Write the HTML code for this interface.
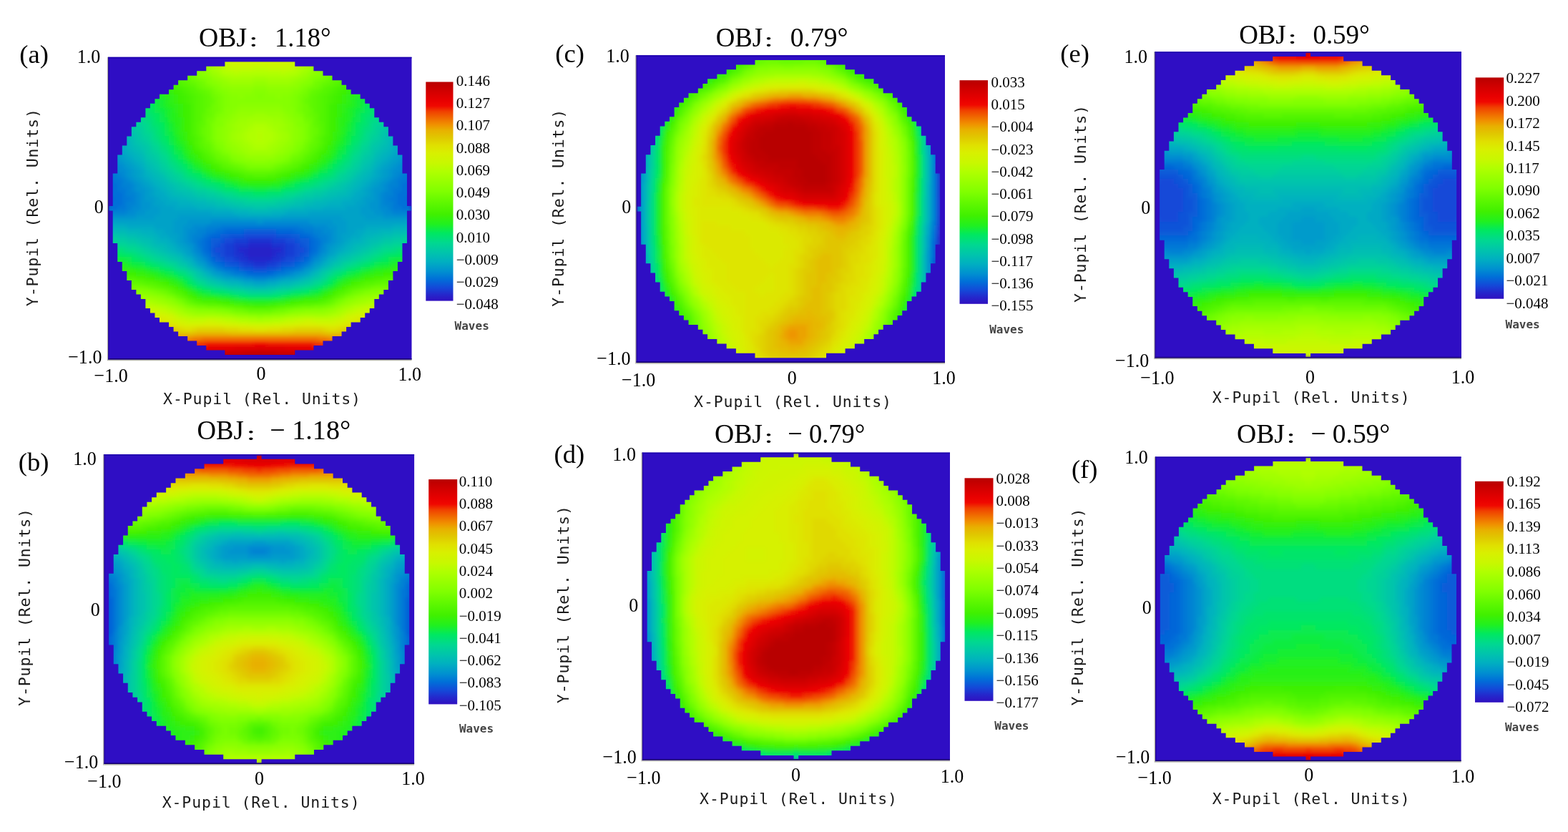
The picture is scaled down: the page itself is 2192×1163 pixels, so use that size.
<!DOCTYPE html><html><head><meta charset="utf-8"><style>html,body{margin:0;padding:0;background:#fff;}svg{display:block}</style></head><body>
<svg width="2192" height="1163" viewBox="0 0 2192 1163">
<defs><linearGradient id="cbg" x1="0" y1="0" x2="0" y2="1"><stop offset="0.000" stop-color="#b80000"/><stop offset="0.040" stop-color="#d00000"/><stop offset="0.085" stop-color="#e80000"/><stop offset="0.110" stop-color="#f00800"/><stop offset="0.135" stop-color="#f04000"/><stop offset="0.170" stop-color="#f07000"/><stop offset="0.195" stop-color="#f09000"/><stop offset="0.220" stop-color="#e8b000"/><stop offset="0.255" stop-color="#e0c800"/><stop offset="0.290" stop-color="#e0e000"/><stop offset="0.325" stop-color="#d8f000"/><stop offset="0.370" stop-color="#c8f800"/><stop offset="0.410" stop-color="#b0ff00"/><stop offset="0.455" stop-color="#98ff00"/><stop offset="0.500" stop-color="#80ff00"/><stop offset="0.550" stop-color="#60f800"/><stop offset="0.605" stop-color="#40f000"/><stop offset="0.650" stop-color="#20f020"/><stop offset="0.690" stop-color="#00e860"/><stop offset="0.735" stop-color="#00d890"/><stop offset="0.780" stop-color="#00c4ac"/><stop offset="0.820" stop-color="#00b0c0"/><stop offset="0.865" stop-color="#0090d0"/><stop offset="0.900" stop-color="#0070d8"/><stop offset="0.940" stop-color="#1448d8"/><stop offset="0.970" stop-color="#2428cc"/><stop offset="1.000" stop-color="#3010c0"/></linearGradient><filter id="bl" x="-5%" y="-5%" width="110%" height="110%"><feGaussianBlur stdDeviation="0.42"/></filter></defs>
<rect width="2192" height="1163" fill="#fff"/>
<g transform="translate(151.2,79.8) scale(6.52769,6.50462)">
<rect width="65" height="65" fill="#2f0ec4"/>
<clipPath id="cpa"><path d="M25 1H40V2H25zM21 2H44V3H21zM19 3H46V4H19zM17 4H48V5H17zM15 5H50V6H15zM14 6H51V7H14zM13 7H52V8H13zM11 8H54V9H11zM10 9H55V10H10zM9 10H56V11H9zM8 11H57V12H8zM8 12H57V13H8zM7 13H58V14H7zM6 14H59V15H6zM5 15H60V16H5zM5 16H60V17H5zM4 17H61V18H4zM4 18H61V19H4zM3 19H62V20H3zM3 20H62V21H3zM2 21H63V22H2zM2 22H63V23H2zM2 23H63V24H2zM2 24H63V25H2zM1 25H64V26H1zM1 26H64V27H1zM1 27H64V28H1zM1 28H64V29H1zM1 29H64V30H1zM1 30H64V31H1zM1 31H64V32H1zM0 32H65V33H0zM1 33H64V34H1zM1 34H64V35H1zM1 35H64V36H1zM1 36H64V37H1zM1 37H64V38H1zM1 38H64V39H1zM1 39H64V40H1zM2 40H63V41H2zM2 41H63V42H2zM2 42H63V43H2zM2 43H63V44H2zM3 44H62V45H3zM3 45H62V46H3zM4 46H61V47H4zM4 47H61V48H4zM5 48H60V49H5zM5 49H60V50H5zM6 50H59V51H6zM7 51H58V52H7zM8 52H57V53H8zM8 53H57V54H8zM9 54H56V55H9zM10 55H55V56H10zM11 56H54V57H11zM13 57H52V58H13zM14 58H51V59H14zM15 59H50V60H15zM17 60H48V61H17zM19 61H46V62H19zM21 62H44V63H21zM25 63H40V64H25z"/></clipPath>
<g clip-path="url(#cpa)"><g filter="url(#bl)" shape-rendering="crispEdges">
<path fill="#2820c8" d="M30 41h5v1h-5zM30 42h5v1h-5z"/>
<path fill="#2428cc" d="M30 40h5v1h-5zM28 41h2v1h-2zM35 41h2v1h-2zM29 42h1v1h-1zM35 42h1v1h-1zM30 43h5v1h-5z"/>
<path fill="#1f33d0" d="M30 39h5v1h-5zM27 40h3v1h-3zM35 40h3v1h-3zM27 41h1v1h-1zM37 41h1v1h-1zM27 42h2v1h-2zM36 42h2v1h-2zM28 43h2v1h-2zM35 43h2v1h-2zM31 44h3v1h-3z"/>
<path fill="#193dd4" d="M27 39h3v1h-3zM35 39h3v1h-3zM25 40h2v1h-2zM38 40h2v1h-2zM25 41h2v1h-2zM38 41h2v1h-2zM25 42h2v1h-2zM38 42h2v1h-2zM27 43h1v1h-1zM37 43h1v1h-1zM29 44h2v1h-2zM34 44h2v1h-2z"/>
<path fill="#1448d8" d="M29 38h7v1h-7zM25 39h2v1h-2zM38 39h2v1h-2zM24 40h1v1h-1zM40 40h1v1h-1zM23 41h2v1h-2zM40 41h2v1h-2zM24 42h1v1h-1zM40 42h1v1h-1zM25 43h2v1h-2zM38 43h2v1h-2zM28 44h1v1h-1zM36 44h1v1h-1zM31 45h3v1h-3z"/>
<path fill="#0f52d8" d="M26 38h3v1h-3zM36 38h3v1h-3zM24 39h1v1h-1zM40 39h1v1h-1zM23 40h1v1h-1zM41 40h1v1h-1zM22 41h1v1h-1zM42 41h1v1h-1zM23 42h1v1h-1zM41 42h1v1h-1zM24 43h1v1h-1zM40 43h1v1h-1zM26 44h2v1h-2zM37 44h2v1h-2zM29 45h2v1h-2zM34 45h2v1h-2z"/>
<path fill="#0a5cd8" d="M29 37h7v1h-7zM24 38h2v1h-2zM39 38h2v1h-2zM22 39h2v1h-2zM41 39h2v1h-2zM22 40h1v1h-1zM42 40h1v1h-1zM22 42h1v1h-1zM42 42h1v1h-1zM23 43h1v1h-1zM41 43h1v1h-1zM25 44h1v1h-1zM39 44h1v1h-1zM28 45h1v1h-1zM36 45h1v1h-1z"/>
<path fill="#0566d8" d="M0 30h1v1h-1zM64 30h1v1h-1zM25 37h4v1h-4zM36 37h4v1h-4zM22 38h2v1h-2zM41 38h2v1h-2zM21 39h1v1h-1zM43 39h1v1h-1zM21 40h1v1h-1zM43 40h1v1h-1zM21 41h1v1h-1zM43 41h1v1h-1zM22 43h1v1h-1zM42 43h1v1h-1zM24 44h1v1h-1zM40 44h1v1h-1zM27 45h1v1h-1zM37 45h1v1h-1zM30 46h5v1h-5z"/>
<path fill="#0070d8" d="M0 26h1v1h-1zM64 26h1v1h-1zM0 27h2v1h-2zM63 27h2v1h-2zM0 28h2v1h-2zM63 28h2v1h-2zM0 29h3v1h-3zM62 29h3v1h-3zM1 30h2v1h-2zM62 30h2v1h-2zM0 31h3v1h-3zM62 31h3v1h-3zM0 32h2v1h-2zM63 32h2v1h-2zM23 37h2v1h-2zM40 37h2v1h-2zM21 38h1v1h-1zM43 38h1v1h-1zM20 39h1v1h-1zM44 39h1v1h-1zM20 40h1v1h-1zM44 40h1v1h-1zM20 41h1v1h-1zM44 41h1v1h-1zM21 42h1v1h-1zM43 42h1v1h-1zM23 44h1v1h-1zM41 44h1v1h-1zM25 45h2v1h-2zM38 45h2v1h-2zM29 46h1v1h-1zM35 46h1v1h-1z"/>
<path fill="#0079d6" d="M0 24h1v1h-1zM64 24h1v1h-1zM0 25h2v1h-2zM63 25h2v1h-2zM1 26h2v1h-2zM62 26h2v1h-2zM2 27h1v1h-1zM62 27h1v1h-1zM2 28h2v1h-2zM61 28h2v1h-2zM3 29h1v1h-1zM61 29h1v1h-1zM3 30h2v1h-2zM60 30h2v1h-2zM3 31h1v1h-1zM61 31h1v1h-1zM2 32h2v1h-2zM61 32h2v1h-2zM24 36h17v1h-17zM21 37h2v1h-2zM42 37h2v1h-2zM20 38h1v1h-1zM44 38h1v1h-1zM19 39h1v1h-1zM45 39h1v1h-1zM19 40h1v1h-1zM45 40h1v1h-1zM20 42h1v1h-1zM44 42h1v1h-1zM21 43h1v1h-1zM43 43h1v1h-1zM22 44h1v1h-1zM42 44h1v1h-1zM24 45h1v1h-1zM40 45h1v1h-1zM27 46h2v1h-2zM36 46h2v1h-2z"/>
<path fill="#0082d3" d="M0 23h1v1h-1zM64 23h1v1h-1zM1 24h1v1h-1zM63 24h1v1h-1zM2 25h1v1h-1zM62 25h1v1h-1zM3 26h1v1h-1zM61 26h1v1h-1zM3 27h2v1h-2zM60 27h2v1h-2zM4 28h1v1h-1zM60 28h1v1h-1zM4 29h2v1h-2zM59 29h2v1h-2zM5 30h1v1h-1zM59 30h1v1h-1zM4 31h2v1h-2zM59 31h2v1h-2zM4 32h1v1h-1zM60 32h1v1h-1zM0 33h4v1h-4zM61 33h4v1h-4zM21 36h3v1h-3zM41 36h3v1h-3zM19 37h2v1h-2zM44 37h2v1h-2zM18 38h2v1h-2zM45 38h2v1h-2zM18 39h1v1h-1zM46 39h1v1h-1zM19 41h1v1h-1zM45 41h1v1h-1zM23 45h1v1h-1zM41 45h1v1h-1zM26 46h1v1h-1zM38 46h1v1h-1zM31 47h3v1h-3z"/>
<path fill="#008bd1" d="M0 21h1v1h-1zM64 21h1v1h-1zM0 22h2v1h-2zM63 22h2v1h-2zM1 23h2v1h-2zM62 23h2v1h-2zM2 24h2v1h-2zM61 24h2v1h-2zM3 25h1v1h-1zM61 25h1v1h-1zM4 26h1v1h-1zM60 26h1v1h-1zM5 27h1v1h-1zM59 27h1v1h-1zM5 28h1v1h-1zM59 28h1v1h-1zM6 29h1v1h-1zM58 29h1v1h-1zM6 30h1v1h-1zM58 30h1v1h-1zM6 31h1v1h-1zM58 31h1v1h-1zM5 32h2v1h-2zM58 32h2v1h-2zM4 33h2v1h-2zM59 33h2v1h-2zM22 35h10v1h-10zM33 35h10v1h-10zM18 36h3v1h-3zM44 36h3v1h-3zM17 37h2v1h-2zM46 37h2v1h-2zM17 38h1v1h-1zM47 38h1v1h-1zM17 39h1v1h-1zM47 39h1v1h-1zM18 40h1v1h-1zM46 40h1v1h-1zM18 41h1v1h-1zM46 41h1v1h-1zM19 42h1v1h-1zM45 42h1v1h-1zM20 43h1v1h-1zM44 43h1v1h-1zM21 44h1v1h-1zM43 44h1v1h-1zM25 46h1v1h-1zM39 46h1v1h-1zM29 47h2v1h-2zM34 47h2v1h-2z"/>
<path fill="#0094ce" d="M1 21h1v1h-1zM63 21h1v1h-1zM2 22h1v1h-1zM62 22h1v1h-1zM3 23h1v1h-1zM61 23h1v1h-1zM4 24h1v1h-1zM60 24h1v1h-1zM4 25h1v1h-1zM60 25h1v1h-1zM5 26h1v1h-1zM59 26h1v1h-1zM6 27h1v1h-1zM58 27h1v1h-1zM6 28h2v1h-2zM57 28h2v1h-2zM7 29h1v1h-1zM57 29h1v1h-1zM7 30h1v1h-1zM57 30h1v1h-1zM7 31h2v1h-2zM56 31h2v1h-2zM7 32h2v1h-2zM56 32h2v1h-2zM6 33h2v1h-2zM57 33h2v1h-2zM0 34h6v1h-6zM59 34h6v1h-6zM17 35h5v1h-5zM32 35h1v1h-1zM43 35h5v1h-5zM16 36h2v1h-2zM47 36h2v1h-2zM16 37h1v1h-1zM48 37h1v1h-1zM16 38h1v1h-1zM48 38h1v1h-1zM16 39h1v1h-1zM48 39h1v1h-1zM17 40h1v1h-1zM47 40h1v1h-1zM18 42h1v1h-1zM46 42h1v1h-1zM19 43h1v1h-1zM45 43h1v1h-1zM22 45h1v1h-1zM42 45h1v1h-1zM24 46h1v1h-1zM40 46h1v1h-1zM28 47h1v1h-1zM36 47h1v1h-1z"/>
<path fill="#009bcb" d="M1 20h1v1h-1zM63 20h1v1h-1zM2 21h1v1h-1zM62 21h1v1h-1zM3 22h1v1h-1zM61 22h1v1h-1zM4 23h1v1h-1zM60 23h1v1h-1zM5 24h1v1h-1zM59 24h1v1h-1zM5 25h1v1h-1zM59 25h1v1h-1zM6 26h1v1h-1zM58 26h1v1h-1zM7 27h1v1h-1zM57 27h1v1h-1zM8 28h1v1h-1zM56 28h1v1h-1zM8 29h1v1h-1zM56 29h1v1h-1zM8 30h2v1h-2zM55 30h2v1h-2zM9 31h1v1h-1zM55 31h1v1h-1zM9 32h2v1h-2zM54 32h2v1h-2zM8 33h3v1h-3zM54 33h3v1h-3zM6 34h4v1h-4zM15 34h13v1h-13zM37 34h13v1h-13zM55 34h4v1h-4zM14 35h3v1h-3zM48 35h3v1h-3zM14 36h2v1h-2zM49 36h2v1h-2zM14 37h2v1h-2zM49 37h2v1h-2zM15 38h1v1h-1zM49 38h1v1h-1zM15 39h1v1h-1zM49 39h1v1h-1zM16 40h1v1h-1zM48 40h1v1h-1zM17 41h1v1h-1zM47 41h1v1h-1zM20 44h1v1h-1zM44 44h1v1h-1zM21 45h1v1h-1zM43 45h1v1h-1zM23 46h1v1h-1zM41 46h1v1h-1zM27 47h1v1h-1zM37 47h1v1h-1z"/>
<path fill="#00a2c7" d="M1 19h1v1h-1zM63 19h1v1h-1zM2 20h1v1h-1zM62 20h1v1h-1zM3 21h1v1h-1zM61 21h1v1h-1zM4 22h1v1h-1zM60 22h1v1h-1zM5 23h1v1h-1zM59 23h1v1h-1zM6 24h1v1h-1zM58 24h1v1h-1zM6 25h1v1h-1zM58 25h1v1h-1zM7 26h1v1h-1zM57 26h1v1h-1zM8 27h1v1h-1zM56 27h1v1h-1zM9 28h1v1h-1zM55 28h1v1h-1zM9 29h1v1h-1zM55 29h1v1h-1zM10 30h1v1h-1zM54 30h1v1h-1zM10 31h2v1h-2zM53 31h2v1h-2zM11 32h3v1h-3zM51 32h3v1h-3zM11 33h11v1h-11zM43 33h11v1h-11zM10 34h5v1h-5zM28 34h9v1h-9zM50 34h5v1h-5zM0 35h14v1h-14zM51 35h14v1h-14zM10 36h4v1h-4zM51 36h4v1h-4zM12 37h2v1h-2zM51 37h2v1h-2zM13 38h2v1h-2zM50 38h2v1h-2zM14 39h1v1h-1zM50 39h1v1h-1zM15 40h1v1h-1zM49 40h1v1h-1zM16 41h1v1h-1zM48 41h1v1h-1zM17 42h1v1h-1zM47 42h1v1h-1zM18 43h1v1h-1zM46 43h1v1h-1zM19 44h1v1h-1zM45 44h1v1h-1zM22 46h1v1h-1zM42 46h1v1h-1zM25 47h2v1h-2zM38 47h2v1h-2zM31 48h3v1h-3z"/>
<path fill="#00a9c4" d="M2 18h1v1h-1zM62 18h1v1h-1zM2 19h2v1h-2zM61 19h2v1h-2zM3 20h1v1h-1zM61 20h1v1h-1zM4 21h1v1h-1zM60 21h1v1h-1zM5 22h1v1h-1zM59 22h1v1h-1zM6 23h1v1h-1zM58 23h1v1h-1zM7 24h1v1h-1zM57 24h1v1h-1zM7 25h1v1h-1zM57 25h1v1h-1zM8 26h1v1h-1zM56 26h1v1h-1zM9 27h1v1h-1zM55 27h1v1h-1zM10 28h1v1h-1zM54 28h1v1h-1zM10 29h2v1h-2zM53 29h2v1h-2zM11 30h2v1h-2zM52 30h2v1h-2zM12 31h3v1h-3zM50 31h3v1h-3zM14 32h5v1h-5zM46 32h5v1h-5zM22 33h5v1h-5zM38 33h5v1h-5zM4 36h6v1h-6zM55 36h6v1h-6zM10 37h2v1h-2zM53 37h2v1h-2zM11 38h2v1h-2zM52 38h2v1h-2zM13 39h1v1h-1zM51 39h1v1h-1zM14 40h1v1h-1zM50 40h1v1h-1zM15 41h1v1h-1zM49 41h1v1h-1zM16 42h1v1h-1zM48 42h1v1h-1zM20 45h1v1h-1zM44 45h1v1h-1zM24 47h1v1h-1zM40 47h1v1h-1zM29 48h2v1h-2zM34 48h2v1h-2z"/>
<path fill="#00b0c0" d="M2 17h1v1h-1zM62 17h1v1h-1zM3 18h1v1h-1zM61 18h1v1h-1zM4 20h1v1h-1zM60 20h1v1h-1zM5 21h1v1h-1zM59 21h1v1h-1zM6 22h1v1h-1zM58 22h1v1h-1zM7 23h1v1h-1zM57 23h1v1h-1zM8 25h1v1h-1zM56 25h1v1h-1zM9 26h1v1h-1zM55 26h1v1h-1zM10 27h1v1h-1zM54 27h1v1h-1zM11 28h1v1h-1zM53 28h1v1h-1zM12 29h1v1h-1zM52 29h1v1h-1zM13 30h2v1h-2zM50 30h2v1h-2zM15 31h3v1h-3zM47 31h3v1h-3zM19 32h4v1h-4zM42 32h4v1h-4zM27 33h3v1h-3zM35 33h3v1h-3zM0 36h4v1h-4zM61 36h4v1h-4zM7 37h3v1h-3zM55 37h3v1h-3zM10 38h1v1h-1zM54 38h1v1h-1zM11 39h2v1h-2zM52 39h2v1h-2zM13 40h1v1h-1zM51 40h1v1h-1zM14 41h1v1h-1zM50 41h1v1h-1zM17 43h1v1h-1zM47 43h1v1h-1zM18 44h1v1h-1zM46 44h1v1h-1zM21 46h1v1h-1zM43 46h1v1h-1zM23 47h1v1h-1zM41 47h1v1h-1zM28 48h1v1h-1zM36 48h1v1h-1z"/>
<path fill="#00b5bb" d="M3 17h1v1h-1zM61 17h1v1h-1zM4 18h1v1h-1zM60 18h1v1h-1zM4 19h1v1h-1zM60 19h1v1h-1zM5 20h1v1h-1zM59 20h1v1h-1zM6 21h1v1h-1zM58 21h1v1h-1zM7 22h1v1h-1zM57 22h1v1h-1zM8 24h1v1h-1zM56 24h1v1h-1zM9 25h1v1h-1zM55 25h1v1h-1zM10 26h1v1h-1zM54 26h1v1h-1zM11 27h1v1h-1zM53 27h1v1h-1zM12 28h1v1h-1zM52 28h1v1h-1zM13 29h1v1h-1zM51 29h1v1h-1zM15 30h2v1h-2zM48 30h2v1h-2zM18 31h3v1h-3zM44 31h3v1h-3zM23 32h3v1h-3zM39 32h3v1h-3zM30 33h5v1h-5zM4 37h3v1h-3zM58 37h3v1h-3zM8 38h2v1h-2zM55 38h2v1h-2zM10 39h1v1h-1zM54 39h1v1h-1zM12 40h1v1h-1zM52 40h1v1h-1zM13 41h1v1h-1zM51 41h1v1h-1zM15 42h1v1h-1zM49 42h1v1h-1zM16 43h1v1h-1zM48 43h1v1h-1zM19 45h1v1h-1zM45 45h1v1h-1zM26 48h2v1h-2zM37 48h2v1h-2z"/>
<path fill="#00bab6" d="M3 16h1v1h-1zM61 16h1v1h-1zM4 17h1v1h-1zM60 17h1v1h-1zM5 19h1v1h-1zM59 19h1v1h-1zM6 20h1v1h-1zM58 20h1v1h-1zM7 21h1v1h-1zM57 21h1v1h-1zM8 23h1v1h-1zM56 23h1v1h-1zM9 24h1v1h-1zM55 24h1v1h-1zM10 25h1v1h-1zM54 25h1v1h-1zM11 26h1v1h-1zM53 26h1v1h-1zM12 27h1v1h-1zM52 27h1v1h-1zM13 28h1v1h-1zM51 28h1v1h-1zM14 29h2v1h-2zM49 29h2v1h-2zM17 30h2v1h-2zM46 30h2v1h-2zM21 31h2v1h-2zM42 31h2v1h-2zM26 32h2v1h-2zM37 32h2v1h-2zM0 37h4v1h-4zM61 37h4v1h-4zM6 38h2v1h-2zM57 38h2v1h-2zM9 39h1v1h-1zM55 39h1v1h-1zM10 40h2v1h-2zM53 40h2v1h-2zM12 41h1v1h-1zM52 41h1v1h-1zM14 42h1v1h-1zM50 42h1v1h-1zM17 44h1v1h-1zM47 44h1v1h-1zM20 46h1v1h-1zM44 46h1v1h-1zM22 47h1v1h-1zM42 47h1v1h-1zM25 48h1v1h-1zM39 48h1v1h-1zM31 49h3v1h-3z"/>
<path fill="#00bfb1" d="M3 15h1v1h-1zM61 15h1v1h-1zM4 16h1v1h-1zM60 16h1v1h-1zM5 17h1v1h-1zM59 17h1v1h-1zM5 18h1v1h-1zM59 18h1v1h-1zM6 19h1v1h-1zM58 19h1v1h-1zM7 20h1v1h-1zM57 20h1v1h-1zM8 22h1v1h-1zM56 22h1v1h-1zM9 23h1v1h-1zM55 23h1v1h-1zM10 24h1v1h-1zM54 24h1v1h-1zM11 25h1v1h-1zM53 25h1v1h-1zM12 26h1v1h-1zM52 26h1v1h-1zM13 27h1v1h-1zM51 27h1v1h-1zM14 28h1v1h-1zM50 28h1v1h-1zM16 29h2v1h-2zM47 29h2v1h-2zM19 30h2v1h-2zM44 30h2v1h-2zM23 31h2v1h-2zM40 31h2v1h-2zM28 32h3v1h-3zM34 32h3v1h-3zM4 38h2v1h-2zM59 38h2v1h-2zM7 39h2v1h-2zM56 39h2v1h-2zM9 40h1v1h-1zM55 40h1v1h-1zM11 41h1v1h-1zM53 41h1v1h-1zM13 42h1v1h-1zM51 42h1v1h-1zM15 43h1v1h-1zM49 43h1v1h-1zM18 45h1v1h-1zM46 45h1v1h-1zM21 47h1v1h-1zM43 47h1v1h-1zM24 48h1v1h-1zM40 48h1v1h-1zM29 49h2v1h-2zM34 49h2v1h-2z"/>
<path fill="#00c4ac" d="M4 15h1v1h-1zM60 15h1v1h-1zM5 16h1v1h-1zM59 16h1v1h-1zM6 18h1v1h-1zM58 18h1v1h-1zM7 19h1v1h-1zM57 19h1v1h-1zM8 21h1v1h-1zM56 21h1v1h-1zM9 22h1v1h-1zM55 22h1v1h-1zM10 23h1v1h-1zM54 23h1v1h-1zM14 27h1v1h-1zM50 27h1v1h-1zM15 28h2v1h-2zM48 28h2v1h-2zM18 29h1v1h-1zM46 29h1v1h-1zM21 30h2v1h-2zM42 30h2v1h-2zM25 31h2v1h-2zM38 31h2v1h-2zM31 32h3v1h-3zM2 38h2v1h-2zM61 38h2v1h-2zM6 39h1v1h-1zM58 39h1v1h-1zM8 40h1v1h-1zM56 40h1v1h-1zM10 41h1v1h-1zM54 41h1v1h-1zM12 42h1v1h-1zM52 42h1v1h-1zM14 43h1v1h-1zM50 43h1v1h-1zM16 44h1v1h-1zM48 44h1v1h-1zM19 46h1v1h-1zM45 46h1v1h-1zM23 48h1v1h-1zM41 48h1v1h-1zM28 49h1v1h-1zM36 49h1v1h-1z"/>
<path fill="#00c8a6" d="M4 14h1v1h-1zM60 14h1v1h-1zM5 15h1v1h-1zM59 15h1v1h-1zM6 16h1v1h-1zM58 16h1v1h-1zM6 17h1v1h-1zM58 17h1v1h-1zM7 18h1v1h-1zM57 18h1v1h-1zM8 19h1v1h-1zM56 19h1v1h-1zM8 20h1v1h-1zM56 20h1v1h-1zM9 21h1v1h-1zM55 21h1v1h-1zM10 22h1v1h-1zM54 22h1v1h-1zM11 24h1v1h-1zM53 24h1v1h-1zM12 25h1v1h-1zM52 25h1v1h-1zM13 26h1v1h-1zM51 26h1v1h-1zM15 27h1v1h-1zM49 27h1v1h-1zM17 28h1v1h-1zM47 28h1v1h-1zM19 29h2v1h-2zM44 29h2v1h-2zM23 30h2v1h-2zM40 30h2v1h-2zM27 31h2v1h-2zM36 31h2v1h-2zM0 38h2v1h-2zM63 38h2v1h-2zM4 39h2v1h-2zM59 39h2v1h-2zM7 40h1v1h-1zM57 40h1v1h-1zM9 41h1v1h-1zM55 41h1v1h-1zM11 42h1v1h-1zM53 42h1v1h-1zM13 43h1v1h-1zM51 43h1v1h-1zM15 44h1v1h-1zM49 44h1v1h-1zM17 45h1v1h-1zM47 45h1v1h-1zM20 47h1v1h-1zM44 47h1v1h-1zM22 48h1v1h-1zM42 48h1v1h-1zM26 49h2v1h-2zM37 49h2v1h-2z"/>
<path fill="#00cda0" d="M5 14h1v1h-1zM59 14h1v1h-1zM6 15h1v1h-1zM58 15h1v1h-1zM7 17h1v1h-1zM57 17h1v1h-1zM8 18h1v1h-1zM56 18h1v1h-1zM9 20h1v1h-1zM55 20h1v1h-1zM10 21h1v1h-1zM54 21h1v1h-1zM11 23h1v1h-1zM53 23h1v1h-1zM12 24h1v1h-1zM52 24h1v1h-1zM13 25h1v1h-1zM51 25h1v1h-1zM14 26h1v1h-1zM50 26h1v1h-1zM16 27h1v1h-1zM48 27h1v1h-1zM18 28h1v1h-1zM46 28h1v1h-1zM21 29h2v1h-2zM42 29h2v1h-2zM25 30h1v1h-1zM39 30h1v1h-1zM29 31h7v1h-7zM2 39h2v1h-2zM61 39h2v1h-2zM6 40h1v1h-1zM58 40h1v1h-1zM8 41h1v1h-1zM56 41h1v1h-1zM10 42h1v1h-1zM54 42h1v1h-1zM12 43h1v1h-1zM52 43h1v1h-1zM18 46h1v1h-1zM46 46h1v1h-1zM19 47h1v1h-1zM45 47h1v1h-1zM21 48h1v1h-1zM43 48h1v1h-1zM25 49h1v1h-1zM39 49h1v1h-1z"/>
<path fill="#00d199" d="M5 13h1v1h-1zM59 13h1v1h-1zM6 14h1v1h-1zM58 14h1v1h-1zM7 15h1v1h-1zM57 15h1v1h-1zM7 16h1v1h-1zM57 16h1v1h-1zM8 17h1v1h-1zM56 17h1v1h-1zM9 19h1v1h-1zM55 19h1v1h-1zM10 20h1v1h-1zM54 20h1v1h-1zM11 22h1v1h-1zM53 22h1v1h-1zM12 23h1v1h-1zM52 23h1v1h-1zM13 24h1v1h-1zM51 24h1v1h-1zM14 25h1v1h-1zM50 25h1v1h-1zM15 26h1v1h-1zM49 26h1v1h-1zM17 27h1v1h-1zM47 27h1v1h-1zM19 28h2v1h-2zM44 28h2v1h-2zM23 29h1v1h-1zM41 29h1v1h-1zM26 30h2v1h-2zM37 30h2v1h-2zM0 39h2v1h-2zM63 39h2v1h-2zM4 40h2v1h-2zM59 40h2v1h-2zM7 41h1v1h-1zM57 41h1v1h-1zM9 42h1v1h-1zM55 42h1v1h-1zM11 43h1v1h-1zM53 43h1v1h-1zM14 44h1v1h-1zM50 44h1v1h-1zM16 45h1v1h-1zM48 45h1v1h-1zM24 49h1v1h-1zM40 49h1v1h-1zM30 50h5v1h-5z"/>
<path fill="#00d693" d="M6 13h1v1h-1zM58 13h1v1h-1zM7 14h1v1h-1zM57 14h1v1h-1zM8 16h1v1h-1zM56 16h1v1h-1zM9 18h1v1h-1zM55 18h1v1h-1zM10 19h1v1h-1zM54 19h1v1h-1zM11 21h1v1h-1zM53 21h1v1h-1zM12 22h1v1h-1zM52 22h1v1h-1zM15 25h1v1h-1zM49 25h1v1h-1zM16 26h1v1h-1zM48 26h1v1h-1zM18 27h1v1h-1zM46 27h1v1h-1zM21 28h1v1h-1zM43 28h1v1h-1zM24 29h1v1h-1zM40 29h1v1h-1zM28 30h2v1h-2zM35 30h2v1h-2zM2 40h2v1h-2zM61 40h2v1h-2zM6 41h1v1h-1zM58 41h1v1h-1zM8 42h1v1h-1zM56 42h1v1h-1zM10 43h1v1h-1zM54 43h1v1h-1zM13 44h1v1h-1zM51 44h1v1h-1zM15 45h1v1h-1zM49 45h1v1h-1zM17 46h1v1h-1zM47 46h1v1h-1zM18 47h1v1h-1zM46 47h1v1h-1zM20 48h1v1h-1zM44 48h1v1h-1zM23 49h1v1h-1zM41 49h1v1h-1zM29 50h1v1h-1zM35 50h1v1h-1z"/>
<path fill="#00da8b" d="M6 11h1v1h-1zM58 11h1v1h-1zM6 12h1v1h-1zM58 12h1v1h-1zM7 13h1v1h-1zM57 13h1v1h-1zM8 14h1v1h-1zM56 14h1v1h-1zM8 15h1v1h-1zM56 15h1v1h-1zM9 16h1v1h-1zM55 16h1v1h-1zM9 17h1v1h-1zM55 17h1v1h-1zM10 18h1v1h-1zM54 18h1v1h-1zM11 20h1v1h-1zM53 20h1v1h-1zM12 21h1v1h-1zM52 21h1v1h-1zM13 23h1v1h-1zM51 23h1v1h-1zM14 24h1v1h-1zM50 24h1v1h-1zM17 26h1v1h-1zM47 26h1v1h-1zM19 27h1v1h-1zM45 27h1v1h-1zM22 28h1v1h-1zM42 28h1v1h-1zM25 29h2v1h-2zM38 29h2v1h-2zM30 30h5v1h-5zM0 40h2v1h-2zM63 40h2v1h-2zM4 41h2v1h-2zM59 41h2v1h-2zM7 42h1v1h-1zM57 42h1v1h-1zM9 43h1v1h-1zM55 43h1v1h-1zM12 44h1v1h-1zM52 44h1v1h-1zM14 45h1v1h-1zM50 45h1v1h-1zM19 48h1v1h-1zM45 48h1v1h-1zM22 49h1v1h-1zM42 49h1v1h-1zM27 50h2v1h-2zM36 50h2v1h-2z"/>
<path fill="#00dd80" d="M7 11h1v1h-1zM57 11h1v1h-1zM7 12h1v1h-1zM57 12h1v1h-1zM8 13h1v1h-1zM56 13h1v1h-1zM9 15h1v1h-1zM55 15h1v1h-1zM10 17h1v1h-1zM54 17h1v1h-1zM11 19h1v1h-1zM53 19h1v1h-1zM12 20h1v1h-1zM52 20h1v1h-1zM13 22h1v1h-1zM51 22h1v1h-1zM14 23h1v1h-1zM50 23h1v1h-1zM15 24h1v1h-1zM49 24h1v1h-1zM16 25h1v1h-1zM48 25h1v1h-1zM18 26h1v1h-1zM46 26h1v1h-1zM20 27h1v1h-1zM44 27h1v1h-1zM23 28h1v1h-1zM41 28h1v1h-1zM27 29h1v1h-1zM37 29h1v1h-1zM3 41h1v1h-1zM61 41h1v1h-1zM6 42h1v1h-1zM58 42h1v1h-1zM8 43h1v1h-1zM56 43h1v1h-1zM11 44h1v1h-1zM53 44h1v1h-1zM16 46h1v1h-1zM48 46h1v1h-1zM21 49h1v1h-1zM43 49h1v1h-1zM26 50h1v1h-1zM38 50h1v1h-1z"/>
<path fill="#00e175" d="M7 10h1v1h-1zM57 10h1v1h-1zM8 12h1v1h-1zM56 12h1v1h-1zM9 13h1v1h-1zM55 13h1v1h-1zM9 14h1v1h-1zM55 14h1v1h-1zM10 15h1v1h-1zM54 15h1v1h-1zM10 16h1v1h-1zM54 16h1v1h-1zM11 18h1v1h-1zM53 18h1v1h-1zM12 19h1v1h-1zM52 19h1v1h-1zM13 21h1v1h-1zM51 21h1v1h-1zM14 22h1v1h-1zM50 22h1v1h-1zM15 23h1v1h-1zM49 23h1v1h-1zM16 24h1v1h-1zM48 24h1v1h-1zM17 25h1v1h-1zM47 25h1v1h-1zM19 26h1v1h-1zM45 26h1v1h-1zM21 27h2v1h-2zM42 27h2v1h-2zM24 28h1v1h-1zM40 28h1v1h-1zM28 29h3v1h-3zM34 29h3v1h-3zM1 41h2v1h-2zM62 41h2v1h-2zM5 42h1v1h-1zM59 42h1v1h-1zM7 43h1v1h-1zM57 43h1v1h-1zM10 44h1v1h-1zM54 44h1v1h-1zM13 45h1v1h-1zM51 45h1v1h-1zM15 46h1v1h-1zM49 46h1v1h-1zM17 47h1v1h-1zM47 47h1v1h-1zM18 48h1v1h-1zM46 48h1v1h-1zM20 49h1v1h-1zM44 49h1v1h-1zM25 50h1v1h-1zM39 50h1v1h-1z"/>
<path fill="#00e46b" d="M8 10h1v1h-1zM56 10h1v1h-1zM8 11h1v1h-1zM56 11h1v1h-1zM9 12h1v1h-1zM55 12h1v1h-1zM10 14h1v1h-1zM54 14h1v1h-1zM11 16h1v1h-1zM53 16h1v1h-1zM11 17h1v1h-1zM53 17h1v1h-1zM12 18h1v1h-1zM52 18h1v1h-1zM13 20h1v1h-1zM51 20h1v1h-1zM18 25h1v1h-1zM46 25h1v1h-1zM20 26h1v1h-1zM44 26h1v1h-1zM23 27h1v1h-1zM41 27h1v1h-1zM25 28h2v1h-2zM38 28h2v1h-2zM31 29h3v1h-3zM0 41h1v1h-1zM64 41h1v1h-1zM3 42h2v1h-2zM60 42h2v1h-2zM6 43h1v1h-1zM58 43h1v1h-1zM9 44h1v1h-1zM55 44h1v1h-1zM12 45h1v1h-1zM52 45h1v1h-1zM23 50h2v1h-2zM40 50h2v1h-2zM30 51h5v1h-5z"/>
<path fill="#00e860" d="M8 9h1v1h-1zM56 9h1v1h-1zM9 10h1v1h-1zM55 10h1v1h-1zM9 11h1v1h-1zM55 11h1v1h-1zM10 12h1v1h-1zM54 12h1v1h-1zM10 13h1v1h-1zM54 13h1v1h-1zM11 14h1v1h-1zM53 14h1v1h-1zM11 15h1v1h-1zM53 15h1v1h-1zM12 17h1v1h-1zM52 17h1v1h-1zM13 19h1v1h-1zM51 19h1v1h-1zM14 21h1v1h-1zM50 21h1v1h-1zM15 22h1v1h-1zM49 22h1v1h-1zM16 23h1v1h-1zM48 23h1v1h-1zM17 24h1v1h-1zM47 24h1v1h-1zM19 25h1v1h-1zM45 25h1v1h-1zM21 26h1v1h-1zM43 26h1v1h-1zM24 27h1v1h-1zM40 27h1v1h-1zM27 28h1v1h-1zM37 28h1v1h-1zM1 42h2v1h-2zM62 42h2v1h-2zM5 43h1v1h-1zM59 43h1v1h-1zM8 44h1v1h-1zM56 44h1v1h-1zM11 45h1v1h-1zM53 45h1v1h-1zM14 46h1v1h-1zM50 46h1v1h-1zM16 47h1v1h-1zM48 47h1v1h-1zM17 48h1v1h-1zM47 48h1v1h-1zM19 49h1v1h-1zM45 49h1v1h-1zM22 50h1v1h-1zM42 50h1v1h-1zM28 51h2v1h-2zM35 51h2v1h-2z"/>
<path fill="#08ea50" d="M9 9h1v1h-1zM55 9h1v1h-1zM10 11h1v1h-1zM54 11h1v1h-1zM11 12h1v1h-1zM53 12h1v1h-1zM11 13h1v1h-1zM53 13h1v1h-1zM12 15h1v1h-1zM52 15h1v1h-1zM12 16h1v1h-1zM52 16h1v1h-1zM13 18h1v1h-1zM51 18h1v1h-1zM14 20h1v1h-1zM50 20h1v1h-1zM15 21h1v1h-1zM49 21h1v1h-1zM16 22h1v1h-1zM48 22h1v1h-1zM17 23h1v1h-1zM47 23h1v1h-1zM18 24h1v1h-1zM46 24h1v1h-1zM20 25h1v1h-1zM44 25h1v1h-1zM22 26h1v1h-1zM42 26h1v1h-1zM25 27h1v1h-1zM39 27h1v1h-1zM28 28h3v1h-3zM34 28h3v1h-3zM0 42h1v1h-1zM64 42h1v1h-1zM4 43h1v1h-1zM60 43h1v1h-1zM7 44h1v1h-1zM57 44h1v1h-1zM10 45h1v1h-1zM54 45h1v1h-1zM13 46h1v1h-1zM51 46h1v1h-1zM15 47h1v1h-1zM49 47h1v1h-1zM18 49h1v1h-1zM46 49h1v1h-1zM21 50h1v1h-1zM43 50h1v1h-1zM27 51h1v1h-1zM37 51h1v1h-1z"/>
<path fill="#10ec40" d="M9 8h1v1h-1zM55 8h1v1h-1zM10 9h1v1h-1zM54 9h1v1h-1zM10 10h1v1h-1zM54 10h1v1h-1zM11 11h1v1h-1zM53 11h1v1h-1zM12 13h1v1h-1zM52 13h1v1h-1zM12 14h1v1h-1zM52 14h1v1h-1zM13 16h1v1h-1zM51 16h1v1h-1zM13 17h1v1h-1zM51 17h1v1h-1zM14 19h1v1h-1zM50 19h1v1h-1zM15 20h1v1h-1zM49 20h1v1h-1zM19 24h1v1h-1zM45 24h1v1h-1zM23 26h1v1h-1zM41 26h1v1h-1zM26 27h1v1h-1zM38 27h1v1h-1zM31 28h3v1h-3zM2 43h2v1h-2zM61 43h2v1h-2zM5 44h2v1h-2zM58 44h2v1h-2zM9 45h1v1h-1zM55 45h1v1h-1zM12 46h1v1h-1zM52 46h1v1h-1zM16 48h1v1h-1zM48 48h1v1h-1zM20 50h1v1h-1zM44 50h1v1h-1zM26 51h1v1h-1zM38 51h1v1h-1z"/>
<path fill="#18ee30" d="M10 8h1v1h-1zM54 8h1v1h-1zM11 9h1v1h-1zM53 9h1v1h-1zM11 10h1v1h-1zM53 10h1v1h-1zM12 11h1v1h-1zM52 11h1v1h-1zM12 12h1v1h-1zM52 12h1v1h-1zM13 14h1v1h-1zM51 14h1v1h-1zM13 15h1v1h-1zM51 15h1v1h-1zM14 17h1v1h-1zM50 17h1v1h-1zM14 18h1v1h-1zM50 18h1v1h-1zM15 19h1v1h-1zM49 19h1v1h-1zM16 21h1v1h-1zM48 21h1v1h-1zM17 22h1v1h-1zM47 22h1v1h-1zM18 23h1v1h-1zM46 23h1v1h-1zM21 25h1v1h-1zM43 25h1v1h-1zM24 26h1v1h-1zM40 26h1v1h-1zM27 27h1v1h-1zM37 27h1v1h-1zM0 43h2v1h-2zM63 43h2v1h-2zM4 44h1v1h-1zM60 44h1v1h-1zM8 45h1v1h-1zM56 45h1v1h-1zM11 46h1v1h-1zM53 46h1v1h-1zM14 47h1v1h-1zM50 47h1v1h-1zM17 49h1v1h-1zM47 49h1v1h-1zM19 50h1v1h-1zM45 50h1v1h-1zM24 51h2v1h-2zM39 51h2v1h-2z"/>
<path fill="#20f020" d="M10 7h1v1h-1zM54 7h1v1h-1zM11 8h1v1h-1zM53 8h1v1h-1zM12 9h1v1h-1zM52 9h1v1h-1zM12 10h1v1h-1zM52 10h1v1h-1zM13 11h1v1h-1zM51 11h1v1h-1zM13 12h1v1h-1zM51 12h1v1h-1zM13 13h1v1h-1zM51 13h1v1h-1zM14 15h1v1h-1zM50 15h1v1h-1zM14 16h1v1h-1zM50 16h1v1h-1zM15 18h1v1h-1zM49 18h1v1h-1zM16 20h1v1h-1zM48 20h1v1h-1zM19 23h1v1h-1zM45 23h1v1h-1zM20 24h1v1h-1zM44 24h1v1h-1zM22 25h1v1h-1zM42 25h1v1h-1zM25 26h1v1h-1zM39 26h1v1h-1zM28 27h2v1h-2zM35 27h2v1h-2zM3 44h1v1h-1zM61 44h1v1h-1zM6 45h2v1h-2zM57 45h2v1h-2zM10 46h1v1h-1zM54 46h1v1h-1zM13 47h1v1h-1zM51 47h1v1h-1zM15 48h1v1h-1zM49 48h1v1h-1zM23 51h1v1h-1zM41 51h1v1h-1zM30 52h5v1h-5z"/>
<path fill="#27f019" d="M11 7h1v1h-1zM53 7h1v1h-1zM12 8h1v1h-1zM52 8h1v1h-1zM13 10h1v1h-1zM51 10h1v1h-1zM14 12h1v1h-1zM50 12h1v1h-1zM14 13h1v1h-1zM50 13h1v1h-1zM14 14h1v1h-1zM50 14h1v1h-1zM15 17h1v1h-1zM49 17h1v1h-1zM16 19h1v1h-1zM48 19h1v1h-1zM17 21h1v1h-1zM47 21h1v1h-1zM18 22h1v1h-1zM46 22h1v1h-1zM21 24h1v1h-1zM43 24h1v1h-1zM23 25h1v1h-1zM41 25h1v1h-1zM26 26h1v1h-1zM38 26h1v1h-1zM30 27h5v1h-5zM1 44h2v1h-2zM62 44h2v1h-2zM5 45h1v1h-1zM59 45h1v1h-1zM9 46h1v1h-1zM55 46h1v1h-1zM12 47h1v1h-1zM52 47h1v1h-1zM16 49h1v1h-1zM48 49h1v1h-1zM18 50h1v1h-1zM46 50h1v1h-1zM21 51h2v1h-2zM42 51h2v1h-2zM29 52h1v1h-1zM35 52h1v1h-1z"/>
<path fill="#2ef012" d="M11 6h1v1h-1zM53 6h1v1h-1zM12 7h1v1h-1zM52 7h1v1h-1zM13 8h1v1h-1zM51 8h1v1h-1zM13 9h1v1h-1zM51 9h1v1h-1zM14 10h1v1h-1zM50 10h1v1h-1zM14 11h1v1h-1zM50 11h1v1h-1zM15 13h1v1h-1zM49 13h1v1h-1zM15 14h1v1h-1zM49 14h1v1h-1zM15 15h1v1h-1zM49 15h1v1h-1zM15 16h1v1h-1zM49 16h1v1h-1zM16 18h1v1h-1zM48 18h1v1h-1zM17 20h1v1h-1zM47 20h1v1h-1zM18 21h1v1h-1zM46 21h1v1h-1zM19 22h1v1h-1zM45 22h1v1h-1zM20 23h1v1h-1zM44 23h1v1h-1zM24 25h1v1h-1zM40 25h1v1h-1zM27 26h1v1h-1zM37 26h1v1h-1zM3 45h2v1h-2zM60 45h2v1h-2zM8 46h1v1h-1zM56 46h1v1h-1zM11 47h1v1h-1zM53 47h1v1h-1zM14 48h1v1h-1zM50 48h1v1h-1zM20 51h1v1h-1zM44 51h1v1h-1zM27 52h2v1h-2zM36 52h2v1h-2z"/>
<path fill="#35f00b" d="M12 6h1v1h-1zM52 6h1v1h-1zM13 7h1v1h-1zM51 7h1v1h-1zM14 8h1v1h-1zM50 8h1v1h-1zM14 9h1v1h-1zM50 9h1v1h-1zM15 10h1v1h-1zM49 10h1v1h-1zM15 11h1v1h-1zM49 11h1v1h-1zM15 12h1v1h-1zM49 12h1v1h-1zM16 16h1v1h-1zM48 16h1v1h-1zM16 17h1v1h-1zM48 17h1v1h-1zM17 19h1v1h-1zM47 19h1v1h-1zM21 23h1v1h-1zM43 23h1v1h-1zM22 24h1v1h-1zM42 24h1v1h-1zM25 25h1v1h-1zM39 25h1v1h-1zM28 26h1v1h-1zM36 26h1v1h-1zM2 45h1v1h-1zM62 45h1v1h-1zM6 46h2v1h-2zM57 46h2v1h-2zM10 47h1v1h-1zM54 47h1v1h-1zM13 48h1v1h-1zM51 48h1v1h-1zM15 49h1v1h-1zM49 49h1v1h-1zM17 50h1v1h-1zM47 50h1v1h-1zM19 51h1v1h-1zM45 51h1v1h-1zM26 52h1v1h-1zM38 52h1v1h-1z"/>
<path fill="#3cf004" d="M13 6h1v1h-1zM51 6h1v1h-1zM14 7h1v1h-1zM50 7h1v1h-1zM15 8h1v1h-1zM49 8h1v1h-1zM15 9h1v1h-1zM49 9h1v1h-1zM16 10h1v1h-1zM48 10h1v1h-1zM16 11h1v1h-1zM48 11h1v1h-1zM16 12h1v1h-1zM48 12h1v1h-1zM16 13h1v1h-1zM48 13h1v1h-1zM16 14h1v1h-1zM48 14h1v1h-1zM16 15h1v1h-1zM48 15h1v1h-1zM17 18h1v1h-1zM47 18h1v1h-1zM18 20h1v1h-1zM46 20h1v1h-1zM19 21h1v1h-1zM45 21h1v1h-1zM20 22h1v1h-1zM44 22h1v1h-1zM23 24h1v1h-1zM41 24h1v1h-1zM26 25h1v1h-1zM38 25h1v1h-1zM29 26h7v1h-7zM1 45h1v1h-1zM63 45h1v1h-1zM4 46h2v1h-2zM59 46h2v1h-2zM9 47h1v1h-1zM55 47h1v1h-1zM18 51h1v1h-1zM46 51h1v1h-1zM25 52h1v1h-1zM39 52h1v1h-1z"/>
<path fill="#43f100" d="M13 5h1v1h-1zM51 5h1v1h-1zM14 6h1v1h-1zM50 6h1v1h-1zM15 7h1v1h-1zM49 7h1v1h-1zM16 8h1v1h-1zM48 8h1v1h-1zM16 9h1v1h-1zM48 9h1v1h-1zM17 10h1v1h-1zM47 10h1v1h-1zM17 11h1v1h-1zM47 11h1v1h-1zM17 12h1v1h-1zM47 12h1v1h-1zM17 13h1v1h-1zM47 13h1v1h-1zM17 14h1v1h-1zM47 14h1v1h-1zM17 15h1v1h-1zM47 15h1v1h-1zM17 16h1v1h-1zM47 16h1v1h-1zM17 17h1v1h-1zM47 17h1v1h-1zM18 19h1v1h-1zM46 19h1v1h-1zM19 20h1v1h-1zM45 20h1v1h-1zM22 23h1v1h-1zM42 23h1v1h-1zM24 24h1v1h-1zM40 24h1v1h-1zM27 25h1v1h-1zM37 25h1v1h-1zM3 46h1v1h-1zM61 46h1v1h-1zM8 47h1v1h-1zM56 47h1v1h-1zM12 48h1v1h-1zM52 48h1v1h-1zM14 49h1v1h-1zM50 49h1v1h-1zM16 50h1v1h-1zM48 50h1v1h-1zM23 52h2v1h-2zM40 52h2v1h-2zM31 53h3v1h-3z"/>
<path fill="#49f200" d="M14 5h1v1h-1zM50 5h1v1h-1zM15 6h1v1h-1zM49 6h1v1h-1zM16 7h1v1h-1zM48 7h1v1h-1zM17 8h1v1h-1zM47 8h1v1h-1zM17 9h1v1h-1zM47 9h1v1h-1zM18 17h1v1h-1zM46 17h1v1h-1zM18 18h1v1h-1zM46 18h1v1h-1zM20 21h1v1h-1zM44 21h1v1h-1zM21 22h1v1h-1zM43 22h1v1h-1zM23 23h1v1h-1zM41 23h1v1h-1zM25 24h1v1h-1zM39 24h1v1h-1zM28 25h1v1h-1zM36 25h1v1h-1zM2 46h1v1h-1zM62 46h1v1h-1zM6 47h2v1h-2zM57 47h2v1h-2zM11 48h1v1h-1zM53 48h1v1h-1zM17 51h1v1h-1zM47 51h1v1h-1zM20 52h3v1h-3zM42 52h3v1h-3zM29 53h2v1h-2zM34 53h2v1h-2z"/>
<path fill="#4ff400" d="M16 6h1v1h-1zM48 6h1v1h-1zM17 7h1v1h-1zM47 7h1v1h-1zM18 8h1v1h-1zM46 8h1v1h-1zM18 9h1v1h-1zM46 9h1v1h-1zM18 10h1v1h-1zM46 10h1v1h-1zM18 11h1v1h-1zM46 11h1v1h-1zM18 12h1v1h-1zM46 12h1v1h-1zM18 13h1v1h-1zM46 13h1v1h-1zM18 14h1v1h-1zM46 14h1v1h-1zM18 15h1v1h-1zM46 15h1v1h-1zM18 16h1v1h-1zM46 16h1v1h-1zM19 19h1v1h-1zM45 19h1v1h-1zM20 20h1v1h-1zM44 20h1v1h-1zM21 21h1v1h-1zM43 21h1v1h-1zM22 22h1v1h-1zM42 22h1v1h-1zM26 24h1v1h-1zM38 24h1v1h-1zM29 25h2v1h-2zM34 25h2v1h-2zM4 47h2v1h-2zM59 47h2v1h-2zM10 48h1v1h-1zM54 48h1v1h-1zM13 49h1v1h-1zM51 49h1v1h-1zM15 50h1v1h-1zM49 50h1v1h-1zM19 52h1v1h-1zM45 52h1v1h-1zM28 53h1v1h-1zM36 53h1v1h-1z"/>
<path fill="#54f500" d="M14 4h1v1h-1zM50 4h1v1h-1zM15 5h1v1h-1zM49 5h1v1h-1zM17 6h1v1h-1zM47 6h1v1h-1zM18 7h1v1h-1zM46 7h1v1h-1zM19 8h1v1h-1zM45 8h1v1h-1zM19 9h1v1h-1zM45 9h1v1h-1zM19 10h1v1h-1zM45 10h1v1h-1zM19 11h1v1h-1zM45 11h1v1h-1zM19 12h1v1h-1zM45 12h1v1h-1zM19 13h1v1h-1zM45 13h1v1h-1zM19 17h1v1h-1zM45 17h1v1h-1zM19 18h1v1h-1zM45 18h1v1h-1zM24 23h1v1h-1zM40 23h1v1h-1zM27 24h1v1h-1zM37 24h1v1h-1zM31 25h3v1h-3zM3 47h1v1h-1zM61 47h1v1h-1zM8 48h2v1h-2zM55 48h2v1h-2zM12 49h1v1h-1zM52 49h1v1h-1zM14 50h1v1h-1zM50 50h1v1h-1zM16 51h1v1h-1zM48 51h1v1h-1zM18 52h1v1h-1zM46 52h1v1h-1zM27 53h1v1h-1zM37 53h1v1h-1z"/>
<path fill="#5af700" d="M15 4h1v1h-1zM49 4h1v1h-1zM16 5h1v1h-1zM48 5h1v1h-1zM18 6h1v1h-1zM46 6h1v1h-1zM19 7h1v1h-1zM45 7h1v1h-1zM20 8h1v1h-1zM44 8h1v1h-1zM20 9h1v1h-1zM44 9h1v1h-1zM20 10h1v1h-1zM44 10h1v1h-1zM20 11h1v1h-1zM44 11h1v1h-1zM19 14h1v1h-1zM45 14h1v1h-1zM19 15h1v1h-1zM45 15h1v1h-1zM19 16h1v1h-1zM45 16h1v1h-1zM20 19h1v1h-1zM44 19h1v1h-1zM21 20h1v1h-1zM43 20h1v1h-1zM22 21h1v1h-1zM42 21h1v1h-1zM23 22h1v1h-1zM41 22h1v1h-1zM25 23h1v1h-1zM39 23h1v1h-1zM28 24h1v1h-1zM36 24h1v1h-1zM2 47h1v1h-1zM62 47h1v1h-1zM7 48h1v1h-1zM57 48h1v1h-1zM11 49h1v1h-1zM53 49h1v1h-1zM25 53h2v1h-2zM38 53h2v1h-2z"/>
<path fill="#60f800" d="M15 3h1v1h-1zM49 3h1v1h-1zM16 4h1v1h-1zM48 4h1v1h-1zM17 5h1v1h-1zM47 5h1v1h-1zM20 7h1v1h-1zM44 7h1v1h-1zM21 8h1v1h-1zM43 8h1v1h-1zM21 9h1v1h-1zM43 9h1v1h-1zM21 10h1v1h-1zM43 10h1v1h-1zM20 12h1v1h-1zM44 12h1v1h-1zM20 13h1v1h-1zM44 13h1v1h-1zM20 14h1v1h-1zM44 14h1v1h-1zM20 17h1v1h-1zM44 17h1v1h-1zM20 18h1v1h-1zM44 18h1v1h-1zM21 19h1v1h-1zM43 19h1v1h-1zM24 22h1v1h-1zM40 22h1v1h-1zM26 23h1v1h-1zM38 23h1v1h-1zM29 24h1v1h-1zM35 24h1v1h-1zM5 48h2v1h-2zM58 48h2v1h-2zM10 49h1v1h-1zM54 49h1v1h-1zM13 50h1v1h-1zM51 50h1v1h-1zM15 51h1v1h-1zM49 51h1v1h-1zM17 52h1v1h-1zM47 52h1v1h-1zM24 53h1v1h-1zM40 53h1v1h-1z"/>
<path fill="#66f900" d="M17 4h1v1h-1zM47 4h1v1h-1zM18 5h1v1h-1zM46 5h1v1h-1zM19 6h1v1h-1zM45 6h1v1h-1zM21 7h1v1h-1zM43 7h1v1h-1zM22 9h1v1h-1zM42 9h1v1h-1zM21 11h1v1h-1zM43 11h1v1h-1zM21 12h1v1h-1zM43 12h1v1h-1zM20 15h1v1h-1zM44 15h1v1h-1zM20 16h1v1h-1zM44 16h1v1h-1zM21 18h1v1h-1zM43 18h1v1h-1zM22 20h1v1h-1zM42 20h1v1h-1zM23 21h1v1h-1zM41 21h1v1h-1zM25 22h1v1h-1zM39 22h1v1h-1zM27 23h1v1h-1zM37 23h1v1h-1zM30 24h5v1h-5zM3 48h2v1h-2zM60 48h2v1h-2zM9 49h1v1h-1zM55 49h1v1h-1zM21 53h3v1h-3zM41 53h3v1h-3zM30 54h5v1h-5z"/>
<path fill="#6dfb00" d="M16 3h1v1h-1zM48 3h1v1h-1zM19 5h1v1h-1zM45 5h1v1h-1zM20 6h1v1h-1zM44 6h1v1h-1zM22 8h1v1h-1zM42 8h1v1h-1zM22 10h1v1h-1zM42 10h1v1h-1zM22 11h1v1h-1zM42 11h1v1h-1zM22 12h1v1h-1zM42 12h1v1h-1zM21 13h1v1h-1zM43 13h1v1h-1zM21 14h1v1h-1zM43 14h1v1h-1zM21 15h1v1h-1zM43 15h1v1h-1zM21 16h1v1h-1zM43 16h1v1h-1zM21 17h1v1h-1zM43 17h1v1h-1zM22 19h1v1h-1zM42 19h1v1h-1zM23 20h1v1h-1zM41 20h1v1h-1zM24 21h1v1h-1zM40 21h1v1h-1zM28 23h1v1h-1zM36 23h1v1h-1zM8 49h1v1h-1zM56 49h1v1h-1zM12 50h1v1h-1zM52 50h1v1h-1zM14 51h1v1h-1zM50 51h1v1h-1zM16 52h1v1h-1zM48 52h1v1h-1zM19 53h2v1h-2zM44 53h2v1h-2zM29 54h1v1h-1zM35 54h1v1h-1z"/>
<path fill="#73fc00" d="M17 3h1v1h-1zM47 3h1v1h-1zM18 4h1v1h-1zM46 4h1v1h-1zM20 5h1v1h-1zM44 5h1v1h-1zM21 6h1v1h-1zM43 6h1v1h-1zM22 7h1v1h-1zM42 7h1v1h-1zM23 8h1v1h-1zM41 8h1v1h-1zM23 9h1v1h-1zM41 9h1v1h-1zM23 10h1v1h-1zM41 10h1v1h-1zM23 11h1v1h-1zM41 11h1v1h-1zM22 13h1v1h-1zM42 13h1v1h-1zM22 18h1v1h-1zM42 18h1v1h-1zM25 21h1v1h-1zM39 21h1v1h-1zM26 22h1v1h-1zM38 22h1v1h-1zM29 23h1v1h-1zM35 23h1v1h-1zM5 49h3v1h-3zM57 49h3v1h-3zM11 50h1v1h-1zM53 50h1v1h-1zM18 53h1v1h-1zM46 53h1v1h-1zM27 54h2v1h-2zM36 54h2v1h-2z"/>
<path fill="#7afe00" d="M18 3h1v1h-1zM46 3h1v1h-1zM19 4h1v1h-1zM45 4h1v1h-1zM22 6h1v1h-1zM42 6h1v1h-1zM23 7h1v1h-1zM41 7h1v1h-1zM24 8h1v1h-1zM40 8h1v1h-1zM24 9h1v1h-1zM40 9h1v1h-1zM24 10h1v1h-1zM40 10h1v1h-1zM24 11h1v1h-1zM40 11h1v1h-1zM23 12h1v1h-1zM41 12h1v1h-1zM22 14h1v1h-1zM42 14h1v1h-1zM22 15h1v1h-1zM42 15h1v1h-1zM22 16h1v1h-1zM42 16h1v1h-1zM22 17h1v1h-1zM42 17h1v1h-1zM23 19h1v1h-1zM41 19h1v1h-1zM24 20h1v1h-1zM40 20h1v1h-1zM27 22h1v1h-1zM37 22h1v1h-1zM30 23h5v1h-5zM3 49h2v1h-2zM60 49h2v1h-2zM10 50h1v1h-1zM54 50h1v1h-1zM13 51h1v1h-1zM51 51h1v1h-1zM15 52h1v1h-1zM49 52h1v1h-1zM17 53h1v1h-1zM47 53h1v1h-1zM26 54h1v1h-1zM38 54h1v1h-1z"/>
<path fill="#80ff00" d="M17 2h1v1h-1zM47 2h1v1h-1zM20 4h1v1h-1zM44 4h1v1h-1zM21 5h1v1h-1zM43 5h1v1h-1zM23 6h1v1h-1zM41 6h1v1h-1zM24 7h1v1h-1zM40 7h1v1h-1zM25 8h1v1h-1zM32 8h1v1h-1zM39 8h1v1h-1zM25 9h1v1h-1zM39 9h1v1h-1zM25 10h1v1h-1zM39 10h1v1h-1zM24 12h1v1h-1zM40 12h1v1h-1zM23 13h1v1h-1zM41 13h1v1h-1zM23 14h1v1h-1zM41 14h1v1h-1zM23 18h1v1h-1zM41 18h1v1h-1zM24 19h1v1h-1zM40 19h1v1h-1zM25 20h1v1h-1zM39 20h1v1h-1zM26 21h1v1h-1zM38 21h1v1h-1zM28 22h1v1h-1zM36 22h1v1h-1zM9 50h1v1h-1zM55 50h1v1h-1zM12 51h1v1h-1zM52 51h1v1h-1zM25 54h1v1h-1zM39 54h1v1h-1z"/>
<path fill="#85ff00" d="M18 2h1v1h-1zM46 2h1v1h-1zM19 3h1v1h-1zM45 3h1v1h-1zM21 4h1v1h-1zM43 4h1v1h-1zM22 5h1v1h-1zM42 5h1v1h-1zM25 7h1v1h-1zM31 7h3v1h-3zM39 7h1v1h-1zM26 8h2v1h-2zM29 8h3v1h-3zM33 8h3v1h-3zM37 8h2v1h-2zM26 9h13v1h-13zM26 10h2v1h-2zM37 10h2v1h-2zM25 11h2v1h-2zM38 11h2v1h-2zM25 12h1v1h-1zM39 12h1v1h-1zM24 13h1v1h-1zM40 13h1v1h-1zM24 14h1v1h-1zM40 14h1v1h-1zM23 15h1v1h-1zM41 15h1v1h-1zM23 16h1v1h-1zM41 16h1v1h-1zM23 17h1v1h-1zM41 17h1v1h-1zM24 18h1v1h-1zM40 18h1v1h-1zM27 21h1v1h-1zM37 21h1v1h-1zM29 22h2v1h-2zM34 22h2v1h-2zM7 50h2v1h-2zM56 50h2v1h-2zM14 52h1v1h-1zM50 52h1v1h-1zM16 53h1v1h-1zM48 53h1v1h-1zM23 54h2v1h-2zM40 54h2v1h-2zM32 55h1v1h-1z"/>
<path fill="#8bff00" d="M19 2h1v1h-1zM45 2h1v1h-1zM20 3h1v1h-1zM44 3h1v1h-1zM23 5h1v1h-1zM41 5h1v1h-1zM24 6h2v1h-2zM31 6h3v1h-3zM39 6h2v1h-2zM26 7h5v1h-5zM34 7h5v1h-5zM28 8h1v1h-1zM36 8h1v1h-1zM28 10h9v1h-9zM27 11h1v1h-1zM37 11h1v1h-1zM26 12h1v1h-1zM38 12h1v1h-1zM25 13h1v1h-1zM39 13h1v1h-1zM24 15h1v1h-1zM40 15h1v1h-1zM24 16h1v1h-1zM40 16h1v1h-1zM24 17h1v1h-1zM40 17h1v1h-1zM25 19h1v1h-1zM39 19h1v1h-1zM26 20h1v1h-1zM38 20h1v1h-1zM28 21h1v1h-1zM36 21h1v1h-1zM31 22h3v1h-3zM4 50h3v1h-3zM58 50h3v1h-3zM11 51h1v1h-1zM53 51h1v1h-1zM19 54h4v1h-4zM42 54h4v1h-4zM30 55h2v1h-2zM33 55h2v1h-2z"/>
<path fill="#90ff00" d="M21 3h1v1h-1zM43 3h1v1h-1zM22 4h1v1h-1zM42 4h1v1h-1zM24 5h1v1h-1zM40 5h1v1h-1zM26 6h5v1h-5zM34 6h5v1h-5zM28 11h9v1h-9zM27 12h1v1h-1zM37 12h1v1h-1zM26 13h1v1h-1zM38 13h1v1h-1zM25 14h1v1h-1zM39 14h1v1h-1zM25 15h1v1h-1zM39 15h1v1h-1zM25 16h1v1h-1zM39 16h1v1h-1zM25 17h1v1h-1zM39 17h1v1h-1zM25 18h1v1h-1zM39 18h1v1h-1zM26 19h1v1h-1zM38 19h1v1h-1zM27 20h1v1h-1zM37 20h1v1h-1zM29 21h1v1h-1zM35 21h1v1h-1zM10 51h1v1h-1zM54 51h1v1h-1zM13 52h1v1h-1zM51 52h1v1h-1zM15 53h1v1h-1zM49 53h1v1h-1zM18 54h1v1h-1zM46 54h1v1h-1zM28 55h2v1h-2zM35 55h2v1h-2z"/>
<path fill="#95ff00" d="M19 1h1v1h-1zM45 1h1v1h-1zM20 2h1v1h-1zM44 2h1v1h-1zM23 4h1v1h-1zM41 4h1v1h-1zM25 5h1v1h-1zM31 5h3v1h-3zM39 5h1v1h-1zM28 12h3v1h-3zM34 12h3v1h-3zM27 13h1v1h-1zM37 13h1v1h-1zM26 14h1v1h-1zM38 14h1v1h-1zM26 15h1v1h-1zM38 15h1v1h-1zM26 18h1v1h-1zM38 18h1v1h-1zM27 19h1v1h-1zM37 19h1v1h-1zM28 20h1v1h-1zM36 20h1v1h-1zM30 21h5v1h-5zM8 51h2v1h-2zM55 51h2v1h-2zM12 52h1v1h-1zM52 52h1v1h-1zM17 54h1v1h-1zM47 54h1v1h-1zM27 55h1v1h-1zM37 55h1v1h-1z"/>
<path fill="#9bff00" d="M21 2h1v1h-1zM43 2h1v1h-1zM22 3h1v1h-1zM42 3h1v1h-1zM24 4h1v1h-1zM40 4h1v1h-1zM26 5h5v1h-5zM34 5h5v1h-5zM31 12h3v1h-3zM28 13h2v1h-2zM35 13h2v1h-2zM27 14h1v1h-1zM37 14h1v1h-1zM27 15h1v1h-1zM37 15h1v1h-1zM26 16h1v1h-1zM38 16h1v1h-1zM26 17h1v1h-1zM38 17h1v1h-1zM27 18h1v1h-1zM37 18h1v1h-1zM28 19h1v1h-1zM36 19h1v1h-1zM29 20h1v1h-1zM35 20h1v1h-1zM5 51h3v1h-3zM57 51h3v1h-3zM11 52h1v1h-1zM53 52h1v1h-1zM14 53h1v1h-1zM50 53h1v1h-1zM16 54h1v1h-1zM48 54h1v1h-1zM26 55h1v1h-1zM38 55h1v1h-1z"/>
<path fill="#a0ff00" d="M20 1h1v1h-1zM44 1h1v1h-1zM23 3h1v1h-1zM41 3h1v1h-1zM25 4h1v1h-1zM31 4h3v1h-3zM39 4h1v1h-1zM30 13h5v1h-5zM28 14h2v1h-2zM35 14h2v1h-2zM28 15h1v1h-1zM36 15h1v1h-1zM27 16h1v1h-1zM37 16h1v1h-1zM27 17h1v1h-1zM37 17h1v1h-1zM28 18h1v1h-1zM36 18h1v1h-1zM29 19h1v1h-1zM35 19h1v1h-1zM30 20h5v1h-5zM10 52h1v1h-1zM54 52h1v1h-1zM13 53h1v1h-1zM51 53h1v1h-1zM24 55h2v1h-2zM39 55h2v1h-2z"/>
<path fill="#a5ff00" d="M21 1h1v1h-1zM43 1h1v1h-1zM22 2h1v1h-1zM42 2h1v1h-1zM26 4h5v1h-5zM34 4h5v1h-5zM30 14h1v1h-1zM34 14h1v1h-1zM29 15h1v1h-1zM35 15h1v1h-1zM28 16h1v1h-1zM36 16h1v1h-1zM28 17h1v1h-1zM36 17h1v1h-1zM29 18h1v1h-1zM35 18h1v1h-1zM30 19h1v1h-1zM34 19h1v1h-1zM9 52h1v1h-1zM55 52h1v1h-1zM15 54h1v1h-1zM49 54h1v1h-1zM18 55h6v1h-6zM41 55h6v1h-6zM32 56h1v1h-1z"/>
<path fill="#abff00" d="M23 2h1v1h-1zM41 2h1v1h-1zM24 3h1v1h-1zM40 3h1v1h-1zM31 14h3v1h-3zM30 15h1v1h-1zM34 15h1v1h-1zM29 16h1v1h-1zM35 16h1v1h-1zM29 17h1v1h-1zM35 17h1v1h-1zM30 18h1v1h-1zM34 18h1v1h-1zM31 19h3v1h-3zM7 52h2v1h-2zM56 52h2v1h-2zM12 53h1v1h-1zM52 53h1v1h-1zM14 54h1v1h-1zM50 54h1v1h-1zM17 55h1v1h-1zM47 55h1v1h-1zM30 56h2v1h-2zM33 56h2v1h-2z"/>
<path fill="#b0ff00" d="M21 0h1v1h-1zM43 0h1v1h-1zM22 1h1v1h-1zM42 1h1v1h-1zM25 3h2v1h-2zM28 3h9v1h-9zM38 3h2v1h-2zM31 15h3v1h-3zM30 16h2v1h-2zM33 16h2v1h-2zM30 17h2v1h-2zM33 17h2v1h-2zM31 18h3v1h-3zM6 52h1v1h-1zM58 52h1v1h-1zM11 53h1v1h-1zM53 53h1v1h-1zM16 55h1v1h-1zM48 55h1v1h-1zM28 56h2v1h-2zM35 56h2v1h-2z"/>
<path fill="#b6fd00" d="M24 2h1v1h-1zM40 2h1v1h-1zM27 3h1v1h-1zM37 3h1v1h-1zM32 16h1v1h-1zM32 17h1v1h-1zM10 53h1v1h-1zM54 53h1v1h-1zM13 54h1v1h-1zM51 54h1v1h-1zM15 55h1v1h-1zM49 55h1v1h-1zM27 56h1v1h-1zM37 56h1v1h-1z"/>
<path fill="#bcfc00" d="M22 0h1v1h-1zM42 0h1v1h-1zM23 1h1v1h-1zM41 1h1v1h-1zM25 2h1v1h-1zM31 2h3v1h-3zM39 2h1v1h-1zM8 53h2v1h-2zM55 53h2v1h-2zM12 54h1v1h-1zM52 54h1v1h-1zM25 56h2v1h-2zM38 56h2v1h-2z"/>
<path fill="#c2fa00" d="M23 0h1v1h-1zM41 0h1v1h-1zM24 1h1v1h-1zM40 1h1v1h-1zM26 2h5v1h-5zM34 2h5v1h-5zM6 53h2v1h-2zM57 53h2v1h-2zM11 54h1v1h-1zM53 54h1v1h-1zM14 55h1v1h-1zM50 55h1v1h-1zM17 56h4v1h-4zM23 56h2v1h-2zM40 56h2v1h-2zM44 56h4v1h-4z"/>
<path fill="#c8f800" d="M25 1h1v1h-1zM39 1h1v1h-1zM10 54h1v1h-1zM54 54h1v1h-1zM16 56h1v1h-1zM21 56h2v1h-2zM42 56h2v1h-2zM48 56h1v1h-1z"/>
<path fill="#ccf600" d="M24 0h1v1h-1zM40 0h1v1h-1zM26 1h13v1h-13zM8 54h2v1h-2zM55 54h2v1h-2zM13 55h1v1h-1zM51 55h1v1h-1zM15 56h1v1h-1zM49 56h1v1h-1zM30 57h5v1h-5z"/>
<path fill="#cff400" d="M25 0h1v1h-1zM39 0h1v1h-1zM7 54h1v1h-1zM57 54h1v1h-1zM12 55h1v1h-1zM52 55h1v1h-1zM14 56h1v1h-1zM50 56h1v1h-1zM28 57h2v1h-2zM35 57h2v1h-2z"/>
<path fill="#d3f300" d="M26 0h13v1h-13zM11 55h1v1h-1zM53 55h1v1h-1zM26 57h2v1h-2zM37 57h2v1h-2z"/>
<path fill="#d6f100" d="M9 55h2v1h-2zM54 55h2v1h-2zM13 56h1v1h-1zM51 56h1v1h-1zM16 57h4v1h-4zM24 57h2v1h-2zM39 57h2v1h-2zM45 57h4v1h-4z"/>
<path fill="#d9ee00" d="M8 55h1v1h-1zM56 55h1v1h-1zM12 56h1v1h-1zM52 56h1v1h-1zM15 57h1v1h-1zM20 57h4v1h-4zM41 57h4v1h-4zM49 57h1v1h-1z"/>
<path fill="#dbe900" d="M11 56h1v1h-1zM53 56h1v1h-1zM14 57h1v1h-1zM50 57h1v1h-1z"/>
<path fill="#dee500" d="M9 56h2v1h-2zM54 56h2v1h-2zM13 57h1v1h-1zM51 57h1v1h-1zM31 58h3v1h-3z"/>
<path fill="#e0e000" d="M12 57h1v1h-1zM52 57h1v1h-1zM16 58h2v1h-2zM28 58h3v1h-3zM34 58h3v1h-3zM47 58h2v1h-2z"/>
<path fill="#e0d900" d="M11 57h1v1h-1zM53 57h1v1h-1zM15 58h1v1h-1zM18 58h1v1h-1zM25 58h3v1h-3zM37 58h3v1h-3zM46 58h1v1h-1zM49 58h1v1h-1z"/>
<path fill="#e0d200" d="M10 57h1v1h-1zM54 57h1v1h-1zM14 58h1v1h-1zM19 58h6v1h-6zM40 58h6v1h-6zM50 58h1v1h-1z"/>
<path fill="#e0cb00" d="M13 58h1v1h-1zM51 58h1v1h-1z"/>
<path fill="#e1c500" d="M12 58h1v1h-1zM52 58h1v1h-1z"/>
<path fill="#e3be00" d="M11 58h1v1h-1zM53 58h1v1h-1zM15 59h3v1h-3zM47 59h3v1h-3z"/>
<path fill="#e6b700" d="M14 59h1v1h-1zM18 59h1v1h-1zM26 59h13v1h-13zM46 59h1v1h-1zM50 59h1v1h-1z"/>
<path fill="#e8b000" d="M13 59h1v1h-1zM19 59h7v1h-7zM39 59h7v1h-7zM51 59h1v1h-1z"/>
<path fill="#f08a00" d="M14 60h4v1h-4zM47 60h4v1h-4z"/>
<path fill="#f07d00" d="M18 60h2v1h-2zM45 60h2v1h-2z"/>
<path fill="#f07000" d="M20 60h25v1h-25z"/>
<path fill="#f05500" d="M15 61h2v1h-2zM48 61h2v1h-2z"/>
<path fill="#f04700" d="M17 61h2v1h-2zM46 61h2v1h-2z"/>
<path fill="#f03500" d="M19 61h2v1h-2zM44 61h2v1h-2z"/>
<path fill="#f01e00" d="M21 61h10v1h-10zM34 61h10v1h-10z"/>
<path fill="#f00800" d="M31 61h3v1h-3z"/>
<path fill="#ed0500" d="M17 62h1v1h-1zM47 62h1v1h-1z"/>
<path fill="#ea0200" d="M18 62h2v1h-2zM45 62h2v1h-2z"/>
<path fill="#e50000" d="M20 62h7v1h-7zM38 62h7v1h-7z"/>
<path fill="#e00000" d="M27 62h5v1h-5zM33 62h5v1h-5z"/>
<path fill="#db0000" d="M32 62h1v1h-1z"/>
<path fill="#d50000" d="M19 63h1v1h-1zM45 63h1v1h-1z"/>
<path fill="#d00000" d="M20 63h2v1h-2zM43 63h2v1h-2z"/>
<path fill="#ca0000" d="M22 63h7v1h-7zM36 63h7v1h-7z"/>
<path fill="#c40000" d="M29 63h7v1h-7z"/>
<path fill="#b80000" d="M21 64h23v1h-23z"/>
</g></g></g>
<rect x="149.90" y="79.80" width="1.3" height="424.40" fill="#b4b4aa"/>
<rect x="151.20" y="502.60" width="424.30" height="1.6" fill="#b4b4aa"/>
<rect x="151.20" y="501.00" width="424.30" height="1.6" fill="#160070"/>
<rect x="151.20" y="79.80" width="1.2" height="422.80" fill="#1e0090"/>
<rect x="151.20" y="79.80" width="424.30" height="1.5" fill="#1c00ac"/>
<rect x="595.3" y="114.5" width="38.20" height="306.10" fill="url(#cbg)"/>
<text transform="translate(278.11,64.80) scale(0.9793,1)" font-size="38.5" font-family="'Liberation Serif','Noto Sans CJK SC',serif" text-anchor="start" >OBJ</text>
<text transform="translate(384.10,64.80) scale(0.9477,1)" font-size="38.5" font-family="'Liberation Serif','Noto Sans CJK SC',serif" text-anchor="start" >1.18°</text>
<text transform="translate(347.20,65.10) scale(1.05,0.7)" font-size="27" font-weight="bold" font-family="'Noto Sans CJK SC',sans-serif">：</text>
<text transform="translate(27.30,87.90) scale(1.0000,1)" font-size="36.5" font-family="'Liberation Serif','Noto Sans CJK SC',serif" text-anchor="start" >(a)</text>
<text transform="translate(140.20,87.80) scale(0.9300,1)" font-size="28" font-family="'Liberation Serif','Noto Sans CJK SC',serif" text-anchor="end" >1.0</text>
<text transform="translate(144.80,298.30) scale(0.9300,1)" font-size="28" font-family="'Liberation Serif','Noto Sans CJK SC',serif" text-anchor="end" >0</text>
<text transform="translate(142.40,507.90) scale(0.9300,1)" font-size="28" font-family="'Liberation Serif','Noto Sans CJK SC',serif" text-anchor="end" >−1.0</text>
<text transform="translate(155.20,534.10) scale(0.9300,1)" font-size="28" font-family="'Liberation Serif','Noto Sans CJK SC',serif" text-anchor="middle" >−1.0</text>
<text transform="translate(364.90,531.10) scale(0.9300,1)" font-size="28" font-family="'Liberation Serif','Noto Sans CJK SC',serif" text-anchor="middle" >0</text>
<text transform="translate(572.70,532.00) scale(0.9300,1)" font-size="28" font-family="'Liberation Serif','Noto Sans CJK SC',serif" text-anchor="middle" >1.0</text>
<text transform="translate(366.50,564.60) scale(1.0000,1)" font-size="21.5" font-family="'DejaVu Sans Mono',monospace" text-anchor="middle" fill="#1a1a1a" letter-spacing="0.9">X-Pupil (Rel. Units)</text>
<text transform="translate(53.10,289.70) rotate(-90)" font-size="21.5" font-family="'DejaVu Sans Mono',monospace" text-anchor="middle" letter-spacing="0.9" fill="#1a1a1a">Y-Pupil (Rel. Units)</text>
<text transform="translate(637.70,120.00) scale(1.0000,1)" font-size="21" font-family="'Liberation Serif','Noto Sans CJK SC',serif" text-anchor="start" >0.146</text>
<text transform="translate(637.70,151.23) scale(1.0000,1)" font-size="21" font-family="'Liberation Serif','Noto Sans CJK SC',serif" text-anchor="start" >0.127</text>
<text transform="translate(637.70,182.46) scale(1.0000,1)" font-size="21" font-family="'Liberation Serif','Noto Sans CJK SC',serif" text-anchor="start" >0.107</text>
<text transform="translate(637.70,213.69) scale(1.0000,1)" font-size="21" font-family="'Liberation Serif','Noto Sans CJK SC',serif" text-anchor="start" >0.088</text>
<text transform="translate(637.70,244.92) scale(1.0000,1)" font-size="21" font-family="'Liberation Serif','Noto Sans CJK SC',serif" text-anchor="start" >0.069</text>
<text transform="translate(637.70,276.15) scale(1.0000,1)" font-size="21" font-family="'Liberation Serif','Noto Sans CJK SC',serif" text-anchor="start" >0.049</text>
<text transform="translate(637.70,307.38) scale(1.0000,1)" font-size="21" font-family="'Liberation Serif','Noto Sans CJK SC',serif" text-anchor="start" >0.030</text>
<text transform="translate(637.70,338.61) scale(1.0000,1)" font-size="21" font-family="'Liberation Serif','Noto Sans CJK SC',serif" text-anchor="start" >0.010</text>
<text transform="translate(637.70,369.84) scale(1.0000,1)" font-size="21" font-family="'Liberation Serif','Noto Sans CJK SC',serif" text-anchor="start" >−0.009</text>
<text transform="translate(637.70,401.07) scale(1.0000,1)" font-size="21" font-family="'Liberation Serif','Noto Sans CJK SC',serif" text-anchor="start" >−0.029</text>
<text transform="translate(637.70,432.30) scale(1.0000,1)" font-size="21" font-family="'Liberation Serif','Noto Sans CJK SC',serif" text-anchor="start" >−0.048</text>
<text transform="translate(635.60,460.50) scale(1.0000,1)" font-size="16" font-family="'DejaVu Sans Mono',monospace" text-anchor="start" font-weight="bold" fill="#444">Waves</text>
<g transform="translate(889.5,77.3) scale(6.63846,6.61077)">
<rect width="65" height="65" fill="#2f0ec4"/>
<clipPath id="cpc"><path d="M25 1H40V2H25zM21 2H44V3H21zM19 3H46V4H19zM17 4H48V5H17zM15 5H50V6H15zM14 6H51V7H14zM13 7H52V8H13zM11 8H54V9H11zM10 9H55V10H10zM9 10H56V11H9zM8 11H57V12H8zM8 12H57V13H8zM7 13H58V14H7zM6 14H59V15H6zM5 15H60V16H5zM5 16H60V17H5zM4 17H61V18H4zM4 18H61V19H4zM3 19H62V20H3zM3 20H62V21H3zM2 21H63V22H2zM2 22H63V23H2zM2 23H63V24H2zM2 24H63V25H2zM1 25H64V26H1zM1 26H64V27H1zM1 27H64V28H1zM1 28H64V29H1zM1 29H64V30H1zM1 30H64V31H1zM1 31H64V32H1zM0 32H64V33H0zM1 33H64V34H1zM1 34H64V35H1zM1 35H64V36H1zM1 36H64V37H1zM1 37H64V38H1zM1 38H64V39H1zM1 39H64V40H1zM2 40H63V41H2zM2 41H63V42H2zM2 42H63V43H2zM2 43H63V44H2zM3 44H62V45H3zM3 45H62V46H3zM4 46H61V47H4zM4 47H61V48H4zM5 48H60V49H5zM5 49H60V50H5zM6 50H59V51H6zM7 51H58V52H7zM8 52H57V53H8zM8 53H57V54H8zM9 54H56V55H9zM10 55H55V56H10zM11 56H54V57H11zM13 57H52V58H13zM14 58H51V59H14zM15 59H50V60H15zM17 60H48V61H17zM19 61H46V62H19zM21 62H44V63H21zM25 63H40V64H25z"/></clipPath>
<g clip-path="url(#cpc)"><g filter="url(#bl)" shape-rendering="crispEdges">
<path fill="#3010c0" d="M64 37h1v1h-1zM64 38h1v1h-1zM64 39h1v1h-1zM64 40h1v1h-1zM64 41h1v1h-1zM64 42h1v1h-1zM64 43h1v1h-1z"/>
<path fill="#2c18c4" d="M64 21h1v1h-1zM64 22h1v1h-1zM64 23h1v1h-1zM64 24h1v1h-1zM64 25h1v1h-1zM64 26h1v1h-1zM64 27h1v1h-1zM64 28h1v1h-1zM64 29h1v1h-1zM64 34h1v1h-1zM64 35h1v1h-1zM64 36h1v1h-1z"/>
<path fill="#2820c8" d="M64 30h1v1h-1zM64 31h1v1h-1zM64 32h1v1h-1zM64 33h1v1h-1z"/>
<path fill="#1f33d0" d="M63 41h1v1h-1zM63 42h1v1h-1zM63 43h1v1h-1zM63 44h1v1h-1z"/>
<path fill="#193dd4" d="M63 38h1v1h-1zM63 39h1v1h-1zM63 40h1v1h-1zM63 45h1v1h-1z"/>
<path fill="#1448d8" d="M63 23h1v1h-1zM63 24h1v1h-1zM63 36h1v1h-1zM63 37h1v1h-1z"/>
<path fill="#0f52d8" d="M63 19h1v1h-1zM63 20h1v1h-1zM63 21h1v1h-1zM63 22h1v1h-1zM63 25h1v1h-1zM63 26h1v1h-1zM63 27h1v1h-1zM63 28h1v1h-1zM63 29h1v1h-1zM63 30h1v1h-1zM63 31h1v1h-1zM63 32h1v1h-1zM63 33h1v1h-1zM63 34h1v1h-1zM63 35h1v1h-1z"/>
<path fill="#0566d8" d="M62 43h1v1h-1z"/>
<path fill="#0070d8" d="M0 21h1v1h-1zM62 39h1v1h-1zM62 40h1v1h-1zM62 41h1v1h-1zM62 42h1v1h-1zM62 44h1v1h-1zM62 45h1v1h-1zM62 46h1v1h-1zM62 47h1v1h-1z"/>
<path fill="#0079d6" d="M0 22h1v1h-1zM0 23h1v1h-1zM0 24h1v1h-1zM62 37h1v1h-1zM62 38h1v1h-1z"/>
<path fill="#0082d3" d="M62 17h1v1h-1zM0 25h1v1h-1zM0 26h1v1h-1zM0 27h1v1h-1zM0 28h1v1h-1zM0 29h1v1h-1zM0 30h1v1h-1zM0 31h1v1h-1zM0 32h1v1h-1zM0 33h1v1h-1zM0 34h1v1h-1zM0 35h1v1h-1zM62 35h1v1h-1zM0 36h1v1h-1zM62 36h1v1h-1zM0 37h1v1h-1zM0 38h1v1h-1zM0 39h1v1h-1zM0 40h1v1h-1zM0 41h1v1h-1zM0 42h1v1h-1zM0 43h1v1h-1z"/>
<path fill="#008bd1" d="M62 18h1v1h-1zM62 19h1v1h-1zM62 20h1v1h-1zM62 21h1v1h-1zM62 22h1v1h-1zM62 23h1v1h-1zM62 24h1v1h-1zM62 25h1v1h-1zM62 26h1v1h-1zM62 27h1v1h-1zM62 28h1v1h-1zM62 29h1v1h-1zM62 30h1v1h-1zM62 31h1v1h-1zM62 32h1v1h-1zM62 33h1v1h-1zM62 34h1v1h-1z"/>
<path fill="#0094ce" d="M1 19h1v1h-1z"/>
<path fill="#009bcb" d="M1 20h1v1h-1zM1 21h1v1h-1zM1 22h1v1h-1zM61 41h1v1h-1zM61 42h1v1h-1zM61 43h1v1h-1zM61 44h1v1h-1zM61 45h1v1h-1z"/>
<path fill="#00a2c7" d="M1 23h1v1h-1zM1 24h1v1h-1zM1 25h1v1h-1zM1 26h1v1h-1zM61 38h1v1h-1zM61 39h1v1h-1zM61 40h1v1h-1zM1 42h1v1h-1zM1 43h1v1h-1zM1 44h1v1h-1zM1 45h1v1h-1zM61 46h1v1h-1zM61 47h1v1h-1zM61 48h1v1h-1zM61 49h1v1h-1z"/>
<path fill="#00a9c4" d="M1 27h1v1h-1zM1 28h1v1h-1zM1 29h1v1h-1zM1 30h1v1h-1zM1 31h1v1h-1zM1 32h1v1h-1zM1 33h1v1h-1zM1 34h1v1h-1zM1 35h1v1h-1zM1 36h1v1h-1zM61 36h1v1h-1zM1 37h1v1h-1zM61 37h1v1h-1zM1 38h1v1h-1zM1 39h1v1h-1zM1 40h1v1h-1zM1 41h1v1h-1z"/>
<path fill="#00b0c0" d="M61 15h1v1h-1zM61 16h1v1h-1zM2 17h1v1h-1zM61 35h1v1h-1z"/>
<path fill="#00b5bb" d="M61 17h1v1h-1zM2 18h1v1h-1zM61 18h1v1h-1zM2 19h1v1h-1zM61 19h1v1h-1zM61 20h1v1h-1zM61 27h1v1h-1zM61 28h1v1h-1zM61 29h1v1h-1zM61 30h1v1h-1zM61 31h1v1h-1zM61 32h1v1h-1zM61 33h1v1h-1zM61 34h1v1h-1z"/>
<path fill="#00bab6" d="M2 20h1v1h-1zM2 21h1v1h-1zM61 21h1v1h-1zM2 22h1v1h-1zM61 22h1v1h-1zM2 23h1v1h-1zM61 23h1v1h-1zM61 24h1v1h-1zM61 25h1v1h-1zM61 26h1v1h-1zM2 45h1v1h-1zM2 46h1v1h-1zM2 47h1v1h-1zM60 50h1v1h-1z"/>
<path fill="#00bfb1" d="M2 24h1v1h-1zM2 25h1v1h-1zM2 26h1v1h-1zM2 42h1v1h-1zM60 42h1v1h-1zM2 43h1v1h-1zM60 43h1v1h-1zM2 44h1v1h-1zM60 44h1v1h-1zM60 45h1v1h-1zM60 46h1v1h-1zM60 47h1v1h-1zM60 48h1v1h-1zM60 49h1v1h-1z"/>
<path fill="#00c4ac" d="M3 15h1v1h-1zM2 27h1v1h-1zM2 28h1v1h-1zM2 29h1v1h-1zM2 30h1v1h-1zM2 36h1v1h-1zM2 37h1v1h-1zM2 38h1v1h-1zM60 38h1v1h-1zM2 39h1v1h-1zM60 39h1v1h-1zM2 40h1v1h-1zM60 40h1v1h-1zM2 41h1v1h-1zM60 41h1v1h-1z"/>
<path fill="#00c8a6" d="M60 14h1v1h-1zM3 16h1v1h-1zM3 17h1v1h-1zM2 31h1v1h-1zM2 32h1v1h-1zM2 33h1v1h-1zM2 34h1v1h-1zM2 35h1v1h-1zM60 36h1v1h-1zM60 37h1v1h-1zM3 49h1v1h-1z"/>
<path fill="#00cda0" d="M60 15h1v1h-1zM3 18h1v1h-1zM3 19h1v1h-1zM60 35h1v1h-1zM3 47h1v1h-1zM3 48h1v1h-1z"/>
<path fill="#00d199" d="M60 16h1v1h-1zM60 17h1v1h-1zM3 20h1v1h-1zM3 21h1v1h-1zM3 22h1v1h-1zM3 23h1v1h-1zM60 30h1v1h-1zM60 31h1v1h-1zM60 32h1v1h-1zM60 33h1v1h-1zM60 34h1v1h-1zM3 45h1v1h-1zM3 46h1v1h-1zM59 51h1v1h-1z"/>
<path fill="#00d693" d="M4 14h1v1h-1zM60 18h1v1h-1zM60 19h1v1h-1zM60 20h1v1h-1zM3 24h1v1h-1zM3 25h1v1h-1zM60 26h1v1h-1zM60 27h1v1h-1zM60 28h1v1h-1zM60 29h1v1h-1zM3 43h1v1h-1zM3 44h1v1h-1zM59 49h1v1h-1zM4 50h1v1h-1zM59 50h1v1h-1z"/>
<path fill="#00da8b" d="M59 13h1v1h-1zM4 15h1v1h-1zM60 21h1v1h-1zM60 22h1v1h-1zM60 23h1v1h-1zM60 24h1v1h-1zM60 25h1v1h-1zM3 26h1v1h-1zM3 27h1v1h-1zM3 28h1v1h-1zM3 40h1v1h-1zM3 41h1v1h-1zM3 42h1v1h-1zM59 46h1v1h-1zM59 47h1v1h-1zM59 48h1v1h-1zM4 49h1v1h-1z"/>
<path fill="#00dd80" d="M4 16h1v1h-1zM3 29h1v1h-1zM3 30h1v1h-1zM3 31h1v1h-1zM3 32h1v1h-1zM3 33h1v1h-1zM3 34h1v1h-1zM3 35h1v1h-1zM3 36h1v1h-1zM3 37h1v1h-1zM3 38h1v1h-1zM59 38h1v1h-1zM3 39h1v1h-1zM59 39h1v1h-1zM59 40h1v1h-1zM59 41h1v1h-1zM59 42h1v1h-1zM59 43h1v1h-1zM59 44h1v1h-1zM59 45h1v1h-1zM4 48h1v1h-1zM58 53h1v1h-1z"/>
<path fill="#00e175" d="M58 11h1v1h-1zM5 13h1v1h-1zM59 14h1v1h-1zM4 17h1v1h-1zM4 18h1v1h-1zM59 36h1v1h-1zM59 37h1v1h-1zM4 47h1v1h-1zM5 51h1v1h-1zM58 52h1v1h-1z"/>
<path fill="#00e46b" d="M6 11h1v1h-1zM59 15h1v1h-1zM4 19h1v1h-1zM4 20h1v1h-1zM4 21h1v1h-1zM4 23h1v1h-1zM59 35h1v1h-1zM4 46h1v1h-1zM58 51h1v1h-1z"/>
<path fill="#00e860" d="M17 2h1v1h-1zM47 2h1v1h-1zM15 3h1v1h-1zM49 3h1v1h-1zM58 12h1v1h-1zM5 14h1v1h-1zM59 16h1v1h-1zM4 22h1v1h-1zM4 24h1v1h-1zM4 25h1v1h-1zM59 34h1v1h-1zM4 44h1v1h-1zM4 45h1v1h-1zM58 49h1v1h-1zM5 50h1v1h-1zM58 50h1v1h-1zM6 53h1v1h-1zM57 54h1v1h-1z"/>
<path fill="#08ea50" d="M16 3h1v1h-1zM14 4h1v1h-1zM7 10h1v1h-1zM57 10h1v1h-1zM6 12h1v1h-1zM5 15h1v1h-1zM59 17h1v1h-1zM4 26h1v1h-1zM59 29h1v1h-1zM59 30h1v1h-1zM59 31h1v1h-1zM59 32h1v1h-1zM59 33h1v1h-1zM4 41h1v1h-1zM4 42h1v1h-1zM4 43h1v1h-1zM58 48h1v1h-1zM5 49h1v1h-1zM6 52h1v1h-1zM57 53h1v1h-1z"/>
<path fill="#10ec40" d="M19 1h1v1h-1zM45 1h1v1h-1zM48 3h1v1h-1zM50 4h1v1h-1zM11 6h1v1h-1zM8 9h1v1h-1zM56 9h1v1h-1zM58 13h1v1h-1zM5 16h1v1h-1zM59 18h1v1h-1zM59 19h1v1h-1zM59 20h1v1h-1zM59 26h1v1h-1zM4 27h1v1h-1zM59 27h1v1h-1zM4 28h1v1h-1zM59 28h1v1h-1zM4 38h1v1h-1zM4 39h1v1h-1zM4 40h1v1h-1zM58 46h1v1h-1zM58 47h1v1h-1zM5 48h1v1h-1zM6 51h1v1h-1zM57 52h1v1h-1zM7 54h1v1h-1z"/>
<path fill="#18ee30" d="M18 2h1v1h-1zM46 2h1v1h-1zM17 3h1v1h-1zM15 4h1v1h-1zM13 5h1v1h-1zM53 6h1v1h-1zM10 7h1v1h-1zM9 8h1v1h-1zM55 8h1v1h-1zM7 11h1v1h-1zM57 11h1v1h-1zM6 13h1v1h-1zM5 17h1v1h-1zM59 21h1v1h-1zM59 22h1v1h-1zM59 23h1v1h-1zM59 24h1v1h-1zM59 25h1v1h-1zM4 29h1v1h-1zM4 30h1v1h-1zM4 31h1v1h-1zM4 32h1v1h-1zM4 33h1v1h-1zM4 34h1v1h-1zM4 35h1v1h-1zM4 36h1v1h-1zM4 37h1v1h-1zM58 38h1v1h-1zM58 39h1v1h-1zM58 40h1v1h-1zM58 41h1v1h-1zM58 42h1v1h-1zM58 43h1v1h-1zM58 44h1v1h-1zM58 45h1v1h-1zM5 47h1v1h-1zM7 53h1v1h-1zM56 55h1v1h-1z"/>
<path fill="#20f020" d="M21 0h1v1h-1zM43 0h1v1h-1zM20 1h1v1h-1zM44 1h1v1h-1zM47 3h1v1h-1zM49 4h1v1h-1zM51 5h1v1h-1zM12 6h1v1h-1zM54 7h1v1h-1zM58 14h1v1h-1zM5 18h1v1h-1zM58 37h1v1h-1zM5 46h1v1h-1zM6 50h1v1h-1zM57 51h1v1h-1zM56 54h1v1h-1zM8 55h1v1h-1z"/>
<path fill="#27f019" d="M19 2h1v1h-1zM45 2h1v1h-1zM16 4h1v1h-1zM14 5h1v1h-1zM8 10h1v1h-1zM56 10h1v1h-1zM7 12h1v1h-1zM57 12h1v1h-1zM6 14h1v1h-1zM58 15h1v1h-1zM5 19h1v1h-1zM5 20h1v1h-1zM5 21h1v1h-1zM5 22h1v1h-1zM5 23h1v1h-1zM5 24h1v1h-1zM58 36h1v1h-1zM5 44h1v1h-1zM5 45h1v1h-1zM6 49h1v1h-1zM57 50h1v1h-1zM7 52h1v1h-1zM56 53h1v1h-1zM8 54h1v1h-1z"/>
<path fill="#2ef012" d="M22 0h1v1h-1zM42 0h1v1h-1zM18 3h1v1h-1zM46 3h1v1h-1zM48 4h1v1h-1zM50 5h1v1h-1zM52 6h1v1h-1zM11 7h1v1h-1zM10 8h1v1h-1zM9 9h1v1h-1zM6 15h1v1h-1zM58 16h1v1h-1zM5 25h1v1h-1zM58 35h1v1h-1zM5 43h1v1h-1zM57 49h1v1h-1zM7 51h1v1h-1zM9 56h1v1h-1zM55 56h1v1h-1z"/>
<path fill="#35f00b" d="M21 1h1v1h-1zM43 1h1v1h-1zM17 4h1v1h-1zM15 5h1v1h-1zM13 6h1v1h-1zM53 7h1v1h-1zM54 8h1v1h-1zM55 9h1v1h-1zM8 11h1v1h-1zM7 13h1v1h-1zM57 13h1v1h-1zM58 17h1v1h-1zM5 26h1v1h-1zM58 34h1v1h-1zM5 40h1v1h-1zM5 41h1v1h-1zM5 42h1v1h-1zM57 47h1v1h-1zM6 48h1v1h-1zM57 48h1v1h-1zM56 52h1v1h-1zM8 53h1v1h-1zM9 55h1v1h-1zM55 55h1v1h-1z"/>
<path fill="#3cf004" d="M23 0h1v1h-1zM41 0h1v1h-1zM20 2h1v1h-1zM44 2h1v1h-1zM19 3h1v1h-1zM47 4h1v1h-1zM49 5h1v1h-1zM51 6h1v1h-1zM12 7h1v1h-1zM9 10h1v1h-1zM56 11h1v1h-1zM6 16h1v1h-1zM58 18h1v1h-1zM5 27h1v1h-1zM5 28h1v1h-1zM58 28h1v1h-1zM58 29h1v1h-1zM58 30h1v1h-1zM58 31h1v1h-1zM58 32h1v1h-1zM58 33h1v1h-1zM5 37h1v1h-1zM5 38h1v1h-1zM5 39h1v1h-1zM57 46h1v1h-1zM6 47h1v1h-1zM7 50h1v1h-1zM56 51h1v1h-1zM55 54h1v1h-1z"/>
<path fill="#43f100" d="M22 1h1v1h-1zM42 1h1v1h-1zM45 3h1v1h-1zM18 4h1v1h-1zM16 5h1v1h-1zM14 6h1v1h-1zM11 8h1v1h-1zM10 9h1v1h-1zM55 10h1v1h-1zM8 12h1v1h-1zM7 14h1v1h-1zM57 14h1v1h-1zM6 17h1v1h-1zM58 19h1v1h-1zM58 20h1v1h-1zM58 21h1v1h-1zM58 25h1v1h-1zM58 26h1v1h-1zM58 27h1v1h-1zM5 29h1v1h-1zM5 30h1v1h-1zM5 31h1v1h-1zM5 32h1v1h-1zM5 33h1v1h-1zM5 34h1v1h-1zM5 35h1v1h-1zM5 36h1v1h-1zM57 38h1v1h-1zM57 39h1v1h-1zM57 40h1v1h-1zM57 41h1v1h-1zM57 42h1v1h-1zM57 43h1v1h-1zM57 44h1v1h-1zM57 45h1v1h-1zM6 46h1v1h-1zM8 52h1v1h-1zM9 54h1v1h-1zM10 56h1v1h-1zM10 57h1v1h-1zM54 57h1v1h-1z"/>
<path fill="#49f200" d="M24 0h1v1h-1zM40 0h1v1h-1zM21 2h1v1h-1zM43 2h1v1h-1zM46 4h1v1h-1zM48 5h1v1h-1zM52 7h1v1h-1zM56 12h1v1h-1zM6 18h1v1h-1zM6 19h1v1h-1zM58 22h1v1h-1zM58 23h1v1h-1zM58 24h1v1h-1zM57 37h1v1h-1zM6 45h1v1h-1zM7 49h1v1h-1zM56 50h1v1h-1zM8 51h1v1h-1zM9 53h1v1h-1zM55 53h1v1h-1zM10 55h1v1h-1zM54 56h1v1h-1z"/>
<path fill="#4ff400" d="M23 1h1v1h-1zM41 1h1v1h-1zM20 3h1v1h-1zM44 3h1v1h-1zM17 5h1v1h-1zM15 6h1v1h-1zM50 6h1v1h-1zM13 7h1v1h-1zM53 8h1v1h-1zM54 9h1v1h-1zM9 11h1v1h-1zM7 15h1v1h-1zM57 15h1v1h-1zM6 20h1v1h-1zM6 21h1v1h-1zM6 22h1v1h-1zM6 23h1v1h-1zM57 36h1v1h-1zM6 44h1v1h-1zM7 48h1v1h-1zM56 49h1v1h-1zM55 52h1v1h-1zM54 55h1v1h-1zM11 58h1v1h-1z"/>
<path fill="#54f500" d="M25 0h1v1h-1zM39 0h1v1h-1zM22 2h1v1h-1zM42 2h1v1h-1zM19 4h1v1h-1zM47 5h1v1h-1zM12 8h1v1h-1zM11 9h1v1h-1zM10 10h1v1h-1zM55 11h1v1h-1zM8 13h1v1h-1zM56 13h1v1h-1zM57 16h1v1h-1zM6 24h1v1h-1zM6 25h1v1h-1zM6 42h1v1h-1zM6 43h1v1h-1zM56 48h1v1h-1zM8 50h1v1h-1zM9 52h1v1h-1zM10 54h1v1h-1zM54 54h1v1h-1zM11 56h1v1h-1zM11 57h1v1h-1zM53 58h1v1h-1z"/>
<path fill="#5af700" d="M26 0h2v1h-2zM29 0h10v1h-10zM24 1h1v1h-1zM40 1h1v1h-1zM21 3h1v1h-1zM45 4h1v1h-1zM18 5h1v1h-1zM16 6h1v1h-1zM49 6h1v1h-1zM14 7h1v1h-1zM51 7h1v1h-1zM9 12h1v1h-1zM7 16h1v1h-1zM57 17h1v1h-1zM6 26h1v1h-1zM57 35h1v1h-1zM6 39h1v1h-1zM6 40h1v1h-1zM6 41h1v1h-1zM7 47h1v1h-1zM56 47h1v1h-1zM55 51h1v1h-1zM11 55h1v1h-1zM53 57h1v1h-1z"/>
<path fill="#60f800" d="M28 0h1v1h-1zM23 2h1v1h-1zM43 3h1v1h-1zM46 5h1v1h-1zM52 8h1v1h-1zM53 9h1v1h-1zM54 10h1v1h-1zM55 12h1v1h-1zM8 14h1v1h-1zM56 14h1v1h-1zM7 17h1v1h-1zM6 27h1v1h-1zM57 34h1v1h-1zM6 36h1v1h-1zM6 37h1v1h-1zM6 38h1v1h-1zM56 45h1v1h-1zM7 46h1v1h-1zM56 46h1v1h-1zM8 49h1v1h-1zM55 50h1v1h-1zM9 51h1v1h-1zM10 53h1v1h-1zM54 53h1v1h-1zM53 56h1v1h-1z"/>
<path fill="#66f900" d="M25 1h1v1h-1zM39 1h1v1h-1zM41 2h1v1h-1zM20 4h1v1h-1zM44 4h1v1h-1zM48 6h1v1h-1zM15 7h1v1h-1zM50 7h1v1h-1zM13 8h1v1h-1zM12 9h1v1h-1zM11 10h1v1h-1zM10 11h1v1h-1zM8 15h1v1h-1zM7 18h1v1h-1zM57 18h1v1h-1zM57 19h1v1h-1zM57 26h1v1h-1zM57 27h1v1h-1zM6 28h1v1h-1zM57 28h1v1h-1zM6 29h1v1h-1zM57 29h1v1h-1zM6 30h1v1h-1zM57 30h1v1h-1zM6 31h1v1h-1zM57 31h1v1h-1zM6 32h1v1h-1zM57 32h1v1h-1zM6 33h1v1h-1zM57 33h1v1h-1zM6 34h1v1h-1zM6 35h1v1h-1zM56 39h1v1h-1zM56 40h1v1h-1zM56 41h1v1h-1zM56 42h1v1h-1zM56 43h1v1h-1zM56 44h1v1h-1zM7 45h1v1h-1zM11 54h1v1h-1zM53 55h1v1h-1zM12 57h1v1h-1zM12 58h1v1h-1z"/>
<path fill="#6dfb00" d="M26 1h1v1h-1zM30 1h5v1h-5zM38 1h1v1h-1zM24 2h1v1h-1zM22 3h1v1h-1zM42 3h1v1h-1zM19 5h1v1h-1zM17 6h1v1h-1zM54 11h1v1h-1zM9 13h1v1h-1zM55 13h1v1h-1zM56 15h1v1h-1zM7 19h1v1h-1zM7 20h1v1h-1zM57 20h1v1h-1zM57 21h1v1h-1zM57 22h1v1h-1zM57 23h1v1h-1zM57 24h1v1h-1zM57 25h1v1h-1zM56 37h1v1h-1zM56 38h1v1h-1zM7 44h1v1h-1zM8 48h1v1h-1zM55 49h1v1h-1zM9 50h1v1h-1zM10 52h1v1h-1zM54 52h1v1h-1zM53 54h1v1h-1zM12 56h1v1h-1zM52 58h1v1h-1z"/>
<path fill="#73fc00" d="M27 1h3v1h-3zM35 1h3v1h-3zM40 2h1v1h-1zM21 4h1v1h-1zM45 5h1v1h-1zM47 6h1v1h-1zM14 8h1v1h-1zM51 8h1v1h-1zM53 10h1v1h-1zM10 12h1v1h-1zM8 16h1v1h-1zM56 16h1v1h-1zM7 21h1v1h-1zM7 22h1v1h-1zM7 43h1v1h-1zM8 47h1v1h-1zM55 48h1v1h-1zM54 51h1v1h-1zM11 53h1v1h-1zM12 55h1v1h-1zM52 57h1v1h-1zM13 59h1v1h-1z"/>
<path fill="#7afe00" d="M25 2h1v1h-1zM39 2h1v1h-1zM23 3h1v1h-1zM41 3h1v1h-1zM43 4h1v1h-1zM18 6h1v1h-1zM16 7h1v1h-1zM49 7h1v1h-1zM13 9h1v1h-1zM52 9h1v1h-1zM11 11h1v1h-1zM9 14h1v1h-1zM55 14h1v1h-1zM7 23h1v1h-1zM7 24h1v1h-1zM56 36h1v1h-1zM7 40h1v1h-1zM7 41h1v1h-1zM7 42h1v1h-1zM55 47h1v1h-1zM9 49h1v1h-1zM10 51h1v1h-1zM53 53h1v1h-1zM12 54h1v1h-1zM52 56h1v1h-1zM13 58h1v1h-1z"/>
<path fill="#80ff00" d="M26 2h2v1h-2zM31 2h2v1h-2zM38 2h1v1h-1zM24 3h1v1h-1zM22 4h1v1h-1zM20 5h1v1h-1zM12 10h1v1h-1zM54 12h1v1h-1zM10 13h1v1h-1zM9 15h1v1h-1zM8 17h1v1h-1zM56 17h1v1h-1zM7 25h1v1h-1zM7 26h1v1h-1zM56 35h1v1h-1zM7 37h1v1h-1zM7 38h1v1h-1zM7 39h1v1h-1zM55 45h1v1h-1zM8 46h1v1h-1zM55 46h1v1h-1zM54 50h1v1h-1zM52 55h1v1h-1zM13 56h1v1h-1zM13 57h1v1h-1zM51 59h1v1h-1z"/>
<path fill="#85ff00" d="M28 2h3v1h-3zM33 2h5v1h-5zM40 3h1v1h-1zM42 4h1v1h-1zM44 5h1v1h-1zM46 6h1v1h-1zM48 7h1v1h-1zM15 8h1v1h-1zM50 8h1v1h-1zM53 11h1v1h-1zM55 15h1v1h-1zM8 18h1v1h-1zM56 18h1v1h-1zM7 27h1v1h-1zM7 34h1v1h-1zM56 34h1v1h-1zM7 35h1v1h-1zM7 36h1v1h-1zM55 40h1v1h-1zM55 41h1v1h-1zM55 42h1v1h-1zM55 43h1v1h-1zM55 44h1v1h-1zM8 45h1v1h-1zM9 48h1v1h-1zM54 49h1v1h-1zM10 50h1v1h-1zM11 52h1v1h-1zM53 52h1v1h-1zM52 54h1v1h-1zM13 55h1v1h-1zM51 58h1v1h-1zM14 59h1v1h-1zM14 60h1v1h-1z"/>
<path fill="#8bff00" d="M25 3h1v1h-1zM39 3h1v1h-1zM23 4h1v1h-1zM21 5h1v1h-1zM19 6h1v1h-1zM17 7h1v1h-1zM14 9h1v1h-1zM51 9h1v1h-1zM52 10h1v1h-1zM11 12h1v1h-1zM54 13h1v1h-1zM10 14h1v1h-1zM9 16h1v1h-1zM8 19h1v1h-1zM56 19h1v1h-1zM56 20h1v1h-1zM56 21h1v1h-1zM56 22h1v1h-1zM56 25h1v1h-1zM56 26h1v1h-1zM56 27h1v1h-1zM7 28h1v1h-1zM56 28h1v1h-1zM7 29h1v1h-1zM56 29h1v1h-1zM56 30h1v1h-1zM56 31h1v1h-1zM7 32h1v1h-1zM56 32h1v1h-1zM7 33h1v1h-1zM56 33h1v1h-1zM55 38h1v1h-1zM55 39h1v1h-1zM8 44h1v1h-1zM12 53h1v1h-1zM51 57h1v1h-1zM14 58h1v1h-1zM50 60h1v1h-1z"/>
<path fill="#90ff00" d="M26 3h2v1h-2zM38 3h1v1h-1zM41 4h1v1h-1zM45 6h1v1h-1zM13 10h1v1h-1zM12 11h1v1h-1zM53 12h1v1h-1zM54 14h1v1h-1zM55 16h1v1h-1zM8 20h1v1h-1zM8 21h1v1h-1zM56 23h1v1h-1zM56 24h1v1h-1zM7 30h1v1h-1zM7 31h1v1h-1zM55 37h1v1h-1zM8 43h1v1h-1zM9 47h1v1h-1zM54 48h1v1h-1zM10 49h1v1h-1zM11 51h1v1h-1zM53 51h1v1h-1zM52 53h1v1h-1zM13 54h1v1h-1zM51 56h1v1h-1zM14 57h1v1h-1zM50 59h1v1h-1zM15 61h1v1h-1z"/>
<path fill="#95ff00" d="M28 3h10v1h-10zM24 4h1v1h-1zM40 4h1v1h-1zM43 5h1v1h-1zM18 7h1v1h-1zM47 7h1v1h-1zM16 8h1v1h-1zM49 8h1v1h-1zM11 13h1v1h-1zM10 15h1v1h-1zM9 17h1v1h-1zM55 17h1v1h-1zM8 22h1v1h-1zM8 23h1v1h-1zM55 36h1v1h-1zM8 39h1v1h-1zM8 40h1v1h-1zM8 41h1v1h-1zM8 42h1v1h-1zM9 46h1v1h-1zM54 46h1v1h-1zM54 47h1v1h-1zM53 50h1v1h-1zM12 52h1v1h-1zM51 55h1v1h-1zM14 56h1v1h-1zM50 58h1v1h-1zM15 60h1v1h-1zM49 61h1v1h-1z"/>
<path fill="#9bff00" d="M25 4h1v1h-1zM22 5h1v1h-1zM20 6h1v1h-1zM15 9h1v1h-1zM50 9h1v1h-1zM52 11h1v1h-1zM12 12h1v1h-1zM54 15h1v1h-1zM9 18h1v1h-1zM55 18h1v1h-1zM8 24h1v1h-1zM8 25h1v1h-1zM8 36h1v1h-1zM8 37h1v1h-1zM8 38h1v1h-1zM54 45h1v1h-1zM10 48h1v1h-1zM11 50h1v1h-1zM52 52h1v1h-1zM13 53h1v1h-1zM51 54h1v1h-1zM14 55h1v1h-1zM50 57h1v1h-1zM15 58h1v1h-1zM15 59h1v1h-1zM49 60h1v1h-1z"/>
<path fill="#a0ff00" d="M26 4h1v1h-1zM39 4h1v1h-1zM23 5h1v1h-1zM42 5h1v1h-1zM44 6h1v1h-1zM46 7h1v1h-1zM17 8h1v1h-1zM48 8h1v1h-1zM14 10h1v1h-1zM51 10h1v1h-1zM13 11h1v1h-1zM53 13h1v1h-1zM11 14h1v1h-1zM10 16h1v1h-1zM54 16h1v1h-1zM9 19h1v1h-1zM55 19h1v1h-1zM55 20h1v1h-1zM8 26h1v1h-1zM8 27h1v1h-1zM8 34h1v1h-1zM8 35h1v1h-1zM55 35h1v1h-1zM54 40h1v1h-1zM54 41h1v1h-1zM54 42h1v1h-1zM54 43h1v1h-1zM54 44h1v1h-1zM9 45h1v1h-1zM53 49h1v1h-1zM12 51h1v1h-1zM14 54h1v1h-1zM50 56h1v1h-1zM15 57h1v1h-1zM49 59h1v1h-1zM16 61h1v1h-1z"/>
<path fill="#a5ff00" d="M27 4h2v1h-2zM37 4h2v1h-2zM41 5h1v1h-1zM21 6h1v1h-1zM19 7h1v1h-1zM52 12h1v1h-1zM53 14h1v1h-1zM10 17h1v1h-1zM9 20h1v1h-1zM9 21h1v1h-1zM55 21h1v1h-1zM55 22h1v1h-1zM55 23h1v1h-1zM55 24h1v1h-1zM55 25h1v1h-1zM55 26h1v1h-1zM55 27h1v1h-1zM8 28h1v1h-1zM55 28h1v1h-1zM55 29h1v1h-1zM55 30h1v1h-1zM8 33h1v1h-1zM55 34h1v1h-1zM54 38h1v1h-1zM54 39h1v1h-1zM9 44h1v1h-1zM10 47h1v1h-1zM53 48h1v1h-1zM11 49h1v1h-1zM52 51h1v1h-1zM13 52h1v1h-1zM51 53h1v1h-1zM15 56h1v1h-1zM49 58h1v1h-1zM16 59h1v1h-1zM16 60h1v1h-1zM48 61h1v1h-1z"/>
<path fill="#abff00" d="M29 4h8v1h-8zM24 5h1v1h-1zM16 9h1v1h-1zM49 9h1v1h-1zM12 13h1v1h-1zM11 15h1v1h-1zM54 17h1v1h-1zM10 18h1v1h-1zM9 22h1v1h-1zM8 29h1v1h-1zM8 30h1v1h-1zM8 31h1v1h-1zM55 31h1v1h-1zM8 32h1v1h-1zM55 32h1v1h-1zM55 33h1v1h-1zM54 37h1v1h-1zM9 40h1v1h-1zM9 41h1v1h-1zM9 42h1v1h-1zM9 43h1v1h-1zM10 46h1v1h-1zM53 47h1v1h-1zM52 50h1v1h-1zM14 53h1v1h-1zM15 55h1v1h-1zM50 55h1v1h-1zM16 58h1v1h-1zM48 60h1v1h-1zM17 61h1v1h-1zM17 62h1v1h-1zM47 62h1v1h-1z"/>
<path fill="#b0ff00" d="M25 5h1v1h-1zM40 5h1v1h-1zM22 6h1v1h-1zM43 6h1v1h-1zM45 7h1v1h-1zM18 8h1v1h-1zM47 8h1v1h-1zM15 10h1v1h-1zM50 10h1v1h-1zM14 11h1v1h-1zM51 11h1v1h-1zM13 12h1v1h-1zM52 13h1v1h-1zM53 15h1v1h-1zM11 16h1v1h-1zM54 18h1v1h-1zM10 19h1v1h-1zM54 19h1v1h-1zM9 23h1v1h-1zM54 36h1v1h-1zM9 37h1v1h-1zM9 38h1v1h-1zM9 39h1v1h-1zM10 45h1v1h-1zM53 45h1v1h-1zM53 46h1v1h-1zM11 48h1v1h-1zM12 50h1v1h-1zM13 51h1v1h-1zM51 52h1v1h-1zM15 54h1v1h-1zM50 54h1v1h-1zM16 57h1v1h-1zM49 57h1v1h-1zM48 59h1v1h-1zM17 60h1v1h-1zM47 61h1v1h-1z"/>
<path fill="#b6fd00" d="M26 5h1v1h-1zM39 5h1v1h-1zM20 7h1v1h-1zM12 14h1v1h-1zM53 16h1v1h-1zM11 17h1v1h-1zM10 20h1v1h-1zM54 20h1v1h-1zM54 21h1v1h-1zM54 22h1v1h-1zM9 24h1v1h-1zM9 25h1v1h-1zM9 26h1v1h-1zM54 26h1v1h-1zM54 27h1v1h-1zM54 28h1v1h-1zM9 35h1v1h-1zM54 35h1v1h-1zM9 36h1v1h-1zM53 41h1v1h-1zM53 42h1v1h-1zM53 43h1v1h-1zM10 44h1v1h-1zM53 44h1v1h-1zM11 47h1v1h-1zM12 49h1v1h-1zM52 49h1v1h-1zM51 51h1v1h-1zM14 52h1v1h-1zM50 53h1v1h-1zM16 56h1v1h-1zM49 56h1v1h-1zM48 58h1v1h-1zM17 59h1v1h-1zM47 60h1v1h-1zM18 62h1v1h-1zM46 62h1v1h-1z"/>
<path fill="#bcfc00" d="M27 5h1v1h-1zM38 5h1v1h-1zM23 6h1v1h-1zM42 6h1v1h-1zM17 9h1v1h-1zM48 9h1v1h-1zM51 12h1v1h-1zM13 13h1v1h-1zM52 14h1v1h-1zM12 15h1v1h-1zM53 17h1v1h-1zM11 18h1v1h-1zM53 18h1v1h-1zM10 21h1v1h-1zM54 23h1v1h-1zM54 24h1v1h-1zM54 25h1v1h-1zM9 27h1v1h-1zM9 28h1v1h-1zM54 29h1v1h-1zM54 30h1v1h-1zM9 33h1v1h-1zM9 34h1v1h-1zM54 34h1v1h-1zM53 39h1v1h-1zM53 40h1v1h-1zM10 43h1v1h-1zM11 46h1v1h-1zM52 47h1v1h-1zM52 48h1v1h-1zM15 53h1v1h-1zM16 55h1v1h-1zM49 55h1v1h-1zM17 57h1v1h-1zM17 58h1v1h-1zM18 60h1v1h-1zM18 61h1v1h-1zM19 63h1v1h-1zM45 63h1v1h-1z"/>
<path fill="#c2fa00" d="M28 5h6v1h-6zM36 5h2v1h-2zM24 6h1v1h-1zM21 7h1v1h-1zM44 7h1v1h-1zM19 8h1v1h-1zM46 8h1v1h-1zM16 10h1v1h-1zM15 11h1v1h-1zM50 11h1v1h-1zM14 12h1v1h-1zM52 15h1v1h-1zM12 16h1v1h-1zM11 19h1v1h-1zM53 19h1v1h-1zM53 20h1v1h-1zM10 22h1v1h-1zM10 23h1v1h-1zM9 29h1v1h-1zM9 30h1v1h-1zM9 31h1v1h-1zM54 31h1v1h-1zM9 32h1v1h-1zM54 32h1v1h-1zM54 33h1v1h-1zM53 37h1v1h-1zM10 38h1v1h-1zM53 38h1v1h-1zM10 39h1v1h-1zM10 40h1v1h-1zM10 41h1v1h-1zM10 42h1v1h-1zM11 45h1v1h-1zM52 46h1v1h-1zM12 48h1v1h-1zM13 50h1v1h-1zM51 50h1v1h-1zM14 51h1v1h-1zM15 52h1v1h-1zM50 52h1v1h-1zM16 54h1v1h-1zM49 54h1v1h-1zM17 56h1v1h-1zM48 57h1v1h-1zM18 59h1v1h-1zM47 59h1v1h-1zM46 61h1v1h-1zM19 62h1v1h-1zM45 62h1v1h-1z"/>
<path fill="#c8f800" d="M34 5h2v1h-2zM25 6h1v1h-1zM41 6h1v1h-1zM49 10h1v1h-1zM51 13h1v1h-1zM13 14h1v1h-1zM52 16h1v1h-1zM12 17h1v1h-1zM11 20h1v1h-1zM53 21h1v1h-1zM53 22h1v1h-1zM53 23h1v1h-1zM10 24h1v1h-1zM53 24h1v1h-1zM10 25h1v1h-1zM53 25h1v1h-1zM53 26h1v1h-1zM53 27h1v1h-1zM53 28h1v1h-1zM10 35h1v1h-1zM10 36h1v1h-1zM53 36h1v1h-1zM10 37h1v1h-1zM11 44h1v1h-1zM52 44h1v1h-1zM52 45h1v1h-1zM12 47h1v1h-1zM13 49h1v1h-1zM51 49h1v1h-1zM50 51h1v1h-1zM16 53h1v1h-1zM17 55h1v1h-1zM48 56h1v1h-1zM18 57h1v1h-1zM18 58h1v1h-1zM47 58h1v1h-1zM19 60h1v1h-1zM46 60h1v1h-1zM19 61h1v1h-1zM20 63h1v1h-1zM44 63h1v1h-1z"/>
<path fill="#ccf600" d="M40 6h1v1h-1zM22 7h1v1h-1zM43 7h1v1h-1zM18 9h1v1h-1zM14 13h1v1h-1zM52 17h1v1h-1zM12 18h1v1h-1zM52 18h1v1h-1zM11 21h1v1h-1zM11 22h1v1h-1zM10 26h1v1h-1zM10 27h1v1h-1zM10 28h1v1h-1zM53 29h1v1h-1zM53 30h1v1h-1zM10 33h1v1h-1zM10 34h1v1h-1zM53 35h1v1h-1zM52 39h1v1h-1zM52 40h1v1h-1zM52 41h1v1h-1zM11 42h1v1h-1zM52 42h1v1h-1zM11 43h1v1h-1zM52 43h1v1h-1zM12 46h1v1h-1zM51 47h1v1h-1zM13 48h1v1h-1zM51 48h1v1h-1zM14 50h1v1h-1zM15 51h1v1h-1zM16 52h1v1h-1zM49 53h1v1h-1zM17 54h1v1h-1zM48 55h1v1h-1zM18 56h1v1h-1zM47 57h1v1h-1zM19 59h1v1h-1zM46 59h1v1h-1zM20 61h1v1h-1zM45 61h1v1h-1zM20 62h1v1h-1zM44 62h1v1h-1zM21 64h1v1h-1zM43 64h1v1h-1z"/>
<path fill="#cff400" d="M26 6h1v1h-1zM39 6h1v1h-1zM20 8h1v1h-1zM45 8h1v1h-1zM47 9h1v1h-1zM17 10h1v1h-1zM16 11h1v1h-1zM15 12h1v1h-1zM50 12h1v1h-1zM51 14h1v1h-1zM13 15h1v1h-1zM12 19h1v1h-1zM52 19h1v1h-1zM52 20h1v1h-1zM52 21h1v1h-1zM52 22h1v1h-1zM11 23h1v1h-1zM52 23h1v1h-1zM11 24h1v1h-1zM52 24h1v1h-1zM52 25h1v1h-1zM10 29h1v1h-1zM10 30h1v1h-1zM10 31h1v1h-1zM53 31h1v1h-1zM10 32h1v1h-1zM53 32h1v1h-1zM53 33h1v1h-1zM53 34h1v1h-1zM11 38h1v1h-1zM52 38h1v1h-1zM11 39h1v1h-1zM11 40h1v1h-1zM11 41h1v1h-1zM12 44h1v1h-1zM12 45h1v1h-1zM51 46h1v1h-1zM13 47h1v1h-1zM14 49h1v1h-1zM15 50h1v1h-1zM50 50h1v1h-1zM16 51h1v1h-1zM49 52h1v1h-1zM17 53h1v1h-1zM48 54h1v1h-1zM18 55h1v1h-1zM47 56h1v1h-1zM19 57h1v1h-1zM19 58h1v1h-1zM46 58h1v1h-1zM20 60h1v1h-1zM45 60h1v1h-1zM21 63h1v1h-1zM43 63h1v1h-1zM42 64h1v1h-1z"/>
<path fill="#d3f300" d="M27 6h2v1h-2zM38 6h1v1h-1zM23 7h1v1h-1zM42 7h1v1h-1zM48 10h1v1h-1zM49 11h1v1h-1zM14 14h1v1h-1zM51 15h1v1h-1zM13 16h1v1h-1zM13 17h1v1h-1zM12 20h1v1h-1zM12 21h1v1h-1zM12 22h1v1h-1zM11 25h1v1h-1zM11 26h1v1h-1zM52 26h1v1h-1zM11 27h1v1h-1zM52 27h1v1h-1zM52 28h1v1h-1zM52 29h1v1h-1zM52 30h1v1h-1zM11 34h1v1h-1zM11 35h1v1h-1zM11 36h1v1h-1zM52 36h1v1h-1zM11 37h1v1h-1zM52 37h1v1h-1zM12 42h1v1h-1zM12 43h1v1h-1zM51 43h1v1h-1zM51 44h1v1h-1zM13 45h1v1h-1zM51 45h1v1h-1zM13 46h1v1h-1zM14 48h1v1h-1zM50 48h1v1h-1zM15 49h1v1h-1zM50 49h1v1h-1zM49 51h1v1h-1zM17 52h1v1h-1zM18 53h1v1h-1zM48 53h1v1h-1zM18 54h1v1h-1zM19 55h1v1h-1zM47 55h1v1h-1zM19 56h1v1h-1zM46 57h1v1h-1zM20 58h1v1h-1zM20 59h1v1h-1zM45 59h1v1h-1zM21 61h1v1h-1zM44 61h1v1h-1zM21 62h1v1h-1zM43 62h1v1h-1zM22 64h1v1h-1z"/>
<path fill="#d6f100" d="M29 6h3v1h-3zM36 6h2v1h-2zM19 9h1v1h-1zM50 13h1v1h-1zM51 16h1v1h-1zM51 17h1v1h-1zM13 18h1v1h-1zM51 18h1v1h-1zM51 19h1v1h-1zM12 23h1v1h-1zM12 24h1v1h-1zM12 25h1v1h-1zM12 26h1v1h-1zM11 28h1v1h-1zM11 29h1v1h-1zM11 30h1v1h-1zM11 31h1v1h-1zM52 31h1v1h-1zM11 32h1v1h-1zM52 32h1v1h-1zM11 33h1v1h-1zM52 33h1v1h-1zM52 34h1v1h-1zM52 35h1v1h-1zM12 38h1v1h-1zM12 39h1v1h-1zM51 39h1v1h-1zM12 40h1v1h-1zM51 40h1v1h-1zM12 41h1v1h-1zM51 41h1v1h-1zM51 42h1v1h-1zM13 43h1v1h-1zM13 44h1v1h-1zM14 46h1v1h-1zM50 46h1v1h-1zM14 47h1v1h-1zM50 47h1v1h-1zM15 48h1v1h-1zM16 49h1v1h-1zM49 49h1v1h-1zM16 50h1v1h-1zM49 50h1v1h-1zM17 51h1v1h-1zM48 51h1v1h-1zM18 52h1v1h-1zM48 52h1v1h-1zM19 53h1v1h-1zM19 54h1v1h-1zM47 54h1v1h-1zM20 56h1v1h-1zM46 56h1v1h-1zM20 57h1v1h-1zM21 58h1v1h-1zM45 58h1v1h-1zM21 59h1v1h-1zM21 60h1v1h-1zM44 60h1v1h-1zM43 61h1v1h-1zM22 62h1v1h-1zM22 63h1v1h-1zM42 63h1v1h-1zM23 64h1v1h-1zM41 64h1v1h-1z"/>
<path fill="#d9ee00" d="M32 6h4v1h-4zM24 7h1v1h-1zM41 7h1v1h-1zM21 8h1v1h-1zM44 8h1v1h-1zM46 9h1v1h-1zM18 10h1v1h-1zM16 12h1v1h-1zM15 13h1v1h-1zM14 15h1v1h-1zM13 19h1v1h-1zM13 20h1v1h-1zM51 20h1v1h-1zM51 21h1v1h-1zM51 22h1v1h-1zM13 23h1v1h-1zM51 23h1v1h-1zM13 24h1v1h-1zM51 24h1v1h-1zM13 25h1v1h-1zM51 25h1v1h-1zM51 26h1v1h-1zM12 27h1v1h-1zM51 27h1v1h-1zM12 28h1v1h-1zM51 28h1v1h-1zM12 29h1v1h-1zM51 29h1v1h-1zM51 30h1v1h-1zM51 31h1v1h-1zM12 32h1v1h-1zM12 33h1v1h-1zM12 34h1v1h-1zM12 35h1v1h-1zM12 36h1v1h-1zM12 37h1v1h-1zM51 37h1v1h-1zM51 38h1v1h-1zM13 40h1v1h-1zM13 41h1v1h-1zM13 42h1v1h-1zM14 43h1v1h-1zM50 43h1v1h-1zM14 44h1v1h-1zM50 44h1v1h-1zM14 45h2v1h-2zM50 45h1v1h-1zM15 46h1v1h-1zM15 47h1v1h-1zM49 47h1v1h-1zM16 48h1v1h-1zM49 48h1v1h-1zM17 49h1v1h-1zM17 50h2v1h-2zM48 50h1v1h-1zM18 51h2v1h-2zM19 52h1v1h-1zM47 52h1v1h-1zM20 53h1v1h-1zM47 53h1v1h-1zM20 54h1v1h-1zM46 54h1v1h-1zM20 55h2v1h-2zM46 55h1v1h-1zM21 56h1v1h-1zM45 56h1v1h-1zM21 57h1v1h-1zM45 57h1v1h-1zM44 58h1v1h-1zM22 59h1v1h-1zM44 59h1v1h-1zM22 60h1v1h-1zM43 60h1v1h-1zM22 61h1v1h-1zM42 62h1v1h-1zM23 63h1v1h-1zM41 63h1v1h-1zM40 64h1v1h-1z"/>
<path fill="#dbe900" d="M25 7h1v1h-1zM40 7h1v1h-1zM47 10h1v1h-1zM17 11h1v1h-1zM49 12h1v1h-1zM50 14h1v1h-1zM14 16h1v1h-1zM13 21h1v1h-1zM13 22h1v1h-1zM13 26h1v1h-1zM13 27h1v1h-1zM13 28h1v1h-1zM13 29h1v1h-1zM12 30h2v1h-2zM12 31h2v1h-2zM13 32h7v1h-7zM51 32h1v1h-1zM13 33h9v1h-9zM51 33h1v1h-1zM13 34h11v1h-11zM51 34h1v1h-1zM13 35h1v1h-1zM17 35h10v1h-10zM51 35h1v1h-1zM13 36h1v1h-1zM20 36h8v1h-8zM51 36h1v1h-1zM13 37h1v1h-1zM23 37h7v1h-7zM13 38h1v1h-1zM24 38h7v1h-7zM13 39h1v1h-1zM24 39h7v1h-7zM50 39h1v1h-1zM14 40h1v1h-1zM24 40h8v1h-8zM50 40h1v1h-1zM14 41h2v1h-2zM25 41h6v1h-6zM50 41h1v1h-1zM14 42h3v1h-3zM26 42h5v1h-5zM50 42h1v1h-1zM15 43h3v1h-3zM27 43h3v1h-3zM15 44h4v1h-4zM28 44h1v1h-1zM49 44h1v1h-1zM16 45h3v1h-3zM49 45h1v1h-1zM16 46h3v1h-3zM28 46h1v1h-1zM49 46h1v1h-1zM16 47h3v1h-3zM27 47h2v1h-2zM17 48h3v1h-3zM26 48h3v1h-3zM48 48h1v1h-1zM18 49h3v1h-3zM25 49h4v1h-4zM48 49h1v1h-1zM19 50h4v1h-4zM26 50h1v1h-1zM47 50h1v1h-1zM20 51h3v1h-3zM47 51h1v1h-1zM20 52h3v1h-3zM46 52h1v1h-1zM21 53h2v1h-2zM46 53h1v1h-1zM21 54h2v1h-2zM22 55h1v1h-1zM45 55h1v1h-1zM22 56h1v1h-1zM22 57h1v1h-1zM44 57h1v1h-1zM22 58h1v1h-1zM43 59h1v1h-1zM23 60h1v1h-1zM23 61h1v1h-1zM42 61h1v1h-1zM23 62h1v1h-1zM41 62h1v1h-1zM40 63h1v1h-1zM24 64h1v1h-1z"/>
<path fill="#dee500" d="M26 7h1v1h-1zM39 7h1v1h-1zM22 8h1v1h-1zM43 8h1v1h-1zM20 9h1v1h-1zM48 11h1v1h-1zM15 14h1v1h-1zM50 15h1v1h-1zM14 17h1v1h-1zM14 18h1v1h-1zM14 24h1v1h-1zM14 25h1v1h-1zM14 26h1v1h-1zM14 27h1v1h-1zM14 28h1v1h-1zM14 29h1v1h-1zM50 29h1v1h-1zM14 30h4v1h-4zM50 30h1v1h-1zM14 31h6v1h-6zM50 31h1v1h-1zM20 32h2v1h-2zM22 33h2v1h-2zM24 34h2v1h-2zM14 35h3v1h-3zM27 35h1v1h-1zM14 36h6v1h-6zM28 36h2v1h-2zM14 37h9v1h-9zM30 37h2v1h-2zM50 37h1v1h-1zM14 38h10v1h-10zM31 38h2v1h-2zM50 38h1v1h-1zM14 39h10v1h-10zM31 39h3v1h-3zM15 40h9v1h-9zM32 40h2v1h-2zM49 40h1v1h-1zM16 41h9v1h-9zM31 41h2v1h-2zM49 41h1v1h-1zM17 42h9v1h-9zM31 42h2v1h-2zM49 42h1v1h-1zM18 43h9v1h-9zM30 43h3v1h-3zM49 43h1v1h-1zM19 44h9v1h-9zM29 44h3v1h-3zM48 44h1v1h-1zM19 45h13v1h-13zM48 45h1v1h-1zM19 46h9v1h-9zM29 46h3v1h-3zM48 46h1v1h-1zM19 47h8v1h-8zM29 47h3v1h-3zM47 47h2v1h-2zM20 48h6v1h-6zM29 48h3v1h-3zM47 48h1v1h-1zM21 49h4v1h-4zM29 49h3v1h-3zM46 49h2v1h-2zM23 50h3v1h-3zM27 50h4v1h-4zM46 50h1v1h-1zM23 51h7v1h-7zM45 51h2v1h-2zM23 52h6v1h-6zM45 52h1v1h-1zM23 53h5v1h-5zM45 53h1v1h-1zM23 54h3v1h-3zM44 54h2v1h-2zM23 55h2v1h-2zM44 55h1v1h-1zM23 56h2v1h-2zM44 56h1v1h-1zM23 57h2v1h-2zM23 58h1v1h-1zM43 58h1v1h-1zM23 59h1v1h-1zM42 60h1v1h-1zM24 61h1v1h-1zM41 61h1v1h-1zM24 62h1v1h-1zM24 63h1v1h-1zM25 64h1v1h-1zM39 64h1v1h-1z"/>
<path fill="#e0e000" d="M27 7h1v1h-1zM38 7h1v1h-1zM23 8h1v1h-1zM45 9h1v1h-1zM16 13h1v1h-1zM50 16h1v1h-1zM50 17h1v1h-1zM50 18h1v1h-1zM14 19h1v1h-1zM50 19h1v1h-1zM14 20h1v1h-1zM50 20h1v1h-1zM50 21h1v1h-1zM14 22h1v1h-1zM50 22h1v1h-1zM14 23h1v1h-1zM50 23h1v1h-1zM50 24h1v1h-1zM50 25h1v1h-1zM50 26h1v1h-1zM50 27h1v1h-1zM15 28h1v1h-1zM50 28h1v1h-1zM15 29h2v1h-2zM18 30h2v1h-2zM20 31h1v1h-1zM22 32h1v1h-1zM50 32h1v1h-1zM24 33h2v1h-2zM50 33h1v1h-1zM26 34h1v1h-1zM50 34h1v1h-1zM28 35h1v1h-1zM50 35h1v1h-1zM30 36h2v1h-2zM50 36h1v1h-1zM32 37h2v1h-2zM33 38h2v1h-2zM49 38h1v1h-1zM34 39h1v1h-1zM49 39h1v1h-1zM34 40h1v1h-1zM48 40h1v1h-1zM33 41h2v1h-2zM48 41h1v1h-1zM33 42h1v1h-1zM47 42h2v1h-2zM33 43h1v1h-1zM47 43h2v1h-2zM32 44h2v1h-2zM46 44h2v1h-2zM32 45h1v1h-1zM46 45h2v1h-2zM32 46h1v1h-1zM46 46h2v1h-2zM32 47h1v1h-1zM46 47h1v1h-1zM32 48h1v1h-1zM45 48h2v1h-2zM32 49h1v1h-1zM44 49h2v1h-2zM31 50h2v1h-2zM44 50h2v1h-2zM30 51h2v1h-2zM44 51h1v1h-1zM29 52h2v1h-2zM44 52h1v1h-1zM28 53h2v1h-2zM44 53h1v1h-1zM26 54h3v1h-3zM43 54h1v1h-1zM25 55h2v1h-2zM43 55h1v1h-1zM25 56h1v1h-1zM43 56h1v1h-1zM25 57h1v1h-1zM43 57h1v1h-1zM24 58h2v1h-2zM42 58h1v1h-1zM24 59h1v1h-1zM42 59h1v1h-1zM24 60h1v1h-1zM41 60h1v1h-1zM25 62h1v1h-1zM40 62h1v1h-1zM25 63h1v1h-1zM39 63h1v1h-1zM26 64h1v1h-1zM38 64h1v1h-1z"/>
<path fill="#e0d900" d="M28 7h2v1h-2zM37 7h1v1h-1zM42 8h1v1h-1zM19 10h1v1h-1zM18 11h1v1h-1zM17 12h1v1h-1zM49 13h1v1h-1zM15 15h1v1h-1zM14 21h1v1h-1zM15 25h1v1h-1zM15 26h1v1h-1zM15 27h1v1h-1zM16 28h1v1h-1zM17 29h2v1h-2zM20 30h1v1h-1zM21 31h1v1h-1zM23 32h1v1h-1zM27 34h1v1h-1zM29 35h2v1h-2zM32 36h2v1h-2zM49 36h1v1h-1zM34 37h2v1h-2zM49 37h1v1h-1zM35 38h2v1h-2zM48 38h1v1h-1zM35 39h2v1h-2zM47 39h2v1h-2zM35 40h1v1h-1zM47 40h1v1h-1zM35 41h1v1h-1zM46 41h2v1h-2zM34 42h1v1h-1zM45 42h2v1h-2zM34 43h1v1h-1zM45 43h2v1h-2zM34 44h1v1h-1zM45 44h1v1h-1zM33 45h1v1h-1zM45 45h1v1h-1zM33 46h1v1h-1zM44 46h2v1h-2zM33 47h1v1h-1zM44 47h2v1h-2zM33 48h1v1h-1zM43 48h2v1h-2zM33 49h1v1h-1zM43 49h1v1h-1zM33 50h1v1h-1zM42 50h2v1h-2zM32 51h1v1h-1zM42 51h2v1h-2zM31 52h1v1h-1zM42 52h2v1h-2zM30 53h1v1h-1zM42 53h2v1h-2zM29 54h1v1h-1zM42 54h1v1h-1zM27 55h2v1h-2zM42 55h1v1h-1zM26 56h2v1h-2zM42 56h1v1h-1zM26 57h1v1h-1zM42 57h1v1h-1zM26 58h1v1h-1zM25 59h1v1h-1zM41 59h1v1h-1zM25 60h1v1h-1zM25 61h1v1h-1zM40 61h1v1h-1zM39 62h1v1h-1zM26 63h1v1h-1zM38 63h1v1h-1zM27 64h1v1h-1zM37 64h1v1h-1z"/>
<path fill="#e0d200" d="M30 7h7v1h-7zM24 8h1v1h-1zM21 9h1v1h-1zM44 9h1v1h-1zM46 10h1v1h-1zM48 12h1v1h-1zM49 14h1v1h-1zM15 16h1v1h-1zM15 24h1v1h-1zM16 27h1v1h-1zM17 28h1v1h-1zM19 29h1v1h-1zM49 29h1v1h-1zM49 30h1v1h-1zM22 31h1v1h-1zM49 31h1v1h-1zM24 32h1v1h-1zM49 32h1v1h-1zM26 33h1v1h-1zM49 33h1v1h-1zM28 34h1v1h-1zM49 34h1v1h-1zM31 35h2v1h-2zM49 35h1v1h-1zM34 36h2v1h-2zM48 36h1v1h-1zM36 37h2v1h-2zM47 37h2v1h-2zM37 38h2v1h-2zM47 38h1v1h-1zM37 39h2v1h-2zM46 39h1v1h-1zM36 40h2v1h-2zM45 40h2v1h-2zM36 41h1v1h-1zM44 41h2v1h-2zM35 42h2v1h-2zM44 42h1v1h-1zM35 43h1v1h-1zM44 43h1v1h-1zM35 44h1v1h-1zM44 44h1v1h-1zM34 45h1v1h-1zM43 45h2v1h-2zM34 46h1v1h-1zM43 46h1v1h-1zM34 47h1v1h-1zM43 47h1v1h-1zM34 48h1v1h-1zM42 48h1v1h-1zM34 49h1v1h-1zM42 49h1v1h-1zM34 50h1v1h-1zM41 50h1v1h-1zM33 51h1v1h-1zM41 51h1v1h-1zM32 52h2v1h-2zM41 52h1v1h-1zM31 53h1v1h-1zM41 53h1v1h-1zM30 54h1v1h-1zM29 55h1v1h-1zM28 56h1v1h-1zM41 56h1v1h-1zM27 57h1v1h-1zM41 57h1v1h-1zM41 58h1v1h-1zM26 59h1v1h-1zM26 60h1v1h-1zM40 60h1v1h-1zM26 61h1v1h-1zM39 61h1v1h-1zM26 62h1v1h-1zM38 62h1v1h-1zM27 63h1v1h-1zM37 63h1v1h-1zM28 64h1v1h-1zM35 64h2v1h-2z"/>
<path fill="#e0cb00" d="M25 8h1v1h-1zM41 8h1v1h-1zM47 11h1v1h-1zM16 14h1v1h-1zM49 15h1v1h-1zM15 17h1v1h-1zM15 22h1v1h-1zM15 23h1v1h-1zM16 26h1v1h-1zM49 27h1v1h-1zM18 28h1v1h-1zM49 28h1v1h-1zM21 30h1v1h-1zM23 31h1v1h-1zM25 32h1v1h-1zM27 33h1v1h-1zM29 34h1v1h-1zM33 35h1v1h-1zM48 35h1v1h-1zM36 36h2v1h-2zM47 36h1v1h-1zM38 37h2v1h-2zM46 37h1v1h-1zM39 38h1v1h-1zM45 38h2v1h-2zM39 39h1v1h-1zM44 39h2v1h-2zM38 40h2v1h-2zM43 40h2v1h-2zM37 41h2v1h-2zM43 41h1v1h-1zM37 42h1v1h-1zM43 42h1v1h-1zM36 43h1v1h-1zM43 43h1v1h-1zM36 44h1v1h-1zM43 44h1v1h-1zM35 45h2v1h-2zM42 45h1v1h-1zM35 46h1v1h-1zM42 46h1v1h-1zM35 47h1v1h-1zM41 47h2v1h-2zM35 48h1v1h-1zM41 48h1v1h-1zM35 49h1v1h-1zM41 49h1v1h-1zM35 50h1v1h-1zM40 50h1v1h-1zM34 51h1v1h-1zM40 51h1v1h-1zM34 52h1v1h-1zM40 52h1v1h-1zM32 53h2v1h-2zM40 53h1v1h-1zM31 54h1v1h-1zM41 54h1v1h-1zM30 55h1v1h-1zM41 55h1v1h-1zM29 56h1v1h-1zM28 57h1v1h-1zM40 57h1v1h-1zM27 58h1v1h-1zM40 58h1v1h-1zM27 59h1v1h-1zM40 59h1v1h-1zM27 60h1v1h-1zM39 60h1v1h-1zM27 61h1v1h-1zM38 61h1v1h-1zM27 62h1v1h-1zM37 62h1v1h-1zM28 63h2v1h-2zM36 63h1v1h-1zM29 64h6v1h-6z"/>
<path fill="#e1c500" d="M26 8h1v1h-1zM40 8h1v1h-1zM22 9h1v1h-1zM43 9h1v1h-1zM20 10h1v1h-1zM19 11h1v1h-1zM18 12h1v1h-1zM17 13h1v1h-1zM49 16h1v1h-1zM49 17h1v1h-1zM15 18h1v1h-1zM49 18h1v1h-1zM15 19h1v1h-1zM49 19h1v1h-1zM15 20h1v1h-1zM49 20h1v1h-1zM15 21h1v1h-1zM49 21h1v1h-1zM49 22h1v1h-1zM49 23h1v1h-1zM49 24h1v1h-1zM16 25h1v1h-1zM49 25h1v1h-1zM49 26h1v1h-1zM17 27h1v1h-1zM20 29h1v1h-1zM22 30h1v1h-1zM24 31h1v1h-1zM48 31h1v1h-1zM26 32h1v1h-1zM48 32h1v1h-1zM48 33h1v1h-1zM30 34h3v1h-3zM48 34h1v1h-1zM34 35h2v1h-2zM47 35h1v1h-1zM38 36h1v1h-1zM40 37h1v1h-1zM45 37h1v1h-1zM40 38h2v1h-2zM44 38h1v1h-1zM40 39h4v1h-4zM40 40h3v1h-3zM39 41h4v1h-4zM38 42h1v1h-1zM41 42h2v1h-2zM37 43h1v1h-1zM41 43h2v1h-2zM37 44h1v1h-1zM41 44h2v1h-2zM37 45h1v1h-1zM41 45h1v1h-1zM36 46h2v1h-2zM40 46h2v1h-2zM36 47h2v1h-2zM40 47h1v1h-1zM36 48h2v1h-2zM39 48h2v1h-2zM36 49h1v1h-1zM39 49h2v1h-2zM36 50h1v1h-1zM39 50h1v1h-1zM35 51h2v1h-2zM39 51h1v1h-1zM35 52h1v1h-1zM39 52h1v1h-1zM34 53h1v1h-1zM39 53h1v1h-1zM32 54h2v1h-2zM39 54h2v1h-2zM31 55h1v1h-1zM40 55h1v1h-1zM30 56h1v1h-1zM40 56h1v1h-1zM29 57h1v1h-1zM28 58h1v1h-1zM39 58h1v1h-1zM28 59h1v1h-1zM39 59h1v1h-1zM28 60h1v1h-1zM38 60h1v1h-1zM28 61h1v1h-1zM37 61h1v1h-1zM28 62h2v1h-2zM36 62h1v1h-1zM30 63h6v1h-6z"/>
<path fill="#e3be00" d="M27 8h1v1h-1zM39 8h1v1h-1zM45 10h1v1h-1zM48 13h1v1h-1zM16 15h1v1h-1zM16 24h1v1h-1zM17 26h1v1h-1zM18 27h1v1h-1zM19 28h1v1h-1zM21 29h1v1h-1zM23 30h1v1h-1zM48 30h1v1h-1zM28 33h1v1h-1zM33 34h1v1h-1zM47 34h1v1h-1zM36 35h2v1h-2zM39 36h1v1h-1zM46 36h1v1h-1zM41 37h1v1h-1zM44 37h1v1h-1zM42 38h2v1h-2zM39 42h2v1h-2zM38 43h3v1h-3zM38 44h3v1h-3zM38 45h3v1h-3zM38 46h2v1h-2zM38 47h2v1h-2zM38 48h1v1h-1zM37 49h2v1h-2zM37 50h2v1h-2zM37 51h2v1h-2zM36 52h3v1h-3zM35 53h4v1h-4zM34 54h2v1h-2zM37 54h2v1h-2zM32 55h1v1h-1zM38 55h2v1h-2zM31 56h1v1h-1zM39 56h1v1h-1zM39 57h1v1h-1zM29 58h1v1h-1zM38 58h1v1h-1zM29 59h1v1h-1zM38 59h1v1h-1zM29 60h1v1h-1zM37 60h1v1h-1zM29 61h1v1h-1zM36 61h1v1h-1zM30 62h2v1h-2zM34 62h2v1h-2z"/>
<path fill="#e6b700" d="M28 8h1v1h-1zM38 8h1v1h-1zM23 9h1v1h-1zM42 9h1v1h-1zM21 10h1v1h-1zM46 11h1v1h-1zM47 12h1v1h-1zM17 14h1v1h-1zM16 16h1v1h-1zM16 23h1v1h-1zM20 28h1v1h-1zM48 28h1v1h-1zM48 29h1v1h-1zM25 31h1v1h-1zM27 32h1v1h-1zM29 33h1v1h-1zM47 33h1v1h-1zM34 34h1v1h-1zM38 35h2v1h-2zM46 35h1v1h-1zM40 36h2v1h-2zM45 36h1v1h-1zM42 37h2v1h-2zM36 54h1v1h-1zM33 55h5v1h-5zM32 56h1v1h-1zM37 56h2v1h-2zM30 57h1v1h-1zM37 57h2v1h-2zM30 58h1v1h-1zM37 58h1v1h-1zM37 59h1v1h-1zM30 60h1v1h-1zM36 60h1v1h-1zM30 61h2v1h-2zM35 61h1v1h-1zM32 62h2v1h-2z"/>
<path fill="#e8b000" d="M29 8h3v1h-3zM35 8h3v1h-3zM24 9h1v1h-1zM44 10h1v1h-1zM18 13h1v1h-1zM48 14h1v1h-1zM16 17h1v1h-1zM16 22h1v1h-1zM17 25h1v1h-1zM18 26h1v1h-1zM48 26h1v1h-1zM19 27h1v1h-1zM48 27h1v1h-1zM22 29h1v1h-1zM24 30h1v1h-1zM47 32h1v1h-1zM30 33h2v1h-2zM35 34h1v1h-1zM46 34h1v1h-1zM40 35h1v1h-1zM45 35h1v1h-1zM42 36h3v1h-3zM33 56h4v1h-4zM31 57h1v1h-1zM36 57h1v1h-1zM36 58h1v1h-1zM30 59h1v1h-1zM36 59h1v1h-1zM31 60h1v1h-1zM35 60h1v1h-1zM32 61h3v1h-3z"/>
<path fill="#eba300" d="M32 8h3v1h-3zM25 9h1v1h-1zM41 9h1v1h-1zM22 10h1v1h-1zM20 11h1v1h-1zM19 12h1v1h-1zM17 15h1v1h-1zM48 15h1v1h-1zM48 16h1v1h-1zM48 17h1v1h-1zM16 18h1v1h-1zM48 18h1v1h-1zM16 19h1v1h-1zM48 19h1v1h-1zM16 20h1v1h-1zM48 20h1v1h-1zM16 21h1v1h-1zM48 21h1v1h-1zM48 22h1v1h-1zM48 23h1v1h-1zM17 24h1v1h-1zM48 24h1v1h-1zM48 25h1v1h-1zM21 28h1v1h-1zM23 29h1v1h-1zM47 30h1v1h-1zM26 31h1v1h-1zM47 31h1v1h-1zM28 32h1v1h-1zM32 33h1v1h-1zM36 34h3v1h-3zM41 35h1v1h-1zM44 35h1v1h-1zM32 57h4v1h-4zM31 58h1v1h-1zM34 58h2v1h-2zM31 59h1v1h-1zM34 59h2v1h-2zM32 60h3v1h-3z"/>
<path fill="#ee9600" d="M26 9h1v1h-1zM40 9h1v1h-1zM43 10h1v1h-1zM45 11h1v1h-1zM47 13h1v1h-1zM17 23h1v1h-1zM18 25h1v1h-1zM20 27h1v1h-1zM47 29h1v1h-1zM25 30h1v1h-1zM33 33h1v1h-1zM46 33h1v1h-1zM39 34h1v1h-1zM45 34h1v1h-1zM42 35h2v1h-2zM32 58h2v1h-2zM32 59h2v1h-2z"/>
<path fill="#f08a00" d="M27 9h1v1h-1zM39 9h1v1h-1zM23 10h1v1h-1zM21 11h1v1h-1zM46 12h1v1h-1zM18 14h1v1h-1zM17 16h1v1h-1zM17 22h1v1h-1zM19 26h1v1h-1zM22 28h1v1h-1zM47 28h1v1h-1zM24 29h1v1h-1zM27 31h1v1h-1zM29 32h1v1h-1zM46 32h1v1h-1zM34 33h1v1h-1zM40 34h1v1h-1zM44 34h1v1h-1z"/>
<path fill="#f07d00" d="M28 9h1v1h-1zM38 9h1v1h-1zM42 10h1v1h-1zM20 12h1v1h-1zM19 13h1v1h-1zM47 14h1v1h-1zM17 21h1v1h-1zM18 24h1v1h-1zM47 26h1v1h-1zM21 27h1v1h-1zM47 27h1v1h-1zM23 28h1v1h-1zM26 30h1v1h-1zM46 31h1v1h-1zM30 32h2v1h-2zM35 33h4v1h-4zM45 33h1v1h-1zM41 34h3v1h-3z"/>
<path fill="#f07000" d="M29 9h2v1h-2zM36 9h2v1h-2zM24 10h1v1h-1zM44 11h1v1h-1zM18 15h1v1h-1zM47 15h1v1h-1zM47 16h1v1h-1zM17 17h1v1h-1zM47 17h1v1h-1zM17 18h1v1h-1zM17 20h1v1h-1zM19 25h1v1h-1zM47 25h1v1h-1zM20 26h1v1h-1zM25 29h1v1h-1zM46 30h1v1h-1zM28 31h1v1h-1zM32 32h1v1h-1zM45 32h1v1h-1zM39 33h1v1h-1zM44 33h1v1h-1z"/>
<path fill="#f06200" d="M31 9h5v1h-5zM25 10h1v1h-1zM41 10h1v1h-1zM22 11h1v1h-1zM45 12h1v1h-1zM46 13h1v1h-1zM19 14h1v1h-1zM47 18h1v1h-1zM17 19h1v1h-1zM47 19h1v1h-1zM47 20h1v1h-1zM47 21h1v1h-1zM47 22h1v1h-1zM18 23h1v1h-1zM47 23h1v1h-1zM47 24h1v1h-1zM22 27h1v1h-1zM24 28h1v1h-1zM46 29h1v1h-1zM27 30h1v1h-1zM33 32h1v1h-1zM40 33h1v1h-1zM43 33h1v1h-1z"/>
<path fill="#f05500" d="M26 10h1v1h-1zM40 10h1v1h-1zM43 11h1v1h-1zM21 12h1v1h-1zM20 13h1v1h-1zM46 14h1v1h-1zM18 16h1v1h-1zM18 22h1v1h-1zM19 24h1v1h-1zM20 25h1v1h-1zM21 26h1v1h-1zM46 27h1v1h-1zM46 28h1v1h-1zM26 29h1v1h-1zM29 31h1v1h-1zM45 31h1v1h-1zM34 32h1v1h-1zM44 32h1v1h-1zM41 33h2v1h-2z"/>
<path fill="#f04700" d="M27 10h1v1h-1zM39 10h1v1h-1zM23 11h1v1h-1zM42 11h1v1h-1zM44 12h1v1h-1zM45 13h1v1h-1zM19 15h1v1h-1zM46 15h1v1h-1zM18 17h1v1h-1zM18 21h1v1h-1zM46 26h1v1h-1zM23 27h1v1h-1zM25 28h1v1h-1zM28 30h1v1h-1zM45 30h1v1h-1zM30 31h2v1h-2zM35 32h3v1h-3z"/>
<path fill="#f03500" d="M28 10h2v1h-2zM37 10h2v1h-2zM24 11h1v1h-1zM22 12h1v1h-1zM20 14h1v1h-1zM46 16h1v1h-1zM46 17h1v1h-1zM18 18h1v1h-1zM46 18h1v1h-1zM18 19h1v1h-1zM46 19h1v1h-1zM18 20h1v1h-1zM46 20h1v1h-1zM46 21h1v1h-1zM46 22h1v1h-1zM19 23h1v1h-1zM46 23h1v1h-1zM46 24h1v1h-1zM46 25h1v1h-1zM22 26h1v1h-1zM24 27h1v1h-1zM27 29h1v1h-1zM45 29h1v1h-1zM32 31h1v1h-1zM44 31h1v1h-1zM38 32h2v1h-2zM43 32h1v1h-1z"/>
<path fill="#f01e00" d="M30 10h2v1h-2zM34 10h3v1h-3zM25 11h1v1h-1zM41 11h1v1h-1zM43 12h1v1h-1zM21 13h1v1h-1zM45 14h1v1h-1zM19 16h1v1h-1zM19 22h1v1h-1zM20 24h1v1h-1zM21 25h1v1h-1zM26 28h1v1h-1zM45 28h1v1h-1zM29 30h1v1h-1zM33 31h1v1h-1zM40 32h3v1h-3z"/>
<path fill="#f00800" d="M32 10h2v1h-2zM26 11h1v1h-1zM40 11h1v1h-1zM23 12h1v1h-1zM44 13h1v1h-1zM45 15h1v1h-1zM19 21h1v1h-1zM20 23h1v1h-1zM23 26h1v1h-1zM25 27h1v1h-1zM45 27h1v1h-1zM28 29h1v1h-1zM30 30h1v1h-1zM44 30h1v1h-1zM34 31h1v1h-1zM43 31h1v1h-1z"/>
<path fill="#ed0500" d="M27 11h1v1h-1zM39 11h1v1h-1zM42 12h1v1h-1zM22 13h1v1h-1zM21 14h1v1h-1zM20 15h1v1h-1zM45 16h1v1h-1zM19 17h1v1h-1zM45 17h1v1h-1zM19 18h1v1h-1zM19 19h1v1h-1zM19 20h1v1h-1zM21 24h1v1h-1zM45 24h1v1h-1zM22 25h1v1h-1zM45 25h1v1h-1zM24 26h1v1h-1zM45 26h1v1h-1zM26 27h1v1h-1zM27 28h1v1h-1zM44 29h1v1h-1zM31 30h1v1h-1zM35 31h1v1h-1z"/>
<path fill="#ea0200" d="M28 11h2v1h-2zM37 11h2v1h-2zM24 12h1v1h-1zM41 12h1v1h-1zM43 13h1v1h-1zM44 14h1v1h-1zM20 16h1v1h-1zM45 18h1v1h-1zM45 19h1v1h-1zM45 20h1v1h-1zM45 21h1v1h-1zM20 22h1v1h-1zM45 22h1v1h-1zM45 23h1v1h-1zM23 25h1v1h-1zM25 26h1v1h-1zM28 28h1v1h-1zM44 28h1v1h-1zM29 29h1v1h-1zM32 30h1v1h-1zM43 30h1v1h-1zM36 31h7v1h-7z"/>
<path fill="#e50000" d="M30 11h2v1h-2zM34 11h3v1h-3zM25 12h1v1h-1zM40 12h1v1h-1zM23 13h1v1h-1zM21 15h1v1h-1zM44 15h1v1h-1zM20 17h1v1h-1zM20 21h1v1h-1zM21 23h1v1h-1zM22 24h1v1h-1zM44 26h1v1h-1zM27 27h1v1h-1zM44 27h1v1h-1zM30 29h1v1h-1zM33 30h1v1h-1z"/>
<path fill="#e00000" d="M32 11h2v1h-2zM26 12h2v1h-2zM39 12h1v1h-1zM42 13h1v1h-1zM22 14h1v1h-1zM43 14h1v1h-1zM44 16h1v1h-1zM44 17h1v1h-1zM20 18h1v1h-1zM44 18h1v1h-1zM20 19h1v1h-1zM44 19h1v1h-1zM20 20h1v1h-1zM44 20h1v1h-1zM44 21h1v1h-1zM21 22h1v1h-1zM44 22h1v1h-1zM44 23h1v1h-1zM44 24h1v1h-1zM24 25h1v1h-1zM44 25h1v1h-1zM26 26h1v1h-1zM28 27h1v1h-1zM29 28h1v1h-1zM43 28h1v1h-1zM31 29h2v1h-2zM43 29h1v1h-1zM34 30h1v1h-1zM42 30h1v1h-1z"/>
<path fill="#db0000" d="M28 12h1v1h-1zM37 12h2v1h-2zM24 13h1v1h-1zM41 13h1v1h-1zM23 14h1v1h-1zM42 14h1v1h-1zM22 15h1v1h-1zM43 15h1v1h-1zM21 16h1v1h-1zM21 17h1v1h-1zM21 21h1v1h-1zM22 23h1v1h-1zM23 24h1v1h-1zM25 25h1v1h-1zM27 26h1v1h-1zM29 27h1v1h-1zM43 27h1v1h-1zM30 28h1v1h-1zM33 29h1v1h-1zM42 29h1v1h-1zM35 30h7v1h-7z"/>
<path fill="#d50000" d="M29 12h2v1h-2zM34 12h3v1h-3zM25 13h2v1h-2zM39 13h2v1h-2zM22 16h1v1h-1zM43 16h1v1h-1zM43 17h1v1h-1zM21 18h1v1h-1zM43 18h1v1h-1zM21 19h1v1h-1zM43 19h1v1h-1zM21 20h1v1h-1zM43 20h1v1h-1zM43 21h1v1h-1zM22 22h1v1h-1zM43 22h1v1h-1zM23 23h1v1h-1zM43 23h1v1h-1zM24 24h1v1h-1zM43 24h1v1h-1zM26 25h1v1h-1zM43 25h1v1h-1zM28 26h1v1h-1zM43 26h1v1h-1zM30 27h1v1h-1zM31 28h2v1h-2zM42 28h1v1h-1zM34 29h1v1h-1z"/>
<path fill="#d00000" d="M31 12h3v1h-3zM27 13h2v1h-2zM37 13h2v1h-2zM24 14h1v1h-1zM40 14h2v1h-2zM23 15h1v1h-1zM42 15h1v1h-1zM42 16h1v1h-1zM22 17h1v1h-1zM42 17h1v1h-1zM42 18h1v1h-1zM22 20h1v1h-1zM22 21h1v1h-1zM23 22h1v1h-1zM24 23h1v1h-1zM25 24h2v1h-2zM27 25h2v1h-2zM29 26h2v1h-2zM31 27h1v1h-1zM42 27h1v1h-1zM33 28h1v1h-1zM35 29h7v1h-7z"/>
<path fill="#ca0000" d="M29 13h1v1h-1zM35 13h2v1h-2zM25 14h2v1h-2zM38 14h2v1h-2zM24 15h1v1h-1zM40 15h2v1h-2zM23 16h1v1h-1zM41 16h1v1h-1zM41 17h1v1h-1zM22 18h1v1h-1zM41 18h1v1h-1zM22 19h1v1h-1zM41 19h2v1h-2zM42 20h1v1h-1zM23 21h1v1h-1zM42 21h1v1h-1zM24 22h1v1h-1zM42 22h1v1h-1zM25 23h1v1h-1zM42 23h1v1h-1zM27 24h2v1h-2zM42 24h1v1h-1zM29 25h2v1h-2zM42 25h1v1h-1zM31 26h1v1h-1zM42 26h1v1h-1zM32 27h1v1h-1zM41 27h1v1h-1zM34 28h1v1h-1zM41 28h1v1h-1z"/>
<path fill="#c40000" d="M30 13h5v1h-5zM27 14h2v1h-2zM36 14h2v1h-2zM25 15h1v1h-1zM38 15h2v1h-2zM24 16h1v1h-1zM39 16h2v1h-2zM23 17h2v1h-2zM39 17h2v1h-2zM23 18h1v1h-1zM39 18h2v1h-2zM23 19h1v1h-1zM39 19h2v1h-2zM23 20h1v1h-1zM40 20h2v1h-2zM24 21h1v1h-1zM41 21h1v1h-1zM25 22h2v1h-2zM41 22h1v1h-1zM26 23h4v1h-4zM41 23h1v1h-1zM29 24h4v1h-4zM41 24h1v1h-1zM31 25h2v1h-2zM41 25h1v1h-1zM32 26h2v1h-2zM41 26h1v1h-1zM33 27h2v1h-2zM40 27h1v1h-1zM35 28h6v1h-6z"/>
<path fill="#be0000" d="M29 14h3v1h-3zM33 14h3v1h-3zM26 15h3v1h-3zM36 15h2v1h-2zM25 16h2v1h-2zM37 16h2v1h-2zM25 17h1v1h-1zM37 17h2v1h-2zM24 18h2v1h-2zM37 18h2v1h-2zM24 19h2v1h-2zM37 19h2v1h-2zM24 20h3v1h-3zM37 20h3v1h-3zM25 21h3v1h-3zM38 21h3v1h-3zM27 22h7v1h-7zM39 22h2v1h-2zM30 23h4v1h-4zM40 23h1v1h-1zM33 24h2v1h-2zM40 24h1v1h-1zM33 25h2v1h-2zM40 25h1v1h-1zM34 26h2v1h-2zM40 26h1v1h-1zM35 27h5v1h-5z"/>
<path fill="#b80000" d="M32 14h1v1h-1zM29 15h7v1h-7zM27 16h10v1h-10zM26 17h11v1h-11zM26 18h11v1h-11zM26 19h11v1h-11zM27 20h10v1h-10zM28 21h10v1h-10zM34 22h5v1h-5zM34 23h6v1h-6zM35 24h5v1h-5zM35 25h5v1h-5zM36 26h4v1h-4z"/>
</g></g></g>
<rect x="888.20" y="77.30" width="1.3" height="431.30" fill="#b4b4aa"/>
<rect x="889.50" y="507.00" width="431.50" height="1.6" fill="#b4b4aa"/>
<rect x="889.50" y="505.40" width="431.50" height="1.6" fill="#160070"/>
<rect x="889.50" y="77.30" width="1.2" height="429.70" fill="#1e0090"/>
<rect x="889.50" y="77.30" width="431.50" height="1.5" fill="#1c00ac"/>
<rect x="1341.5" y="112.2" width="39.50" height="312.60" fill="url(#cbg)"/>
<text transform="translate(1000.76,64.60) scale(0.9555,1)" font-size="38.5" font-family="'Liberation Serif','Noto Sans CJK SC',serif" text-anchor="start" >OBJ</text>
<text transform="translate(1104.80,64.60) scale(0.9765,1)" font-size="38.5" font-family="'Liberation Serif','Noto Sans CJK SC',serif" text-anchor="start" >0.79°</text>
<text transform="translate(1067.40,64.90) scale(1.05,0.7)" font-size="27" font-weight="bold" font-family="'Noto Sans CJK SC',sans-serif">：</text>
<text transform="translate(776.30,87.30) scale(1.0000,1)" font-size="36.5" font-family="'Liberation Serif','Noto Sans CJK SC',serif" text-anchor="start" >(c)</text>
<text transform="translate(879.70,87.10) scale(0.9300,1)" font-size="28" font-family="'Liberation Serif','Noto Sans CJK SC',serif" text-anchor="end" >1.0</text>
<text transform="translate(882.30,298.30) scale(0.9300,1)" font-size="28" font-family="'Liberation Serif','Noto Sans CJK SC',serif" text-anchor="end" >0</text>
<text transform="translate(881.50,510.40) scale(0.9300,1)" font-size="28" font-family="'Liberation Serif','Noto Sans CJK SC',serif" text-anchor="end" >−1.0</text>
<text transform="translate(892.70,540.10) scale(0.9300,1)" font-size="28" font-family="'Liberation Serif','Noto Sans CJK SC',serif" text-anchor="middle" >−1.0</text>
<text transform="translate(1107.30,536.50) scale(0.9300,1)" font-size="28" font-family="'Liberation Serif','Noto Sans CJK SC',serif" text-anchor="middle" >0</text>
<text transform="translate(1319.50,537.40) scale(0.9300,1)" font-size="28" font-family="'Liberation Serif','Noto Sans CJK SC',serif" text-anchor="middle" >1.0</text>
<text transform="translate(1108.50,569.40) scale(1.0000,1)" font-size="21.5" font-family="'DejaVu Sans Mono',monospace" text-anchor="middle" fill="#1a1a1a" letter-spacing="0.9">X-Pupil (Rel. Units)</text>
<text transform="translate(787.90,290.30) rotate(-90)" font-size="21.5" font-family="'DejaVu Sans Mono',monospace" text-anchor="middle" letter-spacing="0.9" fill="#1a1a1a">Y-Pupil (Rel. Units)</text>
<text transform="translate(1385.40,122.00) scale(1.0000,1)" font-size="21" font-family="'Liberation Serif','Noto Sans CJK SC',serif" text-anchor="start" >0.033</text>
<text transform="translate(1385.40,153.23) scale(1.0000,1)" font-size="21" font-family="'Liberation Serif','Noto Sans CJK SC',serif" text-anchor="start" >0.015</text>
<text transform="translate(1385.40,184.46) scale(1.0000,1)" font-size="21" font-family="'Liberation Serif','Noto Sans CJK SC',serif" text-anchor="start" >−0.004</text>
<text transform="translate(1385.40,215.69) scale(1.0000,1)" font-size="21" font-family="'Liberation Serif','Noto Sans CJK SC',serif" text-anchor="start" >−0.023</text>
<text transform="translate(1385.40,246.92) scale(1.0000,1)" font-size="21" font-family="'Liberation Serif','Noto Sans CJK SC',serif" text-anchor="start" >−0.042</text>
<text transform="translate(1385.40,278.15) scale(1.0000,1)" font-size="21" font-family="'Liberation Serif','Noto Sans CJK SC',serif" text-anchor="start" >−0.061</text>
<text transform="translate(1385.40,309.38) scale(1.0000,1)" font-size="21" font-family="'Liberation Serif','Noto Sans CJK SC',serif" text-anchor="start" >−0.079</text>
<text transform="translate(1385.40,340.61) scale(1.0000,1)" font-size="21" font-family="'Liberation Serif','Noto Sans CJK SC',serif" text-anchor="start" >−0.098</text>
<text transform="translate(1385.40,371.84) scale(1.0000,1)" font-size="21" font-family="'Liberation Serif','Noto Sans CJK SC',serif" text-anchor="start" >−0.117</text>
<text transform="translate(1385.40,403.07) scale(1.0000,1)" font-size="21" font-family="'Liberation Serif','Noto Sans CJK SC',serif" text-anchor="start" >−0.136</text>
<text transform="translate(1385.40,434.30) scale(1.0000,1)" font-size="21" font-family="'Liberation Serif','Noto Sans CJK SC',serif" text-anchor="start" >−0.155</text>
<text transform="translate(1383.20,466.00) scale(1.0000,1)" font-size="16" font-family="'DejaVu Sans Mono',monospace" text-anchor="start" font-weight="bold" fill="#444">Waves</text>
<g transform="translate(1614.5,72.4) scale(6.59231,6.58615)">
<rect width="65" height="65" fill="#2f0ec4"/>
<clipPath id="cpe"><path d="M32 0H33V1H32zM25 1H40V2H25zM21 2H44V3H21zM19 3H46V4H19zM17 4H48V5H17zM15 5H50V6H15zM14 6H51V7H14zM13 7H52V8H13zM11 8H54V9H11zM10 9H55V10H10zM9 10H56V11H9zM8 11H57V12H8zM8 12H57V13H8zM7 13H58V14H7zM6 14H59V15H6zM5 15H60V16H5zM5 16H60V17H5zM4 17H61V18H4zM4 18H61V19H4zM3 19H62V20H3zM3 20H62V21H3zM2 21H63V22H2zM2 22H63V23H2zM2 23H63V24H2zM2 24H63V25H2zM1 25H64V26H1zM1 26H64V27H1zM1 27H64V28H1zM1 28H64V29H1zM1 29H64V30H1zM1 30H64V31H1zM1 31H64V32H1zM1 32H64V33H1zM1 33H64V34H1zM1 34H64V35H1zM1 35H64V36H1zM1 36H64V37H1zM1 37H64V38H1zM1 38H64V39H1zM1 39H64V40H1zM2 40H63V41H2zM2 41H63V42H2zM2 42H63V43H2zM2 43H63V44H2zM3 44H62V45H3zM3 45H62V46H3zM4 46H61V47H4zM4 47H61V48H4zM5 48H60V49H5zM5 49H60V50H5zM6 50H59V51H6zM7 51H58V52H7zM8 52H57V53H8zM8 53H57V54H8zM9 54H56V55H9zM10 55H55V56H10zM11 56H54V57H11zM13 57H52V58H13zM14 58H51V59H14zM15 59H50V60H15zM17 60H48V61H17zM19 61H46V62H19zM21 62H44V63H21zM25 63H40V64H25zM32 64H33V65H32z"/></clipPath>
<g clip-path="url(#cpe)"><g filter="url(#bl)" shape-rendering="crispEdges">
<path fill="#1448d8" d="M1 27h3v1h-3zM61 27h3v1h-3zM0 28h5v1h-5zM60 28h5v1h-5zM0 29h6v1h-6zM59 29h6v1h-6zM0 30h6v1h-6zM59 30h6v1h-6zM0 31h6v1h-6zM59 31h6v1h-6zM0 32h6v1h-6zM59 32h6v1h-6zM0 33h6v1h-6zM59 33h6v1h-6zM0 34h5v1h-5zM60 34h5v1h-5zM1 35h4v1h-4zM60 35h4v1h-4z"/>
<path fill="#0f52d8" d="M0 26h5v1h-5zM60 26h5v1h-5zM0 27h1v1h-1zM4 27h2v1h-2zM59 27h2v1h-2zM64 27h1v1h-1zM5 28h2v1h-2zM58 28h2v1h-2zM6 29h1v1h-1zM58 29h1v1h-1zM6 30h1v1h-1zM58 30h1v1h-1zM6 31h2v1h-2zM57 31h2v1h-2zM6 32h2v1h-2zM57 32h2v1h-2zM6 33h2v1h-2zM57 33h2v1h-2zM5 34h2v1h-2zM58 34h2v1h-2zM0 35h1v1h-1zM5 35h2v1h-2zM58 35h2v1h-2zM64 35h1v1h-1zM0 36h7v1h-7zM58 36h7v1h-7zM0 37h6v1h-6zM59 37h6v1h-6z"/>
<path fill="#0a5cd8" d="M0 25h5v1h-5zM60 25h5v1h-5zM5 26h1v1h-1zM59 26h1v1h-1zM6 27h1v1h-1zM58 27h1v1h-1zM7 28h1v1h-1zM57 28h1v1h-1zM7 29h1v1h-1zM57 29h1v1h-1zM7 30h2v1h-2zM56 30h2v1h-2zM8 31h1v1h-1zM56 31h1v1h-1zM8 32h1v1h-1zM56 32h1v1h-1zM8 33h1v1h-1zM56 33h1v1h-1zM7 34h2v1h-2zM56 34h2v1h-2zM7 35h1v1h-1zM57 35h1v1h-1zM7 36h1v1h-1zM57 36h1v1h-1zM6 37h2v1h-2zM57 37h2v1h-2zM0 38h7v1h-7zM58 38h7v1h-7z"/>
<path fill="#0566d8" d="M1 24h3v1h-3zM61 24h3v1h-3zM5 25h2v1h-2zM58 25h2v1h-2zM6 26h2v1h-2zM57 26h2v1h-2zM7 27h1v1h-1zM57 27h1v1h-1zM8 28h1v1h-1zM56 28h1v1h-1zM8 29h1v1h-1zM56 29h1v1h-1zM9 31h1v1h-1zM55 31h1v1h-1zM9 32h1v1h-1zM55 32h1v1h-1zM9 33h1v1h-1zM55 33h1v1h-1zM9 34h1v1h-1zM55 34h1v1h-1zM8 35h2v1h-2zM55 35h2v1h-2zM8 36h1v1h-1zM56 36h1v1h-1zM8 37h1v1h-1zM56 37h1v1h-1zM7 38h1v1h-1zM57 38h1v1h-1zM0 39h7v1h-7zM58 39h7v1h-7z"/>
<path fill="#0070d8" d="M0 24h1v1h-1zM4 24h2v1h-2zM59 24h2v1h-2zM64 24h1v1h-1zM7 25h1v1h-1zM57 25h1v1h-1zM8 27h1v1h-1zM56 27h1v1h-1zM9 28h1v1h-1zM55 28h1v1h-1zM9 29h1v1h-1zM55 29h1v1h-1zM9 30h1v1h-1zM55 30h1v1h-1zM10 31h1v1h-1zM54 31h1v1h-1zM10 32h1v1h-1zM54 32h1v1h-1zM10 33h1v1h-1zM54 33h1v1h-1zM10 34h1v1h-1zM54 34h1v1h-1zM10 35h1v1h-1zM54 35h1v1h-1zM9 36h1v1h-1zM55 36h1v1h-1zM9 37h1v1h-1zM55 37h1v1h-1zM8 38h1v1h-1zM56 38h1v1h-1zM7 39h2v1h-2zM56 39h2v1h-2zM0 40h7v1h-7zM58 40h7v1h-7z"/>
<path fill="#0079d6" d="M0 23h6v1h-6zM59 23h6v1h-6zM6 24h2v1h-2zM57 24h2v1h-2zM8 25h1v1h-1zM56 25h1v1h-1zM8 26h1v1h-1zM56 26h1v1h-1zM9 27h1v1h-1zM55 27h1v1h-1zM10 29h1v1h-1zM54 29h1v1h-1zM10 30h1v1h-1zM54 30h1v1h-1zM11 31h1v1h-1zM53 31h1v1h-1zM11 32h1v1h-1zM53 32h1v1h-1zM11 33h1v1h-1zM53 33h1v1h-1zM11 34h1v1h-1zM53 34h1v1h-1zM11 35h1v1h-1zM53 35h1v1h-1zM10 36h1v1h-1zM54 36h1v1h-1zM10 37h1v1h-1zM54 37h1v1h-1zM9 38h1v1h-1zM55 38h1v1h-1zM9 39h1v1h-1zM55 39h1v1h-1zM7 40h2v1h-2zM56 40h2v1h-2zM0 41h7v1h-7zM58 41h7v1h-7z"/>
<path fill="#0082d3" d="M6 23h1v1h-1zM58 23h1v1h-1zM9 26h1v1h-1zM55 26h1v1h-1zM10 27h1v1h-1zM54 27h1v1h-1zM10 28h1v1h-1zM54 28h1v1h-1zM11 29h1v1h-1zM53 29h1v1h-1zM11 30h1v1h-1zM53 30h1v1h-1zM12 32h1v1h-1zM52 32h1v1h-1zM12 33h1v1h-1zM52 33h1v1h-1zM12 34h1v1h-1zM52 34h1v1h-1zM12 35h1v1h-1zM52 35h1v1h-1zM11 36h1v1h-1zM53 36h1v1h-1zM11 37h1v1h-1zM53 37h1v1h-1zM10 38h1v1h-1zM54 38h1v1h-1zM10 39h1v1h-1zM54 39h1v1h-1zM9 40h1v1h-1zM55 40h1v1h-1zM7 41h2v1h-2zM56 41h2v1h-2zM3 42h3v1h-3zM59 42h3v1h-3z"/>
<path fill="#008bd1" d="M0 22h6v1h-6zM59 22h6v1h-6zM7 23h1v1h-1zM57 23h1v1h-1zM8 24h1v1h-1zM56 24h1v1h-1zM9 25h1v1h-1zM55 25h1v1h-1zM10 26h1v1h-1zM54 26h1v1h-1zM11 28h1v1h-1zM53 28h1v1h-1zM12 30h1v1h-1zM52 30h1v1h-1zM12 31h1v1h-1zM52 31h1v1h-1zM13 32h1v1h-1zM51 32h1v1h-1zM13 33h1v1h-1zM51 33h1v1h-1zM13 34h1v1h-1zM51 34h1v1h-1zM12 36h1v1h-1zM52 36h1v1h-1zM12 37h1v1h-1zM52 37h1v1h-1zM11 38h1v1h-1zM53 38h1v1h-1zM11 39h1v1h-1zM53 39h1v1h-1zM10 40h1v1h-1zM54 40h1v1h-1zM9 41h1v1h-1zM55 41h1v1h-1zM0 42h3v1h-3zM6 42h2v1h-2zM57 42h2v1h-2zM62 42h3v1h-3z"/>
<path fill="#0094ce" d="M0 21h3v1h-3zM62 21h3v1h-3zM6 22h2v1h-2zM57 22h2v1h-2zM8 23h1v1h-1zM56 23h1v1h-1zM9 24h1v1h-1zM55 24h1v1h-1zM10 25h1v1h-1zM54 25h1v1h-1zM11 27h1v1h-1zM53 27h1v1h-1zM12 28h1v1h-1zM52 28h1v1h-1zM12 29h1v1h-1zM52 29h1v1h-1zM13 30h1v1h-1zM51 30h1v1h-1zM13 31h1v1h-1zM51 31h1v1h-1zM14 32h1v1h-1zM50 32h1v1h-1zM14 33h1v1h-1zM50 33h1v1h-1zM14 34h1v1h-1zM50 34h1v1h-1zM13 35h1v1h-1zM51 35h1v1h-1zM13 36h1v1h-1zM51 36h1v1h-1zM13 37h1v1h-1zM51 37h1v1h-1zM12 38h1v1h-1zM52 38h1v1h-1zM12 39h1v1h-1zM52 39h1v1h-1zM11 40h1v1h-1zM53 40h1v1h-1zM10 41h1v1h-1zM54 41h1v1h-1zM8 42h1v1h-1zM56 42h1v1h-1zM0 43h7v1h-7zM58 43h7v1h-7z"/>
<path fill="#009bcb" d="M3 21h3v1h-3zM59 21h3v1h-3zM9 23h1v1h-1zM55 23h1v1h-1zM10 24h1v1h-1zM54 24h1v1h-1zM11 26h1v1h-1zM53 26h1v1h-1zM12 27h1v1h-1zM52 27h1v1h-1zM13 29h1v1h-1zM51 29h1v1h-1zM14 30h1v1h-1zM50 30h1v1h-1zM14 31h1v1h-1zM50 31h1v1h-1zM15 32h1v1h-1zM49 32h1v1h-1zM15 33h1v1h-1zM49 33h1v1h-1zM15 34h1v1h-1zM49 34h1v1h-1zM14 35h2v1h-2zM31 35h3v1h-3zM49 35h2v1h-2zM14 36h1v1h-1zM29 36h7v1h-7zM50 36h1v1h-1zM14 37h1v1h-1zM29 37h7v1h-7zM50 37h1v1h-1zM13 38h1v1h-1zM29 38h7v1h-7zM51 38h1v1h-1zM13 39h1v1h-1zM29 39h7v1h-7zM51 39h1v1h-1zM12 40h1v1h-1zM31 40h3v1h-3zM52 40h1v1h-1zM11 41h1v1h-1zM53 41h1v1h-1zM9 42h1v1h-1zM55 42h1v1h-1zM7 43h1v1h-1zM57 43h1v1h-1z"/>
<path fill="#00a2c7" d="M1 20h2v1h-2zM62 20h2v1h-2zM6 21h2v1h-2zM57 21h2v1h-2zM8 22h1v1h-1zM56 22h1v1h-1zM11 25h1v1h-1zM53 25h1v1h-1zM12 26h1v1h-1zM52 26h1v1h-1zM13 28h1v1h-1zM51 28h1v1h-1zM14 29h1v1h-1zM50 29h1v1h-1zM15 30h1v1h-1zM49 30h1v1h-1zM15 31h1v1h-1zM49 31h1v1h-1zM16 32h1v1h-1zM48 32h1v1h-1zM16 33h1v1h-1zM31 33h3v1h-3zM48 33h1v1h-1zM16 34h1v1h-1zM28 34h9v1h-9zM48 34h1v1h-1zM16 35h1v1h-1zM27 35h4v1h-4zM34 35h4v1h-4zM48 35h1v1h-1zM15 36h1v1h-1zM26 36h3v1h-3zM36 36h3v1h-3zM49 36h1v1h-1zM15 37h1v1h-1zM26 37h3v1h-3zM36 37h3v1h-3zM49 37h1v1h-1zM14 38h1v1h-1zM26 38h3v1h-3zM36 38h3v1h-3zM50 38h1v1h-1zM14 39h1v1h-1zM27 39h2v1h-2zM36 39h2v1h-2zM50 39h1v1h-1zM13 40h1v1h-1zM28 40h3v1h-3zM34 40h3v1h-3zM51 40h1v1h-1zM12 41h1v1h-1zM29 41h7v1h-7zM52 41h1v1h-1zM10 42h1v1h-1zM32 42h1v1h-1zM54 42h1v1h-1zM8 43h2v1h-2zM55 43h2v1h-2zM1 44h6v1h-6zM58 44h6v1h-6z"/>
<path fill="#00a9c4" d="M3 20h3v1h-3zM59 20h3v1h-3zM8 21h1v1h-1zM56 21h1v1h-1zM9 22h1v1h-1zM55 22h1v1h-1zM10 23h1v1h-1zM54 23h1v1h-1zM11 24h1v1h-1zM53 24h1v1h-1zM12 25h1v1h-1zM52 25h1v1h-1zM13 27h1v1h-1zM51 27h1v1h-1zM14 28h1v1h-1zM50 28h1v1h-1zM15 29h1v1h-1zM49 29h1v1h-1zM16 30h1v1h-1zM48 30h1v1h-1zM16 31h2v1h-2zM47 31h2v1h-2zM17 32h2v1h-2zM29 32h7v1h-7zM46 32h2v1h-2zM17 33h2v1h-2zM26 33h5v1h-5zM34 33h5v1h-5zM46 33h2v1h-2zM17 34h3v1h-3zM24 34h4v1h-4zM37 34h4v1h-4zM45 34h3v1h-3zM17 35h3v1h-3zM22 35h5v1h-5zM38 35h5v1h-5zM45 35h3v1h-3zM16 36h3v1h-3zM22 36h4v1h-4zM39 36h4v1h-4zM46 36h3v1h-3zM16 37h2v1h-2zM23 37h3v1h-3zM39 37h3v1h-3zM47 37h2v1h-2zM15 38h2v1h-2zM24 38h2v1h-2zM39 38h2v1h-2zM48 38h2v1h-2zM15 39h1v1h-1zM25 39h2v1h-2zM38 39h2v1h-2zM49 39h1v1h-1zM14 40h1v1h-1zM26 40h2v1h-2zM37 40h2v1h-2zM50 40h1v1h-1zM13 41h1v1h-1zM27 41h2v1h-2zM36 41h2v1h-2zM51 41h1v1h-1zM11 42h1v1h-1zM29 42h3v1h-3zM33 42h3v1h-3zM53 42h1v1h-1zM10 43h1v1h-1zM54 43h1v1h-1zM7 44h1v1h-1zM57 44h1v1h-1zM1 45h1v1h-1zM63 45h1v1h-1z"/>
<path fill="#00b0c0" d="M1 19h1v1h-1zM63 19h1v1h-1zM6 20h1v1h-1zM58 20h1v1h-1zM10 22h1v1h-1zM54 22h1v1h-1zM11 23h1v1h-1zM53 23h1v1h-1zM13 26h1v1h-1zM51 26h1v1h-1zM14 27h1v1h-1zM50 27h1v1h-1zM15 28h1v1h-1zM49 28h1v1h-1zM16 29h1v1h-1zM48 29h1v1h-1zM17 30h1v1h-1zM47 30h1v1h-1zM18 31h2v1h-2zM27 31h11v1h-11zM45 31h2v1h-2zM19 32h10v1h-10zM36 32h10v1h-10zM19 33h7v1h-7zM39 33h7v1h-7zM20 34h4v1h-4zM41 34h4v1h-4zM20 35h2v1h-2zM43 35h2v1h-2zM19 36h3v1h-3zM43 36h3v1h-3zM18 37h5v1h-5zM42 37h5v1h-5zM17 38h7v1h-7zM41 38h7v1h-7zM16 39h2v1h-2zM22 39h3v1h-3zM40 39h3v1h-3zM47 39h2v1h-2zM15 40h1v1h-1zM24 40h2v1h-2zM39 40h2v1h-2zM49 40h1v1h-1zM14 41h1v1h-1zM26 41h1v1h-1zM38 41h1v1h-1zM50 41h1v1h-1zM12 42h2v1h-2zM27 42h2v1h-2zM36 42h2v1h-2zM51 42h2v1h-2zM11 43h1v1h-1zM30 43h5v1h-5zM53 43h1v1h-1zM8 44h2v1h-2zM55 44h2v1h-2zM2 45h4v1h-4zM59 45h4v1h-4z"/>
<path fill="#00b5bb" d="M2 19h3v1h-3zM60 19h3v1h-3zM7 20h1v1h-1zM57 20h1v1h-1zM9 21h1v1h-1zM55 21h1v1h-1zM12 24h1v1h-1zM52 24h1v1h-1zM13 25h1v1h-1zM51 25h1v1h-1zM14 26h1v1h-1zM50 26h1v1h-1zM15 27h1v1h-1zM49 27h1v1h-1zM16 28h1v1h-1zM48 28h1v1h-1zM17 29h2v1h-2zM46 29h2v1h-2zM18 30h3v1h-3zM26 30h13v1h-13zM44 30h3v1h-3zM20 31h7v1h-7zM38 31h7v1h-7zM18 39h4v1h-4zM43 39h4v1h-4zM16 40h8v1h-8zM41 40h8v1h-8zM15 41h2v1h-2zM23 41h3v1h-3zM39 41h3v1h-3zM48 41h2v1h-2zM14 42h1v1h-1zM26 42h1v1h-1zM38 42h1v1h-1zM50 42h1v1h-1zM12 43h1v1h-1zM28 43h2v1h-2zM35 43h2v1h-2zM52 43h1v1h-1zM10 44h1v1h-1zM31 44h3v1h-3zM54 44h1v1h-1zM6 45h2v1h-2zM57 45h2v1h-2zM2 46h1v1h-1zM62 46h1v1h-1z"/>
<path fill="#00bab6" d="M5 19h2v1h-2zM58 19h2v1h-2zM8 20h1v1h-1zM56 20h1v1h-1zM10 21h1v1h-1zM54 21h1v1h-1zM11 22h1v1h-1zM53 22h1v1h-1zM12 23h1v1h-1zM52 23h1v1h-1zM13 24h1v1h-1zM51 24h1v1h-1zM14 25h1v1h-1zM50 25h1v1h-1zM15 26h1v1h-1zM49 26h1v1h-1zM16 27h1v1h-1zM48 27h1v1h-1zM17 28h2v1h-2zM46 28h2v1h-2zM19 29h3v1h-3zM25 29h15v1h-15zM43 29h3v1h-3zM21 30h5v1h-5zM39 30h5v1h-5zM17 41h6v1h-6zM42 41h6v1h-6zM15 42h2v1h-2zM23 42h3v1h-3zM39 42h3v1h-3zM48 42h2v1h-2zM13 43h2v1h-2zM26 43h2v1h-2zM37 43h2v1h-2zM50 43h2v1h-2zM11 44h1v1h-1zM29 44h2v1h-2zM34 44h2v1h-2zM53 44h1v1h-1zM8 45h2v1h-2zM55 45h2v1h-2zM3 46h3v1h-3zM59 46h3v1h-3z"/>
<path fill="#00bfb1" d="M2 18h2v1h-2zM61 18h2v1h-2zM7 19h1v1h-1zM57 19h1v1h-1zM9 20h1v1h-1zM55 20h1v1h-1zM11 21h1v1h-1zM53 21h1v1h-1zM12 22h1v1h-1zM52 22h1v1h-1zM13 23h1v1h-1zM51 23h1v1h-1zM14 24h1v1h-1zM50 24h1v1h-1zM15 25h1v1h-1zM49 25h1v1h-1zM16 26h1v1h-1zM48 26h1v1h-1zM17 27h1v1h-1zM47 27h1v1h-1zM19 28h27v1h-27zM22 29h3v1h-3zM40 29h3v1h-3zM17 42h6v1h-6zM42 42h6v1h-6zM15 43h1v1h-1zM24 43h2v1h-2zM39 43h2v1h-2zM49 43h1v1h-1zM12 44h2v1h-2zM27 44h2v1h-2zM36 44h2v1h-2zM51 44h2v1h-2zM10 45h1v1h-1zM30 45h5v1h-5zM54 45h1v1h-1zM6 46h2v1h-2zM57 46h2v1h-2zM2 47h1v1h-1zM62 47h1v1h-1z"/>
<path fill="#00c4ac" d="M4 18h2v1h-2zM59 18h2v1h-2zM8 19h1v1h-1zM56 19h1v1h-1zM10 20h1v1h-1zM54 20h1v1h-1zM17 26h1v1h-1zM47 26h1v1h-1zM18 27h29v1h-29zM16 43h8v1h-8zM41 43h8v1h-8zM14 44h1v1h-1zM25 44h2v1h-2zM38 44h2v1h-2zM50 44h1v1h-1zM11 45h2v1h-2zM28 45h2v1h-2zM35 45h2v1h-2zM52 45h2v1h-2zM8 46h2v1h-2zM55 46h2v1h-2zM3 47h2v1h-2zM60 47h2v1h-2z"/>
<path fill="#00c8a6" d="M2 17h1v1h-1zM62 17h1v1h-1zM6 18h2v1h-2zM57 18h2v1h-2zM9 19h1v1h-1zM55 19h1v1h-1zM11 20h1v1h-1zM53 20h1v1h-1zM12 21h1v1h-1zM52 21h1v1h-1zM13 22h1v1h-1zM51 22h1v1h-1zM14 23h1v1h-1zM50 23h1v1h-1zM15 24h1v1h-1zM49 24h1v1h-1zM16 25h2v1h-2zM47 25h2v1h-2zM18 26h4v1h-4zM25 26h15v1h-15zM43 26h4v1h-4zM15 44h3v1h-3zM22 44h3v1h-3zM40 44h3v1h-3zM47 44h3v1h-3zM13 45h1v1h-1zM26 45h2v1h-2zM37 45h2v1h-2zM51 45h1v1h-1zM10 46h1v1h-1zM30 46h5v1h-5zM54 46h1v1h-1zM5 47h2v1h-2zM58 47h2v1h-2z"/>
<path fill="#00cda0" d="M3 17h2v1h-2zM60 17h2v1h-2zM8 18h1v1h-1zM56 18h1v1h-1zM10 19h1v1h-1zM54 19h1v1h-1zM12 20h1v1h-1zM52 20h1v1h-1zM13 21h1v1h-1zM51 21h1v1h-1zM14 22h1v1h-1zM50 22h1v1h-1zM15 23h1v1h-1zM49 23h1v1h-1zM16 24h1v1h-1zM48 24h1v1h-1zM18 25h3v1h-3zM26 25h13v1h-13zM44 25h3v1h-3zM22 26h3v1h-3zM40 26h3v1h-3zM18 44h4v1h-4zM43 44h4v1h-4zM14 45h2v1h-2zM24 45h2v1h-2zM39 45h2v1h-2zM49 45h2v1h-2zM11 46h2v1h-2zM28 46h2v1h-2zM35 46h2v1h-2zM52 46h2v1h-2zM7 47h2v1h-2zM56 47h2v1h-2zM3 48h2v1h-2zM60 48h2v1h-2z"/>
<path fill="#00d199" d="M5 17h2v1h-2zM58 17h2v1h-2zM9 18h1v1h-1zM55 18h1v1h-1zM11 19h1v1h-1zM53 19h1v1h-1zM14 21h1v1h-1zM50 21h1v1h-1zM15 22h1v1h-1zM49 22h1v1h-1zM16 23h1v1h-1zM48 23h1v1h-1zM17 24h3v1h-3zM27 24h11v1h-11zM45 24h3v1h-3zM21 25h5v1h-5zM39 25h5v1h-5zM16 45h8v1h-8zM41 45h8v1h-8zM13 46h2v1h-2zM26 46h2v1h-2zM37 46h2v1h-2zM50 46h2v1h-2zM9 47h2v1h-2zM31 47h3v1h-3zM54 47h2v1h-2zM5 48h2v1h-2zM58 48h2v1h-2z"/>
<path fill="#00d693" d="M3 16h2v1h-2zM60 16h2v1h-2zM7 17h1v1h-1zM57 17h1v1h-1zM10 18h1v1h-1zM54 18h1v1h-1zM12 19h1v1h-1zM52 19h1v1h-1zM13 20h1v1h-1zM51 20h1v1h-1zM16 22h1v1h-1zM48 22h1v1h-1zM17 23h2v1h-2zM29 23h7v1h-7zM46 23h2v1h-2zM20 24h7v1h-7zM38 24h7v1h-7zM15 46h2v1h-2zM24 46h2v1h-2zM39 46h2v1h-2zM48 46h2v1h-2zM11 47h2v1h-2zM29 47h2v1h-2zM34 47h2v1h-2zM52 47h2v1h-2zM7 48h2v1h-2zM56 48h2v1h-2zM3 49h2v1h-2zM60 49h2v1h-2z"/>
<path fill="#00da8b" d="M5 16h1v1h-1zM59 16h1v1h-1zM8 17h2v1h-2zM55 17h2v1h-2zM11 18h1v1h-1zM53 18h1v1h-1zM13 19h1v1h-1zM51 19h1v1h-1zM14 20h1v1h-1zM50 20h1v1h-1zM15 21h1v1h-1zM49 21h1v1h-1zM17 22h1v1h-1zM31 22h3v1h-3zM47 22h1v1h-1zM19 23h10v1h-10zM36 23h10v1h-10zM17 46h7v1h-7zM41 46h7v1h-7zM13 47h2v1h-2zM27 47h2v1h-2zM36 47h2v1h-2zM50 47h2v1h-2zM9 48h2v1h-2zM54 48h2v1h-2zM5 49h2v1h-2zM58 49h2v1h-2z"/>
<path fill="#00dd80" d="M3 15h1v1h-1zM61 15h1v1h-1zM6 16h2v1h-2zM57 16h2v1h-2zM10 17h1v1h-1zM54 17h1v1h-1zM12 18h1v1h-1zM52 18h1v1h-1zM14 19h1v1h-1zM50 19h1v1h-1zM15 20h1v1h-1zM49 20h1v1h-1zM16 21h2v1h-2zM47 21h2v1h-2zM18 22h13v1h-13zM34 22h13v1h-13zM15 47h3v1h-3zM24 47h3v1h-3zM38 47h3v1h-3zM47 47h3v1h-3zM11 48h2v1h-2zM30 48h5v1h-5zM52 48h2v1h-2zM7 49h1v1h-1zM57 49h1v1h-1zM4 50h1v1h-1zM60 50h1v1h-1z"/>
<path fill="#00e175" d="M4 15h1v1h-1zM60 15h1v1h-1zM8 16h1v1h-1zM56 16h1v1h-1zM11 17h1v1h-1zM53 17h1v1h-1zM13 18h1v1h-1zM51 18h1v1h-1zM15 19h1v1h-1zM49 19h1v1h-1zM16 20h1v1h-1zM48 20h1v1h-1zM18 21h29v1h-29zM18 47h6v1h-6zM41 47h6v1h-6zM13 48h3v1h-3zM28 48h2v1h-2zM35 48h2v1h-2zM49 48h3v1h-3zM8 49h2v1h-2zM55 49h2v1h-2zM5 50h1v1h-1zM59 50h1v1h-1z"/>
<path fill="#00e46b" d="M5 15h2v1h-2zM58 15h2v1h-2zM9 16h2v1h-2zM54 16h2v1h-2zM12 17h1v1h-1zM52 17h1v1h-1zM14 18h1v1h-1zM50 18h1v1h-1zM16 19h1v1h-1zM48 19h1v1h-1zM17 20h3v1h-3zM26 20h13v1h-13zM45 20h3v1h-3zM16 48h2v1h-2zM25 48h3v1h-3zM37 48h3v1h-3zM47 48h2v1h-2zM10 49h3v1h-3zM32 49h1v1h-1zM52 49h3v1h-3zM6 50h2v1h-2zM57 50h2v1h-2z"/>
<path fill="#00e860" d="M7 15h2v1h-2zM56 15h2v1h-2zM11 16h1v1h-1zM53 16h1v1h-1zM13 17h1v1h-1zM51 17h1v1h-1zM15 18h1v1h-1zM49 18h1v1h-1zM17 19h2v1h-2zM29 19h7v1h-7zM46 19h2v1h-2zM20 20h6v1h-6zM39 20h6v1h-6zM18 48h7v1h-7zM40 48h7v1h-7zM13 49h3v1h-3zM29 49h3v1h-3zM33 49h3v1h-3zM49 49h3v1h-3zM8 50h2v1h-2zM55 50h2v1h-2zM5 51h1v1h-1zM59 51h1v1h-1z"/>
<path fill="#08ea50" d="M4 14h2v1h-2zM59 14h2v1h-2zM9 15h1v1h-1zM55 15h1v1h-1zM12 16h1v1h-1zM52 16h1v1h-1zM14 17h1v1h-1zM50 17h1v1h-1zM16 18h2v1h-2zM47 18h2v1h-2zM19 19h10v1h-10zM36 19h10v1h-10zM16 49h2v1h-2zM27 49h2v1h-2zM36 49h2v1h-2zM47 49h2v1h-2zM10 50h2v1h-2zM53 50h2v1h-2zM6 51h2v1h-2zM57 51h2v1h-2z"/>
<path fill="#10ec40" d="M6 14h2v1h-2zM57 14h2v1h-2zM10 15h1v1h-1zM54 15h1v1h-1zM13 16h1v1h-1zM51 16h1v1h-1zM15 17h2v1h-2zM48 17h2v1h-2zM18 18h3v1h-3zM26 18h13v1h-13zM44 18h3v1h-3zM18 49h3v1h-3zM23 49h4v1h-4zM38 49h4v1h-4zM44 49h3v1h-3zM12 50h2v1h-2zM51 50h2v1h-2zM8 51h1v1h-1zM56 51h1v1h-1z"/>
<path fill="#18ee30" d="M8 14h1v1h-1zM56 14h1v1h-1zM11 15h2v1h-2zM52 15h2v1h-2zM14 16h2v1h-2zM49 16h2v1h-2zM17 17h2v1h-2zM30 17h5v1h-5zM46 17h2v1h-2zM21 18h5v1h-5zM39 18h5v1h-5zM21 49h2v1h-2zM42 49h2v1h-2zM14 50h3v1h-3zM30 50h5v1h-5zM48 50h3v1h-3zM9 51h2v1h-2zM54 51h2v1h-2zM6 52h1v1h-1zM58 52h1v1h-1z"/>
<path fill="#20f020" d="M5 13h2v1h-2zM58 13h2v1h-2zM9 14h2v1h-2zM54 14h2v1h-2zM13 15h1v1h-1zM51 15h1v1h-1zM16 16h1v1h-1zM48 16h1v1h-1zM19 17h11v1h-11zM35 17h11v1h-11zM17 50h2v1h-2zM27 50h3v1h-3zM35 50h3v1h-3zM46 50h2v1h-2zM11 51h2v1h-2zM52 51h2v1h-2zM7 52h2v1h-2zM56 52h2v1h-2z"/>
<path fill="#27f019" d="M7 13h2v1h-2zM56 13h2v1h-2zM11 14h1v1h-1zM53 14h1v1h-1zM14 15h2v1h-2zM49 15h2v1h-2zM17 16h2v1h-2zM29 16h7v1h-7zM46 16h2v1h-2zM19 50h8v1h-8zM38 50h8v1h-8zM13 51h2v1h-2zM50 51h2v1h-2zM9 52h2v1h-2zM54 52h2v1h-2zM6 53h1v1h-1zM58 53h1v1h-1z"/>
<path fill="#2ef012" d="M9 13h1v1h-1zM55 13h1v1h-1zM12 14h2v1h-2zM51 14h2v1h-2zM16 15h1v1h-1zM48 15h1v1h-1zM19 16h10v1h-10zM36 16h10v1h-10zM15 51h2v1h-2zM48 51h2v1h-2zM11 52h1v1h-1zM53 52h1v1h-1zM7 53h2v1h-2zM56 53h2v1h-2z"/>
<path fill="#35f00b" d="M6 12h2v1h-2zM57 12h2v1h-2zM10 13h2v1h-2zM53 13h2v1h-2zM14 14h1v1h-1zM50 14h1v1h-1zM17 15h3v1h-3zM30 15h5v1h-5zM45 15h3v1h-3zM17 51h3v1h-3zM27 51h11v1h-11zM45 51h3v1h-3zM12 52h1v1h-1zM52 52h1v1h-1zM9 53h1v1h-1zM55 53h1v1h-1z"/>
<path fill="#3cf004" d="M8 12h1v1h-1zM56 12h1v1h-1zM12 13h1v1h-1zM52 13h1v1h-1zM15 14h2v1h-2zM48 14h2v1h-2zM20 15h10v1h-10zM35 15h10v1h-10zM20 51h7v1h-7zM38 51h7v1h-7zM13 52h2v1h-2zM50 52h2v1h-2zM10 53h1v1h-1zM54 53h1v1h-1zM7 54h1v1h-1zM57 54h1v1h-1z"/>
<path fill="#43f100" d="M6 11h1v1h-1zM58 11h1v1h-1zM9 12h2v1h-2zM54 12h2v1h-2zM13 13h2v1h-2zM50 13h2v1h-2zM17 14h2v1h-2zM46 14h2v1h-2zM15 52h2v1h-2zM48 52h2v1h-2zM11 53h1v1h-1zM53 53h1v1h-1zM8 54h2v1h-2zM55 54h2v1h-2z"/>
<path fill="#49f200" d="M7 11h1v1h-1zM57 11h1v1h-1zM11 12h1v1h-1zM53 12h1v1h-1zM15 13h2v1h-2zM48 13h2v1h-2zM19 14h27v1h-27zM17 52h3v1h-3zM28 52h2v1h-2zM35 52h2v1h-2zM45 52h3v1h-3zM12 53h2v1h-2zM51 53h2v1h-2zM10 54h1v1h-1zM54 54h1v1h-1z"/>
<path fill="#4ff400" d="M8 11h2v1h-2zM55 11h2v1h-2zM12 12h2v1h-2zM51 12h2v1h-2zM17 13h2v1h-2zM46 13h2v1h-2zM20 52h8v1h-8zM30 52h5v1h-5zM37 52h8v1h-8zM14 53h1v1h-1zM50 53h1v1h-1zM11 54h1v1h-1zM53 54h1v1h-1zM8 55h1v1h-1zM56 55h1v1h-1z"/>
<path fill="#54f500" d="M10 11h2v1h-2zM53 11h2v1h-2zM14 12h2v1h-2zM49 12h2v1h-2zM19 13h4v1h-4zM27 13h11v1h-11zM42 13h4v1h-4zM15 53h1v1h-1zM49 53h1v1h-1zM12 54h1v1h-1zM52 54h1v1h-1zM9 55h1v1h-1zM55 55h1v1h-1z"/>
<path fill="#5af700" d="M7 10h2v1h-2zM56 10h2v1h-2zM12 11h1v1h-1zM52 11h1v1h-1zM16 12h2v1h-2zM47 12h2v1h-2zM23 13h4v1h-4zM38 13h4v1h-4zM16 53h5v1h-5zM44 53h5v1h-5zM13 54h1v1h-1zM51 54h1v1h-1zM10 55h1v1h-1zM54 55h1v1h-1z"/>
<path fill="#60f800" d="M9 10h1v1h-1zM55 10h1v1h-1zM13 11h2v1h-2zM50 11h2v1h-2zM18 12h2v1h-2zM45 12h2v1h-2zM21 53h23v1h-23zM14 54h1v1h-1zM50 54h1v1h-1zM11 55h1v1h-1zM53 55h1v1h-1zM9 56h1v1h-1zM55 56h1v1h-1z"/>
<path fill="#66f900" d="M10 10h2v1h-2zM53 10h2v1h-2zM15 11h1v1h-1zM49 11h1v1h-1zM20 12h25v1h-25zM15 54h1v1h-1zM49 54h1v1h-1zM12 55h1v1h-1zM52 55h1v1h-1zM10 56h1v1h-1zM54 56h1v1h-1z"/>
<path fill="#6dfb00" d="M8 9h1v1h-1zM56 9h1v1h-1zM12 10h1v1h-1zM52 10h1v1h-1zM16 11h3v1h-3zM46 11h3v1h-3zM16 54h11v1h-11zM38 54h11v1h-11zM13 55h1v1h-1zM51 55h1v1h-1zM11 56h1v1h-1zM53 56h1v1h-1z"/>
<path fill="#73fc00" d="M9 9h2v1h-2zM54 9h2v1h-2zM13 10h2v1h-2zM50 10h2v1h-2zM19 11h3v1h-3zM43 11h3v1h-3zM27 54h4v1h-4zM34 54h4v1h-4zM14 55h1v1h-1zM50 55h1v1h-1zM12 56h1v1h-1zM52 56h1v1h-1zM10 57h1v1h-1zM54 57h1v1h-1z"/>
<path fill="#7afe00" d="M11 9h1v1h-1zM53 9h1v1h-1zM15 10h2v1h-2zM48 10h2v1h-2zM22 11h21v1h-21zM31 54h3v1h-3zM15 55h2v1h-2zM48 55h2v1h-2zM13 56h1v1h-1zM51 56h1v1h-1zM11 57h1v1h-1zM53 57h1v1h-1z"/>
<path fill="#80ff00" d="M12 9h2v1h-2zM51 9h2v1h-2zM17 10h3v1h-3zM45 10h3v1h-3zM17 55h11v1h-11zM37 55h11v1h-11zM14 56h1v1h-1zM50 56h1v1h-1zM12 57h1v1h-1zM52 57h1v1h-1z"/>
<path fill="#85ff00" d="M9 8h2v1h-2zM54 8h2v1h-2zM14 9h1v1h-1zM50 9h1v1h-1zM20 10h4v1h-4zM29 10h7v1h-7zM41 10h4v1h-4zM28 55h9v1h-9zM15 56h1v1h-1zM49 56h1v1h-1zM13 57h1v1h-1zM51 57h1v1h-1zM11 58h1v1h-1zM53 58h1v1h-1z"/>
<path fill="#8bff00" d="M11 8h1v1h-1zM53 8h1v1h-1zM15 9h2v1h-2zM48 9h2v1h-2zM24 10h5v1h-5zM36 10h5v1h-5zM16 56h3v1h-3zM21 56h5v1h-5zM39 56h5v1h-5zM46 56h3v1h-3zM14 57h1v1h-1zM50 57h1v1h-1zM12 58h1v1h-1zM52 58h1v1h-1z"/>
<path fill="#90ff00" d="M12 8h2v1h-2zM51 8h2v1h-2zM17 9h3v1h-3zM45 9h3v1h-3zM19 56h2v1h-2zM26 56h4v1h-4zM35 56h4v1h-4zM44 56h2v1h-2zM15 57h1v1h-1zM49 57h1v1h-1zM13 58h1v1h-1zM51 58h1v1h-1z"/>
<path fill="#95ff00" d="M10 7h1v1h-1zM54 7h1v1h-1zM14 8h1v1h-1zM50 8h1v1h-1zM20 9h4v1h-4zM30 9h5v1h-5zM41 9h4v1h-4zM30 56h5v1h-5zM16 57h2v1h-2zM47 57h2v1h-2zM14 58h1v1h-1zM50 58h1v1h-1z"/>
<path fill="#9bff00" d="M11 7h1v1h-1zM53 7h1v1h-1zM15 8h2v1h-2zM48 8h2v1h-2zM24 9h6v1h-6zM35 9h6v1h-6zM18 57h11v1h-11zM36 57h11v1h-11zM15 58h1v1h-1zM49 58h1v1h-1zM13 59h1v1h-1zM51 59h1v1h-1z"/>
<path fill="#a0ff00" d="M12 7h2v1h-2zM51 7h2v1h-2zM17 8h3v1h-3zM45 8h3v1h-3zM29 57h7v1h-7zM16 58h2v1h-2zM47 58h2v1h-2zM14 59h1v1h-1zM50 59h1v1h-1z"/>
<path fill="#a5ff00" d="M14 7h1v1h-1zM50 7h1v1h-1zM20 8h3v1h-3zM42 8h3v1h-3zM18 58h12v1h-12zM35 58h12v1h-12zM15 59h1v1h-1zM49 59h1v1h-1z"/>
<path fill="#abff00" d="M11 6h1v1h-1zM53 6h1v1h-1zM15 7h2v1h-2zM48 7h2v1h-2zM23 8h19v1h-19zM30 58h5v1h-5zM16 59h3v1h-3zM23 59h4v1h-4zM38 59h4v1h-4zM46 59h3v1h-3zM14 60h1v1h-1zM50 60h1v1h-1z"/>
<path fill="#b0ff00" d="M12 6h2v1h-2zM51 6h2v1h-2zM17 7h3v1h-3zM45 7h3v1h-3zM19 59h4v1h-4zM27 59h4v1h-4zM34 59h4v1h-4zM42 59h4v1h-4zM15 60h2v1h-2zM48 60h2v1h-2z"/>
<path fill="#b6fd00" d="M14 6h1v1h-1zM50 6h1v1h-1zM20 7h2v1h-2zM43 7h2v1h-2zM31 59h3v1h-3zM17 60h13v1h-13zM35 60h13v1h-13zM15 61h1v1h-1zM49 61h1v1h-1z"/>
<path fill="#bcfc00" d="M15 6h2v1h-2zM48 6h2v1h-2zM22 7h3v1h-3zM29 7h7v1h-7zM40 7h3v1h-3zM30 60h5v1h-5zM16 61h3v1h-3zM23 61h5v1h-5zM37 61h5v1h-5zM46 61h3v1h-3z"/>
<path fill="#c2fa00" d="M13 5h1v1h-1zM51 5h1v1h-1zM17 6h2v1h-2zM46 6h2v1h-2zM25 7h4v1h-4zM36 7h4v1h-4zM19 61h4v1h-4zM28 61h9v1h-9zM42 61h4v1h-4zM17 62h1v1h-1zM47 62h1v1h-1z"/>
<path fill="#c8f800" d="M14 5h1v1h-1zM50 5h1v1h-1zM19 6h3v1h-3zM43 6h3v1h-3zM18 62h29v1h-29z"/>
<path fill="#ccf600" d="M15 5h2v1h-2zM48 5h2v1h-2zM22 6h2v1h-2zM31 6h3v1h-3zM41 6h2v1h-2zM19 63h27v1h-27z"/>
<path fill="#cff400" d="M17 5h2v1h-2zM46 5h2v1h-2zM24 6h2v1h-2zM28 6h3v1h-3zM34 6h3v1h-3zM39 6h2v1h-2zM21 64h23v1h-23z"/>
<path fill="#d3f300" d="M14 4h1v1h-1zM50 4h1v1h-1zM19 5h2v1h-2zM44 5h2v1h-2zM26 6h2v1h-2zM37 6h2v1h-2z"/>
<path fill="#d6f100" d="M15 4h1v1h-1zM49 4h1v1h-1zM21 5h2v1h-2zM42 5h2v1h-2z"/>
<path fill="#d9ee00" d="M16 4h2v1h-2zM47 4h2v1h-2zM23 5h1v1h-1zM31 5h3v1h-3zM41 5h1v1h-1z"/>
<path fill="#dbe900" d="M18 4h2v1h-2zM45 4h2v1h-2zM24 5h2v1h-2zM29 5h2v1h-2zM34 5h2v1h-2zM39 5h2v1h-2z"/>
<path fill="#dee500" d="M15 3h1v1h-1zM49 3h1v1h-1zM20 4h2v1h-2zM43 4h2v1h-2zM26 5h3v1h-3zM36 5h3v1h-3z"/>
<path fill="#e0e000" d="M16 3h1v1h-1zM48 3h1v1h-1zM22 4h1v1h-1zM42 4h1v1h-1z"/>
<path fill="#e0d900" d="M17 3h2v1h-2zM46 3h2v1h-2zM23 4h1v1h-1zM31 4h3v1h-3zM41 4h1v1h-1z"/>
<path fill="#e0d200" d="M19 3h2v1h-2zM44 3h2v1h-2zM24 4h1v1h-1zM30 4h1v1h-1zM34 4h1v1h-1zM40 4h1v1h-1z"/>
<path fill="#e0cb00" d="M21 3h1v1h-1zM43 3h1v1h-1zM25 4h5v1h-5zM35 4h5v1h-5z"/>
<path fill="#e1c500" d="M17 2h1v1h-1zM47 2h1v1h-1zM22 3h1v1h-1zM42 3h1v1h-1z"/>
<path fill="#e3be00" d="M18 2h2v1h-2zM45 2h2v1h-2zM23 3h1v1h-1zM41 3h1v1h-1z"/>
<path fill="#e6b700" d="M20 2h1v1h-1zM44 2h1v1h-1zM24 3h1v1h-1zM40 3h1v1h-1z"/>
<path fill="#e8b000" d="M21 2h1v1h-1zM43 2h1v1h-1zM25 3h1v1h-1zM31 3h3v1h-3zM39 3h1v1h-1z"/>
<path fill="#eba300" d="M22 2h1v1h-1zM42 2h1v1h-1zM26 3h5v1h-5zM34 3h5v1h-5z"/>
<path fill="#ee9600" d="M19 1h1v1h-1zM45 1h1v1h-1zM23 2h1v1h-1zM41 2h1v1h-1z"/>
<path fill="#f08a00" d="M20 1h1v1h-1zM44 1h1v1h-1z"/>
<path fill="#f07d00" d="M21 1h1v1h-1zM43 1h1v1h-1zM24 2h1v1h-1zM40 2h1v1h-1z"/>
<path fill="#f07000" d="M22 1h1v1h-1zM42 1h1v1h-1zM25 2h1v1h-1zM39 2h1v1h-1z"/>
<path fill="#f06200" d="M26 2h13v1h-13z"/>
<path fill="#f05500" d="M23 1h1v1h-1zM41 1h1v1h-1z"/>
<path fill="#f04700" d="M21 0h1v1h-1zM43 0h1v1h-1zM24 1h1v1h-1zM40 1h1v1h-1z"/>
<path fill="#f03500" d="M22 0h1v1h-1zM42 0h1v1h-1z"/>
<path fill="#f01e00" d="M25 1h1v1h-1zM39 1h1v1h-1z"/>
<path fill="#f00800" d="M23 0h1v1h-1zM41 0h1v1h-1zM26 1h4v1h-4zM35 1h4v1h-4z"/>
<path fill="#ed0500" d="M30 1h5v1h-5z"/>
<path fill="#ea0200" d="M24 0h1v1h-1zM40 0h1v1h-1z"/>
<path fill="#e50000" d="M25 0h1v1h-1zM39 0h1v1h-1z"/>
<path fill="#e00000" d="M26 0h1v1h-1zM38 0h1v1h-1z"/>
<path fill="#db0000" d="M27 0h4v1h-4zM34 0h4v1h-4z"/>
<path fill="#d50000" d="M31 0h3v1h-3z"/>
</g></g></g>
<rect x="1613.20" y="72.40" width="1.3" height="429.70" fill="#b4b4aa"/>
<rect x="1614.50" y="500.50" width="428.50" height="1.6" fill="#b4b4aa"/>
<rect x="1614.50" y="498.90" width="428.50" height="1.6" fill="#160070"/>
<rect x="1614.50" y="72.40" width="1.2" height="428.10" fill="#1e0090"/>
<rect x="1614.50" y="72.40" width="428.50" height="1.5" fill="#1c00ac"/>
<rect x="2062.6" y="108.4" width="39.60" height="309.30" fill="url(#cbg)"/>
<text transform="translate(1732.15,61.00) scale(0.9579,1)" font-size="38.5" font-family="'Liberation Serif','Noto Sans CJK SC',serif" text-anchor="start" >OBJ</text>
<text transform="translate(1835.40,61.00) scale(0.9604,1)" font-size="38.5" font-family="'Liberation Serif','Noto Sans CJK SC',serif" text-anchor="start" >0.59°</text>
<text transform="translate(1799.40,61.30) scale(1.05,0.7)" font-size="27" font-weight="bold" font-family="'Noto Sans CJK SC',sans-serif">：</text>
<text transform="translate(1482.30,86.70) scale(1.0000,1)" font-size="36.5" font-family="'Liberation Serif','Noto Sans CJK SC',serif" text-anchor="start" >(e)</text>
<text transform="translate(1604.10,88.10) scale(0.9300,1)" font-size="28" font-family="'Liberation Serif','Noto Sans CJK SC',serif" text-anchor="end" >1.0</text>
<text transform="translate(1608.20,299.30) scale(0.9300,1)" font-size="28" font-family="'Liberation Serif','Noto Sans CJK SC',serif" text-anchor="end" >0</text>
<text transform="translate(1606.30,512.70) scale(0.9300,1)" font-size="28" font-family="'Liberation Serif','Noto Sans CJK SC',serif" text-anchor="end" >−1.0</text>
<text transform="translate(1617.80,536.80) scale(0.9300,1)" font-size="28" font-family="'Liberation Serif','Noto Sans CJK SC',serif" text-anchor="middle" >−1.0</text>
<text transform="translate(1831.50,536.00) scale(0.9300,1)" font-size="28" font-family="'Liberation Serif','Noto Sans CJK SC',serif" text-anchor="middle" >0</text>
<text transform="translate(2045.10,536.00) scale(0.9300,1)" font-size="28" font-family="'Liberation Serif','Noto Sans CJK SC',serif" text-anchor="middle" >1.0</text>
<text transform="translate(1833.20,562.70) scale(1.0000,1)" font-size="21.5" font-family="'DejaVu Sans Mono',monospace" text-anchor="middle" fill="#1a1a1a" letter-spacing="0.9">X-Pupil (Rel. Units)</text>
<text transform="translate(1518.30,284.50) rotate(-90)" font-size="21.5" font-family="'DejaVu Sans Mono',monospace" text-anchor="middle" letter-spacing="0.9" fill="#1a1a1a">Y-Pupil (Rel. Units)</text>
<text transform="translate(2105.40,116.20) scale(1.0000,1)" font-size="21" font-family="'Liberation Serif','Noto Sans CJK SC',serif" text-anchor="start" >0.227</text>
<text transform="translate(2105.40,147.64) scale(1.0000,1)" font-size="21" font-family="'Liberation Serif','Noto Sans CJK SC',serif" text-anchor="start" >0.200</text>
<text transform="translate(2105.40,179.08) scale(1.0000,1)" font-size="21" font-family="'Liberation Serif','Noto Sans CJK SC',serif" text-anchor="start" >0.172</text>
<text transform="translate(2105.40,210.52) scale(1.0000,1)" font-size="21" font-family="'Liberation Serif','Noto Sans CJK SC',serif" text-anchor="start" >0.145</text>
<text transform="translate(2105.40,241.96) scale(1.0000,1)" font-size="21" font-family="'Liberation Serif','Noto Sans CJK SC',serif" text-anchor="start" >0.117</text>
<text transform="translate(2105.40,273.40) scale(1.0000,1)" font-size="21" font-family="'Liberation Serif','Noto Sans CJK SC',serif" text-anchor="start" >0.090</text>
<text transform="translate(2105.40,304.84) scale(1.0000,1)" font-size="21" font-family="'Liberation Serif','Noto Sans CJK SC',serif" text-anchor="start" >0.062</text>
<text transform="translate(2105.40,336.28) scale(1.0000,1)" font-size="21" font-family="'Liberation Serif','Noto Sans CJK SC',serif" text-anchor="start" >0.035</text>
<text transform="translate(2105.40,367.72) scale(1.0000,1)" font-size="21" font-family="'Liberation Serif','Noto Sans CJK SC',serif" text-anchor="start" >0.007</text>
<text transform="translate(2105.40,399.16) scale(1.0000,1)" font-size="21" font-family="'Liberation Serif','Noto Sans CJK SC',serif" text-anchor="start" >−0.021</text>
<text transform="translate(2105.40,430.60) scale(1.0000,1)" font-size="21" font-family="'Liberation Serif','Noto Sans CJK SC',serif" text-anchor="start" >−0.048</text>
<text transform="translate(2104.50,458.70) scale(1.0000,1)" font-size="16" font-family="'DejaVu Sans Mono',monospace" text-anchor="start" font-weight="bold" fill="#444">Waves</text>
<g transform="translate(145.4,635.2) scale(6.67231,6.65846)">
<rect width="65" height="65" fill="#2f0ec4"/>
<clipPath id="cpb"><path d="M32 0H33V1H32zM25 1H40V2H25zM21 2H44V3H21zM19 3H46V4H19zM17 4H48V5H17zM15 5H50V6H15zM14 6H51V7H14zM13 7H52V8H13zM11 8H54V9H11zM10 9H55V10H10zM9 10H56V11H9zM8 11H57V12H8zM8 12H57V13H8zM7 13H58V14H7zM6 14H59V15H6zM5 15H60V16H5zM5 16H60V17H5zM4 17H61V18H4zM4 18H61V19H4zM3 19H62V20H3zM3 20H62V21H3zM2 21H63V22H2zM2 22H63V23H2zM2 23H63V24H2zM2 24H63V25H2zM1 25H64V26H1zM1 26H64V27H1zM1 27H64V28H1zM1 28H64V29H1zM1 29H64V30H1zM1 30H64V31H1zM1 31H64V32H1zM1 32H64V33H1zM1 33H64V34H1zM1 34H64V35H1zM1 35H64V36H1zM1 36H64V37H1zM1 37H64V38H1zM1 38H64V39H1zM1 39H64V40H1zM2 40H63V41H2zM2 41H63V42H2zM2 42H63V43H2zM2 43H63V44H2zM3 44H62V45H3zM3 45H62V46H3zM4 46H61V47H4zM4 47H61V48H4zM5 48H60V49H5zM5 49H60V50H5zM6 50H59V51H6zM7 51H58V52H7zM8 52H57V53H8zM8 53H57V54H8zM9 54H56V55H9zM10 55H55V56H10zM11 56H54V57H11zM13 57H52V58H13zM14 58H51V59H14zM15 59H50V60H15zM17 60H48V61H17zM19 61H46V62H19zM21 62H44V63H21zM25 63H40V64H25zM32 64H33V65H32z"/></clipPath>
<g clip-path="url(#cpb)"><g filter="url(#bl)" shape-rendering="crispEdges">
<path fill="#0f52d8" d="M0 31h1v1h-1zM64 31h1v1h-1zM0 32h1v1h-1zM64 32h1v1h-1zM0 33h1v1h-1zM64 33h1v1h-1zM0 34h1v1h-1zM64 34h1v1h-1zM0 35h1v1h-1zM64 35h1v1h-1zM0 36h1v1h-1zM64 36h1v1h-1zM0 37h1v1h-1zM64 37h1v1h-1z"/>
<path fill="#0a5cd8" d="M0 28h1v1h-1zM64 28h1v1h-1zM0 29h1v1h-1zM64 29h1v1h-1zM0 30h1v1h-1zM64 30h1v1h-1zM0 38h1v1h-1zM64 38h1v1h-1zM0 39h1v1h-1zM64 39h1v1h-1zM0 40h1v1h-1zM64 40h1v1h-1zM0 41h1v1h-1zM64 41h1v1h-1z"/>
<path fill="#0566d8" d="M0 27h1v1h-1zM64 27h1v1h-1zM1 30h1v1h-1zM63 30h1v1h-1zM1 31h1v1h-1zM63 31h1v1h-1zM1 32h1v1h-1zM63 32h1v1h-1zM1 33h1v1h-1zM63 33h1v1h-1zM1 34h1v1h-1zM63 34h1v1h-1zM1 35h1v1h-1zM63 35h1v1h-1zM1 36h1v1h-1zM63 36h1v1h-1zM1 37h1v1h-1zM63 37h1v1h-1zM0 42h1v1h-1zM64 42h1v1h-1zM0 43h1v1h-1zM64 43h1v1h-1z"/>
<path fill="#0070d8" d="M0 26h1v1h-1zM64 26h1v1h-1zM1 27h1v1h-1zM63 27h1v1h-1zM1 28h1v1h-1zM63 28h1v1h-1zM1 29h1v1h-1zM63 29h1v1h-1zM1 38h1v1h-1zM63 38h1v1h-1zM1 39h1v1h-1zM63 39h1v1h-1zM1 40h1v1h-1zM63 40h1v1h-1zM1 41h1v1h-1zM63 41h1v1h-1z"/>
<path fill="#0079d6" d="M0 25h1v1h-1zM64 25h1v1h-1zM1 26h1v1h-1zM63 26h1v1h-1zM2 28h1v1h-1zM62 28h1v1h-1zM2 29h1v1h-1zM62 29h1v1h-1zM2 30h1v1h-1zM62 30h1v1h-1zM2 31h1v1h-1zM62 31h1v1h-1zM2 32h1v1h-1zM62 32h1v1h-1zM2 33h1v1h-1zM62 33h1v1h-1zM2 34h1v1h-1zM62 34h1v1h-1zM2 35h1v1h-1zM62 35h1v1h-1zM2 36h1v1h-1zM62 36h1v1h-1zM1 42h1v1h-1zM63 42h1v1h-1zM1 43h1v1h-1zM63 43h1v1h-1z"/>
<path fill="#0082d3" d="M31 20h3v1h-3zM0 24h1v1h-1zM64 24h1v1h-1zM1 25h1v1h-1zM63 25h1v1h-1zM2 26h1v1h-1zM62 26h1v1h-1zM2 27h1v1h-1zM62 27h1v1h-1zM2 37h1v1h-1zM62 37h1v1h-1zM2 38h1v1h-1zM62 38h1v1h-1zM2 39h1v1h-1zM62 39h1v1h-1zM2 40h1v1h-1zM62 40h1v1h-1zM1 44h1v1h-1zM63 44h1v1h-1zM1 45h1v1h-1zM63 45h1v1h-1z"/>
<path fill="#008bd1" d="M30 19h5v1h-5zM30 20h1v1h-1zM34 20h1v1h-1zM0 23h1v1h-1zM64 23h1v1h-1zM1 24h1v1h-1zM63 24h1v1h-1zM2 25h1v1h-1zM62 25h1v1h-1zM3 27h1v1h-1zM61 27h1v1h-1zM3 28h1v1h-1zM61 28h1v1h-1zM3 29h1v1h-1zM61 29h1v1h-1zM3 30h1v1h-1zM61 30h1v1h-1zM3 31h1v1h-1zM61 31h1v1h-1zM3 32h1v1h-1zM61 32h1v1h-1zM3 33h1v1h-1zM61 33h1v1h-1zM3 34h1v1h-1zM61 34h1v1h-1zM3 35h1v1h-1zM61 35h1v1h-1zM2 41h1v1h-1zM62 41h1v1h-1zM2 42h1v1h-1zM62 42h1v1h-1zM2 43h1v1h-1zM62 43h1v1h-1z"/>
<path fill="#0094ce" d="M27 19h3v1h-3zM35 19h3v1h-3zM26 20h4v1h-4zM35 20h4v1h-4zM30 21h5v1h-5zM1 23h1v1h-1zM63 23h1v1h-1zM2 24h1v1h-1zM62 24h1v1h-1zM3 25h1v1h-1zM61 25h1v1h-1zM3 26h1v1h-1zM61 26h1v1h-1zM3 36h1v1h-1zM61 36h1v1h-1zM3 37h1v1h-1zM61 37h1v1h-1zM3 38h1v1h-1zM61 38h1v1h-1zM2 44h1v1h-1zM62 44h1v1h-1zM2 45h1v1h-1zM62 45h1v1h-1z"/>
<path fill="#009bcb" d="M31 18h3v1h-3zM25 19h2v1h-2zM38 19h2v1h-2zM25 20h1v1h-1zM39 20h1v1h-1zM25 21h5v1h-5zM35 21h5v1h-5zM0 22h1v1h-1zM64 22h1v1h-1zM2 23h1v1h-1zM62 23h1v1h-1zM3 24h1v1h-1zM61 24h1v1h-1zM4 27h1v1h-1zM60 27h1v1h-1zM4 28h1v1h-1zM60 28h1v1h-1zM4 29h1v1h-1zM60 29h1v1h-1zM4 30h1v1h-1zM60 30h1v1h-1zM4 31h1v1h-1zM60 31h1v1h-1zM4 32h1v1h-1zM60 32h1v1h-1zM4 33h1v1h-1zM60 33h1v1h-1zM4 34h1v1h-1zM60 34h1v1h-1zM3 39h1v1h-1zM61 39h1v1h-1zM3 40h1v1h-1zM61 40h1v1h-1zM3 41h1v1h-1zM61 41h1v1h-1zM2 46h1v1h-1zM62 46h1v1h-1zM2 47h1v1h-1zM62 47h1v1h-1z"/>
<path fill="#00a2c7" d="M26 18h5v1h-5zM34 18h5v1h-5zM24 19h1v1h-1zM40 19h1v1h-1zM24 20h1v1h-1zM40 20h1v1h-1zM24 21h1v1h-1zM40 21h1v1h-1zM1 22h2v1h-2zM27 22h1v1h-1zM37 22h1v1h-1zM62 22h2v1h-2zM3 23h1v1h-1zM61 23h1v1h-1zM4 25h1v1h-1zM60 25h1v1h-1zM4 26h1v1h-1zM60 26h1v1h-1zM4 35h1v1h-1zM60 35h1v1h-1zM4 36h1v1h-1zM60 36h1v1h-1zM4 37h1v1h-1zM60 37h1v1h-1zM3 42h1v1h-1zM61 42h1v1h-1zM3 43h1v1h-1zM61 43h1v1h-1zM3 44h1v1h-1zM61 44h1v1h-1z"/>
<path fill="#00a9c4" d="M25 18h1v1h-1zM39 18h1v1h-1zM23 19h1v1h-1zM41 19h1v1h-1zM23 20h1v1h-1zM41 20h1v1h-1zM0 21h1v1h-1zM23 21h1v1h-1zM41 21h1v1h-1zM64 21h1v1h-1zM3 22h1v1h-1zM25 22h2v1h-2zM28 22h9v1h-9zM38 22h2v1h-2zM61 22h1v1h-1zM4 24h1v1h-1zM60 24h1v1h-1zM5 26h1v1h-1zM59 26h1v1h-1zM5 27h1v1h-1zM59 27h1v1h-1zM5 28h1v1h-1zM59 28h1v1h-1zM5 29h1v1h-1zM59 29h1v1h-1zM5 30h1v1h-1zM59 30h1v1h-1zM5 31h1v1h-1zM59 31h1v1h-1zM5 32h1v1h-1zM59 32h1v1h-1zM5 33h1v1h-1zM59 33h1v1h-1zM4 38h1v1h-1zM60 38h1v1h-1zM4 39h1v1h-1zM60 39h1v1h-1zM3 45h1v1h-1zM61 45h1v1h-1zM3 46h1v1h-1zM61 46h1v1h-1z"/>
<path fill="#00b0c0" d="M24 18h1v1h-1zM40 18h1v1h-1zM22 20h1v1h-1zM42 20h1v1h-1zM1 21h2v1h-2zM22 21h1v1h-1zM42 21h1v1h-1zM62 21h2v1h-2zM23 22h2v1h-2zM40 22h2v1h-2zM4 23h1v1h-1zM60 23h1v1h-1zM5 24h1v1h-1zM59 24h1v1h-1zM5 25h1v1h-1zM59 25h1v1h-1zM5 34h1v1h-1zM59 34h1v1h-1zM5 35h1v1h-1zM59 35h1v1h-1zM5 36h1v1h-1zM59 36h1v1h-1zM4 40h1v1h-1zM60 40h1v1h-1zM4 41h1v1h-1zM60 41h1v1h-1zM4 42h1v1h-1zM60 42h1v1h-1zM3 47h1v1h-1zM61 47h1v1h-1zM3 48h1v1h-1zM61 48h1v1h-1zM3 49h1v1h-1zM61 49h1v1h-1z"/>
<path fill="#00b5bb" d="M26 17h13v1h-13zM23 18h1v1h-1zM41 18h1v1h-1zM22 19h1v1h-1zM42 19h1v1h-1zM21 20h1v1h-1zM43 20h1v1h-1zM3 21h1v1h-1zM61 21h1v1h-1zM4 22h1v1h-1zM60 22h1v1h-1zM5 23h1v1h-1zM25 23h4v1h-4zM36 23h4v1h-4zM59 23h1v1h-1zM6 26h1v1h-1zM58 26h1v1h-1zM6 27h1v1h-1zM58 27h1v1h-1zM6 28h1v1h-1zM58 28h1v1h-1zM6 29h1v1h-1zM58 29h1v1h-1zM6 30h1v1h-1zM58 30h1v1h-1zM6 31h1v1h-1zM58 31h1v1h-1zM6 32h1v1h-1zM58 32h1v1h-1zM6 33h1v1h-1zM58 33h1v1h-1zM5 37h1v1h-1zM59 37h1v1h-1zM5 38h1v1h-1zM59 38h1v1h-1zM4 43h1v1h-1zM60 43h1v1h-1zM4 44h1v1h-1zM60 44h1v1h-1zM4 45h1v1h-1zM60 45h1v1h-1z"/>
<path fill="#00bab6" d="M24 17h2v1h-2zM39 17h2v1h-2zM22 18h1v1h-1zM42 18h1v1h-1zM21 19h1v1h-1zM43 19h1v1h-1zM1 20h1v1h-1zM63 20h1v1h-1zM21 21h1v1h-1zM43 21h1v1h-1zM22 22h1v1h-1zM42 22h1v1h-1zM23 23h2v1h-2zM29 23h2v1h-2zM34 23h2v1h-2zM40 23h2v1h-2zM6 24h1v1h-1zM58 24h1v1h-1zM6 25h1v1h-1zM58 25h1v1h-1zM6 34h1v1h-1zM58 34h1v1h-1zM6 35h1v1h-1zM58 35h1v1h-1zM5 39h1v1h-1zM59 39h1v1h-1zM5 40h1v1h-1zM59 40h1v1h-1zM4 46h1v1h-1zM60 46h1v1h-1zM4 47h1v1h-1zM60 47h1v1h-1zM4 48h1v1h-1zM60 48h1v1h-1z"/>
<path fill="#00bfb1" d="M23 17h1v1h-1zM41 17h1v1h-1zM21 18h1v1h-1zM43 18h1v1h-1zM20 19h1v1h-1zM44 19h1v1h-1zM2 20h1v1h-1zM20 20h1v1h-1zM44 20h1v1h-1zM62 20h1v1h-1zM4 21h1v1h-1zM20 21h1v1h-1zM44 21h1v1h-1zM60 21h1v1h-1zM5 22h1v1h-1zM21 22h1v1h-1zM43 22h1v1h-1zM59 22h1v1h-1zM6 23h1v1h-1zM22 23h1v1h-1zM31 23h3v1h-3zM42 23h1v1h-1zM58 23h1v1h-1zM7 26h1v1h-1zM57 26h1v1h-1zM7 27h1v1h-1zM57 27h1v1h-1zM7 28h1v1h-1zM57 28h1v1h-1zM7 29h1v1h-1zM57 29h1v1h-1zM7 30h1v1h-1zM57 30h1v1h-1zM7 31h1v1h-1zM57 31h1v1h-1zM7 32h1v1h-1zM57 32h1v1h-1zM7 33h1v1h-1zM57 33h1v1h-1zM6 36h1v1h-1zM58 36h1v1h-1zM6 37h1v1h-1zM58 37h1v1h-1zM5 41h1v1h-1zM59 41h1v1h-1zM5 42h1v1h-1zM59 42h1v1h-1zM4 49h1v1h-1zM60 49h1v1h-1zM4 50h1v1h-1zM60 50h1v1h-1z"/>
<path fill="#00c4ac" d="M27 16h2v1h-2zM36 16h2v1h-2zM22 17h1v1h-1zM42 17h1v1h-1zM3 20h1v1h-1zM61 20h1v1h-1zM5 21h1v1h-1zM59 21h1v1h-1zM6 22h1v1h-1zM20 22h1v1h-1zM44 22h1v1h-1zM58 22h1v1h-1zM21 23h1v1h-1zM43 23h1v1h-1zM7 24h1v1h-1zM24 24h4v1h-4zM37 24h4v1h-4zM57 24h1v1h-1zM7 25h1v1h-1zM57 25h1v1h-1zM8 29h1v1h-1zM56 29h1v1h-1zM8 30h1v1h-1zM56 30h1v1h-1zM8 31h1v1h-1zM56 31h1v1h-1zM8 32h1v1h-1zM56 32h1v1h-1zM7 34h1v1h-1zM57 34h1v1h-1zM7 35h1v1h-1zM57 35h1v1h-1zM6 38h1v1h-1zM58 38h1v1h-1zM6 39h1v1h-1zM58 39h1v1h-1zM5 43h1v1h-1zM59 43h1v1h-1zM5 44h1v1h-1zM59 44h1v1h-1zM5 45h1v1h-1zM59 45h1v1h-1z"/>
<path fill="#00c8a6" d="M24 16h3v1h-3zM29 16h3v1h-3zM33 16h3v1h-3zM38 16h3v1h-3zM21 17h1v1h-1zM43 17h1v1h-1zM20 18h1v1h-1zM44 18h1v1h-1zM19 19h1v1h-1zM45 19h1v1h-1zM4 20h1v1h-1zM19 20h1v1h-1zM45 20h1v1h-1zM60 20h1v1h-1zM19 21h1v1h-1zM45 21h1v1h-1zM7 23h1v1h-1zM57 23h1v1h-1zM22 24h2v1h-2zM28 24h2v1h-2zM35 24h2v1h-2zM41 24h2v1h-2zM8 25h1v1h-1zM56 25h1v1h-1zM8 26h1v1h-1zM56 26h1v1h-1zM8 27h1v1h-1zM56 27h1v1h-1zM8 28h1v1h-1zM56 28h1v1h-1zM8 33h1v1h-1zM56 33h1v1h-1zM8 34h1v1h-1zM56 34h1v1h-1zM7 36h1v1h-1zM57 36h1v1h-1zM6 40h1v1h-1zM58 40h1v1h-1zM5 46h1v1h-1zM59 46h1v1h-1zM5 47h1v1h-1zM59 47h1v1h-1zM5 48h1v1h-1zM59 48h1v1h-1zM5 49h1v1h-1zM59 49h1v1h-1zM5 50h1v1h-1zM59 50h1v1h-1zM5 51h1v1h-1zM59 51h1v1h-1z"/>
<path fill="#00cda0" d="M23 16h1v1h-1zM32 16h1v1h-1zM41 16h1v1h-1zM20 17h1v1h-1zM44 17h1v1h-1zM19 18h1v1h-1zM45 18h1v1h-1zM1 19h2v1h-2zM62 19h2v1h-2zM6 21h1v1h-1zM58 21h1v1h-1zM7 22h1v1h-1zM19 22h1v1h-1zM45 22h1v1h-1zM57 22h1v1h-1zM20 23h1v1h-1zM44 23h1v1h-1zM8 24h1v1h-1zM21 24h1v1h-1zM30 24h1v1h-1zM34 24h1v1h-1zM43 24h1v1h-1zM56 24h1v1h-1zM9 27h1v1h-1zM55 27h1v1h-1zM9 28h1v1h-1zM55 28h1v1h-1zM9 29h1v1h-1zM55 29h1v1h-1zM9 30h1v1h-1zM55 30h1v1h-1zM9 31h1v1h-1zM55 31h1v1h-1zM9 32h1v1h-1zM55 32h1v1h-1zM8 35h1v1h-1zM56 35h1v1h-1zM7 37h1v1h-1zM57 37h1v1h-1zM7 38h1v1h-1zM57 38h1v1h-1zM6 41h1v1h-1zM58 41h1v1h-1zM6 42h1v1h-1zM58 42h1v1h-1z"/>
<path fill="#00d199" d="M22 16h1v1h-1zM42 16h1v1h-1zM3 19h1v1h-1zM18 19h1v1h-1zM46 19h1v1h-1zM61 19h1v1h-1zM5 20h1v1h-1zM18 20h1v1h-1zM46 20h1v1h-1zM59 20h1v1h-1zM18 21h1v1h-1zM46 21h1v1h-1zM8 23h1v1h-1zM19 23h1v1h-1zM45 23h1v1h-1zM56 23h1v1h-1zM31 24h3v1h-3zM9 25h1v1h-1zM23 25h5v1h-5zM37 25h5v1h-5zM55 25h1v1h-1zM9 26h1v1h-1zM55 26h1v1h-1zM9 33h1v1h-1zM55 33h1v1h-1zM9 34h1v1h-1zM55 34h1v1h-1zM8 36h1v1h-1zM56 36h1v1h-1zM7 39h1v1h-1zM57 39h1v1h-1zM6 43h1v1h-1zM58 43h1v1h-1zM6 44h1v1h-1zM58 44h1v1h-1zM6 45h1v1h-1zM58 45h1v1h-1zM6 46h1v1h-1zM58 46h1v1h-1zM6 47h1v1h-1zM58 47h1v1h-1zM6 48h1v1h-1zM58 48h1v1h-1zM6 49h1v1h-1zM58 49h1v1h-1zM6 50h1v1h-1zM58 50h1v1h-1zM6 51h1v1h-1zM58 51h1v1h-1zM6 52h1v1h-1zM58 52h1v1h-1zM6 53h1v1h-1zM58 53h1v1h-1z"/>
<path fill="#00d693" d="M21 16h1v1h-1zM43 16h1v1h-1zM19 17h1v1h-1zM45 17h1v1h-1zM18 18h1v1h-1zM46 18h1v1h-1zM6 20h1v1h-1zM58 20h1v1h-1zM7 21h1v1h-1zM57 21h1v1h-1zM8 22h1v1h-1zM18 22h1v1h-1zM46 22h1v1h-1zM56 22h1v1h-1zM9 23h1v1h-1zM55 23h1v1h-1zM9 24h1v1h-1zM20 24h1v1h-1zM44 24h1v1h-1zM55 24h1v1h-1zM21 25h2v1h-2zM28 25h1v1h-1zM36 25h1v1h-1zM42 25h2v1h-2zM10 26h1v1h-1zM54 26h1v1h-1zM10 27h1v1h-1zM54 27h1v1h-1zM10 28h1v1h-1zM54 28h1v1h-1zM10 29h1v1h-1zM54 29h1v1h-1zM10 30h1v1h-1zM54 30h1v1h-1zM10 31h1v1h-1zM54 31h1v1h-1zM10 32h1v1h-1zM54 32h1v1h-1zM10 33h1v1h-1zM54 33h1v1h-1zM9 35h1v1h-1zM55 35h1v1h-1zM8 37h1v1h-1zM56 37h1v1h-1zM7 40h1v1h-1zM57 40h1v1h-1z"/>
<path fill="#00da8b" d="M24 15h7v1h-7zM34 15h7v1h-7zM20 16h1v1h-1zM44 16h1v1h-1zM4 19h1v1h-1zM17 19h1v1h-1zM47 19h1v1h-1zM60 19h1v1h-1zM17 20h1v1h-1zM47 20h1v1h-1zM8 21h1v1h-1zM17 21h1v1h-1zM47 21h1v1h-1zM56 21h1v1h-1zM9 22h1v1h-1zM55 22h1v1h-1zM18 23h1v1h-1zM46 23h1v1h-1zM10 24h1v1h-1zM19 24h1v1h-1zM45 24h1v1h-1zM54 24h1v1h-1zM10 25h1v1h-1zM20 25h1v1h-1zM29 25h1v1h-1zM35 25h1v1h-1zM44 25h1v1h-1zM54 25h1v1h-1zM24 26h2v1h-2zM39 26h2v1h-2zM11 29h1v1h-1zM53 29h1v1h-1zM11 30h1v1h-1zM53 30h1v1h-1zM11 31h1v1h-1zM53 31h1v1h-1zM10 34h1v1h-1zM54 34h1v1h-1zM9 36h1v1h-1zM55 36h1v1h-1zM8 38h1v1h-1zM56 38h1v1h-1zM7 41h1v1h-1zM57 41h1v1h-1zM7 42h1v1h-1zM57 42h1v1h-1zM7 50h1v1h-1zM57 50h1v1h-1zM7 51h1v1h-1zM57 51h1v1h-1zM7 52h1v1h-1zM57 52h1v1h-1zM7 53h1v1h-1zM57 53h1v1h-1zM7 54h1v1h-1zM57 54h1v1h-1z"/>
<path fill="#00dd80" d="M22 15h2v1h-2zM31 15h3v1h-3zM41 15h2v1h-2zM19 16h1v1h-1zM45 16h1v1h-1zM18 17h1v1h-1zM46 17h1v1h-1zM17 18h1v1h-1zM47 18h1v1h-1zM5 19h1v1h-1zM59 19h1v1h-1zM7 20h1v1h-1zM16 20h1v1h-1zM48 20h1v1h-1zM57 20h1v1h-1zM9 21h1v1h-1zM55 21h1v1h-1zM17 22h1v1h-1zM47 22h1v1h-1zM10 23h1v1h-1zM54 23h1v1h-1zM11 24h1v1h-1zM18 24h1v1h-1zM46 24h1v1h-1zM53 24h1v1h-1zM11 25h1v1h-1zM30 25h2v1h-2zM33 25h2v1h-2zM53 25h1v1h-1zM11 26h1v1h-1zM22 26h2v1h-2zM26 26h2v1h-2zM37 26h2v1h-2zM41 26h2v1h-2zM53 26h1v1h-1zM11 27h1v1h-1zM53 27h1v1h-1zM11 28h1v1h-1zM53 28h1v1h-1zM11 32h1v1h-1zM53 32h1v1h-1zM11 33h1v1h-1zM53 33h1v1h-1zM10 35h1v1h-1zM54 35h1v1h-1zM9 37h1v1h-1zM55 37h1v1h-1zM8 39h1v1h-1zM56 39h1v1h-1zM7 43h1v1h-1zM57 43h1v1h-1zM7 44h1v1h-1zM57 44h1v1h-1zM7 45h1v1h-1zM57 45h1v1h-1zM7 46h1v1h-1zM57 46h1v1h-1zM7 47h1v1h-1zM57 47h1v1h-1zM7 48h1v1h-1zM57 48h1v1h-1zM7 49h1v1h-1zM57 49h1v1h-1zM8 55h1v1h-1zM56 55h1v1h-1z"/>
<path fill="#00e175" d="M21 15h1v1h-1zM43 15h1v1h-1zM17 17h1v1h-1zM47 17h1v1h-1zM2 18h1v1h-1zM62 18h1v1h-1zM6 19h1v1h-1zM16 19h1v1h-1zM48 19h1v1h-1zM58 19h1v1h-1zM8 20h1v1h-1zM56 20h1v1h-1zM16 21h1v1h-1zM48 21h1v1h-1zM10 22h1v1h-1zM16 22h1v1h-1zM48 22h1v1h-1zM54 22h1v1h-1zM11 23h1v1h-1zM17 23h1v1h-1zM47 23h1v1h-1zM53 23h1v1h-1zM12 25h1v1h-1zM19 25h1v1h-1zM32 25h1v1h-1zM45 25h1v1h-1zM52 25h1v1h-1zM12 26h1v1h-1zM20 26h2v1h-2zM28 26h1v1h-1zM36 26h1v1h-1zM43 26h2v1h-2zM52 26h1v1h-1zM12 27h1v1h-1zM52 27h1v1h-1zM12 28h1v1h-1zM52 28h1v1h-1zM12 29h1v1h-1zM52 29h1v1h-1zM12 30h1v1h-1zM52 30h1v1h-1zM12 31h1v1h-1zM52 31h1v1h-1zM11 34h1v1h-1zM53 34h1v1h-1zM10 36h1v1h-1zM54 36h1v1h-1zM8 40h1v1h-1zM56 40h1v1h-1zM8 51h1v1h-1zM56 51h1v1h-1zM8 52h1v1h-1zM56 52h1v1h-1zM8 53h1v1h-1zM56 53h1v1h-1zM8 54h1v1h-1zM56 54h1v1h-1z"/>
<path fill="#00e46b" d="M20 15h1v1h-1zM44 15h1v1h-1zM18 16h1v1h-1zM46 16h1v1h-1zM3 18h1v1h-1zM16 18h1v1h-1zM48 18h1v1h-1zM61 18h1v1h-1zM7 19h1v1h-1zM15 19h1v1h-1zM49 19h1v1h-1zM57 19h1v1h-1zM9 20h1v1h-1zM15 20h1v1h-1zM49 20h1v1h-1zM55 20h1v1h-1zM10 21h2v1h-2zM15 21h1v1h-1zM49 21h1v1h-1zM53 21h2v1h-2zM11 22h2v1h-2zM15 22h1v1h-1zM49 22h1v1h-1zM52 22h2v1h-2zM12 23h2v1h-2zM16 23h1v1h-1zM48 23h1v1h-1zM51 23h2v1h-2zM12 24h2v1h-2zM16 24h2v1h-2zM47 24h2v1h-2zM51 24h2v1h-2zM13 25h1v1h-1zM18 25h1v1h-1zM46 25h1v1h-1zM51 25h1v1h-1zM13 26h1v1h-1zM19 26h1v1h-1zM29 26h1v1h-1zM35 26h1v1h-1zM45 26h1v1h-1zM51 26h1v1h-1zM13 27h1v1h-1zM22 27h4v1h-4zM39 27h4v1h-4zM51 27h1v1h-1zM13 28h1v1h-1zM51 28h1v1h-1zM12 32h1v1h-1zM52 32h1v1h-1zM12 33h1v1h-1zM52 33h1v1h-1zM11 35h1v1h-1zM53 35h1v1h-1zM9 38h1v1h-1zM55 38h1v1h-1zM8 41h1v1h-1zM56 41h1v1h-1zM8 48h1v1h-1zM56 48h1v1h-1zM8 49h1v1h-1zM56 49h1v1h-1zM8 50h1v1h-1zM56 50h1v1h-1zM9 54h1v1h-1zM55 54h1v1h-1zM9 55h1v1h-1zM55 55h1v1h-1zM9 56h1v1h-1zM55 56h1v1h-1z"/>
<path fill="#00e860" d="M24 14h4v1h-4zM37 14h4v1h-4zM19 15h1v1h-1zM45 15h1v1h-1zM17 16h1v1h-1zM47 16h1v1h-1zM16 17h1v1h-1zM48 17h1v1h-1zM4 18h1v1h-1zM15 18h1v1h-1zM49 18h1v1h-1zM60 18h1v1h-1zM8 19h1v1h-1zM56 19h1v1h-1zM10 20h2v1h-2zM14 20h1v1h-1zM50 20h1v1h-1zM53 20h2v1h-2zM12 21h3v1h-3zM50 21h3v1h-3zM13 22h2v1h-2zM50 22h2v1h-2zM14 23h2v1h-2zM49 23h2v1h-2zM14 24h2v1h-2zM49 24h2v1h-2zM14 25h4v1h-4zM47 25h4v1h-4zM14 26h1v1h-1zM18 26h1v1h-1zM30 26h1v1h-1zM34 26h1v1h-1zM46 26h1v1h-1zM50 26h1v1h-1zM14 27h1v1h-1zM20 27h2v1h-2zM26 27h2v1h-2zM37 27h2v1h-2zM43 27h2v1h-2zM50 27h1v1h-1zM13 29h1v1h-1zM51 29h1v1h-1zM13 30h1v1h-1zM51 30h1v1h-1zM13 31h1v1h-1zM51 31h1v1h-1zM13 32h1v1h-1zM51 32h1v1h-1zM12 34h1v1h-1zM52 34h1v1h-1zM11 36h1v1h-1zM53 36h1v1h-1zM10 37h1v1h-1zM54 37h1v1h-1zM9 39h1v1h-1zM55 39h1v1h-1zM8 42h1v1h-1zM56 42h1v1h-1zM8 43h1v1h-1zM56 43h1v1h-1zM8 44h1v1h-1zM56 44h1v1h-1zM8 45h1v1h-1zM56 45h1v1h-1zM8 46h1v1h-1zM56 46h1v1h-1zM8 47h1v1h-1zM56 47h1v1h-1zM9 51h1v1h-1zM55 51h1v1h-1zM9 52h1v1h-1zM55 52h1v1h-1zM9 53h1v1h-1zM55 53h1v1h-1zM10 56h1v1h-1zM54 56h1v1h-1zM10 57h1v1h-1zM54 57h1v1h-1z"/>
<path fill="#08ea50" d="M22 14h2v1h-2zM28 14h9v1h-9zM41 14h2v1h-2zM18 15h1v1h-1zM46 15h1v1h-1zM15 17h1v1h-1zM49 17h1v1h-1zM5 18h2v1h-2zM14 18h1v1h-1zM50 18h1v1h-1zM58 18h2v1h-2zM9 19h2v1h-2zM13 19h2v1h-2zM50 19h2v1h-2zM54 19h2v1h-2zM12 20h2v1h-2zM51 20h2v1h-2zM15 26h3v1h-3zM31 26h3v1h-3zM47 26h3v1h-3zM15 27h1v1h-1zM18 27h2v1h-2zM28 27h1v1h-1zM36 27h1v1h-1zM45 27h2v1h-2zM49 27h1v1h-1zM14 28h1v1h-1zM50 28h1v1h-1zM14 29h1v1h-1zM50 29h1v1h-1zM14 30h1v1h-1zM50 30h1v1h-1zM13 33h1v1h-1zM51 33h1v1h-1zM12 35h1v1h-1zM52 35h1v1h-1zM10 38h1v1h-1zM54 38h1v1h-1zM9 40h1v1h-1zM55 40h1v1h-1zM9 49h1v1h-1zM55 49h1v1h-1zM9 50h1v1h-1zM55 50h1v1h-1zM10 54h1v1h-1zM54 54h1v1h-1zM10 55h1v1h-1zM54 55h1v1h-1zM11 57h1v1h-1zM53 57h1v1h-1zM11 58h1v1h-1zM53 58h1v1h-1z"/>
<path fill="#10ec40" d="M21 14h1v1h-1zM43 14h1v1h-1zM16 16h1v1h-1zM48 16h1v1h-1zM2 17h1v1h-1zM62 17h1v1h-1zM7 18h2v1h-2zM13 18h1v1h-1zM51 18h1v1h-1zM56 18h2v1h-2zM11 19h2v1h-2zM52 19h2v1h-2zM16 27h2v1h-2zM29 27h1v1h-1zM35 27h1v1h-1zM47 27h2v1h-2zM15 28h2v1h-2zM19 28h7v1h-7zM39 28h7v1h-7zM48 28h2v1h-2zM15 29h1v1h-1zM49 29h1v1h-1zM15 30h1v1h-1zM49 30h1v1h-1zM14 31h1v1h-1zM50 31h1v1h-1zM14 32h1v1h-1zM50 32h1v1h-1zM13 34h1v1h-1zM51 34h1v1h-1zM11 37h1v1h-1zM53 37h1v1h-1zM9 41h1v1h-1zM55 41h1v1h-1zM9 47h1v1h-1zM55 47h1v1h-1zM9 48h1v1h-1zM55 48h1v1h-1zM10 52h1v1h-1zM54 52h1v1h-1zM10 53h1v1h-1zM54 53h1v1h-1zM11 55h1v1h-1zM53 55h1v1h-1zM11 56h1v1h-1zM53 56h1v1h-1zM12 58h1v1h-1zM52 58h1v1h-1z"/>
<path fill="#18ee30" d="M20 14h1v1h-1zM44 14h1v1h-1zM17 15h1v1h-1zM47 15h1v1h-1zM15 16h1v1h-1zM49 16h1v1h-1zM3 17h1v1h-1zM14 17h1v1h-1zM50 17h1v1h-1zM61 17h1v1h-1zM9 18h4v1h-4zM52 18h4v1h-4zM30 27h1v1h-1zM34 27h1v1h-1zM17 28h2v1h-2zM26 28h2v1h-2zM37 28h2v1h-2zM46 28h2v1h-2zM16 29h2v1h-2zM47 29h2v1h-2zM15 31h1v1h-1zM49 31h1v1h-1zM14 33h1v1h-1zM50 33h1v1h-1zM13 35h1v1h-1zM51 35h1v1h-1zM12 36h1v1h-1zM52 36h1v1h-1zM10 39h1v1h-1zM54 39h1v1h-1zM9 42h1v1h-1zM55 42h1v1h-1zM9 43h1v1h-1zM55 43h1v1h-1zM9 45h1v1h-1zM55 45h1v1h-1zM9 46h1v1h-1zM55 46h1v1h-1zM10 50h1v1h-1zM54 50h1v1h-1zM10 51h1v1h-1zM54 51h1v1h-1zM11 53h1v1h-1zM53 53h1v1h-1zM11 54h1v1h-1zM53 54h1v1h-1zM12 56h1v1h-1zM52 56h1v1h-1zM12 57h1v1h-1zM52 57h1v1h-1zM13 58h1v1h-1zM51 58h1v1h-1zM13 59h1v1h-1zM51 59h1v1h-1z"/>
<path fill="#20f020" d="M19 14h1v1h-1zM45 14h1v1h-1zM16 15h1v1h-1zM48 15h1v1h-1zM14 16h1v1h-1zM50 16h1v1h-1zM4 17h1v1h-1zM12 17h2v1h-2zM51 17h2v1h-2zM60 17h1v1h-1zM31 27h3v1h-3zM28 28h1v1h-1zM36 28h1v1h-1zM18 29h6v1h-6zM41 29h6v1h-6zM16 30h2v1h-2zM47 30h2v1h-2zM16 31h1v1h-1zM48 31h1v1h-1zM15 32h1v1h-1zM49 32h1v1h-1zM14 34h1v1h-1zM50 34h1v1h-1zM12 37h1v1h-1zM52 37h1v1h-1zM11 38h1v1h-1zM53 38h1v1h-1zM10 40h1v1h-1zM54 40h1v1h-1zM9 44h1v1h-1zM55 44h1v1h-1zM10 48h1v1h-1zM54 48h1v1h-1zM10 49h1v1h-1zM54 49h1v1h-1zM11 52h1v1h-1zM53 52h1v1h-1zM12 55h1v1h-1zM52 55h1v1h-1zM13 57h1v1h-1zM51 57h1v1h-1zM14 58h1v1h-1zM50 58h1v1h-1zM14 59h1v1h-1zM50 59h1v1h-1zM14 60h1v1h-1zM50 60h1v1h-1z"/>
<path fill="#27f019" d="M23 13h4v1h-4zM38 13h4v1h-4zM18 14h1v1h-1zM46 14h1v1h-1zM13 16h1v1h-1zM51 16h1v1h-1zM5 17h7v1h-7zM53 17h7v1h-7zM29 28h1v1h-1zM35 28h1v1h-1zM24 29h3v1h-3zM38 29h3v1h-3zM18 30h2v1h-2zM45 30h2v1h-2zM17 31h1v1h-1zM47 31h1v1h-1zM16 32h1v1h-1zM48 32h1v1h-1zM15 33h1v1h-1zM49 33h1v1h-1zM14 35h1v1h-1zM50 35h1v1h-1zM13 36h1v1h-1zM51 36h1v1h-1zM11 39h1v1h-1zM53 39h1v1h-1zM10 41h1v1h-1zM54 41h1v1h-1zM10 47h1v1h-1zM54 47h1v1h-1zM11 50h1v1h-1zM53 50h1v1h-1zM11 51h1v1h-1zM53 51h1v1h-1zM12 53h1v1h-1zM52 53h1v1h-1zM12 54h1v1h-1zM52 54h1v1h-1zM13 55h1v1h-1zM51 55h1v1h-1zM13 56h1v1h-1zM51 56h1v1h-1zM14 57h1v1h-1zM50 57h1v1h-1zM15 58h1v1h-1zM49 58h1v1h-1zM15 59h1v1h-1zM49 59h1v1h-1zM15 60h1v1h-1zM49 60h1v1h-1z"/>
<path fill="#2ef012" d="M21 13h2v1h-2zM27 13h11v1h-11zM42 13h2v1h-2zM17 14h1v1h-1zM47 14h1v1h-1zM15 15h1v1h-1zM49 15h1v1h-1zM12 16h1v1h-1zM52 16h1v1h-1zM30 28h2v1h-2zM33 28h2v1h-2zM27 29h1v1h-1zM37 29h1v1h-1zM20 30h2v1h-2zM43 30h2v1h-2zM18 31h1v1h-1zM46 31h1v1h-1zM15 34h1v1h-1zM49 34h1v1h-1zM13 37h1v1h-1zM51 37h1v1h-1zM12 38h1v1h-1zM52 38h1v1h-1zM10 42h1v1h-1zM54 42h1v1h-1zM10 45h1v1h-1zM54 45h1v1h-1zM10 46h1v1h-1zM54 46h1v1h-1zM11 49h1v1h-1zM53 49h1v1h-1zM12 52h1v1h-1zM52 52h1v1h-1zM13 54h1v1h-1zM51 54h1v1h-1zM14 56h1v1h-1zM50 56h1v1h-1zM15 57h2v1h-2zM48 57h2v1h-2zM16 58h3v1h-3zM46 58h3v1h-3zM16 59h2v1h-2zM47 59h2v1h-2zM16 60h1v1h-1zM48 60h1v1h-1zM15 61h1v1h-1zM49 61h1v1h-1z"/>
<path fill="#35f00b" d="M19 13h2v1h-2zM44 13h2v1h-2zM16 14h1v1h-1zM48 14h1v1h-1zM14 15h1v1h-1zM50 15h1v1h-1zM3 16h1v1h-1zM9 16h3v1h-3zM53 16h3v1h-3zM61 16h1v1h-1zM32 28h1v1h-1zM28 29h2v1h-2zM35 29h2v1h-2zM22 30h3v1h-3zM40 30h3v1h-3zM19 31h1v1h-1zM45 31h1v1h-1zM17 32h1v1h-1zM47 32h1v1h-1zM16 33h1v1h-1zM48 33h1v1h-1zM15 35h1v1h-1zM49 35h1v1h-1zM14 36h1v1h-1zM50 36h1v1h-1zM11 40h1v1h-1zM53 40h1v1h-1zM10 43h1v1h-1zM54 43h1v1h-1zM10 44h1v1h-1zM54 44h1v1h-1zM11 48h1v1h-1zM53 48h1v1h-1zM12 51h1v1h-1zM52 51h1v1h-1zM13 53h1v1h-1zM51 53h1v1h-1zM14 55h1v1h-1zM50 55h1v1h-1zM15 56h1v1h-1zM49 56h1v1h-1zM17 57h2v1h-2zM46 57h2v1h-2zM19 58h1v1h-1zM45 58h1v1h-1zM18 59h1v1h-1zM46 59h1v1h-1zM17 60h1v1h-1zM47 60h1v1h-1zM16 61h1v1h-1zM48 61h1v1h-1z"/>
<path fill="#3cf004" d="M18 13h1v1h-1zM46 13h1v1h-1zM15 14h1v1h-1zM49 14h1v1h-1zM13 15h1v1h-1zM51 15h1v1h-1zM7 16h2v1h-2zM56 16h2v1h-2zM30 29h5v1h-5zM25 30h2v1h-2zM38 30h2v1h-2zM20 31h2v1h-2zM43 31h2v1h-2zM18 32h1v1h-1zM46 32h1v1h-1zM17 33h1v1h-1zM47 33h1v1h-1zM16 34h1v1h-1zM48 34h1v1h-1zM13 38h1v1h-1zM51 38h1v1h-1zM12 39h1v1h-1zM52 39h1v1h-1zM11 41h1v1h-1zM53 41h1v1h-1zM11 47h1v1h-1zM53 47h1v1h-1zM12 49h1v1h-1zM52 49h1v1h-1zM12 50h1v1h-1zM52 50h1v1h-1zM13 52h1v1h-1zM51 52h1v1h-1zM14 54h1v1h-1zM50 54h1v1h-1zM15 55h1v1h-1zM49 55h1v1h-1zM16 56h2v1h-2zM47 56h2v1h-2zM19 57h1v1h-1zM45 57h1v1h-1zM19 59h1v1h-1zM45 59h1v1h-1zM18 60h1v1h-1zM46 60h1v1h-1zM17 61h1v1h-1zM47 61h1v1h-1z"/>
<path fill="#43f100" d="M17 13h1v1h-1zM47 13h1v1h-1zM14 14h1v1h-1zM50 14h1v1h-1zM11 15h2v1h-2zM52 15h2v1h-2zM4 16h3v1h-3zM58 16h3v1h-3zM27 30h2v1h-2zM36 30h2v1h-2zM22 31h1v1h-1zM42 31h1v1h-1zM19 32h1v1h-1zM45 32h1v1h-1zM15 36h1v1h-1zM49 36h1v1h-1zM14 37h1v1h-1zM50 37h1v1h-1zM11 42h1v1h-1zM53 42h1v1h-1zM11 46h1v1h-1zM53 46h1v1h-1zM12 48h1v1h-1zM52 48h1v1h-1zM13 51h1v1h-1zM51 51h1v1h-1zM14 53h1v1h-1zM50 53h1v1h-1zM16 55h1v1h-1zM48 55h1v1h-1zM18 56h1v1h-1zM46 56h1v1h-1zM32 57h1v1h-1zM20 58h1v1h-1zM32 58h1v1h-1zM44 58h1v1h-1zM18 61h1v1h-1zM46 61h1v1h-1z"/>
<path fill="#49f200" d="M22 12h4v1h-4zM39 12h4v1h-4zM16 13h1v1h-1zM48 13h1v1h-1zM9 15h2v1h-2zM54 15h2v1h-2zM29 30h7v1h-7zM23 31h2v1h-2zM40 31h2v1h-2zM20 32h1v1h-1zM44 32h1v1h-1zM18 33h1v1h-1zM46 33h1v1h-1zM17 34h1v1h-1zM47 34h1v1h-1zM16 35h1v1h-1zM48 35h1v1h-1zM12 40h1v1h-1zM52 40h1v1h-1zM11 43h1v1h-1zM53 43h1v1h-1zM11 44h1v1h-1zM53 44h1v1h-1zM11 45h1v1h-1zM53 45h1v1h-1zM12 47h1v1h-1zM52 47h1v1h-1zM13 50h1v1h-1zM51 50h1v1h-1zM15 54h1v1h-1zM49 54h1v1h-1zM19 56h1v1h-1zM45 56h1v1h-1zM20 57h1v1h-1zM31 57h1v1h-1zM33 57h1v1h-1zM44 57h1v1h-1zM31 58h1v1h-1zM33 58h1v1h-1zM20 59h1v1h-1zM44 59h1v1h-1zM19 60h1v1h-1zM45 60h1v1h-1zM17 62h1v1h-1zM47 62h1v1h-1z"/>
<path fill="#4ff400" d="M20 12h2v1h-2zM26 12h3v1h-3zM36 12h3v1h-3zM43 12h2v1h-2zM12 14h2v1h-2zM51 14h2v1h-2zM3 15h1v1h-1zM8 15h1v1h-1zM56 15h1v1h-1zM61 15h1v1h-1zM25 31h3v1h-3zM37 31h3v1h-3zM21 32h2v1h-2zM42 32h2v1h-2zM19 33h1v1h-1zM45 33h1v1h-1zM18 34h1v1h-1zM46 34h1v1h-1zM16 36h1v1h-1zM48 36h1v1h-1zM15 37h1v1h-1zM49 37h1v1h-1zM14 38h1v1h-1zM50 38h1v1h-1zM13 39h1v1h-1zM51 39h1v1h-1zM12 41h1v1h-1zM52 41h1v1h-1zM13 49h1v1h-1zM51 49h1v1h-1zM14 52h1v1h-1zM50 52h1v1h-1zM15 53h1v1h-1zM49 53h1v1h-1zM16 54h1v1h-1zM48 54h1v1h-1zM17 55h1v1h-1zM47 55h1v1h-1zM32 59h1v1h-1zM19 61h1v1h-1zM45 61h1v1h-1zM18 62h1v1h-1zM46 62h1v1h-1z"/>
<path fill="#54f500" d="M18 12h2v1h-2zM29 12h2v1h-2zM34 12h2v1h-2zM45 12h2v1h-2zM15 13h1v1h-1zM49 13h1v1h-1zM11 14h1v1h-1zM53 14h1v1h-1zM4 15h4v1h-4zM57 15h4v1h-4zM28 31h9v1h-9zM23 32h1v1h-1zM41 32h1v1h-1zM20 33h1v1h-1zM44 33h1v1h-1zM17 35h1v1h-1zM47 35h1v1h-1zM12 46h1v1h-1zM52 46h1v1h-1zM13 48h1v1h-1zM51 48h1v1h-1zM14 51h1v1h-1zM50 51h1v1h-1zM18 55h1v1h-1zM46 55h1v1h-1zM20 56h1v1h-1zM44 56h1v1h-1zM21 57h1v1h-1zM30 57h1v1h-1zM34 57h1v1h-1zM43 57h1v1h-1zM21 58h1v1h-1zM30 58h1v1h-1zM34 58h1v1h-1zM43 58h1v1h-1zM21 59h1v1h-1zM31 59h1v1h-1zM33 59h1v1h-1zM43 59h1v1h-1zM20 60h1v1h-1zM44 60h1v1h-1z"/>
<path fill="#5af700" d="M17 12h1v1h-1zM31 12h3v1h-3zM47 12h1v1h-1zM14 13h1v1h-1zM50 13h1v1h-1zM10 14h1v1h-1zM54 14h1v1h-1zM24 32h2v1h-2zM39 32h2v1h-2zM21 33h1v1h-1zM43 33h1v1h-1zM19 34h1v1h-1zM45 34h1v1h-1zM15 38h1v1h-1zM49 38h1v1h-1zM14 39h1v1h-1zM50 39h1v1h-1zM13 40h1v1h-1zM51 40h1v1h-1zM12 42h1v1h-1zM52 42h1v1h-1zM12 43h1v1h-1zM52 43h1v1h-1zM12 44h1v1h-1zM52 44h1v1h-1zM12 45h1v1h-1zM52 45h1v1h-1zM13 47h1v1h-1zM51 47h1v1h-1zM14 50h1v1h-1zM50 50h1v1h-1zM15 52h1v1h-1zM49 52h1v1h-1zM16 53h1v1h-1zM48 53h1v1h-1zM17 54h1v1h-1zM47 54h1v1h-1zM19 55h1v1h-1zM45 55h1v1h-1zM31 56h3v1h-3zM30 59h1v1h-1zM34 59h1v1h-1zM20 61h1v1h-1zM44 61h1v1h-1zM19 62h1v1h-1zM45 62h1v1h-1z"/>
<path fill="#60f800" d="M16 12h1v1h-1zM48 12h1v1h-1zM13 13h1v1h-1zM51 13h1v1h-1zM8 14h2v1h-2zM55 14h2v1h-2zM26 32h13v1h-13zM22 33h1v1h-1zM42 33h1v1h-1zM20 34h1v1h-1zM44 34h1v1h-1zM18 35h1v1h-1zM46 35h1v1h-1zM17 36h1v1h-1zM47 36h1v1h-1zM16 37h1v1h-1zM48 37h1v1h-1zM13 41h1v1h-1zM51 41h1v1h-1zM14 49h1v1h-1zM50 49h1v1h-1zM15 51h1v1h-1zM49 51h1v1h-1zM21 56h1v1h-1zM30 56h1v1h-1zM34 56h1v1h-1zM43 56h1v1h-1zM22 57h1v1h-1zM29 57h1v1h-1zM35 57h1v1h-1zM42 57h1v1h-1zM22 58h1v1h-1zM29 58h1v1h-1zM35 58h1v1h-1zM42 58h1v1h-1zM21 60h1v1h-1zM43 60h1v1h-1z"/>
<path fill="#66f900" d="M21 11h5v1h-5zM39 11h5v1h-5zM15 12h1v1h-1zM49 12h1v1h-1zM12 13h1v1h-1zM52 13h1v1h-1zM4 14h1v1h-1zM6 14h2v1h-2zM57 14h2v1h-2zM60 14h1v1h-1zM23 33h1v1h-1zM41 33h1v1h-1zM19 35h1v1h-1zM45 35h1v1h-1zM14 40h1v1h-1zM50 40h1v1h-1zM13 46h1v1h-1zM51 46h1v1h-1zM14 48h1v1h-1zM50 48h1v1h-1zM16 52h1v1h-1zM48 52h1v1h-1zM18 54h1v1h-1zM46 54h1v1h-1zM20 55h1v1h-1zM44 55h1v1h-1zM28 58h1v1h-1zM36 58h1v1h-1zM22 59h1v1h-1zM29 59h1v1h-1zM35 59h1v1h-1zM42 59h1v1h-1zM32 60h1v1h-1zM20 62h1v1h-1zM44 62h1v1h-1zM19 63h1v1h-1zM45 63h1v1h-1z"/>
<path fill="#6dfb00" d="M19 11h2v1h-2zM26 11h1v1h-1zM38 11h1v1h-1zM44 11h2v1h-2zM14 12h1v1h-1zM50 12h1v1h-1zM10 13h2v1h-2zM53 13h2v1h-2zM5 14h1v1h-1zM59 14h1v1h-1zM24 33h2v1h-2zM39 33h2v1h-2zM21 34h1v1h-1zM43 34h1v1h-1zM18 36h1v1h-1zM46 36h1v1h-1zM17 37h1v1h-1zM47 37h1v1h-1zM16 38h1v1h-1zM48 38h1v1h-1zM15 39h1v1h-1zM49 39h1v1h-1zM13 42h1v1h-1zM51 42h1v1h-1zM13 43h1v1h-1zM51 43h1v1h-1zM13 44h1v1h-1zM51 44h1v1h-1zM13 45h1v1h-1zM51 45h1v1h-1zM14 47h1v1h-1zM50 47h1v1h-1zM15 50h1v1h-1zM49 50h1v1h-1zM17 53h1v1h-1zM47 53h1v1h-1zM21 55h1v1h-1zM43 55h1v1h-1zM22 56h1v1h-1zM29 56h1v1h-1zM35 56h1v1h-1zM42 56h1v1h-1zM23 57h1v1h-1zM28 57h1v1h-1zM36 57h1v1h-1zM41 57h1v1h-1zM23 58h1v1h-1zM41 58h1v1h-1zM28 59h1v1h-1zM36 59h1v1h-1zM22 60h1v1h-1zM30 60h2v1h-2zM33 60h2v1h-2zM42 60h1v1h-1zM21 61h1v1h-1zM43 61h1v1h-1z"/>
<path fill="#73fc00" d="M17 11h2v1h-2zM27 11h2v1h-2zM36 11h2v1h-2zM46 11h2v1h-2zM13 12h1v1h-1zM51 12h1v1h-1zM9 13h1v1h-1zM55 13h1v1h-1zM26 33h13v1h-13zM22 34h1v1h-1zM42 34h1v1h-1zM20 35h1v1h-1zM44 35h1v1h-1zM14 41h1v1h-1zM50 41h1v1h-1zM15 49h1v1h-1zM49 49h1v1h-1zM16 51h1v1h-1zM48 51h1v1h-1zM19 54h1v1h-1zM45 54h1v1h-1zM32 55h1v1h-1zM23 56h1v1h-1zM28 56h1v1h-1zM36 56h1v1h-1zM41 56h1v1h-1zM24 57h1v1h-1zM26 57h2v1h-2zM37 57h2v1h-2zM40 57h1v1h-1zM24 58h1v1h-1zM26 58h2v1h-2zM37 58h2v1h-2zM40 58h1v1h-1zM23 59h1v1h-1zM41 59h1v1h-1zM29 60h1v1h-1zM35 60h1v1h-1zM20 63h1v1h-1zM44 63h1v1h-1z"/>
<path fill="#7afe00" d="M16 11h1v1h-1zM29 11h1v1h-1zM35 11h1v1h-1zM48 11h1v1h-1zM12 12h1v1h-1zM52 12h1v1h-1zM6 13h3v1h-3zM56 13h3v1h-3zM23 34h2v1h-2zM40 34h2v1h-2zM21 35h1v1h-1zM43 35h1v1h-1zM19 36h1v1h-1zM45 36h1v1h-1zM18 37h1v1h-1zM46 37h1v1h-1zM15 40h1v1h-1zM49 40h1v1h-1zM14 46h1v1h-1zM50 46h1v1h-1zM15 48h1v1h-1zM49 48h1v1h-1zM17 52h1v1h-1zM47 52h1v1h-1zM18 53h1v1h-1zM46 53h1v1h-1zM20 54h1v1h-1zM44 54h1v1h-1zM22 55h1v1h-1zM30 55h2v1h-2zM33 55h2v1h-2zM42 55h1v1h-1zM24 56h4v1h-4zM37 56h4v1h-4zM25 57h1v1h-1zM39 57h1v1h-1zM25 58h1v1h-1zM39 58h1v1h-1zM24 59h4v1h-4zM37 59h4v1h-4zM23 60h1v1h-1zM41 60h1v1h-1zM22 61h1v1h-1zM42 61h1v1h-1zM21 62h1v1h-1zM43 62h1v1h-1z"/>
<path fill="#80ff00" d="M15 11h1v1h-1zM30 11h5v1h-5zM49 11h1v1h-1zM11 12h1v1h-1zM53 12h1v1h-1zM5 13h1v1h-1zM59 13h1v1h-1zM25 34h1v1h-1zM39 34h1v1h-1zM22 35h1v1h-1zM42 35h1v1h-1zM20 36h1v1h-1zM44 36h1v1h-1zM17 38h1v1h-1zM47 38h1v1h-1zM16 39h1v1h-1zM48 39h1v1h-1zM14 42h1v1h-1zM50 42h1v1h-1zM14 45h1v1h-1zM50 45h1v1h-1zM16 50h1v1h-1zM48 50h1v1h-1zM21 54h1v1h-1zM43 54h1v1h-1zM23 55h1v1h-1zM28 55h2v1h-2zM35 55h2v1h-2zM41 55h1v1h-1zM24 60h1v1h-1zM28 60h1v1h-1zM36 60h1v1h-1zM40 60h1v1h-1zM21 63h1v1h-1zM43 63h1v1h-1z"/>
<path fill="#85ff00" d="M20 10h5v1h-5zM40 10h5v1h-5zM14 11h1v1h-1zM50 11h1v1h-1zM9 12h2v1h-2zM54 12h2v1h-2zM26 34h13v1h-13zM19 37h1v1h-1zM45 37h1v1h-1zM15 41h1v1h-1zM49 41h1v1h-1zM14 43h1v1h-1zM50 43h1v1h-1zM14 44h1v1h-1zM50 44h1v1h-1zM15 47h1v1h-1zM49 47h1v1h-1zM16 49h1v1h-1zM48 49h1v1h-1zM17 51h1v1h-1zM47 51h1v1h-1zM18 52h1v1h-1zM46 52h1v1h-1zM19 53h1v1h-1zM45 53h1v1h-1zM22 54h1v1h-1zM42 54h1v1h-1zM24 55h4v1h-4zM37 55h4v1h-4zM25 60h3v1h-3zM37 60h3v1h-3zM23 61h1v1h-1zM30 61h5v1h-5zM41 61h1v1h-1zM22 62h1v1h-1zM42 62h1v1h-1z"/>
<path fill="#8bff00" d="M18 10h2v1h-2zM25 10h2v1h-2zM38 10h2v1h-2zM45 10h2v1h-2zM13 11h1v1h-1zM51 11h1v1h-1zM7 12h2v1h-2zM56 12h2v1h-2zM23 35h2v1h-2zM40 35h2v1h-2zM21 36h1v1h-1zM43 36h1v1h-1zM18 38h1v1h-1zM46 38h1v1h-1zM17 39h1v1h-1zM47 39h1v1h-1zM16 40h1v1h-1zM48 40h1v1h-1zM15 46h1v1h-1zM49 46h1v1h-1zM17 50h1v1h-1zM47 50h1v1h-1zM20 53h1v1h-1zM44 53h1v1h-1zM23 54h1v1h-1zM41 54h1v1h-1zM24 61h1v1h-1zM28 61h2v1h-2zM35 61h2v1h-2zM40 61h1v1h-1zM21 64h1v1h-1zM43 64h1v1h-1z"/>
<path fill="#90ff00" d="M17 10h1v1h-1zM27 10h1v1h-1zM37 10h1v1h-1zM47 10h1v1h-1zM12 11h1v1h-1zM52 11h1v1h-1zM6 12h1v1h-1zM58 12h1v1h-1zM25 35h1v1h-1zM39 35h1v1h-1zM22 36h1v1h-1zM42 36h1v1h-1zM20 37h1v1h-1zM44 37h1v1h-1zM15 42h1v1h-1zM49 42h1v1h-1zM15 45h1v1h-1zM49 45h1v1h-1zM16 48h1v1h-1zM48 48h1v1h-1zM18 51h1v1h-1zM46 51h1v1h-1zM19 52h1v1h-1zM45 52h1v1h-1zM21 53h1v1h-1zM43 53h1v1h-1zM24 54h2v1h-2zM28 54h4v1h-4zM33 54h4v1h-4zM39 54h2v1h-2zM25 61h3v1h-3zM37 61h3v1h-3zM23 62h1v1h-1zM41 62h1v1h-1zM22 63h1v1h-1zM42 63h1v1h-1z"/>
<path fill="#95ff00" d="M15 10h2v1h-2zM28 10h1v1h-1zM36 10h1v1h-1zM48 10h2v1h-2zM10 11h2v1h-2zM53 11h2v1h-2zM26 35h13v1h-13zM23 36h1v1h-1zM41 36h1v1h-1zM19 38h1v1h-1zM45 38h1v1h-1zM16 41h1v1h-1zM48 41h1v1h-1zM15 43h1v1h-1zM49 43h1v1h-1zM15 44h1v1h-1zM49 44h1v1h-1zM16 47h1v1h-1zM48 47h1v1h-1zM17 49h1v1h-1zM47 49h1v1h-1zM22 53h1v1h-1zM42 53h1v1h-1zM26 54h2v1h-2zM32 54h1v1h-1zM37 54h2v1h-2zM24 62h1v1h-1zM30 62h5v1h-5zM40 62h1v1h-1zM22 64h1v1h-1zM42 64h1v1h-1z"/>
<path fill="#9bff00" d="M14 10h1v1h-1zM29 10h1v1h-1zM35 10h1v1h-1zM50 10h1v1h-1zM8 11h2v1h-2zM55 11h2v1h-2zM24 36h1v1h-1zM40 36h1v1h-1zM21 37h1v1h-1zM43 37h1v1h-1zM18 39h1v1h-1zM46 39h1v1h-1zM17 40h1v1h-1zM47 40h1v1h-1zM16 46h1v1h-1zM48 46h1v1h-1zM18 50h1v1h-1zM46 50h1v1h-1zM19 51h1v1h-1zM45 51h1v1h-1zM20 52h1v1h-1zM44 52h1v1h-1zM23 53h2v1h-2zM40 53h2v1h-2zM25 62h1v1h-1zM27 62h3v1h-3zM35 62h3v1h-3zM39 62h1v1h-1zM23 63h1v1h-1zM41 63h1v1h-1z"/>
<path fill="#a0ff00" d="M19 9h5v1h-5zM41 9h5v1h-5zM13 10h1v1h-1zM30 10h1v1h-1zM34 10h1v1h-1zM51 10h1v1h-1zM6 11h2v1h-2zM57 11h2v1h-2zM25 36h1v1h-1zM39 36h1v1h-1zM22 37h1v1h-1zM42 37h1v1h-1zM20 38h1v1h-1zM44 38h1v1h-1zM16 42h1v1h-1zM48 42h1v1h-1zM17 48h1v1h-1zM47 48h1v1h-1zM21 52h1v1h-1zM43 52h1v1h-1zM25 53h3v1h-3zM37 53h3v1h-3zM26 62h1v1h-1zM38 62h1v1h-1zM24 63h1v1h-1zM40 63h1v1h-1zM23 64h1v1h-1zM41 64h1v1h-1z"/>
<path fill="#a5ff00" d="M17 9h2v1h-2zM24 9h2v1h-2zM39 9h2v1h-2zM46 9h2v1h-2zM11 10h2v1h-2zM31 10h3v1h-3zM52 10h2v1h-2zM26 36h3v1h-3zM31 36h3v1h-3zM36 36h3v1h-3zM23 37h1v1h-1zM41 37h1v1h-1zM21 38h1v1h-1zM43 38h1v1h-1zM19 39h1v1h-1zM45 39h1v1h-1zM18 40h1v1h-1zM46 40h1v1h-1zM17 41h1v1h-1zM47 41h1v1h-1zM16 43h1v1h-1zM48 43h1v1h-1zM16 44h1v1h-1zM48 44h1v1h-1zM16 45h1v1h-1zM48 45h1v1h-1zM17 47h1v1h-1zM47 47h1v1h-1zM18 49h1v1h-1zM46 49h1v1h-1zM19 50h1v1h-1zM45 50h1v1h-1zM20 51h1v1h-1zM44 51h1v1h-1zM22 52h2v1h-2zM41 52h2v1h-2zM28 53h3v1h-3zM34 53h3v1h-3zM25 63h1v1h-1zM39 63h1v1h-1z"/>
<path fill="#abff00" d="M16 9h1v1h-1zM26 9h2v1h-2zM37 9h2v1h-2zM48 9h1v1h-1zM9 10h2v1h-2zM54 10h2v1h-2zM29 36h2v1h-2zM34 36h2v1h-2zM24 37h1v1h-1zM40 37h1v1h-1zM20 39h1v1h-1zM44 39h1v1h-1zM17 46h1v1h-1zM47 46h1v1h-1zM18 48h1v1h-1zM46 48h1v1h-1zM21 51h1v1h-1zM43 51h1v1h-1zM24 52h2v1h-2zM39 52h2v1h-2zM31 53h3v1h-3zM26 63h13v1h-13zM24 64h1v1h-1zM40 64h1v1h-1z"/>
<path fill="#b0ff00" d="M14 9h2v1h-2zM28 9h1v1h-1zM36 9h1v1h-1zM49 9h2v1h-2zM7 10h2v1h-2zM56 10h2v1h-2zM25 37h1v1h-1zM39 37h1v1h-1zM22 38h1v1h-1zM42 38h1v1h-1zM19 40h1v1h-1zM45 40h1v1h-1zM18 41h1v1h-1zM46 41h1v1h-1zM17 42h1v1h-1zM47 42h1v1h-1zM19 49h1v1h-1zM45 49h1v1h-1zM20 50h1v1h-1zM44 50h1v1h-1zM22 51h1v1h-1zM42 51h1v1h-1zM26 52h2v1h-2zM37 52h2v1h-2zM25 64h1v1h-1zM39 64h1v1h-1z"/>
<path fill="#b6fd00" d="M13 9h1v1h-1zM29 9h1v1h-1zM35 9h1v1h-1zM51 9h1v1h-1zM26 37h2v1h-2zM37 37h2v1h-2zM23 38h1v1h-1zM41 38h1v1h-1zM21 39h1v1h-1zM43 39h1v1h-1zM17 43h1v1h-1zM47 43h1v1h-1zM17 44h1v1h-1zM47 44h1v1h-1zM17 45h1v1h-1zM47 45h1v1h-1zM18 47h1v1h-1zM46 47h1v1h-1zM19 48h1v1h-1zM45 48h1v1h-1zM20 49h1v1h-1zM44 49h1v1h-1zM21 50h1v1h-1zM43 50h1v1h-1zM23 51h2v1h-2zM40 51h2v1h-2zM28 52h2v1h-2zM35 52h2v1h-2zM26 64h6v1h-6zM33 64h6v1h-6z"/>
<path fill="#bcfc00" d="M18 8h6v1h-6zM41 8h6v1h-6zM11 9h2v1h-2zM30 9h1v1h-1zM34 9h1v1h-1zM52 9h2v1h-2zM28 37h9v1h-9zM24 38h1v1h-1zM40 38h1v1h-1zM22 39h1v1h-1zM42 39h1v1h-1zM20 40h1v1h-1zM44 40h1v1h-1zM19 41h1v1h-1zM45 41h1v1h-1zM18 42h1v1h-1zM46 42h1v1h-1zM18 46h1v1h-1zM46 46h1v1h-1zM22 50h1v1h-1zM42 50h1v1h-1zM25 51h1v1h-1zM39 51h1v1h-1zM30 52h1v1h-1zM34 52h1v1h-1zM32 64h1v1h-1z"/>
<path fill="#c2fa00" d="M16 8h2v1h-2zM24 8h2v1h-2zM39 8h2v1h-2zM47 8h2v1h-2zM8 9h3v1h-3zM31 9h1v1h-1zM33 9h1v1h-1zM54 9h3v1h-3zM25 38h1v1h-1zM39 38h1v1h-1zM21 40h1v1h-1zM43 40h1v1h-1zM18 43h1v1h-1zM46 43h1v1h-1zM18 45h1v1h-1zM46 45h1v1h-1zM19 47h1v1h-1zM45 47h1v1h-1zM20 48h1v1h-1zM44 48h1v1h-1zM21 49h1v1h-1zM43 49h1v1h-1zM23 50h1v1h-1zM41 50h1v1h-1zM26 51h2v1h-2zM37 51h2v1h-2zM31 52h3v1h-3z"/>
<path fill="#c8f800" d="M15 8h1v1h-1zM26 8h1v1h-1zM38 8h1v1h-1zM49 8h1v1h-1zM32 9h1v1h-1zM26 38h2v1h-2zM37 38h2v1h-2zM23 39h1v1h-1zM41 39h1v1h-1zM20 41h1v1h-1zM44 41h1v1h-1zM19 42h1v1h-1zM45 42h1v1h-1zM18 44h1v1h-1zM46 44h1v1h-1zM19 46h1v1h-1zM45 46h1v1h-1zM21 48h1v1h-1zM43 48h1v1h-1zM22 49h1v1h-1zM42 49h1v1h-1zM24 50h2v1h-2zM39 50h2v1h-2zM28 51h2v1h-2zM35 51h2v1h-2z"/>
<path fill="#ccf600" d="M13 8h2v1h-2zM27 8h2v1h-2zM36 8h2v1h-2zM50 8h2v1h-2zM28 38h2v1h-2zM35 38h2v1h-2zM24 39h1v1h-1zM40 39h1v1h-1zM22 40h1v1h-1zM42 40h1v1h-1zM21 41h1v1h-1zM43 41h1v1h-1zM19 43h1v1h-1zM45 43h1v1h-1zM19 44h1v1h-1zM45 44h1v1h-1zM19 45h1v1h-1zM45 45h1v1h-1zM20 47h1v1h-1zM44 47h1v1h-1zM23 49h1v1h-1zM41 49h1v1h-1zM26 50h1v1h-1zM38 50h1v1h-1zM30 51h2v1h-2zM33 51h2v1h-2z"/>
<path fill="#cff400" d="M9 8h4v1h-4zM29 8h1v1h-1zM35 8h1v1h-1zM52 8h4v1h-4zM30 38h5v1h-5zM25 39h2v1h-2zM38 39h2v1h-2zM23 40h1v1h-1zM41 40h1v1h-1zM22 41h1v1h-1zM42 41h1v1h-1zM20 42h1v1h-1zM44 42h1v1h-1zM20 46h1v1h-1zM44 46h1v1h-1zM21 47h1v1h-1zM43 47h1v1h-1zM22 48h1v1h-1zM42 48h1v1h-1zM24 49h1v1h-1zM40 49h1v1h-1zM27 50h2v1h-2zM36 50h2v1h-2zM32 51h1v1h-1z"/>
<path fill="#d3f300" d="M17 7h8v1h-8zM40 7h8v1h-8zM30 8h1v1h-1zM34 8h1v1h-1zM27 39h1v1h-1zM37 39h1v1h-1zM24 40h1v1h-1zM40 40h1v1h-1zM21 42h1v1h-1zM43 42h1v1h-1zM20 43h1v1h-1zM44 43h1v1h-1zM20 44h1v1h-1zM44 44h1v1h-1zM20 45h1v1h-1zM44 45h1v1h-1zM21 46h1v1h-1zM43 46h1v1h-1zM22 47h1v1h-1zM42 47h1v1h-1zM23 48h1v1h-1zM41 48h1v1h-1zM25 49h2v1h-2zM38 49h2v1h-2zM29 50h3v1h-3zM33 50h3v1h-3z"/>
<path fill="#d6f100" d="M15 7h2v1h-2zM25 7h1v1h-1zM39 7h1v1h-1zM48 7h2v1h-2zM31 8h3v1h-3zM28 39h1v1h-1zM36 39h1v1h-1zM25 40h1v1h-1zM39 40h1v1h-1zM23 41h1v1h-1zM41 41h1v1h-1zM22 42h1v1h-1zM42 42h1v1h-1zM21 43h1v1h-1zM43 43h1v1h-1zM21 44h1v1h-1zM43 44h1v1h-1zM21 45h1v1h-1zM43 45h1v1h-1zM22 46h1v1h-1zM42 46h1v1h-1zM23 47h1v1h-1zM41 47h1v1h-1zM24 48h1v1h-1zM40 48h1v1h-1zM27 49h1v1h-1zM37 49h1v1h-1zM32 50h1v1h-1z"/>
<path fill="#d9ee00" d="M12 7h3v1h-3zM26 7h2v1h-2zM37 7h2v1h-2zM50 7h3v1h-3zM29 39h7v1h-7zM26 40h1v1h-1zM38 40h1v1h-1zM24 41h1v1h-1zM40 41h1v1h-1zM23 42h1v1h-1zM41 42h1v1h-1zM22 43h1v1h-1zM42 43h1v1h-1zM22 44h1v1h-1zM42 44h1v1h-1zM22 45h1v1h-1zM42 45h1v1h-1zM23 46h1v1h-1zM41 46h1v1h-1zM24 47h1v1h-1zM40 47h1v1h-1zM25 48h2v1h-2zM38 48h2v1h-2zM28 49h9v1h-9z"/>
<path fill="#dbe900" d="M10 7h2v1h-2zM28 7h1v1h-1zM36 7h1v1h-1zM53 7h2v1h-2zM27 40h1v1h-1zM37 40h1v1h-1zM25 41h1v1h-1zM39 41h1v1h-1zM24 42h1v1h-1zM40 42h1v1h-1zM23 43h1v1h-1zM41 43h1v1h-1zM23 44h1v1h-1zM41 44h1v1h-1zM23 45h1v1h-1zM41 45h1v1h-1zM24 46h1v1h-1zM40 46h1v1h-1zM25 47h1v1h-1zM39 47h1v1h-1zM27 48h1v1h-1zM37 48h1v1h-1z"/>
<path fill="#dee500" d="M18 6h4v1h-4zM43 6h4v1h-4zM29 7h1v1h-1zM35 7h1v1h-1zM28 40h1v1h-1zM36 40h1v1h-1zM26 41h1v1h-1zM38 41h1v1h-1zM25 42h1v1h-1zM39 42h1v1h-1zM24 43h1v1h-1zM40 43h1v1h-1zM24 44h1v1h-1zM40 44h1v1h-1zM24 45h1v1h-1zM40 45h1v1h-1zM25 46h1v1h-1zM39 46h1v1h-1zM26 47h1v1h-1zM38 47h1v1h-1zM28 48h9v1h-9z"/>
<path fill="#e0e000" d="M14 6h4v1h-4zM22 6h3v1h-3zM40 6h3v1h-3zM47 6h4v1h-4zM30 7h5v1h-5zM29 40h2v1h-2zM34 40h2v1h-2zM27 41h1v1h-1zM37 41h1v1h-1zM26 42h1v1h-1zM38 42h1v1h-1zM25 43h1v1h-1zM39 43h1v1h-1zM25 44h1v1h-1zM39 44h1v1h-1zM25 45h1v1h-1zM39 45h1v1h-1zM26 46h1v1h-1zM38 46h1v1h-1zM27 47h1v1h-1zM37 47h1v1h-1z"/>
<path fill="#e0d900" d="M11 6h3v1h-3zM25 6h2v1h-2zM38 6h2v1h-2zM51 6h3v1h-3zM31 40h3v1h-3zM28 41h1v1h-1zM36 41h1v1h-1zM26 43h1v1h-1zM38 43h1v1h-1zM26 45h1v1h-1zM38 45h1v1h-1zM27 46h1v1h-1zM37 46h1v1h-1zM28 47h2v1h-2zM35 47h2v1h-2z"/>
<path fill="#e0d200" d="M27 6h1v1h-1zM37 6h1v1h-1zM29 41h1v1h-1zM35 41h1v1h-1zM27 42h1v1h-1zM37 42h1v1h-1zM26 44h1v1h-1zM38 44h1v1h-1zM27 45h1v1h-1zM37 45h1v1h-1zM28 46h1v1h-1zM36 46h1v1h-1zM30 47h5v1h-5z"/>
<path fill="#e0cb00" d="M28 6h2v1h-2zM35 6h2v1h-2zM30 41h1v1h-1zM34 41h1v1h-1zM28 42h1v1h-1zM36 42h1v1h-1zM27 43h1v1h-1zM37 43h1v1h-1zM27 44h1v1h-1zM37 44h1v1h-1zM28 45h1v1h-1zM36 45h1v1h-1zM29 46h1v1h-1zM35 46h1v1h-1z"/>
<path fill="#e1c500" d="M13 5h11v1h-11zM41 5h11v1h-11zM30 6h5v1h-5zM31 41h3v1h-3zM29 42h1v1h-1zM35 42h1v1h-1zM28 43h1v1h-1zM36 43h1v1h-1zM28 44h1v1h-1zM36 44h1v1h-1zM29 45h1v1h-1zM35 45h1v1h-1zM30 46h5v1h-5z"/>
<path fill="#e3be00" d="M24 5h2v1h-2zM39 5h2v1h-2zM30 42h1v1h-1zM34 42h1v1h-1zM29 43h1v1h-1zM35 43h1v1h-1zM29 44h1v1h-1zM35 44h1v1h-1zM30 45h1v1h-1zM34 45h1v1h-1z"/>
<path fill="#e6b700" d="M26 5h2v1h-2zM37 5h2v1h-2zM31 42h3v1h-3zM30 43h1v1h-1zM34 43h1v1h-1zM30 44h1v1h-1zM34 44h1v1h-1zM31 45h3v1h-3z"/>
<path fill="#e8b000" d="M28 5h2v1h-2zM35 5h2v1h-2zM31 43h3v1h-3zM31 44h3v1h-3z"/>
<path fill="#eba300" d="M14 4h8v1h-8zM43 4h8v1h-8zM30 5h5v1h-5z"/>
<path fill="#ee9600" d="M22 4h4v1h-4zM39 4h4v1h-4z"/>
<path fill="#f08a00" d="M26 4h2v1h-2zM37 4h2v1h-2z"/>
<path fill="#f07d00" d="M28 4h2v1h-2zM35 4h2v1h-2z"/>
<path fill="#f07000" d="M15 3h5v1h-5zM45 3h5v1h-5zM30 4h5v1h-5z"/>
<path fill="#f06200" d="M20 3h6v1h-6zM39 3h6v1h-6z"/>
<path fill="#f05500" d="M26 3h3v1h-3zM36 3h3v1h-3z"/>
<path fill="#f04700" d="M29 3h3v1h-3zM33 3h3v1h-3z"/>
<path fill="#f03500" d="M17 2h3v1h-3zM45 2h3v1h-3zM32 3h1v1h-1z"/>
<path fill="#f01e00" d="M20 2h7v1h-7zM38 2h7v1h-7z"/>
<path fill="#f00800" d="M27 2h3v1h-3zM35 2h3v1h-3z"/>
<path fill="#ed0500" d="M30 2h5v1h-5z"/>
<path fill="#ea0200" d="M19 1h3v1h-3zM43 1h3v1h-3z"/>
<path fill="#e50000" d="M22 1h7v1h-7zM36 1h7v1h-7z"/>
<path fill="#e00000" d="M29 1h7v1h-7z"/>
<path fill="#d50000" d="M21 0h6v1h-6zM38 0h6v1h-6z"/>
<path fill="#d00000" d="M27 0h11v1h-11z"/>
</g></g></g>
<rect x="144.10" y="635.20" width="1.3" height="434.40" fill="#b4b4aa"/>
<rect x="145.40" y="1068.00" width="433.70" height="1.6" fill="#b4b4aa"/>
<rect x="145.40" y="1066.40" width="433.70" height="1.6" fill="#160070"/>
<rect x="145.40" y="635.20" width="1.2" height="432.80" fill="#1e0090"/>
<rect x="145.40" y="635.20" width="433.70" height="1.5" fill="#1c00ac"/>
<rect x="599.2" y="670.1" width="40.00" height="314.30" fill="url(#cbg)"/>
<text transform="translate(275.58,614.40) scale(0.9536,1)" font-size="38.5" font-family="'Liberation Serif','Noto Sans CJK SC',serif" text-anchor="start" >OBJ</text>
<text transform="translate(377.33,614.40) scale(0.9892,1)" font-size="38.5" font-family="'Liberation Serif','Noto Sans CJK SC',serif" text-anchor="start" >− 1.18°</text>
<text transform="translate(343.80,614.70) scale(1.05,0.7)" font-size="27" font-weight="bold" font-family="'Noto Sans CJK SC',sans-serif">：</text>
<text transform="translate(25.80,657.50) scale(1.0000,1)" font-size="36.5" font-family="'Liberation Serif','Noto Sans CJK SC',serif" text-anchor="start" >(b)</text>
<text transform="translate(134.70,649.70) scale(0.9300,1)" font-size="28" font-family="'Liberation Serif','Noto Sans CJK SC',serif" text-anchor="end" >1.0</text>
<text transform="translate(139.80,860.90) scale(0.9300,1)" font-size="28" font-family="'Liberation Serif','Noto Sans CJK SC',serif" text-anchor="end" >0</text>
<text transform="translate(137.30,1073.80) scale(0.9300,1)" font-size="28" font-family="'Liberation Serif','Noto Sans CJK SC',serif" text-anchor="end" >−1.0</text>
<text transform="translate(145.80,1101.00) scale(0.9300,1)" font-size="28" font-family="'Liberation Serif','Noto Sans CJK SC',serif" text-anchor="middle" >−1.0</text>
<text transform="translate(362.60,1096.50) scale(0.9300,1)" font-size="28" font-family="'Liberation Serif','Noto Sans CJK SC',serif" text-anchor="middle" >0</text>
<text transform="translate(577.60,1097.40) scale(0.9300,1)" font-size="28" font-family="'Liberation Serif','Noto Sans CJK SC',serif" text-anchor="middle" >1.0</text>
<text transform="translate(365.10,1129.40) scale(1.0000,1)" font-size="21.5" font-family="'DejaVu Sans Mono',monospace" text-anchor="middle" fill="#1a1a1a" letter-spacing="0.9">X-Pupil (Rel. Units)</text>
<text transform="translate(41.90,848.50) rotate(-90)" font-size="21.5" font-family="'DejaVu Sans Mono',monospace" text-anchor="middle" letter-spacing="0.9" fill="#1a1a1a">Y-Pupil (Rel. Units)</text>
<text transform="translate(641.70,679.70) scale(1.0000,1)" font-size="21" font-family="'Liberation Serif','Noto Sans CJK SC',serif" text-anchor="start" >0.110</text>
<text transform="translate(641.70,711.00) scale(1.0000,1)" font-size="21" font-family="'Liberation Serif','Noto Sans CJK SC',serif" text-anchor="start" >0.088</text>
<text transform="translate(641.70,742.30) scale(1.0000,1)" font-size="21" font-family="'Liberation Serif','Noto Sans CJK SC',serif" text-anchor="start" >0.067</text>
<text transform="translate(641.70,773.60) scale(1.0000,1)" font-size="21" font-family="'Liberation Serif','Noto Sans CJK SC',serif" text-anchor="start" >0.045</text>
<text transform="translate(641.70,804.90) scale(1.0000,1)" font-size="21" font-family="'Liberation Serif','Noto Sans CJK SC',serif" text-anchor="start" >0.024</text>
<text transform="translate(641.70,836.20) scale(1.0000,1)" font-size="21" font-family="'Liberation Serif','Noto Sans CJK SC',serif" text-anchor="start" >0.002</text>
<text transform="translate(641.70,867.50) scale(1.0000,1)" font-size="21" font-family="'Liberation Serif','Noto Sans CJK SC',serif" text-anchor="start" >−0.019</text>
<text transform="translate(641.70,898.80) scale(1.0000,1)" font-size="21" font-family="'Liberation Serif','Noto Sans CJK SC',serif" text-anchor="start" >−0.041</text>
<text transform="translate(641.70,930.10) scale(1.0000,1)" font-size="21" font-family="'Liberation Serif','Noto Sans CJK SC',serif" text-anchor="start" >−0.062</text>
<text transform="translate(641.70,961.40) scale(1.0000,1)" font-size="21" font-family="'Liberation Serif','Noto Sans CJK SC',serif" text-anchor="start" >−0.083</text>
<text transform="translate(641.70,992.70) scale(1.0000,1)" font-size="21" font-family="'Liberation Serif','Noto Sans CJK SC',serif" text-anchor="start" >−0.105</text>
<text transform="translate(641.90,1024.40) scale(1.0000,1)" font-size="16" font-family="'DejaVu Sans Mono',monospace" text-anchor="start" font-weight="bold" fill="#444">Waves</text>
<g transform="translate(897.8,632.6) scale(6.61846,6.61538)">
<rect width="65" height="65" fill="#2f0ec4"/>
<clipPath id="cpd"><path d="M32 0H33V1H32zM25 1H40V2H25zM21 2H44V3H21zM19 3H46V4H19zM17 4H48V5H17zM15 5H50V6H15zM14 6H51V7H14zM13 7H52V8H13zM11 8H54V9H11zM10 9H55V10H10zM9 10H56V11H9zM8 11H57V12H8zM8 12H57V13H8zM7 13H58V14H7zM6 14H59V15H6zM5 15H60V16H5zM5 16H60V17H5zM4 17H61V18H4zM4 18H61V19H4zM3 19H62V20H3zM3 20H62V21H3zM2 21H63V22H2zM2 22H63V23H2zM2 23H63V24H2zM2 24H63V25H2zM1 25H64V26H1zM1 26H64V27H1zM1 27H64V28H1zM1 28H64V29H1zM1 29H64V30H1zM1 30H64V31H1zM1 31H64V32H1zM1 32H64V33H1zM1 33H64V34H1zM1 34H64V35H1zM1 35H64V36H1zM1 36H64V37H1zM1 37H64V38H1zM1 38H64V39H1zM1 39H64V40H1zM2 40H63V41H2zM2 41H63V42H2zM2 42H63V43H2zM2 43H63V44H2zM3 44H62V45H3zM3 45H62V46H3zM4 46H61V47H4zM4 47H61V48H4zM5 48H60V49H5zM5 49H60V50H5zM6 50H59V51H6zM7 51H58V52H7zM8 52H57V53H8zM8 53H57V54H8zM9 54H56V55H9zM10 55H55V56H10zM11 56H54V57H11zM13 57H52V58H13zM14 58H51V59H14zM15 59H50V60H15zM17 60H48V61H17zM19 61H46V62H19zM21 62H44V63H21zM25 63H40V64H25zM32 64H33V65H32z"/></clipPath>
<g clip-path="url(#cpd)"><g filter="url(#bl)" shape-rendering="crispEdges">
<path fill="#1448d8" d="M64 23h1v1h-1zM64 24h1v1h-1zM64 25h1v1h-1zM64 26h1v1h-1zM64 27h1v1h-1zM64 28h1v1h-1zM64 29h1v1h-1zM64 30h1v1h-1z"/>
<path fill="#0f52d8" d="M64 21h1v1h-1zM64 22h1v1h-1zM64 31h1v1h-1zM64 32h1v1h-1zM64 33h1v1h-1zM64 34h1v1h-1zM64 35h1v1h-1zM64 36h1v1h-1zM64 37h1v1h-1z"/>
<path fill="#0a5cd8" d="M64 38h1v1h-1zM64 39h1v1h-1zM64 40h1v1h-1z"/>
<path fill="#0566d8" d="M64 41h1v1h-1zM64 42h1v1h-1zM64 43h1v1h-1z"/>
<path fill="#0070d8" d="M0 38h1v1h-1zM0 39h1v1h-1zM0 40h1v1h-1zM0 41h1v1h-1zM0 42h1v1h-1zM0 43h1v1h-1z"/>
<path fill="#0079d6" d="M63 22h1v1h-1zM63 23h1v1h-1zM63 24h1v1h-1zM63 25h1v1h-1zM63 26h1v1h-1zM63 27h1v1h-1zM63 28h1v1h-1zM63 29h1v1h-1zM63 30h1v1h-1zM0 31h1v1h-1zM0 32h1v1h-1zM0 33h1v1h-1zM0 34h1v1h-1zM0 35h1v1h-1zM0 36h1v1h-1zM0 37h1v1h-1z"/>
<path fill="#0082d3" d="M63 21h1v1h-1zM0 28h1v1h-1zM0 29h1v1h-1zM0 30h1v1h-1zM63 31h1v1h-1zM63 32h1v1h-1zM63 33h1v1h-1zM63 34h1v1h-1zM63 35h1v1h-1zM63 36h1v1h-1z"/>
<path fill="#008bd1" d="M63 20h1v1h-1zM0 22h1v1h-1zM0 23h1v1h-1zM0 24h1v1h-1zM0 25h1v1h-1zM0 26h1v1h-1zM0 27h1v1h-1zM63 37h1v1h-1zM63 38h1v1h-1zM63 39h1v1h-1z"/>
<path fill="#0094ce" d="M63 19h1v1h-1zM0 21h1v1h-1zM63 40h1v1h-1zM63 41h1v1h-1zM1 42h1v1h-1zM63 42h1v1h-1zM1 43h1v1h-1zM63 43h1v1h-1zM1 44h1v1h-1zM63 44h1v1h-1zM1 45h1v1h-1zM63 45h1v1h-1z"/>
<path fill="#009bcb" d="M1 38h1v1h-1zM1 39h1v1h-1zM1 40h1v1h-1zM1 41h1v1h-1z"/>
<path fill="#00a2c7" d="M62 22h1v1h-1zM62 23h1v1h-1zM62 24h1v1h-1zM62 25h1v1h-1zM62 26h1v1h-1zM62 27h1v1h-1zM62 28h1v1h-1zM62 29h1v1h-1zM62 30h1v1h-1zM1 31h1v1h-1zM1 32h1v1h-1zM1 33h1v1h-1zM1 34h1v1h-1zM1 35h1v1h-1zM1 36h1v1h-1zM1 37h1v1h-1z"/>
<path fill="#00a9c4" d="M62 21h1v1h-1zM1 27h1v1h-1zM1 28h1v1h-1zM1 29h1v1h-1zM1 30h1v1h-1zM62 31h1v1h-1zM62 32h1v1h-1zM62 33h1v1h-1zM62 34h1v1h-1zM62 35h1v1h-1z"/>
<path fill="#00b0c0" d="M1 20h1v1h-1zM62 20h1v1h-1zM1 21h1v1h-1zM1 22h1v1h-1zM1 23h1v1h-1zM1 24h1v1h-1zM1 25h1v1h-1zM1 26h1v1h-1zM62 36h1v1h-1zM62 37h1v1h-1zM62 38h1v1h-1zM2 47h1v1h-1zM62 47h1v1h-1z"/>
<path fill="#00b5bb" d="M62 18h1v1h-1zM1 19h1v1h-1zM62 19h1v1h-1zM62 39h1v1h-1zM62 40h1v1h-1zM2 41h1v1h-1zM62 41h1v1h-1zM2 42h1v1h-1zM62 42h1v1h-1zM2 43h1v1h-1zM62 43h1v1h-1zM2 44h1v1h-1zM62 44h1v1h-1zM2 45h1v1h-1zM62 45h1v1h-1zM2 46h1v1h-1zM62 46h1v1h-1z"/>
<path fill="#00bab6" d="M62 17h1v1h-1zM2 38h1v1h-1zM2 39h1v1h-1zM2 40h1v1h-1z"/>
<path fill="#00bfb1" d="M61 24h1v1h-1zM61 25h1v1h-1zM61 26h1v1h-1zM61 27h1v1h-1zM61 28h1v1h-1zM61 29h1v1h-1zM2 31h1v1h-1zM2 32h1v1h-1zM2 33h1v1h-1zM2 34h1v1h-1zM2 35h1v1h-1zM2 36h1v1h-1zM2 37h1v1h-1z"/>
<path fill="#00c4ac" d="M61 22h1v1h-1zM61 23h1v1h-1zM2 27h1v1h-1zM2 28h1v1h-1zM2 29h1v1h-1zM2 30h1v1h-1zM61 30h1v1h-1zM61 31h1v1h-1zM61 32h1v1h-1zM61 48h1v1h-1zM3 49h1v1h-1zM61 49h1v1h-1z"/>
<path fill="#00c8a6" d="M2 17h1v1h-1zM2 18h1v1h-1zM2 19h1v1h-1zM2 20h1v1h-1zM61 20h1v1h-1zM2 21h1v1h-1zM61 21h1v1h-1zM2 22h1v1h-1zM2 23h1v1h-1zM2 24h1v1h-1zM2 25h1v1h-1zM2 26h1v1h-1zM61 33h1v1h-1zM61 34h1v1h-1zM61 35h1v1h-1zM61 36h1v1h-1zM3 47h1v1h-1zM61 47h1v1h-1zM3 48h1v1h-1zM21 64h1v1h-1zM43 64h1v1h-1z"/>
<path fill="#00cda0" d="M61 18h1v1h-1zM61 19h1v1h-1zM61 37h1v1h-1zM61 38h1v1h-1zM61 39h1v1h-1zM3 43h1v1h-1zM3 44h1v1h-1zM3 45h1v1h-1zM61 45h1v1h-1zM3 46h1v1h-1zM61 46h1v1h-1zM22 64h1v1h-1zM42 64h1v1h-1z"/>
<path fill="#00d199" d="M61 16h1v1h-1zM61 17h1v1h-1zM3 39h1v1h-1zM3 40h1v1h-1zM61 40h1v1h-1zM3 41h1v1h-1zM61 41h1v1h-1zM3 42h1v1h-1zM61 42h1v1h-1zM61 43h1v1h-1zM61 44h1v1h-1zM4 50h1v1h-1zM60 50h1v1h-1zM23 64h1v1h-1zM41 64h1v1h-1z"/>
<path fill="#00d693" d="M61 15h1v1h-1zM60 26h1v1h-1zM60 27h1v1h-1zM60 28h1v1h-1zM3 32h1v1h-1zM3 33h1v1h-1zM3 34h1v1h-1zM3 35h1v1h-1zM3 36h1v1h-1zM3 37h1v1h-1zM3 38h1v1h-1zM4 49h1v1h-1zM60 49h1v1h-1zM19 63h1v1h-1zM45 63h1v1h-1zM24 64h3v1h-3zM30 64h5v1h-5zM38 64h3v1h-3z"/>
<path fill="#00da8b" d="M3 16h1v1h-1zM3 17h1v1h-1zM3 18h1v1h-1zM60 24h1v1h-1zM60 25h1v1h-1zM3 28h1v1h-1zM3 29h1v1h-1zM60 29h1v1h-1zM3 30h1v1h-1zM60 30h1v1h-1zM3 31h1v1h-1zM4 48h1v1h-1zM60 48h1v1h-1zM20 63h1v1h-1zM44 63h1v1h-1zM27 64h3v1h-3zM35 64h3v1h-3z"/>
<path fill="#00dd80" d="M3 15h1v1h-1zM3 19h1v1h-1zM3 20h1v1h-1zM3 21h1v1h-1zM3 22h1v1h-1zM60 22h1v1h-1zM3 23h1v1h-1zM60 23h1v1h-1zM3 24h1v1h-1zM3 25h1v1h-1zM3 26h1v1h-1zM3 27h1v1h-1zM60 31h1v1h-1zM60 32h1v1h-1zM4 47h1v1h-1zM60 47h1v1h-1zM17 62h1v1h-1zM47 62h1v1h-1zM21 63h1v1h-1zM43 63h1v1h-1z"/>
<path fill="#00e175" d="M60 19h1v1h-1zM60 20h1v1h-1zM60 21h1v1h-1zM60 33h1v1h-1zM60 34h1v1h-1zM60 35h1v1h-1zM60 36h1v1h-1zM4 45h1v1h-1zM60 45h1v1h-1zM4 46h1v1h-1zM60 46h1v1h-1zM5 51h1v1h-1zM59 51h1v1h-1zM15 61h1v1h-1zM49 61h1v1h-1zM18 62h1v1h-1zM46 62h1v1h-1zM22 63h1v1h-1zM42 63h1v1h-1z"/>
<path fill="#00e46b" d="M60 15h1v1h-1zM60 16h1v1h-1zM60 17h1v1h-1zM60 18h1v1h-1zM60 37h1v1h-1zM60 38h1v1h-1zM60 39h1v1h-1zM60 40h1v1h-1zM4 41h1v1h-1zM60 41h1v1h-1zM4 42h1v1h-1zM60 42h1v1h-1zM4 43h1v1h-1zM60 43h1v1h-1zM4 44h1v1h-1zM60 44h1v1h-1zM5 50h1v1h-1zM59 50h1v1h-1zM6 53h1v1h-1zM58 53h1v1h-1zM16 61h1v1h-1zM48 61h1v1h-1zM23 63h1v1h-1zM41 63h1v1h-1z"/>
<path fill="#00e860" d="M60 14h1v1h-1zM4 16h1v1h-1zM59 27h1v1h-1zM4 32h1v1h-1zM4 33h1v1h-1zM4 34h1v1h-1zM4 36h1v1h-1zM4 37h1v1h-1zM4 38h1v1h-1zM4 39h1v1h-1zM4 40h1v1h-1zM5 49h1v1h-1zM59 49h1v1h-1zM14 60h1v1h-1zM50 60h1v1h-1zM19 62h1v1h-1zM45 62h1v1h-1zM24 63h2v1h-2zM32 63h1v1h-1zM39 63h2v1h-2z"/>
<path fill="#08ea50" d="M4 14h1v1h-1zM4 15h1v1h-1zM4 17h1v1h-1zM4 18h1v1h-1zM4 19h1v1h-1zM59 25h1v1h-1zM59 26h1v1h-1zM59 28h1v1h-1zM4 29h1v1h-1zM59 29h1v1h-1zM4 30h1v1h-1zM4 31h1v1h-1zM4 35h1v1h-1zM5 48h1v1h-1zM59 48h1v1h-1zM6 52h1v1h-1zM58 52h1v1h-1zM7 54h1v1h-1zM57 54h1v1h-1zM17 61h1v1h-1zM47 61h1v1h-1zM20 62h1v1h-1zM44 62h1v1h-1zM26 63h6v1h-6zM33 63h6v1h-6z"/>
<path fill="#10ec40" d="M4 20h1v1h-1zM4 21h1v1h-1zM4 22h1v1h-1zM59 24h1v1h-1zM4 26h1v1h-1zM4 27h1v1h-1zM4 28h1v1h-1zM59 30h1v1h-1zM59 31h1v1h-1zM5 47h1v1h-1zM59 47h1v1h-1zM6 51h1v1h-1zM58 51h1v1h-1zM15 60h1v1h-1zM49 60h1v1h-1zM21 62h1v1h-1zM43 62h1v1h-1z"/>
<path fill="#18ee30" d="M4 23h1v1h-1zM59 23h1v1h-1zM4 24h1v1h-1zM4 25h1v1h-1zM59 32h1v1h-1zM59 33h1v1h-1zM5 45h1v1h-1zM5 46h1v1h-1zM59 46h1v1h-1zM7 53h1v1h-1zM57 53h1v1h-1zM8 55h1v1h-1zM56 55h1v1h-1zM11 58h1v1h-1zM53 58h1v1h-1zM13 59h1v1h-1zM51 59h1v1h-1zM18 61h1v1h-1zM46 61h1v1h-1zM22 62h1v1h-1zM42 62h1v1h-1z"/>
<path fill="#20f020" d="M59 13h1v1h-1zM59 14h1v1h-1zM59 15h1v1h-1zM59 16h1v1h-1zM59 17h1v1h-1zM59 18h1v1h-1zM59 19h1v1h-1zM59 20h1v1h-1zM59 21h1v1h-1zM59 22h1v1h-1zM59 34h1v1h-1zM59 35h1v1h-1zM59 36h1v1h-1zM59 37h1v1h-1zM5 42h1v1h-1zM5 43h1v1h-1zM5 44h1v1h-1zM59 44h1v1h-1zM59 45h1v1h-1zM6 50h1v1h-1zM58 50h1v1h-1zM9 56h1v1h-1zM55 56h1v1h-1zM10 57h1v1h-1zM54 57h1v1h-1zM16 60h1v1h-1zM48 60h1v1h-1zM23 62h1v1h-1zM41 62h1v1h-1z"/>
<path fill="#27f019" d="M5 13h1v1h-1zM5 14h1v1h-1zM5 15h1v1h-1zM5 16h1v1h-1zM5 17h1v1h-1zM59 38h1v1h-1zM5 39h1v1h-1zM59 39h1v1h-1zM5 40h1v1h-1zM59 40h1v1h-1zM5 41h1v1h-1zM59 41h1v1h-1zM59 42h1v1h-1zM59 43h1v1h-1zM6 49h1v1h-1zM58 49h1v1h-1zM7 52h1v1h-1zM57 52h1v1h-1zM8 54h1v1h-1zM56 54h1v1h-1zM12 58h1v1h-1zM52 58h1v1h-1zM14 59h1v1h-1zM50 59h1v1h-1zM19 61h1v1h-1zM45 61h1v1h-1zM24 62h1v1h-1zM40 62h1v1h-1z"/>
<path fill="#2ef012" d="M5 18h1v1h-1zM5 19h1v1h-1zM58 26h1v1h-1zM58 27h1v1h-1zM58 28h1v1h-1zM5 30h1v1h-1zM5 31h1v1h-1zM5 32h1v1h-1zM5 33h1v1h-1zM5 34h1v1h-1zM5 35h1v1h-1zM5 36h1v1h-1zM5 37h1v1h-1zM5 38h1v1h-1zM6 48h1v1h-1zM58 48h1v1h-1zM17 60h1v1h-1zM47 60h1v1h-1zM20 61h1v1h-1zM44 61h1v1h-1zM25 62h3v1h-3zM32 62h1v1h-1zM37 62h3v1h-3z"/>
<path fill="#35f00b" d="M5 20h1v1h-1zM58 25h1v1h-1zM5 27h1v1h-1zM5 28h1v1h-1zM5 29h1v1h-1zM58 29h1v1h-1zM6 47h1v1h-1zM58 47h1v1h-1zM7 51h1v1h-1zM57 51h1v1h-1zM9 55h1v1h-1zM55 55h1v1h-1zM10 56h1v1h-1zM54 56h1v1h-1zM11 57h1v1h-1zM53 57h1v1h-1zM15 59h1v1h-1zM49 59h1v1h-1zM21 61h1v1h-1zM43 61h1v1h-1zM28 62h4v1h-4zM33 62h4v1h-4z"/>
<path fill="#3cf004" d="M58 11h1v1h-1zM5 21h1v1h-1zM5 22h1v1h-1zM5 23h1v1h-1zM5 24h1v1h-1zM58 24h1v1h-1zM5 25h1v1h-1zM5 26h1v1h-1zM58 30h1v1h-1zM58 31h1v1h-1zM6 45h1v1h-1zM6 46h1v1h-1zM58 46h1v1h-1zM7 50h1v1h-1zM57 50h1v1h-1zM8 53h1v1h-1zM56 53h1v1h-1zM13 58h1v1h-1zM51 58h1v1h-1zM18 60h1v1h-1zM46 60h1v1h-1z"/>
<path fill="#43f100" d="M6 11h1v1h-1zM6 12h1v1h-1zM58 12h1v1h-1zM6 13h1v1h-1zM58 13h1v1h-1zM6 14h1v1h-1zM58 14h1v1h-1zM6 15h1v1h-1zM58 15h1v1h-1zM6 16h1v1h-1zM58 16h1v1h-1zM58 17h1v1h-1zM58 18h1v1h-1zM58 19h1v1h-1zM58 23h1v1h-1zM58 32h1v1h-1zM6 43h1v1h-1zM6 44h1v1h-1zM58 44h1v1h-1zM58 45h1v1h-1zM8 52h1v1h-1zM56 52h1v1h-1zM9 54h1v1h-1zM55 54h1v1h-1zM12 57h1v1h-1zM52 57h1v1h-1zM16 59h1v1h-1zM48 59h1v1h-1zM45 60h1v1h-1zM22 61h2v1h-2zM41 61h2v1h-2z"/>
<path fill="#49f200" d="M6 17h1v1h-1zM6 18h1v1h-1zM58 20h1v1h-1zM58 21h1v1h-1zM58 22h1v1h-1zM58 33h1v1h-1zM58 34h1v1h-1zM58 35h1v1h-1zM58 36h1v1h-1zM58 37h1v1h-1zM58 38h1v1h-1zM58 39h1v1h-1zM6 40h1v1h-1zM58 40h1v1h-1zM6 41h1v1h-1zM58 41h1v1h-1zM6 42h1v1h-1zM58 42h1v1h-1zM58 43h1v1h-1zM7 49h1v1h-1zM57 49h1v1h-1zM14 58h1v1h-1zM50 58h1v1h-1zM19 60h1v1h-1zM24 61h1v1h-1zM40 61h1v1h-1z"/>
<path fill="#4ff400" d="M6 19h1v1h-1zM57 26h1v1h-1zM57 27h1v1h-1zM57 28h1v1h-1zM6 36h1v1h-1zM6 37h1v1h-1zM6 38h1v1h-1zM6 39h1v1h-1zM7 48h1v1h-1zM57 48h1v1h-1zM8 51h1v1h-1zM56 51h1v1h-1zM10 55h1v1h-1zM54 55h1v1h-1zM11 56h1v1h-1zM53 56h1v1h-1zM17 59h1v1h-1zM47 59h1v1h-1zM20 60h1v1h-1zM44 60h1v1h-1zM25 61h2v1h-2zM38 61h2v1h-2z"/>
<path fill="#54f500" d="M7 10h1v1h-1zM57 10h1v1h-1zM57 11h1v1h-1zM57 12h1v1h-1zM6 20h1v1h-1zM57 25h1v1h-1zM6 29h1v1h-1zM57 29h1v1h-1zM6 30h1v1h-1zM6 31h1v1h-1zM6 32h1v1h-1zM6 33h1v1h-1zM6 34h1v1h-1zM6 35h1v1h-1zM7 47h1v1h-1zM57 47h1v1h-1zM9 53h1v1h-1zM55 53h1v1h-1zM13 57h1v1h-1zM51 57h1v1h-1zM15 58h1v1h-1zM49 58h1v1h-1zM21 60h1v1h-1zM43 60h1v1h-1zM27 61h3v1h-3zM35 61h3v1h-3z"/>
<path fill="#5af700" d="M7 11h1v1h-1zM7 12h1v1h-1zM7 13h1v1h-1zM57 13h1v1h-1zM7 14h1v1h-1zM57 14h1v1h-1zM7 15h1v1h-1zM57 15h1v1h-1zM7 16h1v1h-1zM57 16h1v1h-1zM57 17h1v1h-1zM6 21h1v1h-1zM57 24h1v1h-1zM6 26h1v1h-1zM6 27h1v1h-1zM6 28h1v1h-1zM7 45h1v1h-1zM7 46h1v1h-1zM57 46h1v1h-1zM8 50h1v1h-1zM56 50h1v1h-1zM10 54h1v1h-1zM54 54h1v1h-1zM12 56h1v1h-1zM52 56h1v1h-1zM18 59h1v1h-1zM46 59h1v1h-1zM30 61h5v1h-5z"/>
<path fill="#60f800" d="M7 17h1v1h-1zM57 18h1v1h-1zM57 19h1v1h-1zM6 22h1v1h-1zM6 23h1v1h-1zM57 23h1v1h-1zM6 24h1v1h-1zM6 25h1v1h-1zM57 30h1v1h-1zM7 43h1v1h-1zM7 44h1v1h-1zM57 44h1v1h-1zM57 45h1v1h-1zM8 49h1v1h-1zM56 49h1v1h-1zM9 52h1v1h-1zM55 52h1v1h-1zM11 55h1v1h-1zM53 55h1v1h-1zM14 57h1v1h-1zM50 57h1v1h-1zM16 58h1v1h-1zM48 58h1v1h-1zM22 60h1v1h-1zM42 60h1v1h-1z"/>
<path fill="#66f900" d="M8 9h1v1h-1zM56 9h1v1h-1zM8 10h1v1h-1zM56 10h1v1h-1zM7 18h1v1h-1zM57 20h1v1h-1zM57 21h1v1h-1zM57 22h1v1h-1zM57 31h1v1h-1zM57 32h1v1h-1zM57 35h1v1h-1zM57 36h1v1h-1zM57 37h1v1h-1zM57 38h1v1h-1zM57 39h1v1h-1zM57 40h1v1h-1zM7 41h1v1h-1zM57 41h1v1h-1zM7 42h1v1h-1zM57 42h1v1h-1zM57 43h1v1h-1zM8 48h1v1h-1zM56 48h1v1h-1zM9 51h1v1h-1zM19 59h1v1h-1zM45 59h1v1h-1zM23 60h2v1h-2zM40 60h2v1h-2z"/>
<path fill="#6dfb00" d="M8 11h1v1h-1zM56 11h1v1h-1zM8 12h1v1h-1zM56 12h1v1h-1zM8 13h1v1h-1zM56 13h1v1h-1zM7 19h1v1h-1zM56 27h1v1h-1zM57 33h1v1h-1zM57 34h1v1h-1zM7 37h1v1h-1zM7 38h1v1h-1zM7 39h1v1h-1zM7 40h1v1h-1zM8 47h1v1h-1zM55 51h1v1h-1zM10 53h1v1h-1zM54 53h1v1h-1zM13 56h1v1h-1zM51 56h1v1h-1zM15 57h1v1h-1zM49 57h1v1h-1zM17 58h1v1h-1zM47 58h1v1h-1zM20 59h1v1h-1zM44 59h1v1h-1zM25 60h1v1h-1zM39 60h1v1h-1z"/>
<path fill="#73fc00" d="M9 8h1v1h-1zM55 8h1v1h-1zM8 14h1v1h-1zM56 14h1v1h-1zM8 15h1v1h-1zM56 15h1v1h-1zM8 16h1v1h-1zM7 20h1v1h-1zM56 25h1v1h-1zM56 26h1v1h-1zM56 28h1v1h-1zM7 35h1v1h-1zM7 36h1v1h-1zM8 46h1v1h-1zM56 46h1v1h-1zM56 47h1v1h-1zM9 50h1v1h-1zM55 50h1v1h-1zM11 54h1v1h-1zM53 54h1v1h-1zM12 55h1v1h-1zM52 55h1v1h-1zM26 60h2v1h-2zM37 60h2v1h-2z"/>
<path fill="#7afe00" d="M9 9h1v1h-1zM55 9h1v1h-1zM9 10h1v1h-1zM55 10h1v1h-1zM56 16h1v1h-1zM8 17h1v1h-1zM56 17h1v1h-1zM56 18h1v1h-1zM7 21h1v1h-1zM56 24h1v1h-1zM7 26h1v1h-1zM7 27h1v1h-1zM7 28h1v1h-1zM7 29h1v1h-1zM56 29h1v1h-1zM7 30h1v1h-1zM7 31h1v1h-1zM7 32h1v1h-1zM7 33h1v1h-1zM7 34h1v1h-1zM8 45h1v1h-1zM56 45h1v1h-1zM9 49h1v1h-1zM55 49h1v1h-1zM10 52h1v1h-1zM54 52h1v1h-1zM14 56h1v1h-1zM50 56h1v1h-1zM16 57h1v1h-1zM48 57h1v1h-1zM18 58h1v1h-1zM46 58h1v1h-1zM21 59h1v1h-1zM43 59h1v1h-1zM28 60h2v1h-2zM35 60h2v1h-2z"/>
<path fill="#80ff00" d="M10 7h1v1h-1zM54 7h1v1h-1zM10 8h1v1h-1zM54 8h1v1h-1zM9 11h1v1h-1zM55 11h1v1h-1zM9 12h1v1h-1zM55 12h1v1h-1zM8 18h1v1h-1zM56 19h1v1h-1zM56 20h1v1h-1zM56 21h1v1h-1zM7 22h1v1h-1zM56 22h1v1h-1zM7 23h1v1h-1zM56 23h1v1h-1zM7 24h1v1h-1zM7 25h1v1h-1zM56 30h1v1h-1zM8 43h1v1h-1zM8 44h1v1h-1zM56 44h1v1h-1zM10 51h1v1h-1zM11 53h1v1h-1zM53 53h1v1h-1zM22 59h1v1h-1zM42 59h1v1h-1zM30 60h5v1h-5z"/>
<path fill="#85ff00" d="M11 6h1v1h-1zM53 6h1v1h-1zM10 9h1v1h-1zM54 9h1v1h-1zM9 13h1v1h-1zM55 13h1v1h-1zM9 14h1v1h-1zM55 14h1v1h-1zM9 15h1v1h-1zM8 19h1v1h-1zM56 31h1v1h-1zM56 35h1v1h-1zM56 36h1v1h-1zM56 37h1v1h-1zM56 38h1v1h-1zM56 39h1v1h-1zM8 40h1v1h-1zM56 40h1v1h-1zM8 41h1v1h-1zM56 41h1v1h-1zM8 42h1v1h-1zM56 42h1v1h-1zM56 43h1v1h-1zM9 48h1v1h-1zM55 48h1v1h-1zM54 51h1v1h-1zM12 54h1v1h-1zM52 54h1v1h-1zM13 55h1v1h-1zM51 55h1v1h-1zM19 58h1v1h-1zM45 58h1v1h-1zM23 59h1v1h-1zM41 59h1v1h-1z"/>
<path fill="#8bff00" d="M12 6h1v1h-1zM11 7h1v1h-1zM53 7h1v1h-1zM11 8h1v1h-1zM10 10h1v1h-1zM54 10h1v1h-1zM55 15h1v1h-1zM9 16h1v1h-1zM55 16h1v1h-1zM8 20h1v1h-1zM55 25h1v1h-1zM55 26h1v1h-1zM55 27h1v1h-1zM56 32h1v1h-1zM56 33h1v1h-1zM56 34h1v1h-1zM8 37h1v1h-1zM8 38h1v1h-1zM8 39h1v1h-1zM9 46h1v1h-1zM9 47h1v1h-1zM55 47h1v1h-1zM10 50h1v1h-1zM54 50h1v1h-1zM11 52h1v1h-1zM15 56h1v1h-1zM49 56h1v1h-1zM17 57h1v1h-1zM47 57h1v1h-1zM20 58h1v1h-1zM44 58h1v1h-1zM24 59h2v1h-2zM39 59h2v1h-2z"/>
<path fill="#90ff00" d="M13 5h1v1h-1zM52 6h1v1h-1zM12 7h1v1h-1zM53 8h1v1h-1zM11 9h1v1h-1zM10 11h1v1h-1zM54 11h1v1h-1zM10 12h1v1h-1zM10 13h1v1h-1zM9 17h1v1h-1zM55 17h1v1h-1zM55 18h1v1h-1zM55 23h1v1h-1zM55 24h1v1h-1zM55 28h1v1h-1zM8 35h1v1h-1zM8 36h1v1h-1zM9 45h1v1h-1zM55 45h1v1h-1zM55 46h1v1h-1zM10 49h1v1h-1zM53 52h1v1h-1zM14 55h1v1h-1zM50 55h1v1h-1zM21 58h1v1h-1zM43 58h1v1h-1zM26 59h2v1h-2zM37 59h2v1h-2z"/>
<path fill="#95ff00" d="M14 4h1v1h-1zM14 5h1v1h-1zM51 5h1v1h-1zM13 6h1v1h-1zM52 7h1v1h-1zM12 8h1v1h-1zM53 9h1v1h-1zM11 10h1v1h-1zM53 10h1v1h-1zM54 12h1v1h-1zM54 13h1v1h-1zM10 14h1v1h-1zM10 15h1v1h-1zM9 18h1v1h-1zM55 19h1v1h-1zM55 20h1v1h-1zM8 21h1v1h-1zM55 21h1v1h-1zM55 22h1v1h-1zM8 25h1v1h-1zM8 26h1v1h-1zM8 27h1v1h-1zM8 28h1v1h-1zM8 29h1v1h-1zM55 29h1v1h-1zM8 34h1v1h-1zM9 43h1v1h-1zM9 44h1v1h-1zM55 44h1v1h-1zM54 49h1v1h-1zM11 51h1v1h-1zM53 51h1v1h-1zM12 53h1v1h-1zM52 53h1v1h-1zM13 54h1v1h-1zM51 54h1v1h-1zM16 56h1v1h-1zM48 56h1v1h-1zM18 57h1v1h-1zM46 57h1v1h-1zM28 59h2v1h-2zM35 59h2v1h-2z"/>
<path fill="#9bff00" d="M15 3h1v1h-1zM15 4h1v1h-1zM50 4h1v1h-1zM14 6h1v1h-1zM51 6h1v1h-1zM13 7h1v1h-1zM52 8h1v1h-1zM12 9h1v1h-1zM11 11h1v1h-1zM53 11h1v1h-1zM11 12h1v1h-1zM54 14h1v1h-1zM54 15h1v1h-1zM10 16h1v1h-1zM9 19h1v1h-1zM8 22h1v1h-1zM8 23h1v1h-1zM8 24h1v1h-1zM8 30h1v1h-1zM55 30h1v1h-1zM8 31h1v1h-1zM8 32h1v1h-1zM8 33h1v1h-1zM55 36h1v1h-1zM55 37h1v1h-1zM55 38h1v1h-1zM55 39h1v1h-1zM55 40h1v1h-1zM9 41h1v1h-1zM55 41h1v1h-1zM9 42h1v1h-1zM55 42h1v1h-1zM55 43h1v1h-1zM10 48h1v1h-1zM54 48h1v1h-1zM45 57h1v1h-1zM22 58h1v1h-1zM42 58h1v1h-1zM30 59h2v1h-2zM33 59h2v1h-2z"/>
<path fill="#a0ff00" d="M16 3h1v1h-1zM49 3h1v1h-1zM16 4h1v1h-1zM15 5h1v1h-1zM50 5h1v1h-1zM15 6h1v1h-1zM14 7h1v1h-1zM51 7h1v1h-1zM13 8h1v1h-1zM52 9h1v1h-1zM12 10h1v1h-1zM53 12h1v1h-1zM11 13h1v1h-1zM11 14h1v1h-1zM54 16h1v1h-1zM10 17h1v1h-1zM54 17h1v1h-1zM9 20h1v1h-1zM54 25h1v1h-1zM54 26h1v1h-1zM54 27h1v1h-1zM55 31h1v1h-1zM55 34h1v1h-1zM55 35h1v1h-1zM9 37h1v1h-1zM9 38h1v1h-1zM9 39h1v1h-1zM9 40h1v1h-1zM10 46h1v1h-1zM54 46h1v1h-1zM10 47h1v1h-1zM54 47h1v1h-1zM11 50h1v1h-1zM53 50h1v1h-1zM12 52h1v1h-1zM52 52h1v1h-1zM15 55h1v1h-1zM49 55h1v1h-1zM17 56h1v1h-1zM47 56h1v1h-1zM19 57h1v1h-1zM23 58h2v1h-2zM40 58h2v1h-2zM32 59h1v1h-1z"/>
<path fill="#a5ff00" d="M17 2h1v1h-1zM17 3h1v1h-1zM17 4h1v1h-1zM49 4h1v1h-1zM16 5h1v1h-1zM16 6h1v1h-1zM50 6h1v1h-1zM15 7h1v1h-1zM14 8h1v1h-1zM51 8h1v1h-1zM13 9h1v1h-1zM52 10h1v1h-1zM12 11h1v1h-1zM12 12h1v1h-1zM53 13h1v1h-1zM11 15h1v1h-1zM10 18h1v1h-1zM54 18h1v1h-1zM54 19h1v1h-1zM54 20h1v1h-1zM9 21h1v1h-1zM54 21h1v1h-1zM54 22h1v1h-1zM54 23h1v1h-1zM54 24h1v1h-1zM54 28h1v1h-1zM55 32h1v1h-1zM55 33h1v1h-1zM9 36h1v1h-1zM10 45h1v1h-1zM54 45h1v1h-1zM11 49h1v1h-1zM53 49h1v1h-1zM13 53h1v1h-1zM51 53h1v1h-1zM14 54h1v1h-1zM50 54h1v1h-1zM20 57h1v1h-1zM44 57h1v1h-1zM25 58h1v1h-1zM39 58h1v1h-1z"/>
<path fill="#abff00" d="M19 1h1v1h-1zM18 2h1v1h-1zM47 2h1v1h-1zM18 3h1v1h-1zM48 3h1v1h-1zM48 4h1v1h-1zM17 5h1v1h-1zM49 5h1v1h-1zM49 6h1v1h-1zM16 7h1v1h-1zM50 7h1v1h-1zM15 8h1v1h-1zM50 8h1v1h-1zM14 9h1v1h-1zM51 9h1v1h-1zM13 10h1v1h-1zM51 10h1v1h-1zM13 11h1v1h-1zM52 11h1v1h-1zM52 12h1v1h-1zM12 13h1v1h-1zM53 14h1v1h-1zM53 15h1v1h-1zM11 16h1v1h-1zM11 17h1v1h-1zM10 19h1v1h-1zM9 22h1v1h-1zM9 23h1v1h-1zM9 24h1v1h-1zM9 25h1v1h-1zM9 26h1v1h-1zM9 27h1v1h-1zM9 28h1v1h-1zM9 29h1v1h-1zM54 29h1v1h-1zM9 35h1v1h-1zM54 36h1v1h-1zM54 37h1v1h-1zM54 38h1v1h-1zM54 39h1v1h-1zM54 40h1v1h-1zM10 43h1v1h-1zM54 43h1v1h-1zM10 44h1v1h-1zM54 44h1v1h-1zM11 48h1v1h-1zM53 48h1v1h-1zM12 51h1v1h-1zM52 51h1v1h-1zM16 55h1v1h-1zM48 55h1v1h-1zM18 56h1v1h-1zM46 56h1v1h-1zM21 57h1v1h-1zM43 57h1v1h-1zM26 58h2v1h-2zM37 58h2v1h-2z"/>
<path fill="#b0ff00" d="M20 1h1v1h-1zM19 2h1v1h-1zM46 2h1v1h-1zM19 3h1v1h-1zM47 3h1v1h-1zM18 4h1v1h-1zM18 5h1v1h-1zM48 5h1v1h-1zM17 6h1v1h-1zM17 7h1v1h-1zM49 7h1v1h-1zM16 8h1v1h-1zM15 9h1v1h-1zM50 9h1v1h-1zM14 10h1v1h-1zM51 11h1v1h-1zM13 12h1v1h-1zM52 13h1v1h-1zM12 14h1v1h-1zM12 15h1v1h-1zM53 16h1v1h-1zM53 17h1v1h-1zM11 18h1v1h-1zM10 20h1v1h-1zM53 25h1v1h-1zM9 30h1v1h-1zM54 30h1v1h-1zM9 34h1v1h-1zM54 35h1v1h-1zM10 39h1v1h-1zM10 40h1v1h-1zM10 41h1v1h-1zM54 41h1v1h-1zM10 42h1v1h-1zM54 42h1v1h-1zM11 47h1v1h-1zM53 47h1v1h-1zM12 50h1v1h-1zM52 50h1v1h-1zM13 52h1v1h-1zM51 52h1v1h-1zM15 54h1v1h-1zM49 54h1v1h-1zM22 57h1v1h-1zM42 57h1v1h-1zM28 58h2v1h-2zM35 58h2v1h-2z"/>
<path fill="#b6fd00" d="M21 0h1v1h-1zM43 0h1v1h-1zM21 1h1v1h-1zM44 1h2v1h-2zM20 2h1v1h-1zM20 3h1v1h-1zM46 3h1v1h-1zM19 4h1v1h-1zM47 4h1v1h-1zM19 5h1v1h-1zM18 6h1v1h-1zM48 6h1v1h-1zM18 7h1v1h-1zM17 8h1v1h-1zM49 8h1v1h-1zM16 9h1v1h-1zM15 10h1v1h-1zM50 10h1v1h-1zM14 11h1v1h-1zM51 12h1v1h-1zM13 13h1v1h-1zM13 14h1v1h-1zM52 14h1v1h-1zM12 16h1v1h-1zM12 17h1v1h-1zM53 18h1v1h-1zM11 19h1v1h-1zM53 19h1v1h-1zM53 20h1v1h-1zM10 21h1v1h-1zM53 21h1v1h-1zM53 22h1v1h-1zM53 23h1v1h-1zM53 24h1v1h-1zM53 26h1v1h-1zM53 27h1v1h-1zM53 28h1v1h-1zM9 31h1v1h-1zM54 31h1v1h-1zM9 32h1v1h-1zM9 33h1v1h-1zM54 33h1v1h-1zM54 34h1v1h-1zM10 37h1v1h-1zM10 38h1v1h-1zM11 45h1v1h-1zM53 45h1v1h-1zM11 46h1v1h-1zM53 46h1v1h-1zM14 53h1v1h-1zM50 53h1v1h-1zM17 55h1v1h-1zM47 55h1v1h-1zM19 56h1v1h-1zM45 56h1v1h-1zM23 57h1v1h-1zM41 57h1v1h-1zM30 58h5v1h-5z"/>
<path fill="#bcfc00" d="M22 0h1v1h-1zM41 0h2v1h-2zM22 1h1v1h-1zM43 1h1v1h-1zM21 2h1v1h-1zM45 2h1v1h-1zM21 3h1v1h-1zM20 4h1v1h-1zM46 4h1v1h-1zM20 5h1v1h-1zM47 5h1v1h-1zM19 6h1v1h-1zM19 7h1v1h-1zM48 7h1v1h-1zM18 8h1v1h-1zM48 8h1v1h-1zM17 9h1v1h-1zM49 9h1v1h-1zM16 10h1v1h-1zM49 10h1v1h-1zM15 11h1v1h-1zM50 11h1v1h-1zM14 12h1v1h-1zM14 13h1v1h-1zM51 13h1v1h-1zM13 15h1v1h-1zM52 15h1v1h-1zM13 16h1v1h-1zM12 18h1v1h-1zM11 20h1v1h-1zM10 22h1v1h-1zM10 23h1v1h-1zM10 24h1v1h-1zM10 25h1v1h-1zM10 26h1v1h-1zM10 27h1v1h-1zM10 28h1v1h-1zM53 29h1v1h-1zM54 32h1v1h-1zM10 35h1v1h-1zM10 36h1v1h-1zM53 36h1v1h-1zM53 37h1v1h-1zM53 38h1v1h-1zM53 39h1v1h-1zM53 40h1v1h-1zM53 41h1v1h-1zM11 42h1v1h-1zM53 42h1v1h-1zM11 43h1v1h-1zM53 43h1v1h-1zM11 44h1v1h-1zM53 44h1v1h-1zM12 49h1v1h-1zM52 49h1v1h-1zM13 51h1v1h-1zM51 51h1v1h-1zM24 57h1v1h-1zM40 57h1v1h-1z"/>
<path fill="#c2fa00" d="M23 0h2v1h-2zM38 0h3v1h-3zM23 1h1v1h-1zM41 1h2v1h-2zM22 2h2v1h-2zM43 2h2v1h-2zM22 3h1v1h-1zM45 3h1v1h-1zM21 4h2v1h-2zM21 5h1v1h-1zM46 5h1v1h-1zM20 6h2v1h-2zM47 6h1v1h-1zM20 7h1v1h-1zM47 7h1v1h-1zM19 8h1v1h-1zM18 9h1v1h-1zM48 9h1v1h-1zM17 10h1v1h-1zM16 11h1v1h-1zM49 11h1v1h-1zM15 12h1v1h-1zM50 12h1v1h-1zM15 13h1v1h-1zM14 14h1v1h-1zM51 14h1v1h-1zM14 15h1v1h-1zM52 16h1v1h-1zM13 17h1v1h-1zM52 17h1v1h-1zM52 18h1v1h-1zM12 19h1v1h-1zM52 19h1v1h-1zM52 20h1v1h-1zM11 21h1v1h-1zM52 21h1v1h-1zM52 22h1v1h-1zM52 23h1v1h-1zM52 24h1v1h-1zM52 25h1v1h-1zM52 26h1v1h-1zM10 29h1v1h-1zM53 30h1v1h-1zM10 34h1v1h-1zM53 34h1v1h-1zM53 35h1v1h-1zM11 38h1v1h-1zM11 39h1v1h-1zM11 40h1v1h-1zM11 41h1v1h-1zM12 47h1v1h-1zM52 47h1v1h-1zM12 48h1v1h-1zM52 48h1v1h-1zM14 52h1v1h-1zM50 52h1v1h-1zM15 53h1v1h-1zM49 53h1v1h-1zM16 54h1v1h-1zM48 54h1v1h-1zM18 55h1v1h-1zM46 55h1v1h-1zM20 56h1v1h-1zM44 56h1v1h-1zM25 57h2v1h-2zM38 57h2v1h-2z"/>
<path fill="#c8f800" d="M25 0h13v1h-13zM24 1h2v1h-2zM38 1h3v1h-3zM24 2h1v1h-1zM42 2h1v1h-1zM23 3h2v1h-2zM43 3h2v1h-2zM23 4h1v1h-1zM45 4h1v1h-1zM22 5h2v1h-2zM45 5h1v1h-1zM22 6h1v1h-1zM46 6h1v1h-1zM21 7h1v1h-1zM20 8h2v1h-2zM47 8h1v1h-1zM19 9h2v1h-2zM47 9h1v1h-1zM18 10h2v1h-2zM48 10h1v1h-1zM17 11h1v1h-1zM48 11h1v1h-1zM16 12h1v1h-1zM49 12h1v1h-1zM16 13h1v1h-1zM50 13h1v1h-1zM15 14h1v1h-1zM15 15h1v1h-1zM51 15h1v1h-1zM14 16h1v1h-1zM14 17h1v1h-1zM13 18h1v1h-1zM13 19h1v1h-1zM12 20h1v1h-1zM12 21h1v1h-1zM11 22h1v1h-1zM11 23h1v1h-1zM11 24h1v1h-1zM11 25h1v1h-1zM11 26h1v1h-1zM11 27h1v1h-1zM52 27h1v1h-1zM52 28h1v1h-1zM10 30h1v1h-1zM10 31h1v1h-1zM53 31h1v1h-1zM10 32h1v1h-1zM53 32h1v1h-1zM10 33h1v1h-1zM53 33h1v1h-1zM52 36h1v1h-1zM11 37h1v1h-1zM52 37h1v1h-1zM52 38h1v1h-1zM52 39h1v1h-1zM52 40h1v1h-1zM52 41h1v1h-1zM52 42h1v1h-1zM52 43h1v1h-1zM12 44h1v1h-1zM52 44h1v1h-1zM12 45h1v1h-1zM52 45h1v1h-1zM12 46h1v1h-1zM52 46h1v1h-1zM13 50h1v1h-1zM51 50h1v1h-1zM21 56h1v1h-1zM43 56h1v1h-1zM27 57h3v1h-3zM35 57h3v1h-3z"/>
<path fill="#ccf600" d="M26 1h12v1h-12zM25 2h9v1h-9zM39 2h3v1h-3zM25 3h4v1h-4zM42 3h1v1h-1zM24 4h3v1h-3zM43 4h2v1h-2zM24 5h2v1h-2zM44 5h1v1h-1zM23 6h2v1h-2zM45 6h1v1h-1zM22 7h2v1h-2zM46 7h1v1h-1zM22 8h1v1h-1zM46 8h1v1h-1zM21 9h1v1h-1zM46 9h1v1h-1zM20 10h1v1h-1zM47 10h1v1h-1zM18 11h2v1h-2zM47 11h1v1h-1zM17 12h2v1h-2zM48 12h1v1h-1zM17 13h1v1h-1zM49 13h1v1h-1zM16 14h1v1h-1zM50 14h1v1h-1zM16 15h1v1h-1zM15 16h1v1h-1zM51 16h1v1h-1zM15 17h1v1h-1zM51 17h1v1h-1zM14 18h1v1h-1zM51 18h1v1h-1zM14 19h1v1h-1zM13 20h1v1h-1zM51 21h1v1h-1zM12 22h1v1h-1zM51 22h1v1h-1zM12 23h1v1h-1zM51 23h1v1h-1zM12 24h1v1h-1zM51 24h1v1h-1zM11 28h1v1h-1zM11 29h1v1h-1zM52 29h1v1h-1zM52 30h1v1h-1zM52 34h1v1h-1zM11 35h1v1h-1zM52 35h1v1h-1zM11 36h1v1h-1zM12 39h1v1h-1zM51 39h1v1h-1zM12 40h1v1h-1zM51 40h1v1h-1zM12 41h1v1h-1zM51 41h1v1h-1zM12 42h1v1h-1zM51 42h1v1h-1zM12 43h1v1h-1zM13 49h1v1h-1zM51 49h1v1h-1zM14 51h1v1h-1zM50 51h1v1h-1zM17 54h1v1h-1zM47 54h1v1h-1zM19 55h1v1h-1zM45 55h1v1h-1zM22 56h2v1h-2zM41 56h2v1h-2zM30 57h5v1h-5z"/>
<path fill="#cff400" d="M34 2h5v1h-5zM29 3h5v1h-5zM40 3h2v1h-2zM27 4h6v1h-6zM42 4h1v1h-1zM26 5h5v1h-5zM43 5h1v1h-1zM25 6h4v1h-4zM44 6h1v1h-1zM24 7h4v1h-4zM45 7h1v1h-1zM23 8h3v1h-3zM45 8h1v1h-1zM22 9h3v1h-3zM21 10h3v1h-3zM46 10h1v1h-1zM20 11h3v1h-3zM46 11h1v1h-1zM19 12h3v1h-3zM47 12h1v1h-1zM18 13h2v1h-2zM48 13h1v1h-1zM17 14h2v1h-2zM49 14h1v1h-1zM17 15h2v1h-2zM50 15h1v1h-1zM16 16h2v1h-2zM50 16h1v1h-1zM16 17h1v1h-1zM15 18h2v1h-2zM15 19h1v1h-1zM51 19h1v1h-1zM14 20h1v1h-1zM51 20h1v1h-1zM13 21h2v1h-2zM13 22h1v1h-1zM13 23h1v1h-1zM13 24h1v1h-1zM12 25h1v1h-1zM51 25h1v1h-1zM12 26h1v1h-1zM51 26h1v1h-1zM12 27h1v1h-1zM51 27h1v1h-1zM12 28h1v1h-1zM51 28h1v1h-1zM11 30h1v1h-1zM52 31h1v1h-1zM52 32h1v1h-1zM52 33h1v1h-1zM11 34h1v1h-1zM51 35h1v1h-1zM51 36h1v1h-1zM12 37h1v1h-1zM51 37h1v1h-1zM12 38h1v1h-1zM51 38h1v1h-1zM51 43h1v1h-1zM51 44h1v1h-1zM51 45h1v1h-1zM51 46h1v1h-1zM13 47h1v1h-1zM51 47h1v1h-1zM13 48h1v1h-1zM51 48h1v1h-1zM14 50h1v1h-1zM50 50h1v1h-1zM15 52h1v1h-1zM49 52h1v1h-1zM16 53h1v1h-1zM48 53h1v1h-1zM24 56h1v1h-1zM40 56h1v1h-1z"/>
<path fill="#d3f300" d="M34 3h6v1h-6zM33 4h2v1h-2zM40 4h2v1h-2zM31 5h2v1h-2zM42 5h1v1h-1zM29 6h3v1h-3zM43 6h1v1h-1zM28 7h3v1h-3zM44 7h1v1h-1zM26 8h4v1h-4zM44 8h1v1h-1zM25 9h3v1h-3zM45 9h1v1h-1zM24 10h3v1h-3zM45 10h1v1h-1zM23 11h3v1h-3zM45 11h1v1h-1zM22 12h3v1h-3zM46 12h1v1h-1zM20 13h4v1h-4zM47 13h1v1h-1zM19 14h4v1h-4zM48 14h1v1h-1zM19 15h4v1h-4zM49 15h1v1h-1zM18 16h4v1h-4zM49 16h1v1h-1zM17 17h4v1h-4zM50 17h1v1h-1zM17 18h4v1h-4zM50 18h1v1h-1zM16 19h4v1h-4zM50 19h1v1h-1zM15 20h4v1h-4zM22 20h4v1h-4zM50 20h1v1h-1zM15 21h3v1h-3zM22 21h4v1h-4zM50 21h1v1h-1zM14 22h3v1h-3zM22 22h4v1h-4zM50 22h1v1h-1zM14 23h3v1h-3zM50 23h1v1h-1zM14 24h3v1h-3zM50 24h1v1h-1zM13 25h4v1h-4zM13 26h3v1h-3zM13 27h2v1h-2zM13 28h1v1h-1zM12 29h1v1h-1zM51 29h1v1h-1zM12 30h1v1h-1zM51 30h1v1h-1zM11 31h1v1h-1zM51 31h1v1h-1zM11 32h1v1h-1zM51 32h1v1h-1zM11 33h1v1h-1zM51 33h1v1h-1zM51 34h1v1h-1zM12 35h1v1h-1zM12 36h1v1h-1zM13 40h1v1h-1zM50 40h1v1h-1zM13 41h1v1h-1zM50 41h1v1h-1zM13 42h1v1h-1zM50 42h1v1h-1zM13 43h1v1h-1zM13 44h1v1h-1zM13 45h1v1h-1zM13 46h1v1h-1zM18 54h1v1h-1zM46 54h1v1h-1zM20 55h1v1h-1zM44 55h1v1h-1zM25 56h2v1h-2zM38 56h2v1h-2z"/>
<path fill="#d6f100" d="M35 4h5v1h-5zM33 5h2v1h-2zM41 5h1v1h-1zM32 6h2v1h-2zM42 6h1v1h-1zM31 7h2v1h-2zM43 7h1v1h-1zM30 8h2v1h-2zM43 8h1v1h-1zM28 9h3v1h-3zM44 9h1v1h-1zM27 10h3v1h-3zM44 10h1v1h-1zM26 11h3v1h-3zM44 11h1v1h-1zM25 12h3v1h-3zM45 12h1v1h-1zM24 13h4v1h-4zM46 13h1v1h-1zM23 14h5v1h-5zM47 14h1v1h-1zM23 15h5v1h-5zM47 15h2v1h-2zM22 16h6v1h-6zM48 16h1v1h-1zM21 17h8v1h-8zM49 17h1v1h-1zM21 18h8v1h-8zM49 18h1v1h-1zM20 19h10v1h-10zM49 19h1v1h-1zM19 20h3v1h-3zM26 20h4v1h-4zM18 21h4v1h-4zM26 21h4v1h-4zM17 22h5v1h-5zM26 22h4v1h-4zM17 23h12v1h-12zM17 24h12v1h-12zM17 25h10v1h-10zM50 25h1v1h-1zM16 26h5v1h-5zM50 26h1v1h-1zM15 27h4v1h-4zM50 27h1v1h-1zM14 28h4v1h-4zM13 29h3v1h-3zM13 30h1v1h-1zM12 31h1v1h-1zM12 32h1v1h-1zM12 33h1v1h-1zM12 34h1v1h-1zM50 35h1v1h-1zM13 36h1v1h-1zM50 36h1v1h-1zM13 37h1v1h-1zM50 37h1v1h-1zM13 38h1v1h-1zM50 38h1v1h-1zM13 39h1v1h-1zM50 39h1v1h-1zM50 43h1v1h-1zM50 44h1v1h-1zM14 48h1v1h-1zM50 48h1v1h-1zM14 49h1v1h-1zM50 49h1v1h-1zM15 51h1v1h-1zM49 51h1v1h-1zM16 52h1v1h-1zM48 52h1v1h-1zM17 53h1v1h-1zM47 53h1v1h-1zM21 55h1v1h-1zM43 55h1v1h-1zM27 56h11v1h-11z"/>
<path fill="#d9ee00" d="M35 5h1v1h-1zM39 5h2v1h-2zM34 6h1v1h-1zM40 6h2v1h-2zM33 7h1v1h-1zM41 7h2v1h-2zM32 8h1v1h-1zM42 8h1v1h-1zM31 9h2v1h-2zM42 9h2v1h-2zM30 10h2v1h-2zM43 10h1v1h-1zM29 11h2v1h-2zM43 11h1v1h-1zM28 12h3v1h-3zM44 12h1v1h-1zM28 13h3v1h-3zM44 13h2v1h-2zM28 14h3v1h-3zM45 14h2v1h-2zM28 15h3v1h-3zM46 15h1v1h-1zM28 16h3v1h-3zM47 16h1v1h-1zM29 17h2v1h-2zM48 17h1v1h-1zM29 18h2v1h-2zM48 18h1v1h-1zM30 19h2v1h-2zM48 19h1v1h-1zM30 20h2v1h-2zM49 20h1v1h-1zM30 21h2v1h-2zM49 21h1v1h-1zM30 22h2v1h-2zM49 22h1v1h-1zM29 23h2v1h-2zM49 23h1v1h-1zM29 24h2v1h-2zM49 24h1v1h-1zM27 25h3v1h-3zM49 25h1v1h-1zM21 26h7v1h-7zM19 27h3v1h-3zM18 28h2v1h-2zM50 28h1v1h-1zM16 29h3v1h-3zM50 29h1v1h-1zM14 30h3v1h-3zM50 30h1v1h-1zM13 31h2v1h-2zM50 31h1v1h-1zM13 32h1v1h-1zM50 32h1v1h-1zM13 33h1v1h-1zM50 33h1v1h-1zM13 34h1v1h-1zM50 34h1v1h-1zM13 35h1v1h-1zM14 40h1v1h-1zM49 40h1v1h-1zM14 41h1v1h-1zM49 41h1v1h-1zM14 42h1v1h-1zM49 42h1v1h-1zM14 43h1v1h-1zM14 44h1v1h-1zM14 45h1v1h-1zM50 45h1v1h-1zM14 46h1v1h-1zM50 46h1v1h-1zM14 47h1v1h-1zM50 47h1v1h-1zM15 50h1v1h-1zM49 50h1v1h-1zM19 54h1v1h-1zM45 54h1v1h-1zM22 55h2v1h-2zM41 55h2v1h-2z"/>
<path fill="#dbe900" d="M36 5h3v1h-3zM35 6h1v1h-1zM39 6h1v1h-1zM34 7h1v1h-1zM40 7h1v1h-1zM33 8h2v1h-2zM41 8h1v1h-1zM33 9h1v1h-1zM41 9h1v1h-1zM32 10h1v1h-1zM41 10h2v1h-2zM31 11h2v1h-2zM42 11h1v1h-1zM31 12h2v1h-2zM42 12h2v1h-2zM31 13h1v1h-1zM43 13h1v1h-1zM31 14h1v1h-1zM43 14h2v1h-2zM31 15h2v1h-2zM44 15h2v1h-2zM31 16h2v1h-2zM45 16h2v1h-2zM31 17h2v1h-2zM46 17h2v1h-2zM31 18h2v1h-2zM47 18h1v1h-1zM32 19h1v1h-1zM47 19h1v1h-1zM32 20h1v1h-1zM47 20h2v1h-2zM32 21h1v1h-1zM48 21h1v1h-1zM32 22h1v1h-1zM48 22h1v1h-1zM31 23h2v1h-2zM48 23h1v1h-1zM31 24h1v1h-1zM48 24h1v1h-1zM30 25h1v1h-1zM28 26h2v1h-2zM49 26h1v1h-1zM22 27h5v1h-5zM49 27h1v1h-1zM20 28h2v1h-2zM49 28h1v1h-1zM19 29h1v1h-1zM17 30h2v1h-2zM15 31h3v1h-3zM49 31h1v1h-1zM14 32h3v1h-3zM49 32h1v1h-1zM14 33h2v1h-2zM49 33h1v1h-1zM14 34h1v1h-1zM14 35h1v1h-1zM14 36h1v1h-1zM14 37h1v1h-1zM14 38h1v1h-1zM49 38h1v1h-1zM14 39h1v1h-1zM49 39h1v1h-1zM49 43h1v1h-1zM15 49h1v1h-1zM49 49h1v1h-1zM16 51h1v1h-1zM48 51h1v1h-1zM17 52h1v1h-1zM47 52h1v1h-1zM18 53h1v1h-1zM46 53h1v1h-1zM20 54h1v1h-1zM44 54h1v1h-1zM24 55h1v1h-1zM40 55h1v1h-1z"/>
<path fill="#dee500" d="M36 6h3v1h-3zM35 7h5v1h-5zM35 8h1v1h-1zM39 8h2v1h-2zM34 9h2v1h-2zM39 9h2v1h-2zM33 10h2v1h-2zM39 10h2v1h-2zM33 11h2v1h-2zM39 11h3v1h-3zM33 12h1v1h-1zM40 12h2v1h-2zM32 13h2v1h-2zM41 13h2v1h-2zM32 14h2v1h-2zM42 14h1v1h-1zM33 15h1v1h-1zM42 15h2v1h-2zM33 16h1v1h-1zM43 16h2v1h-2zM33 17h1v1h-1zM44 17h2v1h-2zM33 18h1v1h-1zM45 18h2v1h-2zM33 19h2v1h-2zM45 19h2v1h-2zM33 20h2v1h-2zM46 20h1v1h-1zM33 21h2v1h-2zM46 21h2v1h-2zM33 22h1v1h-1zM47 22h1v1h-1zM33 23h1v1h-1zM47 23h1v1h-1zM32 24h1v1h-1zM31 25h1v1h-1zM48 25h1v1h-1zM30 26h1v1h-1zM48 26h1v1h-1zM27 27h3v1h-3zM22 28h4v1h-4zM20 29h2v1h-2zM49 29h1v1h-1zM19 30h1v1h-1zM49 30h1v1h-1zM18 31h1v1h-1zM17 32h1v1h-1zM16 33h1v1h-1zM15 34h1v1h-1zM49 34h1v1h-1zM15 35h1v1h-1zM49 35h1v1h-1zM15 36h1v1h-1zM49 36h1v1h-1zM49 37h1v1h-1zM15 41h1v1h-1zM15 42h1v1h-1zM49 44h1v1h-1zM49 45h1v1h-1zM49 46h1v1h-1zM49 47h1v1h-1zM15 48h1v1h-1zM49 48h1v1h-1zM21 54h1v1h-1zM43 54h1v1h-1zM25 55h2v1h-2zM38 55h2v1h-2z"/>
<path fill="#e0e000" d="M36 8h3v1h-3zM36 9h3v1h-3zM35 10h4v1h-4zM35 11h4v1h-4zM34 12h6v1h-6zM34 13h7v1h-7zM34 14h2v1h-2zM39 14h3v1h-3zM34 15h2v1h-2zM40 15h2v1h-2zM34 16h2v1h-2zM41 16h2v1h-2zM34 17h2v1h-2zM41 17h3v1h-3zM34 18h2v1h-2zM42 18h3v1h-3zM35 19h1v1h-1zM43 19h2v1h-2zM35 20h1v1h-1zM44 20h2v1h-2zM35 21h1v1h-1zM44 21h2v1h-2zM34 22h2v1h-2zM45 22h2v1h-2zM34 23h1v1h-1zM46 23h1v1h-1zM33 24h2v1h-2zM47 24h1v1h-1zM32 25h2v1h-2zM47 25h1v1h-1zM31 26h1v1h-1zM30 27h1v1h-1zM48 27h1v1h-1zM26 28h3v1h-3zM48 28h1v1h-1zM22 29h2v1h-2zM20 30h1v1h-1zM19 31h1v1h-1zM18 32h1v1h-1zM17 33h1v1h-1zM16 34h1v1h-1zM16 35h1v1h-1zM15 37h1v1h-1zM15 38h1v1h-1zM15 39h1v1h-1zM15 40h1v1h-1zM48 41h1v1h-1zM48 42h1v1h-1zM15 43h1v1h-1zM15 44h1v1h-1zM15 45h1v1h-1zM15 46h1v1h-1zM15 47h1v1h-1zM16 50h1v1h-1zM48 50h1v1h-1zM17 51h1v1h-1zM18 52h1v1h-1zM46 52h1v1h-1zM19 53h1v1h-1zM45 53h1v1h-1zM22 54h1v1h-1zM42 54h1v1h-1zM27 55h11v1h-11z"/>
<path fill="#e0d900" d="M36 14h3v1h-3zM36 15h4v1h-4zM36 16h5v1h-5zM36 17h5v1h-5zM36 18h6v1h-6zM36 19h7v1h-7zM36 20h8v1h-8zM36 21h3v1h-3zM41 21h3v1h-3zM36 22h2v1h-2zM43 22h2v1h-2zM35 23h2v1h-2zM45 23h1v1h-1zM35 24h1v1h-1zM46 24h1v1h-1zM34 25h1v1h-1zM46 25h1v1h-1zM32 26h1v1h-1zM47 26h1v1h-1zM31 27h1v1h-1zM29 28h1v1h-1zM24 29h2v1h-2zM48 29h1v1h-1zM21 30h1v1h-1zM48 30h1v1h-1zM20 31h1v1h-1zM48 31h1v1h-1zM19 32h1v1h-1zM48 32h1v1h-1zM18 33h1v1h-1zM48 33h1v1h-1zM17 34h1v1h-1zM16 36h1v1h-1zM48 38h1v1h-1zM48 39h1v1h-1zM48 40h1v1h-1zM48 43h1v1h-1zM48 44h1v1h-1zM16 49h1v1h-1zM48 49h1v1h-1zM47 51h1v1h-1zM20 53h1v1h-1zM44 53h1v1h-1zM23 54h1v1h-1zM41 54h1v1h-1z"/>
<path fill="#e0d200" d="M39 21h2v1h-2zM38 22h5v1h-5zM37 23h2v1h-2zM42 23h3v1h-3zM36 24h1v1h-1zM44 24h2v1h-2zM35 25h1v1h-1zM33 26h1v1h-1zM46 26h1v1h-1zM32 27h1v1h-1zM47 27h1v1h-1zM30 28h1v1h-1zM47 28h1v1h-1zM26 29h2v1h-2zM22 30h2v1h-2zM21 31h1v1h-1zM18 34h1v1h-1zM48 34h1v1h-1zM17 35h1v1h-1zM48 35h1v1h-1zM48 36h1v1h-1zM16 37h1v1h-1zM48 37h1v1h-1zM16 38h1v1h-1zM16 39h1v1h-1zM48 45h1v1h-1zM48 46h1v1h-1zM16 47h1v1h-1zM48 47h1v1h-1zM16 48h1v1h-1zM48 48h1v1h-1zM17 50h1v1h-1zM47 50h1v1h-1zM18 51h1v1h-1zM19 52h1v1h-1zM45 52h1v1h-1zM21 53h1v1h-1zM43 53h1v1h-1zM24 54h1v1h-1zM39 54h2v1h-2z"/>
<path fill="#e0cb00" d="M39 23h3v1h-3zM37 24h2v1h-2zM42 24h2v1h-2zM36 25h1v1h-1zM44 25h2v1h-2zM34 26h1v1h-1zM33 27h1v1h-1zM46 27h1v1h-1zM31 28h1v1h-1zM28 29h2v1h-2zM47 29h1v1h-1zM24 30h2v1h-2zM22 31h1v1h-1zM20 32h1v1h-1zM19 33h1v1h-1zM17 36h1v1h-1zM16 40h1v1h-1zM16 41h1v1h-1zM16 42h1v1h-1zM16 43h1v1h-1zM16 44h1v1h-1zM16 45h1v1h-1zM16 46h1v1h-1zM17 49h1v1h-1zM46 51h1v1h-1zM22 53h1v1h-1zM42 53h1v1h-1zM25 54h2v1h-2zM38 54h1v1h-1z"/>
<path fill="#e1c500" d="M39 24h3v1h-3zM37 25h2v1h-2zM43 25h1v1h-1zM35 26h2v1h-2zM45 26h1v1h-1zM34 27h1v1h-1zM32 28h1v1h-1zM46 28h1v1h-1zM30 29h1v1h-1zM26 30h2v1h-2zM47 30h1v1h-1zM23 31h1v1h-1zM47 31h1v1h-1zM21 32h1v1h-1zM19 34h1v1h-1zM18 35h1v1h-1zM17 37h1v1h-1zM47 40h1v1h-1zM47 41h1v1h-1zM47 42h1v1h-1zM17 48h1v1h-1zM47 48h1v1h-1zM47 49h1v1h-1zM18 50h1v1h-1zM19 51h1v1h-1zM20 52h1v1h-1zM44 52h1v1h-1zM23 53h1v1h-1zM41 53h1v1h-1zM27 54h11v1h-11z"/>
<path fill="#e3be00" d="M39 25h4v1h-4zM37 26h1v1h-1zM44 26h1v1h-1zM35 27h1v1h-1zM45 27h1v1h-1zM33 28h1v1h-1zM31 29h1v1h-1zM28 30h1v1h-1zM24 31h1v1h-1zM47 32h1v1h-1zM20 33h1v1h-1zM47 33h1v1h-1zM47 34h1v1h-1zM47 35h1v1h-1zM18 36h1v1h-1zM47 36h1v1h-1zM47 37h1v1h-1zM17 38h1v1h-1zM47 38h1v1h-1zM17 39h1v1h-1zM47 39h1v1h-1zM47 43h1v1h-1zM47 44h1v1h-1zM47 45h1v1h-1zM47 46h1v1h-1zM17 47h1v1h-1zM47 47h1v1h-1zM46 50h1v1h-1zM45 51h1v1h-1zM21 52h1v1h-1zM43 52h1v1h-1zM24 53h1v1h-1zM40 53h1v1h-1z"/>
<path fill="#e6b700" d="M38 26h2v1h-2zM41 26h3v1h-3zM36 27h1v1h-1zM44 27h1v1h-1zM34 28h1v1h-1zM45 28h1v1h-1zM32 29h1v1h-1zM46 29h1v1h-1zM29 30h1v1h-1zM25 31h2v1h-2zM22 32h1v1h-1zM19 35h1v1h-1zM18 37h1v1h-1zM17 40h1v1h-1zM17 41h1v1h-1zM17 42h1v1h-1zM17 43h1v1h-1zM17 44h1v1h-1zM17 45h1v1h-1zM17 46h1v1h-1zM18 49h1v1h-1zM46 49h1v1h-1zM19 50h1v1h-1zM20 51h1v1h-1zM44 51h1v1h-1zM22 52h1v1h-1zM42 52h1v1h-1zM25 53h1v1h-1zM39 53h1v1h-1z"/>
<path fill="#e8b000" d="M40 26h1v1h-1zM37 27h1v1h-1zM43 27h1v1h-1zM35 28h1v1h-1zM33 29h1v1h-1zM30 30h1v1h-1zM46 30h1v1h-1zM27 31h1v1h-1zM23 32h1v1h-1zM21 33h1v1h-1zM20 34h1v1h-1zM18 38h1v1h-1zM18 48h1v1h-1zM46 48h1v1h-1zM45 50h1v1h-1zM23 52h1v1h-1zM41 52h1v1h-1zM26 53h1v1h-1zM38 53h1v1h-1z"/>
<path fill="#eba300" d="M38 27h1v1h-1zM41 27h2v1h-2zM44 28h1v1h-1zM45 29h1v1h-1zM31 30h1v1h-1zM28 31h2v1h-2zM46 31h1v1h-1zM24 32h2v1h-2zM22 33h1v1h-1zM19 36h1v1h-1zM18 39h1v1h-1zM18 47h1v1h-1zM46 47h1v1h-1zM19 49h1v1h-1zM20 50h1v1h-1zM21 51h1v1h-1zM43 51h1v1h-1zM24 52h1v1h-1zM40 52h1v1h-1zM27 53h3v1h-3zM34 53h4v1h-4z"/>
<path fill="#ee9600" d="M39 27h2v1h-2zM36 28h1v1h-1zM43 28h1v1h-1zM34 29h1v1h-1zM32 30h1v1h-1zM30 31h1v1h-1zM26 32h1v1h-1zM46 32h1v1h-1zM23 33h1v1h-1zM46 33h1v1h-1zM21 34h1v1h-1zM46 34h1v1h-1zM20 35h1v1h-1zM46 35h1v1h-1zM46 36h1v1h-1zM19 37h1v1h-1zM46 37h1v1h-1zM46 38h1v1h-1zM46 39h1v1h-1zM18 40h1v1h-1zM46 40h1v1h-1zM46 41h1v1h-1zM46 42h1v1h-1zM46 43h1v1h-1zM46 44h1v1h-1zM18 45h1v1h-1zM46 45h1v1h-1zM18 46h1v1h-1zM46 46h1v1h-1zM45 49h1v1h-1zM44 50h1v1h-1zM22 51h1v1h-1zM42 51h1v1h-1zM39 52h1v1h-1zM30 53h4v1h-4z"/>
<path fill="#f08a00" d="M37 28h2v1h-2zM42 28h1v1h-1zM35 29h1v1h-1zM44 29h1v1h-1zM33 30h1v1h-1zM45 30h1v1h-1zM31 31h1v1h-1zM27 32h1v1h-1zM24 33h1v1h-1zM20 36h1v1h-1zM19 38h1v1h-1zM18 41h1v1h-1zM18 42h1v1h-1zM18 43h1v1h-1zM18 44h1v1h-1zM19 48h1v1h-1zM45 48h1v1h-1zM21 50h1v1h-1zM43 50h1v1h-1zM23 51h1v1h-1zM41 51h1v1h-1zM25 52h1v1h-1zM38 52h1v1h-1z"/>
<path fill="#f07d00" d="M39 28h3v1h-3zM36 29h1v1h-1zM34 30h1v1h-1zM32 31h1v1h-1zM45 31h1v1h-1zM28 32h1v1h-1zM25 33h1v1h-1zM22 34h1v1h-1zM21 35h1v1h-1zM19 39h1v1h-1zM19 47h1v1h-1zM45 47h1v1h-1zM20 49h1v1h-1zM44 49h1v1h-1zM26 52h2v1h-2zM37 52h1v1h-1z"/>
<path fill="#f07000" d="M37 29h1v1h-1zM43 29h1v1h-1zM44 30h1v1h-1zM29 32h2v1h-2zM45 32h1v1h-1zM26 33h1v1h-1zM23 34h1v1h-1zM20 37h1v1h-1zM19 40h1v1h-1zM45 45h1v1h-1zM19 46h1v1h-1zM45 46h1v1h-1zM22 50h1v1h-1zM42 50h1v1h-1zM24 51h1v1h-1zM40 51h1v1h-1zM28 52h2v1h-2zM35 52h2v1h-2z"/>
<path fill="#f06200" d="M38 29h1v1h-1zM41 29h2v1h-2zM35 30h1v1h-1zM33 31h1v1h-1zM31 32h1v1h-1zM27 33h1v1h-1zM45 33h1v1h-1zM24 34h1v1h-1zM45 34h1v1h-1zM22 35h1v1h-1zM45 35h1v1h-1zM21 36h1v1h-1zM45 36h1v1h-1zM45 37h1v1h-1zM20 38h1v1h-1zM45 38h1v1h-1zM45 39h1v1h-1zM45 40h1v1h-1zM19 41h1v1h-1zM45 41h1v1h-1zM45 42h1v1h-1zM45 43h1v1h-1zM19 44h1v1h-1zM45 44h1v1h-1zM19 45h1v1h-1zM20 48h1v1h-1zM44 48h1v1h-1zM21 49h1v1h-1zM43 49h1v1h-1zM23 50h1v1h-1zM41 50h1v1h-1zM25 51h1v1h-1zM39 51h1v1h-1zM30 52h5v1h-5z"/>
<path fill="#f05500" d="M39 29h2v1h-2zM36 30h1v1h-1zM43 30h1v1h-1zM34 31h1v1h-1zM44 31h1v1h-1zM28 33h1v1h-1zM25 34h1v1h-1zM19 42h1v1h-1zM19 43h1v1h-1zM20 47h1v1h-1zM44 47h1v1h-1zM26 51h1v1h-1zM38 51h1v1h-1z"/>
<path fill="#f04700" d="M37 30h1v1h-1zM42 30h1v1h-1zM32 32h1v1h-1zM29 33h1v1h-1zM26 34h1v1h-1zM23 35h1v1h-1zM22 36h1v1h-1zM21 37h1v1h-1zM20 39h1v1h-1zM20 46h1v1h-1zM44 46h1v1h-1zM21 48h1v1h-1zM43 48h1v1h-1zM22 49h1v1h-1zM42 49h1v1h-1zM24 50h1v1h-1zM40 50h1v1h-1zM27 51h2v1h-2zM36 51h2v1h-2z"/>
<path fill="#f03500" d="M38 30h2v1h-2zM41 30h1v1h-1zM35 31h1v1h-1zM43 31h1v1h-1zM33 32h1v1h-1zM44 32h1v1h-1zM30 33h1v1h-1zM27 34h1v1h-1zM24 35h1v1h-1zM21 38h1v1h-1zM20 40h1v1h-1zM20 41h1v1h-1zM44 44h1v1h-1zM20 45h1v1h-1zM44 45h1v1h-1zM23 49h1v1h-1zM41 49h1v1h-1zM25 50h1v1h-1zM39 50h1v1h-1zM29 51h2v1h-2zM34 51h2v1h-2z"/>
<path fill="#f01e00" d="M40 30h1v1h-1zM36 31h1v1h-1zM34 32h1v1h-1zM31 33h1v1h-1zM44 33h1v1h-1zM28 34h1v1h-1zM44 34h1v1h-1zM25 35h1v1h-1zM44 35h1v1h-1zM23 36h1v1h-1zM44 36h1v1h-1zM22 37h1v1h-1zM44 37h1v1h-1zM44 38h1v1h-1zM21 39h1v1h-1zM44 39h1v1h-1zM44 40h1v1h-1zM44 41h1v1h-1zM20 42h1v1h-1zM44 42h1v1h-1zM20 43h1v1h-1zM44 43h1v1h-1zM20 44h1v1h-1zM21 47h1v1h-1zM43 47h1v1h-1zM22 48h1v1h-1zM26 50h1v1h-1zM38 50h1v1h-1zM31 51h3v1h-3z"/>
<path fill="#f00800" d="M37 31h1v1h-1zM42 31h1v1h-1zM43 32h1v1h-1zM32 33h1v1h-1zM29 34h1v1h-1zM26 35h1v1h-1zM42 48h1v1h-1zM24 49h1v1h-1zM40 49h1v1h-1zM27 50h1v1h-1zM37 50h1v1h-1z"/>
<path fill="#ed0500" d="M38 31h4v1h-4zM35 32h1v1h-1zM33 33h1v1h-1zM43 33h1v1h-1zM30 34h1v1h-1zM27 35h1v1h-1zM24 36h1v1h-1zM23 37h1v1h-1zM22 38h1v1h-1zM21 40h1v1h-1zM21 41h1v1h-1zM21 45h1v1h-1zM43 45h1v1h-1zM21 46h1v1h-1zM43 46h1v1h-1zM23 48h1v1h-1zM41 48h1v1h-1zM25 49h1v1h-1zM39 49h1v1h-1zM28 50h2v1h-2zM35 50h2v1h-2z"/>
<path fill="#ea0200" d="M36 32h1v1h-1zM42 32h1v1h-1zM34 33h1v1h-1zM31 34h1v1h-1zM43 34h1v1h-1zM28 35h1v1h-1zM25 36h1v1h-1zM22 39h1v1h-1zM43 39h1v1h-1zM43 40h1v1h-1zM43 41h1v1h-1zM21 42h1v1h-1zM43 42h1v1h-1zM21 43h1v1h-1zM43 43h1v1h-1zM21 44h1v1h-1zM43 44h1v1h-1zM22 47h1v1h-1zM42 47h1v1h-1zM26 49h1v1h-1zM38 49h1v1h-1zM30 50h5v1h-5z"/>
<path fill="#e50000" d="M37 32h1v1h-1zM41 32h1v1h-1zM32 34h1v1h-1zM29 35h1v1h-1zM43 35h1v1h-1zM26 36h2v1h-2zM43 36h1v1h-1zM24 37h1v1h-1zM43 37h1v1h-1zM23 38h1v1h-1zM43 38h1v1h-1zM22 40h1v1h-1zM22 46h1v1h-1zM42 46h1v1h-1zM24 48h1v1h-1zM40 48h1v1h-1zM27 49h1v1h-1zM36 49h2v1h-2z"/>
<path fill="#e00000" d="M38 32h3v1h-3zM35 33h1v1h-1zM42 33h1v1h-1zM33 34h1v1h-1zM30 35h1v1h-1zM28 36h1v1h-1zM25 37h1v1h-1zM24 38h1v1h-1zM23 39h1v1h-1zM22 41h1v1h-1zM42 44h1v1h-1zM22 45h1v1h-1zM42 45h1v1h-1zM23 47h1v1h-1zM41 47h1v1h-1zM25 48h1v1h-1zM39 48h1v1h-1zM28 49h2v1h-2zM35 49h1v1h-1z"/>
<path fill="#db0000" d="M36 33h1v1h-1zM41 33h1v1h-1zM34 34h1v1h-1zM42 34h1v1h-1zM31 35h1v1h-1zM29 36h1v1h-1zM26 37h1v1h-1zM42 39h1v1h-1zM23 40h1v1h-1zM42 40h1v1h-1zM42 41h1v1h-1zM22 42h1v1h-1zM42 42h1v1h-1zM22 43h1v1h-1zM42 43h1v1h-1zM22 44h1v1h-1zM23 46h1v1h-1zM41 46h1v1h-1zM24 47h1v1h-1zM40 47h1v1h-1zM26 48h1v1h-1zM37 48h2v1h-2zM30 49h5v1h-5z"/>
<path fill="#d50000" d="M37 33h4v1h-4zM35 34h1v1h-1zM42 35h1v1h-1zM42 36h1v1h-1zM27 37h1v1h-1zM42 37h1v1h-1zM25 38h1v1h-1zM42 38h1v1h-1zM24 39h1v1h-1zM23 41h1v1h-1zM23 45h1v1h-1zM41 45h1v1h-1zM25 47h1v1h-1zM39 47h1v1h-1zM27 48h2v1h-2zM35 48h2v1h-2z"/>
<path fill="#d00000" d="M36 34h1v1h-1zM41 34h1v1h-1zM32 35h2v1h-2zM30 36h1v1h-1zM28 37h2v1h-2zM26 38h1v1h-1zM25 39h1v1h-1zM24 40h1v1h-1zM41 40h1v1h-1zM41 41h1v1h-1zM23 42h1v1h-1zM41 42h1v1h-1zM23 43h1v1h-1zM41 43h1v1h-1zM23 44h1v1h-1zM41 44h1v1h-1zM24 46h1v1h-1zM40 46h1v1h-1zM26 47h1v1h-1zM37 47h2v1h-2zM29 48h6v1h-6z"/>
<path fill="#ca0000" d="M37 34h4v1h-4zM34 35h2v1h-2zM41 35h1v1h-1zM31 36h1v1h-1zM41 36h1v1h-1zM30 37h1v1h-1zM41 37h1v1h-1zM27 38h2v1h-2zM41 38h1v1h-1zM26 39h1v1h-1zM41 39h1v1h-1zM25 40h1v1h-1zM24 41h1v1h-1zM24 42h1v1h-1zM40 43h1v1h-1zM40 44h1v1h-1zM24 45h1v1h-1zM40 45h1v1h-1zM25 46h1v1h-1zM38 46h2v1h-2zM27 47h2v1h-2zM35 47h2v1h-2z"/>
<path fill="#c40000" d="M36 35h2v1h-2zM40 35h1v1h-1zM32 36h2v1h-2zM31 37h1v1h-1zM29 38h1v1h-1zM27 39h1v1h-1zM26 40h1v1h-1zM40 40h1v1h-1zM25 41h1v1h-1zM40 41h1v1h-1zM40 42h1v1h-1zM24 43h1v1h-1zM24 44h1v1h-1zM39 44h1v1h-1zM25 45h1v1h-1zM38 45h2v1h-2zM26 46h2v1h-2zM36 46h2v1h-2zM29 47h6v1h-6z"/>
<path fill="#be0000" d="M38 35h2v1h-2zM34 36h3v1h-3zM39 36h2v1h-2zM32 37h2v1h-2zM40 37h1v1h-1zM30 38h2v1h-2zM40 38h1v1h-1zM28 39h3v1h-3zM40 39h1v1h-1zM27 40h1v1h-1zM39 40h1v1h-1zM26 41h1v1h-1zM39 41h1v1h-1zM25 42h1v1h-1zM39 42h1v1h-1zM25 43h1v1h-1zM38 43h2v1h-2zM25 44h1v1h-1zM38 44h1v1h-1zM26 45h1v1h-1zM36 45h2v1h-2zM28 46h3v1h-3zM33 46h3v1h-3z"/>
<path fill="#b80000" d="M37 36h2v1h-2zM34 37h6v1h-6zM32 38h8v1h-8zM31 39h9v1h-9zM28 40h11v1h-11zM27 41h12v1h-12zM26 42h13v1h-13zM26 43h12v1h-12zM26 44h12v1h-12zM27 45h9v1h-9zM31 46h2v1h-2z"/>
</g></g></g>
<rect x="896.50" y="632.60" width="1.3" height="431.60" fill="#b4b4aa"/>
<rect x="897.80" y="1062.60" width="430.20" height="1.6" fill="#b4b4aa"/>
<rect x="897.80" y="1061.00" width="430.20" height="1.6" fill="#160070"/>
<rect x="897.80" y="632.60" width="1.2" height="430.00" fill="#1e0090"/>
<rect x="897.80" y="632.60" width="430.20" height="1.5" fill="#1c00ac"/>
<rect x="1348.5" y="668.3" width="40.00" height="311.50" fill="url(#cbg)"/>
<text transform="translate(998.91,619.40) scale(0.9791,1)" font-size="38.5" font-family="'Liberation Serif','Noto Sans CJK SC',serif" text-anchor="start" >OBJ</text>
<text transform="translate(1101.27,619.40) scale(0.9470,1)" font-size="38.5" font-family="'Liberation Serif','Noto Sans CJK SC',serif" text-anchor="start" >− 0.79°</text>
<text transform="translate(1067.40,618.70) scale(1.05,0.7)" font-size="27" font-weight="bold" font-family="'Noto Sans CJK SC',sans-serif">：</text>
<text transform="translate(774.60,647.10) scale(1.0000,1)" font-size="36.5" font-family="'Liberation Serif','Noto Sans CJK SC',serif" text-anchor="start" >(d)</text>
<text transform="translate(888.90,643.70) scale(0.9300,1)" font-size="28" font-family="'Liberation Serif','Noto Sans CJK SC',serif" text-anchor="end" >1.0</text>
<text transform="translate(892.30,854.90) scale(0.9300,1)" font-size="28" font-family="'Liberation Serif','Noto Sans CJK SC',serif" text-anchor="end" >0</text>
<text transform="translate(889.70,1067.00) scale(0.9300,1)" font-size="28" font-family="'Liberation Serif','Noto Sans CJK SC',serif" text-anchor="end" >−1.0</text>
<text transform="translate(899.80,1096.00) scale(0.9300,1)" font-size="28" font-family="'Liberation Serif','Noto Sans CJK SC',serif" text-anchor="middle" >−1.0</text>
<text transform="translate(1112.60,1092.00) scale(0.9300,1)" font-size="28" font-family="'Liberation Serif','Noto Sans CJK SC',serif" text-anchor="middle" >0</text>
<text transform="translate(1331.10,1094.20) scale(0.9300,1)" font-size="28" font-family="'Liberation Serif','Noto Sans CJK SC',serif" text-anchor="middle" >1.0</text>
<text transform="translate(1116.50,1124.40) scale(1.0000,1)" font-size="21.5" font-family="'DejaVu Sans Mono',monospace" text-anchor="middle" fill="#1a1a1a" letter-spacing="0.9">X-Pupil (Rel. Units)</text>
<text transform="translate(795.40,844.70) rotate(-90)" font-size="21.5" font-family="'DejaVu Sans Mono',monospace" text-anchor="middle" letter-spacing="0.9" fill="#1a1a1a">Y-Pupil (Rel. Units)</text>
<text transform="translate(1392.60,675.50) scale(1.0000,1)" font-size="21" font-family="'Liberation Serif','Noto Sans CJK SC',serif" text-anchor="start" >0.028</text>
<text transform="translate(1392.60,706.88) scale(1.0000,1)" font-size="21" font-family="'Liberation Serif','Noto Sans CJK SC',serif" text-anchor="start" >0.008</text>
<text transform="translate(1392.60,738.26) scale(1.0000,1)" font-size="21" font-family="'Liberation Serif','Noto Sans CJK SC',serif" text-anchor="start" >−0.013</text>
<text transform="translate(1392.60,769.64) scale(1.0000,1)" font-size="21" font-family="'Liberation Serif','Noto Sans CJK SC',serif" text-anchor="start" >−0.033</text>
<text transform="translate(1392.60,801.02) scale(1.0000,1)" font-size="21" font-family="'Liberation Serif','Noto Sans CJK SC',serif" text-anchor="start" >−0.054</text>
<text transform="translate(1392.60,832.40) scale(1.0000,1)" font-size="21" font-family="'Liberation Serif','Noto Sans CJK SC',serif" text-anchor="start" >−0.074</text>
<text transform="translate(1392.60,863.78) scale(1.0000,1)" font-size="21" font-family="'Liberation Serif','Noto Sans CJK SC',serif" text-anchor="start" >−0.095</text>
<text transform="translate(1392.60,895.16) scale(1.0000,1)" font-size="21" font-family="'Liberation Serif','Noto Sans CJK SC',serif" text-anchor="start" >−0.115</text>
<text transform="translate(1392.60,926.54) scale(1.0000,1)" font-size="21" font-family="'Liberation Serif','Noto Sans CJK SC',serif" text-anchor="start" >−0.136</text>
<text transform="translate(1392.60,957.92) scale(1.0000,1)" font-size="21" font-family="'Liberation Serif','Noto Sans CJK SC',serif" text-anchor="start" >−0.156</text>
<text transform="translate(1392.60,989.30) scale(1.0000,1)" font-size="21" font-family="'Liberation Serif','Noto Sans CJK SC',serif" text-anchor="start" >−0.177</text>
<text transform="translate(1390.30,1020.00) scale(1.0000,1)" font-size="16" font-family="'DejaVu Sans Mono',monospace" text-anchor="start" font-weight="bold" fill="#444">Waves</text>
<g transform="translate(1615,638.5) scale(6.57846,6.54769)">
<rect width="65" height="65" fill="#2f0ec4"/>
<clipPath id="cpf"><path d="M32 0H33V1H32zM25 1H40V2H25zM21 2H44V3H21zM19 3H46V4H19zM17 4H48V5H17zM15 5H50V6H15zM14 6H51V7H14zM13 7H52V8H13zM11 8H54V9H11zM10 9H55V10H10zM9 10H56V11H9zM8 11H57V12H8zM8 12H57V13H8zM7 13H58V14H7zM6 14H59V15H6zM5 15H60V16H5zM5 16H60V17H5zM4 17H61V18H4zM4 18H61V19H4zM3 19H62V20H3zM3 20H62V21H3zM2 21H63V22H2zM2 22H63V23H2zM2 23H63V24H2zM2 24H63V25H2zM1 25H64V26H1zM1 26H64V27H1zM1 27H64V28H1zM1 28H64V29H1zM1 29H64V30H1zM1 30H64V31H1zM1 31H64V32H1zM1 32H64V33H1zM1 33H64V34H1zM1 34H64V35H1zM1 35H64V36H1zM1 36H64V37H1zM1 37H64V38H1zM1 38H64V39H1zM1 39H64V40H1zM2 40H63V41H2zM2 41H63V42H2zM2 42H63V43H2zM2 43H63V44H2zM3 44H62V45H3zM3 45H62V46H3zM4 46H61V47H4zM4 47H61V48H4zM5 48H60V49H5zM5 49H60V50H5zM6 50H59V51H6zM7 51H58V52H7zM8 52H57V53H8zM8 53H57V54H8zM9 54H56V55H9zM10 55H55V56H10zM11 56H54V57H11zM13 57H52V58H13zM14 58H51V59H14zM15 59H50V60H15zM17 60H48V61H17zM19 61H46V62H19zM21 62H44V63H21zM25 63H40V64H25zM32 64H33V65H32z"/></clipPath>
<g clip-path="url(#cpf)"><g filter="url(#bl)" shape-rendering="crispEdges">
<path fill="#0a5cd8" d="M0 25h3v1h-3zM62 25h3v1h-3zM0 26h3v1h-3zM62 26h3v1h-3zM0 27h4v1h-4zM61 27h4v1h-4zM0 28h4v1h-4zM61 28h4v1h-4zM0 29h3v1h-3zM62 29h3v1h-3zM0 30h3v1h-3zM62 30h3v1h-3zM0 31h3v1h-3zM62 31h3v1h-3zM0 32h3v1h-3zM62 32h3v1h-3zM0 33h3v1h-3zM62 33h3v1h-3zM0 34h3v1h-3zM62 34h3v1h-3zM0 35h3v1h-3zM62 35h3v1h-3zM0 36h3v1h-3zM62 36h3v1h-3zM0 37h2v1h-2zM63 37h2v1h-2z"/>
<path fill="#0566d8" d="M0 24h3v1h-3zM62 24h3v1h-3zM3 25h1v1h-1zM61 25h1v1h-1zM3 26h2v1h-2zM60 26h2v1h-2zM4 27h1v1h-1zM60 27h1v1h-1zM4 28h1v1h-1zM60 28h1v1h-1zM3 29h2v1h-2zM60 29h2v1h-2zM3 30h2v1h-2zM60 30h2v1h-2zM3 31h2v1h-2zM60 31h2v1h-2zM3 32h2v1h-2zM60 32h2v1h-2zM3 33h2v1h-2zM60 33h2v1h-2zM3 34h2v1h-2zM60 34h2v1h-2zM3 35h2v1h-2zM60 35h2v1h-2zM3 36h2v1h-2zM60 36h2v1h-2zM2 37h3v1h-3zM60 37h3v1h-3zM0 38h4v1h-4zM61 38h4v1h-4zM0 39h3v1h-3zM62 39h3v1h-3z"/>
<path fill="#0070d8" d="M0 23h3v1h-3zM62 23h3v1h-3zM3 24h1v1h-1zM61 24h1v1h-1zM4 25h1v1h-1zM60 25h1v1h-1zM5 26h1v1h-1zM59 26h1v1h-1zM5 27h1v1h-1zM59 27h1v1h-1zM5 28h1v1h-1zM59 28h1v1h-1zM5 29h1v1h-1zM59 29h1v1h-1zM5 30h1v1h-1zM59 30h1v1h-1zM5 31h1v1h-1zM59 31h1v1h-1zM5 32h1v1h-1zM59 32h1v1h-1zM5 33h1v1h-1zM59 33h1v1h-1zM5 34h1v1h-1zM59 34h1v1h-1zM5 35h1v1h-1zM59 35h1v1h-1zM5 36h1v1h-1zM59 36h1v1h-1zM5 37h1v1h-1zM59 37h1v1h-1zM4 38h1v1h-1zM60 38h1v1h-1zM3 39h2v1h-2zM60 39h2v1h-2zM0 40h4v1h-4zM61 40h4v1h-4z"/>
<path fill="#0079d6" d="M0 22h2v1h-2zM63 22h2v1h-2zM3 23h1v1h-1zM61 23h1v1h-1zM4 24h1v1h-1zM60 24h1v1h-1zM5 25h1v1h-1zM59 25h1v1h-1zM6 26h1v1h-1zM58 26h1v1h-1zM6 27h1v1h-1zM58 27h1v1h-1zM6 28h1v1h-1zM58 28h1v1h-1zM6 29h1v1h-1zM58 29h1v1h-1zM6 30h1v1h-1zM58 30h1v1h-1zM6 31h1v1h-1zM58 31h1v1h-1zM6 32h1v1h-1zM58 32h1v1h-1zM6 33h1v1h-1zM58 33h1v1h-1zM6 34h1v1h-1zM58 34h1v1h-1zM6 35h1v1h-1zM58 35h1v1h-1zM6 36h1v1h-1zM58 36h1v1h-1zM6 37h1v1h-1zM58 37h1v1h-1zM5 38h2v1h-2zM58 38h2v1h-2zM5 39h1v1h-1zM59 39h1v1h-1zM4 40h1v1h-1zM60 40h1v1h-1zM0 41h4v1h-4zM61 41h4v1h-4z"/>
<path fill="#0082d3" d="M2 22h1v1h-1zM62 22h1v1h-1zM4 23h1v1h-1zM60 23h1v1h-1zM5 24h1v1h-1zM59 24h1v1h-1zM6 25h1v1h-1zM58 25h1v1h-1zM7 26h1v1h-1zM57 26h1v1h-1zM7 27h1v1h-1zM57 27h1v1h-1zM7 28h1v1h-1zM57 28h1v1h-1zM7 29h1v1h-1zM57 29h1v1h-1zM7 30h1v1h-1zM57 30h1v1h-1zM7 31h1v1h-1zM57 31h1v1h-1zM7 32h1v1h-1zM57 32h1v1h-1zM7 33h1v1h-1zM57 33h1v1h-1zM7 34h1v1h-1zM57 34h1v1h-1zM7 35h1v1h-1zM57 35h1v1h-1zM7 36h1v1h-1zM57 36h1v1h-1zM7 37h1v1h-1zM57 37h1v1h-1zM6 39h1v1h-1zM58 39h1v1h-1zM5 40h1v1h-1zM59 40h1v1h-1zM4 41h1v1h-1zM60 41h1v1h-1zM0 42h4v1h-4zM61 42h4v1h-4z"/>
<path fill="#008bd1" d="M0 21h2v1h-2zM63 21h2v1h-2zM3 22h1v1h-1zM61 22h1v1h-1zM5 23h1v1h-1zM59 23h1v1h-1zM6 24h1v1h-1zM58 24h1v1h-1zM7 25h1v1h-1zM57 25h1v1h-1zM8 27h1v1h-1zM56 27h1v1h-1zM8 28h1v1h-1zM56 28h1v1h-1zM8 29h1v1h-1zM56 29h1v1h-1zM8 30h1v1h-1zM56 30h1v1h-1zM8 31h1v1h-1zM56 31h1v1h-1zM8 32h1v1h-1zM56 32h1v1h-1zM8 33h1v1h-1zM56 33h1v1h-1zM8 34h1v1h-1zM56 34h1v1h-1zM8 35h1v1h-1zM56 35h1v1h-1zM8 36h1v1h-1zM56 36h1v1h-1zM7 38h1v1h-1zM57 38h1v1h-1zM7 39h1v1h-1zM57 39h1v1h-1zM6 40h1v1h-1zM58 40h1v1h-1zM5 41h1v1h-1zM59 41h1v1h-1zM4 42h1v1h-1zM60 42h1v1h-1zM0 43h3v1h-3zM62 43h3v1h-3z"/>
<path fill="#0094ce" d="M2 21h1v1h-1zM62 21h1v1h-1zM4 22h2v1h-2zM59 22h2v1h-2zM6 23h1v1h-1zM58 23h1v1h-1zM7 24h1v1h-1zM57 24h1v1h-1zM8 25h1v1h-1zM56 25h1v1h-1zM8 26h1v1h-1zM56 26h1v1h-1zM9 28h1v1h-1zM55 28h1v1h-1zM9 29h1v1h-1zM55 29h1v1h-1zM9 30h1v1h-1zM55 30h1v1h-1zM9 31h1v1h-1zM55 31h1v1h-1zM9 32h1v1h-1zM55 32h1v1h-1zM9 33h1v1h-1zM55 33h1v1h-1zM8 37h1v1h-1zM56 37h1v1h-1zM8 38h1v1h-1zM56 38h1v1h-1zM7 40h1v1h-1zM57 40h1v1h-1zM6 41h1v1h-1zM58 41h1v1h-1zM5 42h1v1h-1zM59 42h1v1h-1zM3 43h2v1h-2zM60 43h2v1h-2z"/>
<path fill="#009bcb" d="M1 20h1v1h-1zM63 20h1v1h-1zM3 21h2v1h-2zM60 21h2v1h-2zM7 23h1v1h-1zM57 23h1v1h-1zM8 24h1v1h-1zM56 24h1v1h-1zM9 26h1v1h-1zM55 26h1v1h-1zM9 27h1v1h-1zM55 27h1v1h-1zM9 34h1v1h-1zM55 34h1v1h-1zM9 35h1v1h-1zM55 35h1v1h-1zM9 36h1v1h-1zM55 36h1v1h-1zM9 37h1v1h-1zM55 37h1v1h-1zM8 39h1v1h-1zM56 39h1v1h-1zM8 40h1v1h-1zM56 40h1v1h-1zM7 41h1v1h-1zM57 41h1v1h-1zM6 42h1v1h-1zM58 42h1v1h-1zM5 43h1v1h-1zM59 43h1v1h-1zM1 44h3v1h-3zM61 44h3v1h-3z"/>
<path fill="#00a2c7" d="M2 20h1v1h-1zM62 20h1v1h-1zM5 21h1v1h-1zM59 21h1v1h-1zM6 22h1v1h-1zM58 22h1v1h-1zM8 23h1v1h-1zM56 23h1v1h-1zM9 25h1v1h-1zM55 25h1v1h-1zM10 27h1v1h-1zM54 27h1v1h-1zM10 28h1v1h-1zM54 28h1v1h-1zM10 29h1v1h-1zM54 29h1v1h-1zM10 30h1v1h-1zM54 30h1v1h-1zM10 31h1v1h-1zM54 31h1v1h-1zM10 32h1v1h-1zM54 32h1v1h-1zM10 33h1v1h-1zM54 33h1v1h-1zM10 34h1v1h-1zM54 34h1v1h-1zM10 35h1v1h-1zM54 35h1v1h-1zM9 38h1v1h-1zM55 38h1v1h-1zM9 39h1v1h-1zM55 39h1v1h-1zM8 41h1v1h-1zM56 41h1v1h-1zM7 42h1v1h-1zM57 42h1v1h-1zM6 43h1v1h-1zM58 43h1v1h-1zM4 44h1v1h-1zM60 44h1v1h-1zM1 45h1v1h-1zM63 45h1v1h-1z"/>
<path fill="#00a9c4" d="M1 19h1v1h-1zM63 19h1v1h-1zM3 20h2v1h-2zM60 20h2v1h-2zM6 21h1v1h-1zM58 21h1v1h-1zM7 22h1v1h-1zM57 22h1v1h-1zM9 24h1v1h-1zM55 24h1v1h-1zM10 25h1v1h-1zM54 25h1v1h-1zM10 26h1v1h-1zM54 26h1v1h-1zM11 28h1v1h-1zM53 28h1v1h-1zM11 29h1v1h-1zM53 29h1v1h-1zM11 30h1v1h-1zM53 30h1v1h-1zM11 31h1v1h-1zM53 31h1v1h-1zM10 36h1v1h-1zM54 36h1v1h-1zM10 37h1v1h-1zM54 37h1v1h-1zM9 40h1v1h-1zM55 40h1v1h-1zM8 42h1v1h-1zM56 42h1v1h-1zM7 43h1v1h-1zM57 43h1v1h-1zM5 44h1v1h-1zM59 44h1v1h-1zM2 45h2v1h-2zM61 45h2v1h-2z"/>
<path fill="#00b0c0" d="M2 19h1v1h-1zM62 19h1v1h-1zM5 20h1v1h-1zM59 20h1v1h-1zM7 21h1v1h-1zM57 21h1v1h-1zM8 22h1v1h-1zM56 22h1v1h-1zM9 23h1v1h-1zM55 23h1v1h-1zM10 24h1v1h-1zM54 24h1v1h-1zM11 26h1v1h-1zM53 26h1v1h-1zM11 27h1v1h-1zM53 27h1v1h-1zM11 32h1v1h-1zM53 32h1v1h-1zM11 33h1v1h-1zM53 33h1v1h-1zM11 34h1v1h-1zM53 34h1v1h-1zM11 35h1v1h-1zM53 35h1v1h-1zM10 38h1v1h-1zM54 38h1v1h-1zM10 39h1v1h-1zM54 39h1v1h-1zM9 41h1v1h-1zM55 41h1v1h-1zM6 44h1v1h-1zM58 44h1v1h-1zM4 45h2v1h-2zM59 45h2v1h-2z"/>
<path fill="#00b5bb" d="M3 19h1v1h-1zM61 19h1v1h-1zM6 20h1v1h-1zM58 20h1v1h-1zM8 21h1v1h-1zM56 21h1v1h-1zM9 22h1v1h-1zM55 22h1v1h-1zM10 23h1v1h-1zM54 23h1v1h-1zM11 24h1v1h-1zM53 24h1v1h-1zM11 25h1v1h-1zM53 25h1v1h-1zM12 26h1v1h-1zM52 26h1v1h-1zM12 27h1v1h-1zM52 27h1v1h-1zM12 28h1v1h-1zM52 28h1v1h-1zM12 29h1v1h-1zM52 29h1v1h-1zM12 30h1v1h-1zM52 30h1v1h-1zM12 31h1v1h-1zM52 31h1v1h-1zM12 32h1v1h-1zM52 32h1v1h-1zM12 33h1v1h-1zM52 33h1v1h-1zM11 36h1v1h-1zM53 36h1v1h-1zM11 37h1v1h-1zM53 37h1v1h-1zM11 38h1v1h-1zM53 38h1v1h-1zM10 40h1v1h-1zM54 40h1v1h-1zM10 41h1v1h-1zM54 41h1v1h-1zM9 42h1v1h-1zM55 42h1v1h-1zM8 43h1v1h-1zM56 43h1v1h-1zM7 44h1v1h-1zM57 44h1v1h-1zM6 45h1v1h-1zM58 45h1v1h-1zM2 46h2v1h-2zM61 46h2v1h-2z"/>
<path fill="#00bab6" d="M2 18h2v1h-2zM61 18h2v1h-2zM4 19h2v1h-2zM59 19h2v1h-2zM7 20h1v1h-1zM57 20h1v1h-1zM9 21h1v1h-1zM55 21h1v1h-1zM10 22h1v1h-1zM54 22h1v1h-1zM11 23h1v1h-1zM53 23h1v1h-1zM12 25h1v1h-1zM52 25h1v1h-1zM13 27h1v1h-1zM51 27h1v1h-1zM13 28h1v1h-1zM51 28h1v1h-1zM13 29h1v1h-1zM51 29h1v1h-1zM13 30h1v1h-1zM51 30h1v1h-1zM12 34h1v1h-1zM52 34h1v1h-1zM12 35h1v1h-1zM52 35h1v1h-1zM12 36h1v1h-1zM52 36h1v1h-1zM11 39h1v1h-1zM53 39h1v1h-1zM11 40h1v1h-1zM53 40h1v1h-1zM10 42h1v1h-1zM54 42h1v1h-1zM9 43h1v1h-1zM55 43h1v1h-1zM8 44h1v1h-1zM56 44h1v1h-1zM7 45h1v1h-1zM57 45h1v1h-1zM4 46h2v1h-2zM59 46h2v1h-2z"/>
<path fill="#00bfb1" d="M2 17h1v1h-1zM62 17h1v1h-1zM4 18h1v1h-1zM60 18h1v1h-1zM6 19h1v1h-1zM58 19h1v1h-1zM8 20h1v1h-1zM56 20h1v1h-1zM11 22h1v1h-1zM53 22h1v1h-1zM12 23h1v1h-1zM52 23h1v1h-1zM12 24h1v1h-1zM52 24h1v1h-1zM13 25h1v1h-1zM51 25h1v1h-1zM13 26h1v1h-1zM51 26h1v1h-1zM13 31h1v1h-1zM51 31h1v1h-1zM13 32h1v1h-1zM51 32h1v1h-1zM13 33h1v1h-1zM51 33h1v1h-1zM12 37h1v1h-1zM52 37h1v1h-1zM12 38h1v1h-1zM52 38h1v1h-1zM11 41h1v1h-1zM53 41h1v1h-1zM9 44h1v1h-1zM55 44h1v1h-1zM6 46h1v1h-1zM58 46h1v1h-1zM2 47h2v1h-2zM61 47h2v1h-2z"/>
<path fill="#00c4ac" d="M3 17h1v1h-1zM61 17h1v1h-1zM5 18h1v1h-1zM59 18h1v1h-1zM7 19h1v1h-1zM57 19h1v1h-1zM9 20h1v1h-1zM55 20h1v1h-1zM10 21h1v1h-1zM54 21h1v1h-1zM13 24h1v1h-1zM51 24h1v1h-1zM14 25h1v1h-1zM50 25h1v1h-1zM14 26h1v1h-1zM50 26h1v1h-1zM14 27h1v1h-1zM50 27h1v1h-1zM14 28h1v1h-1zM50 28h1v1h-1zM14 29h1v1h-1zM50 29h1v1h-1zM14 30h1v1h-1zM50 30h1v1h-1zM14 31h1v1h-1zM50 31h1v1h-1zM14 32h1v1h-1zM50 32h1v1h-1zM13 34h1v1h-1zM51 34h1v1h-1zM13 35h1v1h-1zM51 35h1v1h-1zM13 36h1v1h-1zM51 36h1v1h-1zM12 39h1v1h-1zM52 39h1v1h-1zM12 40h1v1h-1zM52 40h1v1h-1zM11 42h1v1h-1zM53 42h1v1h-1zM10 43h1v1h-1zM54 43h1v1h-1zM8 45h1v1h-1zM56 45h1v1h-1zM7 46h1v1h-1zM57 46h1v1h-1zM4 47h1v1h-1zM60 47h1v1h-1z"/>
<path fill="#00c8a6" d="M4 17h1v1h-1zM60 17h1v1h-1zM6 18h1v1h-1zM58 18h1v1h-1zM8 19h1v1h-1zM56 19h1v1h-1zM10 20h1v1h-1zM54 20h1v1h-1zM11 21h1v1h-1zM53 21h1v1h-1zM12 22h1v1h-1zM52 22h1v1h-1zM13 23h1v1h-1zM51 23h1v1h-1zM14 24h1v1h-1zM50 24h1v1h-1zM15 26h1v1h-1zM49 26h1v1h-1zM15 27h1v1h-1zM49 27h1v1h-1zM15 28h1v1h-1zM49 28h1v1h-1zM15 29h1v1h-1zM49 29h1v1h-1zM15 30h1v1h-1zM49 30h1v1h-1zM15 31h1v1h-1zM49 31h1v1h-1zM14 33h1v1h-1zM50 33h1v1h-1zM14 34h1v1h-1zM50 34h1v1h-1zM13 37h1v1h-1zM51 37h1v1h-1zM13 38h1v1h-1zM51 38h1v1h-1zM13 39h1v1h-1zM51 39h1v1h-1zM12 41h1v1h-1zM52 41h1v1h-1zM11 43h1v1h-1zM53 43h1v1h-1zM10 44h1v1h-1zM54 44h1v1h-1zM9 45h1v1h-1zM55 45h1v1h-1zM8 46h1v1h-1zM56 46h1v1h-1zM5 47h2v1h-2zM58 47h2v1h-2zM3 48h1v1h-1zM61 48h1v1h-1z"/>
<path fill="#00cda0" d="M3 16h1v1h-1zM61 16h1v1h-1zM5 17h1v1h-1zM59 17h1v1h-1zM7 18h1v1h-1zM57 18h1v1h-1zM9 19h1v1h-1zM55 19h1v1h-1zM11 20h1v1h-1zM53 20h1v1h-1zM12 21h1v1h-1zM52 21h1v1h-1zM13 22h1v1h-1zM51 22h1v1h-1zM14 23h1v1h-1zM50 23h1v1h-1zM15 24h1v1h-1zM49 24h1v1h-1zM15 25h1v1h-1zM49 25h1v1h-1zM16 26h1v1h-1zM48 26h1v1h-1zM16 27h1v1h-1zM48 27h1v1h-1zM16 28h1v1h-1zM48 28h1v1h-1zM16 29h1v1h-1zM48 29h1v1h-1zM16 30h1v1h-1zM48 30h1v1h-1zM15 32h1v1h-1zM49 32h1v1h-1zM15 33h1v1h-1zM49 33h1v1h-1zM14 35h1v1h-1zM50 35h1v1h-1zM14 36h1v1h-1zM50 36h1v1h-1zM14 37h1v1h-1zM50 37h1v1h-1zM13 40h1v1h-1zM51 40h1v1h-1zM12 42h1v1h-1zM52 42h1v1h-1zM11 44h1v1h-1zM53 44h1v1h-1zM10 45h1v1h-1zM54 45h1v1h-1zM7 47h1v1h-1zM57 47h1v1h-1zM4 48h1v1h-1zM60 48h1v1h-1z"/>
<path fill="#00d199" d="M4 16h1v1h-1zM60 16h1v1h-1zM6 17h1v1h-1zM58 17h1v1h-1zM8 18h2v1h-2zM55 18h2v1h-2zM10 19h2v1h-2zM53 19h2v1h-2zM12 20h1v1h-1zM52 20h1v1h-1zM13 21h1v1h-1zM51 21h1v1h-1zM14 22h1v1h-1zM50 22h1v1h-1zM15 23h1v1h-1zM49 23h1v1h-1zM16 24h1v1h-1zM48 24h1v1h-1zM16 25h2v1h-2zM47 25h2v1h-2zM17 26h1v1h-1zM47 26h1v1h-1zM17 27h1v1h-1zM47 27h1v1h-1zM17 28h1v1h-1zM47 28h1v1h-1zM17 29h1v1h-1zM47 29h1v1h-1zM17 30h1v1h-1zM47 30h1v1h-1zM16 31h1v1h-1zM48 31h1v1h-1zM16 32h1v1h-1zM48 32h1v1h-1zM15 34h1v1h-1zM49 34h1v1h-1zM15 35h1v1h-1zM49 35h1v1h-1zM14 38h1v1h-1zM50 38h1v1h-1zM14 39h1v1h-1zM50 39h1v1h-1zM13 41h1v1h-1zM51 41h1v1h-1zM13 42h1v1h-1zM51 42h1v1h-1zM12 43h1v1h-1zM52 43h1v1h-1zM9 46h1v1h-1zM55 46h1v1h-1zM8 47h1v1h-1zM56 47h1v1h-1zM5 48h1v1h-1zM59 48h1v1h-1z"/>
<path fill="#00d693" d="M3 15h1v1h-1zM61 15h1v1h-1zM5 16h1v1h-1zM59 16h1v1h-1zM7 17h2v1h-2zM56 17h2v1h-2zM10 18h1v1h-1zM54 18h1v1h-1zM12 19h1v1h-1zM52 19h1v1h-1zM13 20h1v1h-1zM51 20h1v1h-1zM14 21h2v1h-2zM49 21h2v1h-2zM15 22h2v1h-2zM48 22h2v1h-2zM16 23h2v1h-2zM47 23h2v1h-2zM17 24h2v1h-2zM46 24h2v1h-2zM18 25h1v1h-1zM46 25h1v1h-1zM18 26h2v1h-2zM45 26h2v1h-2zM18 27h2v1h-2zM45 27h2v1h-2zM18 28h2v1h-2zM45 28h2v1h-2zM18 29h1v1h-1zM46 29h1v1h-1zM18 30h1v1h-1zM46 30h1v1h-1zM17 31h1v1h-1zM47 31h1v1h-1zM17 32h1v1h-1zM47 32h1v1h-1zM16 33h1v1h-1zM48 33h1v1h-1zM16 34h1v1h-1zM48 34h1v1h-1zM15 36h1v1h-1zM49 36h1v1h-1zM15 37h1v1h-1zM49 37h1v1h-1zM15 38h1v1h-1zM49 38h1v1h-1zM14 40h1v1h-1zM50 40h1v1h-1zM14 41h1v1h-1zM50 41h1v1h-1zM13 43h1v1h-1zM51 43h1v1h-1zM12 44h1v1h-1zM52 44h1v1h-1zM11 45h1v1h-1zM53 45h1v1h-1zM10 46h1v1h-1zM54 46h1v1h-1zM6 48h1v1h-1zM58 48h1v1h-1zM3 49h1v1h-1zM61 49h1v1h-1z"/>
<path fill="#00da8b" d="M4 15h1v1h-1zM60 15h1v1h-1zM6 16h1v1h-1zM58 16h1v1h-1zM9 17h1v1h-1zM55 17h1v1h-1zM11 18h1v1h-1zM53 18h1v1h-1zM13 19h1v1h-1zM51 19h1v1h-1zM14 20h2v1h-2zM49 20h2v1h-2zM16 21h1v1h-1zM48 21h1v1h-1zM17 22h1v1h-1zM47 22h1v1h-1zM18 23h1v1h-1zM46 23h1v1h-1zM19 24h1v1h-1zM45 24h1v1h-1zM19 25h2v1h-2zM44 25h2v1h-2zM20 26h2v1h-2zM43 26h2v1h-2zM20 27h2v1h-2zM43 27h2v1h-2zM20 28h2v1h-2zM43 28h2v1h-2zM19 29h2v1h-2zM44 29h2v1h-2zM19 30h2v1h-2zM44 30h2v1h-2zM18 31h2v1h-2zM45 31h2v1h-2zM18 32h1v1h-1zM46 32h1v1h-1zM17 33h1v1h-1zM47 33h1v1h-1zM17 34h1v1h-1zM47 34h1v1h-1zM16 35h1v1h-1zM48 35h1v1h-1zM16 36h1v1h-1zM48 36h1v1h-1zM16 37h1v1h-1zM48 37h1v1h-1zM15 39h1v1h-1zM49 39h1v1h-1zM15 40h1v1h-1zM49 40h1v1h-1zM14 42h1v1h-1zM50 42h1v1h-1zM13 44h1v1h-1zM51 44h1v1h-1zM12 45h1v1h-1zM52 45h1v1h-1zM11 46h1v1h-1zM53 46h1v1h-1zM9 47h1v1h-1zM55 47h1v1h-1zM7 48h1v1h-1zM57 48h1v1h-1zM4 49h2v1h-2zM59 49h2v1h-2z"/>
<path fill="#00dd80" d="M5 15h1v1h-1zM59 15h1v1h-1zM7 16h2v1h-2zM56 16h2v1h-2zM10 17h2v1h-2zM53 17h2v1h-2zM12 18h2v1h-2zM51 18h2v1h-2zM14 19h2v1h-2zM49 19h2v1h-2zM16 20h1v1h-1zM48 20h1v1h-1zM17 21h2v1h-2zM46 21h2v1h-2zM18 22h3v1h-3zM44 22h3v1h-3zM19 23h4v1h-4zM31 23h3v1h-3zM42 23h4v1h-4zM20 24h25v1h-25zM21 25h23v1h-23zM22 26h21v1h-21zM22 27h21v1h-21zM22 28h21v1h-21zM21 29h23v1h-23zM21 30h3v1h-3zM30 30h5v1h-5zM41 30h3v1h-3zM20 31h2v1h-2zM43 31h2v1h-2zM19 32h2v1h-2zM44 32h2v1h-2zM18 33h2v1h-2zM45 33h2v1h-2zM18 34h1v1h-1zM46 34h1v1h-1zM17 35h2v1h-2zM46 35h2v1h-2zM17 36h1v1h-1zM47 36h1v1h-1zM17 37h1v1h-1zM47 37h1v1h-1zM16 38h1v1h-1zM48 38h1v1h-1zM16 39h1v1h-1zM48 39h1v1h-1zM16 40h1v1h-1zM48 40h1v1h-1zM15 41h1v1h-1zM49 41h1v1h-1zM15 42h1v1h-1zM49 42h1v1h-1zM14 43h1v1h-1zM50 43h1v1h-1zM13 45h1v1h-1zM51 45h1v1h-1zM10 47h1v1h-1zM54 47h1v1h-1zM8 48h1v1h-1zM56 48h1v1h-1zM6 49h1v1h-1zM58 49h1v1h-1z"/>
<path fill="#00e175" d="M4 14h1v1h-1zM60 14h1v1h-1zM6 15h2v1h-2zM57 15h2v1h-2zM9 16h2v1h-2zM54 16h2v1h-2zM12 17h2v1h-2zM51 17h2v1h-2zM14 18h2v1h-2zM49 18h2v1h-2zM16 19h1v1h-1zM48 19h1v1h-1zM17 20h2v1h-2zM46 20h2v1h-2zM19 21h3v1h-3zM43 21h3v1h-3zM21 22h23v1h-23zM23 23h8v1h-8zM34 23h8v1h-8zM24 30h6v1h-6zM35 30h6v1h-6zM22 31h21v1h-21zM21 32h23v1h-23zM20 33h3v1h-3zM42 33h3v1h-3zM19 34h2v1h-2zM44 34h2v1h-2zM19 35h1v1h-1zM45 35h1v1h-1zM18 36h1v1h-1zM46 36h1v1h-1zM18 37h1v1h-1zM46 37h1v1h-1zM17 38h1v1h-1zM47 38h1v1h-1zM17 39h1v1h-1zM47 39h1v1h-1zM17 40h1v1h-1zM47 40h1v1h-1zM16 41h1v1h-1zM48 41h1v1h-1zM16 42h1v1h-1zM48 42h1v1h-1zM15 43h1v1h-1zM49 43h1v1h-1zM14 44h1v1h-1zM50 44h1v1h-1zM12 46h1v1h-1zM52 46h1v1h-1zM11 47h1v1h-1zM53 47h1v1h-1zM9 48h1v1h-1zM55 48h1v1h-1zM7 49h1v1h-1zM57 49h1v1h-1zM4 50h1v1h-1zM60 50h1v1h-1z"/>
<path fill="#00e46b" d="M5 14h2v1h-2zM58 14h2v1h-2zM8 15h1v1h-1zM56 15h1v1h-1zM11 16h2v1h-2zM52 16h2v1h-2zM14 17h1v1h-1zM50 17h1v1h-1zM16 18h1v1h-1zM48 18h1v1h-1zM17 19h3v1h-3zM45 19h3v1h-3zM19 20h5v1h-5zM27 20h11v1h-11zM41 20h5v1h-5zM22 21h21v1h-21zM23 33h19v1h-19zM21 34h23v1h-23zM20 35h4v1h-4zM41 35h4v1h-4zM19 36h3v1h-3zM43 36h3v1h-3zM19 37h2v1h-2zM44 37h2v1h-2zM18 38h2v1h-2zM45 38h2v1h-2zM18 39h1v1h-1zM46 39h1v1h-1zM18 40h1v1h-1zM46 40h1v1h-1zM17 41h1v1h-1zM47 41h1v1h-1zM17 42h1v1h-1zM47 42h1v1h-1zM16 43h1v1h-1zM48 43h1v1h-1zM15 44h1v1h-1zM49 44h1v1h-1zM14 45h1v1h-1zM50 45h1v1h-1zM13 46h1v1h-1zM51 46h1v1h-1zM12 47h1v1h-1zM52 47h1v1h-1zM10 48h1v1h-1zM54 48h1v1h-1zM8 49h1v1h-1zM56 49h1v1h-1zM5 50h1v1h-1zM59 50h1v1h-1z"/>
<path fill="#00e860" d="M5 13h1v1h-1zM59 13h1v1h-1zM7 14h1v1h-1zM57 14h1v1h-1zM9 15h2v1h-2zM54 15h2v1h-2zM13 16h2v1h-2zM50 16h2v1h-2zM15 17h3v1h-3zM47 17h3v1h-3zM17 18h3v1h-3zM45 18h3v1h-3zM20 19h25v1h-25zM24 20h3v1h-3zM38 20h3v1h-3zM24 35h17v1h-17zM22 36h9v1h-9zM34 36h9v1h-9zM21 37h3v1h-3zM41 37h3v1h-3zM20 38h2v1h-2zM43 38h2v1h-2zM19 39h2v1h-2zM44 39h2v1h-2zM19 40h1v1h-1zM45 40h1v1h-1zM18 41h2v1h-2zM45 41h2v1h-2zM18 42h1v1h-1zM46 42h1v1h-1zM17 43h1v1h-1zM47 43h1v1h-1zM16 44h1v1h-1zM48 44h1v1h-1zM15 45h1v1h-1zM49 45h1v1h-1zM14 46h1v1h-1zM50 46h1v1h-1zM13 47h1v1h-1zM51 47h1v1h-1zM11 48h1v1h-1zM53 48h1v1h-1zM9 49h1v1h-1zM55 49h1v1h-1zM6 50h1v1h-1zM58 50h1v1h-1z"/>
<path fill="#08ea50" d="M6 13h1v1h-1zM58 13h1v1h-1zM8 14h2v1h-2zM55 14h2v1h-2zM11 15h3v1h-3zM51 15h3v1h-3zM15 16h2v1h-2zM48 16h2v1h-2zM18 17h2v1h-2zM45 17h2v1h-2zM20 18h25v1h-25zM31 36h3v1h-3zM24 37h17v1h-17zM22 38h7v1h-7zM36 38h7v1h-7zM21 39h4v1h-4zM40 39h4v1h-4zM20 40h3v1h-3zM42 40h3v1h-3zM20 41h2v1h-2zM43 41h2v1h-2zM19 42h2v1h-2zM44 42h2v1h-2zM18 43h2v1h-2zM45 43h2v1h-2zM17 44h1v1h-1zM47 44h1v1h-1zM16 45h1v1h-1zM48 45h1v1h-1zM15 46h1v1h-1zM49 46h1v1h-1zM12 48h1v1h-1zM52 48h1v1h-1zM10 49h1v1h-1zM54 49h1v1h-1zM7 50h2v1h-2zM56 50h2v1h-2z"/>
<path fill="#10ec40" d="M7 13h2v1h-2zM56 13h2v1h-2zM10 14h2v1h-2zM53 14h2v1h-2zM14 15h3v1h-3zM48 15h3v1h-3zM17 16h3v1h-3zM45 16h3v1h-3zM20 17h25v1h-25zM29 38h7v1h-7zM25 39h15v1h-15zM23 40h7v1h-7zM35 40h7v1h-7zM22 41h4v1h-4zM39 41h4v1h-4zM21 42h2v1h-2zM42 42h2v1h-2zM20 43h2v1h-2zM43 43h2v1h-2zM18 44h2v1h-2zM45 44h2v1h-2zM17 45h2v1h-2zM46 45h2v1h-2zM16 46h1v1h-1zM48 46h1v1h-1zM14 47h1v1h-1zM50 47h1v1h-1zM13 48h1v1h-1zM51 48h1v1h-1zM11 49h1v1h-1zM53 49h1v1h-1zM9 50h1v1h-1zM55 50h1v1h-1zM5 51h2v1h-2zM58 51h2v1h-2z"/>
<path fill="#18ee30" d="M6 12h2v1h-2zM57 12h2v1h-2zM9 13h2v1h-2zM54 13h2v1h-2zM12 14h4v1h-4zM49 14h4v1h-4zM17 15h2v1h-2zM46 15h2v1h-2zM20 16h3v1h-3zM29 16h7v1h-7zM42 16h3v1h-3zM30 40h5v1h-5zM26 41h13v1h-13zM23 42h19v1h-19zM22 43h4v1h-4zM39 43h4v1h-4zM20 44h3v1h-3zM42 44h3v1h-3zM19 45h1v1h-1zM45 45h1v1h-1zM17 46h1v1h-1zM47 46h1v1h-1zM15 47h2v1h-2zM48 47h2v1h-2zM14 48h1v1h-1zM50 48h1v1h-1zM12 49h1v1h-1zM52 49h1v1h-1zM10 50h1v1h-1zM54 50h1v1h-1zM7 51h1v1h-1zM57 51h1v1h-1z"/>
<path fill="#20f020" d="M6 11h1v1h-1zM58 11h1v1h-1zM8 12h1v1h-1zM56 12h1v1h-1zM11 13h2v1h-2zM52 13h2v1h-2zM16 14h2v1h-2zM47 14h2v1h-2zM19 15h2v1h-2zM31 15h3v1h-3zM44 15h2v1h-2zM23 16h6v1h-6zM36 16h6v1h-6zM26 43h13v1h-13zM23 44h19v1h-19zM20 45h4v1h-4zM41 45h4v1h-4zM18 46h3v1h-3zM44 46h3v1h-3zM17 47h1v1h-1zM47 47h1v1h-1zM15 48h1v1h-1zM49 48h1v1h-1zM13 49h1v1h-1zM51 49h1v1h-1zM11 50h1v1h-1zM53 50h1v1h-1zM8 51h1v1h-1zM56 51h1v1h-1z"/>
<path fill="#27f019" d="M7 11h1v1h-1zM57 11h1v1h-1zM9 12h2v1h-2zM54 12h2v1h-2zM13 13h3v1h-3zM49 13h3v1h-3zM18 14h2v1h-2zM45 14h2v1h-2zM21 15h10v1h-10zM34 15h10v1h-10zM24 45h17v1h-17zM21 46h23v1h-23zM18 47h2v1h-2zM45 47h2v1h-2zM16 48h1v1h-1zM48 48h1v1h-1zM14 49h2v1h-2zM49 49h2v1h-2zM12 50h1v1h-1zM52 50h1v1h-1zM9 51h1v1h-1zM55 51h1v1h-1zM6 52h1v1h-1zM58 52h1v1h-1z"/>
<path fill="#2ef012" d="M8 11h2v1h-2zM55 11h2v1h-2zM11 12h3v1h-3zM51 12h3v1h-3zM16 13h3v1h-3zM46 13h3v1h-3zM20 14h3v1h-3zM30 14h5v1h-5zM42 14h3v1h-3zM20 47h25v1h-25zM17 48h3v1h-3zM45 48h3v1h-3zM16 49h1v1h-1zM48 49h1v1h-1zM13 50h2v1h-2zM50 50h2v1h-2zM10 51h2v1h-2zM53 51h2v1h-2zM7 52h1v1h-1zM57 52h1v1h-1z"/>
<path fill="#35f00b" d="M7 10h2v1h-2zM56 10h2v1h-2zM10 11h1v1h-1zM54 11h1v1h-1zM14 12h3v1h-3zM48 12h3v1h-3zM19 13h2v1h-2zM44 13h2v1h-2zM23 14h7v1h-7zM35 14h7v1h-7zM20 48h25v1h-25zM17 49h2v1h-2zM46 49h2v1h-2zM15 50h1v1h-1zM49 50h1v1h-1zM12 51h1v1h-1zM52 51h1v1h-1zM8 52h2v1h-2zM55 52h2v1h-2z"/>
<path fill="#3cf004" d="M9 10h1v1h-1zM55 10h1v1h-1zM11 11h3v1h-3zM51 11h3v1h-3zM17 12h2v1h-2zM46 12h2v1h-2zM21 13h4v1h-4zM30 13h5v1h-5zM40 13h4v1h-4zM19 49h3v1h-3zM27 49h11v1h-11zM43 49h3v1h-3zM16 50h2v1h-2zM47 50h2v1h-2zM13 51h2v1h-2zM50 51h2v1h-2zM10 52h1v1h-1zM54 52h1v1h-1zM6 53h1v1h-1zM58 53h1v1h-1z"/>
<path fill="#43f100" d="M8 9h1v1h-1zM56 9h1v1h-1zM10 10h2v1h-2zM53 10h2v1h-2zM14 11h3v1h-3zM48 11h3v1h-3zM19 12h3v1h-3zM43 12h3v1h-3zM25 13h5v1h-5zM35 13h5v1h-5zM22 49h5v1h-5zM38 49h5v1h-5zM18 50h2v1h-2zM29 50h7v1h-7zM45 50h2v1h-2zM15 51h2v1h-2zM48 51h2v1h-2zM11 52h2v1h-2zM52 52h2v1h-2zM7 53h1v1h-1zM57 53h1v1h-1z"/>
<path fill="#49f200" d="M9 9h2v1h-2zM54 9h2v1h-2zM12 10h2v1h-2zM51 10h2v1h-2zM17 11h2v1h-2zM46 11h2v1h-2zM22 12h3v1h-3zM40 12h3v1h-3zM20 50h9v1h-9zM36 50h9v1h-9zM17 51h1v1h-1zM30 51h5v1h-5zM47 51h1v1h-1zM13 52h2v1h-2zM50 52h2v1h-2zM8 53h2v1h-2zM55 53h2v1h-2z"/>
<path fill="#4ff400" d="M9 8h1v1h-1zM55 8h1v1h-1zM11 9h1v1h-1zM53 9h1v1h-1zM14 10h3v1h-3zM48 10h3v1h-3zM19 11h3v1h-3zM43 11h3v1h-3zM25 12h15v1h-15zM18 51h2v1h-2zM28 51h2v1h-2zM35 51h2v1h-2zM45 51h2v1h-2zM15 52h2v1h-2zM48 52h2v1h-2zM10 53h1v1h-1zM54 53h1v1h-1z"/>
<path fill="#54f500" d="M10 8h1v1h-1zM54 8h1v1h-1zM12 9h2v1h-2zM51 9h2v1h-2zM17 10h2v1h-2zM46 10h2v1h-2zM22 11h4v1h-4zM39 11h4v1h-4zM20 51h8v1h-8zM37 51h8v1h-8zM17 52h1v1h-1zM30 52h5v1h-5zM47 52h1v1h-1zM11 53h2v1h-2zM52 53h2v1h-2zM7 54h2v1h-2zM56 54h2v1h-2z"/>
<path fill="#5af700" d="M11 8h2v1h-2zM52 8h2v1h-2zM14 9h3v1h-3zM48 9h3v1h-3zM19 10h3v1h-3zM43 10h3v1h-3zM26 11h13v1h-13zM18 52h2v1h-2zM28 52h2v1h-2zM35 52h2v1h-2zM45 52h2v1h-2zM13 53h3v1h-3zM32 53h1v1h-1zM49 53h3v1h-3zM9 54h1v1h-1zM55 54h1v1h-1z"/>
<path fill="#60f800" d="M10 7h2v1h-2zM53 7h2v1h-2zM13 8h2v1h-2zM50 8h2v1h-2zM17 9h3v1h-3zM45 9h3v1h-3zM22 10h4v1h-4zM39 10h4v1h-4zM20 52h3v1h-3zM25 52h3v1h-3zM37 52h3v1h-3zM42 52h3v1h-3zM16 53h2v1h-2zM30 53h2v1h-2zM33 53h2v1h-2zM47 53h2v1h-2zM10 54h2v1h-2zM53 54h2v1h-2z"/>
<path fill="#66f900" d="M12 7h1v1h-1zM52 7h1v1h-1zM15 8h2v1h-2zM48 8h2v1h-2zM20 9h2v1h-2zM43 9h2v1h-2zM26 10h4v1h-4zM35 10h4v1h-4zM23 52h2v1h-2zM40 52h2v1h-2zM18 53h1v1h-1zM28 53h2v1h-2zM35 53h2v1h-2zM46 53h1v1h-1zM12 54h1v1h-1zM52 54h1v1h-1zM8 55h1v1h-1zM56 55h1v1h-1z"/>
<path fill="#6dfb00" d="M11 6h1v1h-1zM53 6h1v1h-1zM13 7h2v1h-2zM50 7h2v1h-2zM17 8h3v1h-3zM45 8h3v1h-3zM22 9h4v1h-4zM39 9h4v1h-4zM30 10h5v1h-5zM19 53h2v1h-2zM27 53h1v1h-1zM37 53h1v1h-1zM44 53h2v1h-2zM13 54h3v1h-3zM31 54h3v1h-3zM49 54h3v1h-3zM9 55h1v1h-1zM55 55h1v1h-1z"/>
<path fill="#73fc00" d="M12 6h2v1h-2zM51 6h2v1h-2zM15 7h2v1h-2zM48 7h2v1h-2zM20 8h3v1h-3zM42 8h3v1h-3zM26 9h3v1h-3zM36 9h3v1h-3zM21 53h6v1h-6zM38 53h6v1h-6zM16 54h2v1h-2zM29 54h2v1h-2zM34 54h2v1h-2zM47 54h2v1h-2zM10 55h2v1h-2zM53 55h2v1h-2z"/>
<path fill="#7afe00" d="M14 6h2v1h-2zM49 6h2v1h-2zM17 7h3v1h-3zM45 7h3v1h-3zM23 8h3v1h-3zM39 8h3v1h-3zM29 9h7v1h-7zM18 54h1v1h-1zM28 54h1v1h-1zM36 54h1v1h-1zM46 54h1v1h-1zM12 55h1v1h-1zM52 55h1v1h-1z"/>
<path fill="#80ff00" d="M13 5h1v1h-1zM51 5h1v1h-1zM16 6h2v1h-2zM47 6h2v1h-2zM20 7h3v1h-3zM42 7h3v1h-3zM26 8h3v1h-3zM36 8h3v1h-3zM19 54h2v1h-2zM27 54h1v1h-1zM37 54h1v1h-1zM44 54h2v1h-2zM13 55h2v1h-2zM31 55h3v1h-3zM50 55h2v1h-2zM9 56h1v1h-1zM55 56h1v1h-1z"/>
<path fill="#85ff00" d="M14 5h2v1h-2zM49 5h2v1h-2zM18 6h3v1h-3zM44 6h3v1h-3zM23 7h3v1h-3zM39 7h3v1h-3zM29 8h7v1h-7zM21 54h6v1h-6zM38 54h6v1h-6zM15 55h2v1h-2zM30 55h1v1h-1zM34 55h1v1h-1zM48 55h2v1h-2zM10 56h1v1h-1zM54 56h1v1h-1z"/>
<path fill="#8bff00" d="M14 4h1v1h-1zM50 4h1v1h-1zM16 5h3v1h-3zM46 5h3v1h-3zM21 6h3v1h-3zM41 6h3v1h-3zM26 7h3v1h-3zM36 7h3v1h-3zM17 55h2v1h-2zM29 55h1v1h-1zM35 55h1v1h-1zM46 55h2v1h-2zM11 56h2v1h-2zM52 56h2v1h-2z"/>
<path fill="#90ff00" d="M15 4h2v1h-2zM48 4h2v1h-2zM19 5h3v1h-3zM43 5h3v1h-3zM24 6h3v1h-3zM38 6h3v1h-3zM29 7h7v1h-7zM19 55h2v1h-2zM27 55h2v1h-2zM36 55h2v1h-2zM44 55h2v1h-2zM13 56h1v1h-1zM32 56h1v1h-1zM51 56h1v1h-1z"/>
<path fill="#95ff00" d="M15 3h1v1h-1zM49 3h1v1h-1zM17 4h3v1h-3zM45 4h3v1h-3zM22 5h3v1h-3zM40 5h3v1h-3zM27 6h3v1h-3zM35 6h3v1h-3zM21 55h2v1h-2zM26 55h1v1h-1zM38 55h1v1h-1zM42 55h2v1h-2zM14 56h2v1h-2zM30 56h2v1h-2zM33 56h2v1h-2zM49 56h2v1h-2zM10 57h1v1h-1zM54 57h1v1h-1z"/>
<path fill="#9bff00" d="M16 3h3v1h-3zM46 3h3v1h-3zM20 4h3v1h-3zM42 4h3v1h-3zM25 5h3v1h-3zM37 5h3v1h-3zM30 6h5v1h-5zM23 55h3v1h-3zM39 55h3v1h-3zM16 56h3v1h-3zM29 56h1v1h-1zM35 56h1v1h-1zM46 56h3v1h-3zM11 57h2v1h-2zM52 57h2v1h-2z"/>
<path fill="#a0ff00" d="M17 2h1v1h-1zM47 2h1v1h-1zM19 3h3v1h-3zM43 3h3v1h-3zM23 4h4v1h-4zM38 4h4v1h-4zM28 5h4v1h-4zM33 5h4v1h-4zM19 56h1v1h-1zM45 56h1v1h-1zM13 57h1v1h-1zM51 57h1v1h-1z"/>
<path fill="#a5ff00" d="M18 2h3v1h-3zM44 2h3v1h-3zM22 3h4v1h-4zM39 3h4v1h-4zM27 4h4v1h-4zM34 4h4v1h-4zM32 5h1v1h-1zM20 56h1v1h-1zM27 56h2v1h-2zM36 56h2v1h-2zM44 56h1v1h-1zM14 57h1v1h-1zM50 57h1v1h-1z"/>
<path fill="#abff00" d="M19 1h1v1h-1zM45 1h1v1h-1zM21 2h4v1h-4zM40 2h4v1h-4zM26 3h5v1h-5zM34 3h5v1h-5zM31 4h3v1h-3zM21 56h2v1h-2zM26 56h1v1h-1zM38 56h1v1h-1zM42 56h2v1h-2zM15 57h2v1h-2zM31 57h3v1h-3zM48 57h2v1h-2zM11 58h1v1h-1zM53 58h1v1h-1z"/>
<path fill="#b0ff00" d="M20 1h4v1h-4zM41 1h4v1h-4zM25 2h15v1h-15zM31 3h3v1h-3zM23 56h3v1h-3zM39 56h3v1h-3zM17 57h3v1h-3zM30 57h1v1h-1zM34 57h1v1h-1zM45 57h3v1h-3zM12 58h1v1h-1zM52 58h1v1h-1z"/>
<path fill="#b6fd00" d="M21 0h3v1h-3zM41 0h3v1h-3zM24 1h17v1h-17zM20 57h1v1h-1zM29 57h1v1h-1zM35 57h1v1h-1zM44 57h1v1h-1zM13 58h2v1h-2zM50 58h2v1h-2z"/>
<path fill="#bcfc00" d="M24 0h17v1h-17zM21 57h1v1h-1zM28 57h1v1h-1zM36 57h1v1h-1zM43 57h1v1h-1zM15 58h1v1h-1zM49 58h1v1h-1z"/>
<path fill="#c2fa00" d="M22 57h1v1h-1zM27 57h1v1h-1zM37 57h1v1h-1zM42 57h1v1h-1zM16 58h2v1h-2zM47 58h2v1h-2z"/>
<path fill="#c8f800" d="M23 57h4v1h-4zM38 57h4v1h-4zM18 58h2v1h-2zM31 58h3v1h-3zM45 58h2v1h-2zM13 59h1v1h-1zM51 59h1v1h-1z"/>
<path fill="#ccf600" d="M20 58h1v1h-1zM30 58h1v1h-1zM34 58h1v1h-1zM44 58h1v1h-1zM14 59h2v1h-2zM49 59h2v1h-2z"/>
<path fill="#cff400" d="M29 58h1v1h-1zM35 58h1v1h-1zM16 59h1v1h-1zM48 59h1v1h-1z"/>
<path fill="#d3f300" d="M21 58h1v1h-1zM28 58h1v1h-1zM36 58h1v1h-1zM43 58h1v1h-1zM17 59h2v1h-2zM46 59h2v1h-2z"/>
<path fill="#d6f100" d="M22 58h1v1h-1zM26 58h2v1h-2zM37 58h2v1h-2zM42 58h1v1h-1zM19 59h1v1h-1zM45 59h1v1h-1zM14 60h1v1h-1zM50 60h1v1h-1z"/>
<path fill="#d9ee00" d="M23 58h3v1h-3zM39 58h3v1h-3zM15 60h1v1h-1zM49 60h1v1h-1z"/>
<path fill="#dbe900" d="M20 59h1v1h-1zM31 59h3v1h-3zM44 59h1v1h-1zM16 60h1v1h-1zM48 60h1v1h-1z"/>
<path fill="#dee500" d="M21 59h1v1h-1zM29 59h2v1h-2zM34 59h2v1h-2zM43 59h1v1h-1zM17 60h1v1h-1zM47 60h1v1h-1z"/>
<path fill="#e0e000" d="M28 59h1v1h-1zM36 59h1v1h-1zM18 60h1v1h-1zM46 60h1v1h-1z"/>
<path fill="#e0d900" d="M22 59h1v1h-1zM26 59h2v1h-2zM37 59h2v1h-2zM42 59h1v1h-1zM19 60h1v1h-1zM45 60h1v1h-1zM15 61h1v1h-1zM49 61h1v1h-1z"/>
<path fill="#e0d200" d="M23 59h3v1h-3zM39 59h3v1h-3zM20 60h1v1h-1zM44 60h1v1h-1zM16 61h1v1h-1zM48 61h1v1h-1z"/>
<path fill="#e0cb00" d="M17 61h1v1h-1zM47 61h1v1h-1z"/>
<path fill="#e1c500" d="M21 60h1v1h-1zM30 60h5v1h-5zM43 60h1v1h-1zM18 61h1v1h-1zM46 61h1v1h-1z"/>
<path fill="#e3be00" d="M22 60h1v1h-1zM28 60h2v1h-2zM35 60h2v1h-2zM42 60h1v1h-1zM19 61h1v1h-1zM45 61h1v1h-1z"/>
<path fill="#e6b700" d="M23 60h1v1h-1zM25 60h3v1h-3zM37 60h3v1h-3zM41 60h1v1h-1z"/>
<path fill="#e8b000" d="M24 60h1v1h-1zM40 60h1v1h-1zM20 61h1v1h-1zM44 61h1v1h-1zM17 62h1v1h-1zM47 62h1v1h-1z"/>
<path fill="#eba300" d="M21 61h1v1h-1zM43 61h1v1h-1zM18 62h1v1h-1zM46 62h1v1h-1z"/>
<path fill="#ee9600" d="M19 62h1v1h-1zM45 62h1v1h-1z"/>
<path fill="#f08a00" d="M22 61h1v1h-1zM28 61h9v1h-9zM42 61h1v1h-1z"/>
<path fill="#f07d00" d="M23 61h5v1h-5zM37 61h5v1h-5zM20 62h1v1h-1zM44 62h1v1h-1z"/>
<path fill="#f07000" d="M21 62h1v1h-1zM43 62h1v1h-1z"/>
<path fill="#f06200" d="M19 63h1v1h-1zM45 63h1v1h-1z"/>
<path fill="#f05500" d="M22 62h1v1h-1zM42 62h1v1h-1z"/>
<path fill="#f04700" d="M23 62h2v1h-2zM27 62h5v1h-5zM33 62h5v1h-5zM40 62h2v1h-2zM20 63h1v1h-1zM44 63h1v1h-1z"/>
<path fill="#f03500" d="M25 62h2v1h-2zM32 62h1v1h-1zM38 62h2v1h-2zM21 63h1v1h-1zM43 63h1v1h-1z"/>
<path fill="#f01e00" d="M22 63h1v1h-1zM42 63h1v1h-1z"/>
<path fill="#f00800" d="M23 63h1v1h-1zM41 63h1v1h-1z"/>
<path fill="#ed0500" d="M24 63h1v1h-1zM40 63h1v1h-1z"/>
<path fill="#ea0200" d="M25 63h15v1h-15zM21 64h1v1h-1zM43 64h1v1h-1z"/>
<path fill="#e50000" d="M22 64h1v1h-1zM42 64h1v1h-1z"/>
<path fill="#e00000" d="M23 64h1v1h-1zM41 64h1v1h-1z"/>
<path fill="#db0000" d="M24 64h2v1h-2zM39 64h2v1h-2z"/>
<path fill="#d50000" d="M26 64h13v1h-13z"/>
</g></g></g>
<rect x="1613.70" y="638.50" width="1.3" height="427.20" fill="#b4b4aa"/>
<rect x="1615.00" y="1064.10" width="427.60" height="1.6" fill="#b4b4aa"/>
<rect x="1615.00" y="1062.50" width="427.60" height="1.6" fill="#160070"/>
<rect x="1615.00" y="638.50" width="1.2" height="425.60" fill="#1e0090"/>
<rect x="1615.00" y="638.50" width="427.60" height="1.5" fill="#1c00ac"/>
<rect x="2062" y="672.8" width="39.80" height="309.00" fill="url(#cbg)"/>
<text transform="translate(1728.91,619.00) scale(0.9791,1)" font-size="38.5" font-family="'Liberation Serif','Noto Sans CJK SC',serif" text-anchor="start" >OBJ</text>
<text transform="translate(1832.38,619.00) scale(0.9722,1)" font-size="38.5" font-family="'Liberation Serif','Noto Sans CJK SC',serif" text-anchor="start" >− 0.59°</text>
<text transform="translate(1797.40,619.30) scale(1.05,0.7)" font-size="27" font-weight="bold" font-family="'Noto Sans CJK SC',sans-serif">：</text>
<text transform="translate(1497.90,667.90) scale(1.0000,1)" font-size="36.5" font-family="'Liberation Serif','Noto Sans CJK SC',serif" text-anchor="start" >(f)</text>
<text transform="translate(1604.70,647.90) scale(0.9300,1)" font-size="28" font-family="'Liberation Serif','Noto Sans CJK SC',serif" text-anchor="end" >1.0</text>
<text transform="translate(1609.80,858.30) scale(0.9300,1)" font-size="28" font-family="'Liberation Serif','Noto Sans CJK SC',serif" text-anchor="end" >0</text>
<text transform="translate(1607.30,1067.00) scale(0.9300,1)" font-size="28" font-family="'Liberation Serif','Noto Sans CJK SC',serif" text-anchor="end" >−1.0</text>
<text transform="translate(1614.20,1096.00) scale(0.9300,1)" font-size="28" font-family="'Liberation Serif','Noto Sans CJK SC',serif" text-anchor="middle" >−1.0</text>
<text transform="translate(1829.70,1091.50) scale(0.9300,1)" font-size="28" font-family="'Liberation Serif','Noto Sans CJK SC',serif" text-anchor="middle" >0</text>
<text transform="translate(2045.10,1093.80) scale(0.9300,1)" font-size="28" font-family="'Liberation Serif','Noto Sans CJK SC',serif" text-anchor="middle" >1.0</text>
<text transform="translate(1833.20,1124.40) scale(1.0000,1)" font-size="21.5" font-family="'DejaVu Sans Mono',monospace" text-anchor="middle" fill="#1a1a1a" letter-spacing="0.9">X-Pupil (Rel. Units)</text>
<text transform="translate(1514.40,848.10) rotate(-90)" font-size="21.5" font-family="'DejaVu Sans Mono',monospace" text-anchor="middle" letter-spacing="0.9" fill="#1a1a1a">Y-Pupil (Rel. Units)</text>
<text transform="translate(2106.40,679.80) scale(1.0000,1)" font-size="21" font-family="'Liberation Serif','Noto Sans CJK SC',serif" text-anchor="start" >0.192</text>
<text transform="translate(2106.40,711.36) scale(1.0000,1)" font-size="21" font-family="'Liberation Serif','Noto Sans CJK SC',serif" text-anchor="start" >0.165</text>
<text transform="translate(2106.40,742.92) scale(1.0000,1)" font-size="21" font-family="'Liberation Serif','Noto Sans CJK SC',serif" text-anchor="start" >0.139</text>
<text transform="translate(2106.40,774.48) scale(1.0000,1)" font-size="21" font-family="'Liberation Serif','Noto Sans CJK SC',serif" text-anchor="start" >0.113</text>
<text transform="translate(2106.40,806.04) scale(1.0000,1)" font-size="21" font-family="'Liberation Serif','Noto Sans CJK SC',serif" text-anchor="start" >0.086</text>
<text transform="translate(2106.40,837.60) scale(1.0000,1)" font-size="21" font-family="'Liberation Serif','Noto Sans CJK SC',serif" text-anchor="start" >0.060</text>
<text transform="translate(2106.40,869.16) scale(1.0000,1)" font-size="21" font-family="'Liberation Serif','Noto Sans CJK SC',serif" text-anchor="start" >0.034</text>
<text transform="translate(2106.40,900.72) scale(1.0000,1)" font-size="21" font-family="'Liberation Serif','Noto Sans CJK SC',serif" text-anchor="start" >0.007</text>
<text transform="translate(2106.40,932.28) scale(1.0000,1)" font-size="21" font-family="'Liberation Serif','Noto Sans CJK SC',serif" text-anchor="start" >−0.019</text>
<text transform="translate(2106.40,963.84) scale(1.0000,1)" font-size="21" font-family="'Liberation Serif','Noto Sans CJK SC',serif" text-anchor="start" >−0.045</text>
<text transform="translate(2106.40,995.40) scale(1.0000,1)" font-size="21" font-family="'Liberation Serif','Noto Sans CJK SC',serif" text-anchor="start" >−0.072</text>
<text transform="translate(2103.90,1021.90) scale(1.0000,1)" font-size="16" font-family="'DejaVu Sans Mono',monospace" text-anchor="start" font-weight="bold" fill="#444">Waves</text>
</svg></body></html>
